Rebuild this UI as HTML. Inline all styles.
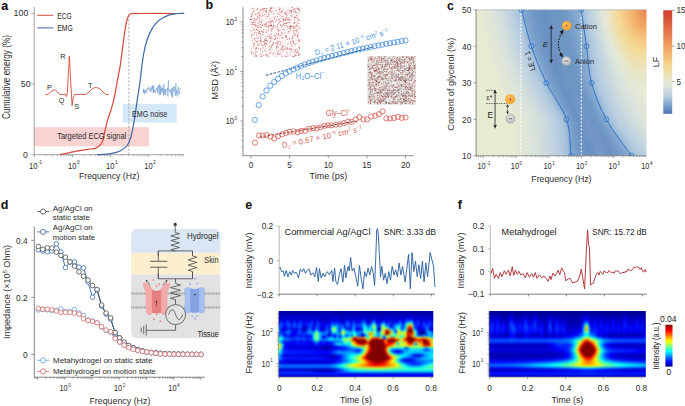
<!DOCTYPE html><html><head><meta charset="utf-8"><style>html,body{margin:0;padding:0;background:#fff;overflow:hidden}svg{display:block}text{font-family:"Liberation Sans", sans-serif}</style></head><body><svg width="685" height="406" viewBox="0 0 685 406">
<defs><clipPath id="clipc"><rect x="476.1" y="9.8" width="170.40" height="146.00"/></clipPath><filter id="blurc" x="-5%" y="-5%" width="110%" height="110%" color-interpolation-filters="sRGB"><feGaussianBlur stdDeviation="1.6"/></filter><linearGradient id="cbc" x1="0" y1="0" x2="0" y2="1"><stop offset="0.000" stop-color="#cf3b2c"/><stop offset="0.180" stop-color="#e3704a"/><stop offset="0.380" stop-color="#f2a964"/><stop offset="0.550" stop-color="#f4da96"/><stop offset="0.690" stop-color="#e6e9d4"/><stop offset="0.750" stop-color="#d9e2dd"/><stop offset="0.830" stop-color="#b6cde0"/><stop offset="0.920" stop-color="#7aa0cb"/><stop offset="1.000" stop-color="#4a72b0"/></linearGradient><radialGradient id="gor" cx="0.45" cy="0.4" r="0.6"><stop offset="0" stop-color="#ffd27a"/><stop offset="1" stop-color="#f39a1c"/></radialGradient><radialGradient id="ggr" cx="0.45" cy="0.4" r="0.6"><stop offset="0" stop-color="#ececec"/><stop offset="1" stop-color="#b4b4b4"/></radialGradient><clipPath id="insclip"><rect x="131.1" y="228.7" width="89.4" height="109.80000000000001" rx="6" ry="6"/></clipPath><clipPath id="clipwe"><rect x="278.6" y="311" width="154.70" height="66.10"/></clipPath><filter id="blurwe" x="-5%" y="-5%" width="110%" height="110%" color-interpolation-filters="sRGB"><feGaussianBlur stdDeviation="0.9"/></filter><clipPath id="clipwf"><rect x="489" y="311" width="156.80" height="66.10"/></clipPath><filter id="blurwf" x="-5%" y="-5%" width="110%" height="110%" color-interpolation-filters="sRGB"><feGaussianBlur stdDeviation="0.9"/></filter><linearGradient id="cbj" x1="0" y1="0" x2="0" y2="1"><stop offset="0.000" stop-color="#800000"/><stop offset="0.140" stop-color="#ff0000"/><stop offset="0.390" stop-color="#ffff00"/><stop offset="0.640" stop-color="#00ffff"/><stop offset="0.890" stop-color="#0000ff"/><stop offset="1.000" stop-color="#00008f"/></linearGradient></defs>
<rect width="685" height="406" fill="#fff"/>
<text x="1.20" y="10.00" font-size="12.5" text-anchor="start" fill="#000" font-weight="bold">a</text>
<rect x="34.20" y="127.20" width="114.80" height="19.10" fill="#f8d3d2"/>
<rect x="122.80" y="103.80" width="53.80" height="18.70" fill="#d5e8f7"/>
<line x1="128.90" y1="19.50" x2="128.90" y2="154.70" stroke="#a0a0a0" stroke-width="0.9" stroke-dasharray="2.2,1.6"/>
<line x1="34.20" y1="7.00" x2="34.20" y2="155.10" stroke="#8c8c8c" stroke-width="0.8"/>
<line x1="34.20" y1="154.70" x2="184.00" y2="154.70" stroke="#8c8c8c" stroke-width="0.8"/>
<line x1="31.20" y1="154.70" x2="34.20" y2="154.70" stroke="#8c8c8c" stroke-width="0.7"/>
<line x1="31.20" y1="84.15" x2="34.20" y2="84.15" stroke="#8c8c8c" stroke-width="0.7"/>
<line x1="31.20" y1="13.60" x2="34.20" y2="13.60" stroke="#8c8c8c" stroke-width="0.7"/>
<text x="28.30" y="16.37" font-size="8.8" text-anchor="end" fill="#2e2e2e">100</text>
<text x="30.60" y="87.17" font-size="8.8" text-anchor="end" fill="#2e2e2e">50</text>
<text x="28.00" y="158.07" font-size="8.8" text-anchor="end" fill="#2e2e2e">0</text>
<line x1="34.40" y1="154.70" x2="34.40" y2="157.20" stroke="#8c8c8c" stroke-width="0.7"/>
<line x1="45.87" y1="154.70" x2="45.87" y2="156.20" stroke="#8c8c8c" stroke-width="0.7"/>
<line x1="52.58" y1="154.70" x2="52.58" y2="156.20" stroke="#8c8c8c" stroke-width="0.7"/>
<line x1="57.34" y1="154.70" x2="57.34" y2="156.20" stroke="#8c8c8c" stroke-width="0.7"/>
<line x1="61.03" y1="154.70" x2="61.03" y2="156.20" stroke="#8c8c8c" stroke-width="0.7"/>
<line x1="64.05" y1="154.70" x2="64.05" y2="156.20" stroke="#8c8c8c" stroke-width="0.7"/>
<line x1="66.60" y1="154.70" x2="66.60" y2="156.20" stroke="#8c8c8c" stroke-width="0.7"/>
<line x1="68.81" y1="154.70" x2="68.81" y2="156.20" stroke="#8c8c8c" stroke-width="0.7"/>
<line x1="70.76" y1="154.70" x2="70.76" y2="156.20" stroke="#8c8c8c" stroke-width="0.7"/>
<line x1="72.50" y1="154.70" x2="72.50" y2="157.20" stroke="#8c8c8c" stroke-width="0.7"/>
<line x1="83.97" y1="154.70" x2="83.97" y2="156.20" stroke="#8c8c8c" stroke-width="0.7"/>
<line x1="90.68" y1="154.70" x2="90.68" y2="156.20" stroke="#8c8c8c" stroke-width="0.7"/>
<line x1="95.44" y1="154.70" x2="95.44" y2="156.20" stroke="#8c8c8c" stroke-width="0.7"/>
<line x1="99.13" y1="154.70" x2="99.13" y2="156.20" stroke="#8c8c8c" stroke-width="0.7"/>
<line x1="102.15" y1="154.70" x2="102.15" y2="156.20" stroke="#8c8c8c" stroke-width="0.7"/>
<line x1="104.70" y1="154.70" x2="104.70" y2="156.20" stroke="#8c8c8c" stroke-width="0.7"/>
<line x1="106.91" y1="154.70" x2="106.91" y2="156.20" stroke="#8c8c8c" stroke-width="0.7"/>
<line x1="108.86" y1="154.70" x2="108.86" y2="156.20" stroke="#8c8c8c" stroke-width="0.7"/>
<line x1="110.60" y1="154.70" x2="110.60" y2="157.20" stroke="#8c8c8c" stroke-width="0.7"/>
<line x1="122.07" y1="154.70" x2="122.07" y2="156.20" stroke="#8c8c8c" stroke-width="0.7"/>
<line x1="128.78" y1="154.70" x2="128.78" y2="156.20" stroke="#8c8c8c" stroke-width="0.7"/>
<line x1="133.54" y1="154.70" x2="133.54" y2="156.20" stroke="#8c8c8c" stroke-width="0.7"/>
<line x1="137.23" y1="154.70" x2="137.23" y2="156.20" stroke="#8c8c8c" stroke-width="0.7"/>
<line x1="140.25" y1="154.70" x2="140.25" y2="156.20" stroke="#8c8c8c" stroke-width="0.7"/>
<line x1="142.80" y1="154.70" x2="142.80" y2="156.20" stroke="#8c8c8c" stroke-width="0.7"/>
<line x1="145.01" y1="154.70" x2="145.01" y2="156.20" stroke="#8c8c8c" stroke-width="0.7"/>
<line x1="146.96" y1="154.70" x2="146.96" y2="156.20" stroke="#8c8c8c" stroke-width="0.7"/>
<line x1="148.70" y1="154.70" x2="148.70" y2="157.20" stroke="#8c8c8c" stroke-width="0.7"/>
<line x1="160.17" y1="154.70" x2="160.17" y2="156.20" stroke="#8c8c8c" stroke-width="0.7"/>
<line x1="166.88" y1="154.70" x2="166.88" y2="156.20" stroke="#8c8c8c" stroke-width="0.7"/>
<line x1="171.64" y1="154.70" x2="171.64" y2="156.20" stroke="#8c8c8c" stroke-width="0.7"/>
<line x1="175.33" y1="154.70" x2="175.33" y2="156.20" stroke="#8c8c8c" stroke-width="0.7"/>
<line x1="178.35" y1="154.70" x2="178.35" y2="156.20" stroke="#8c8c8c" stroke-width="0.7"/>
<line x1="180.90" y1="154.70" x2="180.90" y2="156.20" stroke="#8c8c8c" stroke-width="0.7"/>
<line x1="183.11" y1="154.70" x2="183.11" y2="156.20" stroke="#8c8c8c" stroke-width="0.7"/>
<text x="29.11" y="168.77" font-size="8.8" fill="#2e2e2e" textLength="8.42" lengthAdjust="spacingAndGlyphs">10</text>
<text x="38.02" y="164.37" font-size="5.46" fill="#2e2e2e" textLength="4.17" lengthAdjust="spacingAndGlyphs">-1</text>
<text x="67.99" y="168.77" font-size="8.8" fill="#2e2e2e" textLength="8.42" lengthAdjust="spacingAndGlyphs">10</text>
<text x="76.90" y="164.37" font-size="5.46" fill="#2e2e2e" textLength="2.61" lengthAdjust="spacingAndGlyphs">0</text>
<text x="106.09" y="168.77" font-size="8.8" fill="#2e2e2e" textLength="8.42" lengthAdjust="spacingAndGlyphs">10</text>
<text x="115.00" y="164.37" font-size="5.46" fill="#2e2e2e" textLength="2.61" lengthAdjust="spacingAndGlyphs">1</text>
<text x="144.19" y="168.77" font-size="8.8" fill="#2e2e2e" textLength="8.42" lengthAdjust="spacingAndGlyphs">10</text>
<text x="153.10" y="164.37" font-size="5.46" fill="#2e2e2e" textLength="2.61" lengthAdjust="spacingAndGlyphs">2</text>
<text x="109.20" y="179.21" font-size="9.2" text-anchor="middle" fill="#2e2e2e" textLength="60.50" lengthAdjust="spacingAndGlyphs">Frequency (Hz)</text>
<text x="5.90" y="80.50" font-size="10.0" text-anchor="middle" fill="#2e2e2e" textLength="84.00" lengthAdjust="spacingAndGlyphs" transform="rotate(-90 5.90 76.90)">Cumulative energy (%)</text>
<path d="M60.20,154.70 C61.83,154.35 66.77,153.28 70.00,152.60 C73.23,151.92 76.27,151.20 79.60,150.60 C82.93,150.00 87.43,149.38 90.00,149.00 C92.57,148.62 93.35,148.93 95.00,148.30 C96.65,147.67 98.58,146.50 99.90,145.20 C101.22,143.90 102.08,142.78 102.90,140.50 C103.72,138.22 103.98,135.02 104.80,131.50 C105.62,127.98 106.65,123.38 107.80,119.40 C108.95,115.42 110.55,111.55 111.70,107.60 C112.85,103.65 113.73,100.30 114.70,95.70 C115.67,91.10 116.62,84.80 117.50,80.00 C118.38,75.20 119.15,72.25 120.00,66.90 C120.85,61.55 121.73,54.22 122.60,47.90 C123.47,41.58 124.48,33.60 125.20,29.00 C125.92,24.40 126.23,22.67 126.90,20.30 C127.57,17.93 128.35,15.92 129.20,14.80 C130.05,13.68 130.20,13.82 132.00,13.60 C133.80,13.38 132.83,13.52 140.00,13.50 C147.17,13.48 169.17,13.50 175.00,13.50" fill="none" stroke="#d64b3c" stroke-width="1.25" stroke-linejoin="round" stroke-linecap="round"/>
<path d="M97.60,154.70 C99.78,154.52 106.87,154.27 110.70,153.60 C114.53,152.93 117.80,152.13 120.60,150.70 C123.40,149.27 125.70,147.60 127.50,145.00 C129.30,142.40 130.25,139.37 131.40,135.10 C132.55,130.83 133.42,125.30 134.40,119.40 C135.38,113.50 136.32,106.27 137.30,99.70 C138.28,93.13 139.62,84.95 140.30,80.00 C140.98,75.05 140.82,74.50 141.40,70.00 C141.98,65.50 142.87,57.97 143.80,53.00 C144.73,48.03 145.80,43.93 147.00,40.20 C148.20,36.47 149.40,33.53 151.00,30.60 C152.60,27.67 154.60,24.73 156.60,22.60 C158.60,20.47 160.73,19.13 163.00,17.80 C165.27,16.47 167.93,15.32 170.20,14.60 C172.47,13.88 174.33,13.72 176.60,13.50 C178.87,13.28 182.60,13.33 183.80,13.30" fill="none" stroke="#4468a6" stroke-width="1.25" stroke-linejoin="round" stroke-linecap="round"/>
<line x1="37.20" y1="15.30" x2="53.20" y2="15.30" stroke="#d64b3c" stroke-width="1.0"/>
<text x="57.20" y="18.60" font-size="8.6" text-anchor="start" fill="#2a2a2a" textLength="14.60" lengthAdjust="spacingAndGlyphs">ECG</text>
<line x1="37.20" y1="27.90" x2="53.20" y2="27.90" stroke="#4468a6" stroke-width="1.0"/>
<text x="57.20" y="31.20" font-size="8.6" text-anchor="start" fill="#2a2a2a" textLength="15.50" lengthAdjust="spacingAndGlyphs">EMG</text>
<polyline points="45.30,94.40 48.00,94.40 50.50,92.20 53.00,90.30 55.30,90.00 57.50,92.00 59.30,94.40 65.20,94.40 66.30,96.60 67.30,93.00 69.30,56.10 72.10,105.80 73.20,98.00 74.40,94.40 85.80,94.40 89.00,92.00 93.00,88.20 96.50,87.40 100.00,88.80 103.00,92.00 105.70,94.40 108.70,94.40" fill="none" stroke="#d64b3c" stroke-width="0.9" stroke-linejoin="round"/>
<text x="62.80" y="59.48" font-size="8" text-anchor="middle" fill="#2a2a2a" textLength="5.20" lengthAdjust="spacingAndGlyphs">R</text>
<text x="49.40" y="89.98" font-size="8" text-anchor="middle" fill="#2a2a2a" textLength="4.80" lengthAdjust="spacingAndGlyphs">P</text>
<text x="61.60" y="103.38" font-size="8" text-anchor="middle" fill="#2a2a2a" textLength="5.60" lengthAdjust="spacingAndGlyphs">Q</text>
<text x="76.70" y="108.88" font-size="8" text-anchor="middle" fill="#2a2a2a" textLength="4.80" lengthAdjust="spacingAndGlyphs">S</text>
<text x="90.10" y="87.88" font-size="8" text-anchor="middle" fill="#2a2a2a" textLength="4.40" lengthAdjust="spacingAndGlyphs">T</text>
<text x="57.20" y="139.47" font-size="8.8" text-anchor="start" fill="#2a2a2a" textLength="69.10" lengthAdjust="spacingAndGlyphs">Targeted ECG signal</text>
<text x="132.00" y="116.87" font-size="8.8" text-anchor="start" fill="#2a2a2a" textLength="35.30" lengthAdjust="spacingAndGlyphs">EMG noise</text>
<polyline points="143.00,90.68 143.31,92.92 143.62,88.69 143.93,92.44 144.24,89.99 144.55,89.98 144.87,94.29 145.18,90.82 145.49,90.41 145.80,91.98 146.11,92.80 146.42,90.44 146.73,91.71 147.04,88.48 147.35,89.74 147.66,89.58 147.97,87.69 148.28,87.30 148.59,87.03 148.91,89.99 149.22,90.13 149.53,89.81 149.84,90.65 150.15,87.58 150.46,90.33 150.77,91.03 151.08,92.17 151.39,88.61 151.70,89.60 152.01,85.95 152.33,89.36 152.64,85.49 152.95,87.25 153.26,93.04 153.57,85.40 153.88,92.36 154.19,91.27 154.50,89.77 154.81,91.58 155.12,91.75 155.43,92.99 155.74,89.95 156.06,89.07 156.37,89.04 156.68,88.10 156.99,90.39 157.30,88.57 157.61,93.13 157.92,85.87 158.23,87.78 158.54,88.12 158.85,85.25 159.16,95.30 159.47,84.40 159.78,89.78 160.10,89.16 160.41,94.75 160.72,85.38 161.03,93.28 161.34,88.60 161.65,90.09 161.96,88.74 162.27,92.19 162.58,87.49 162.89,90.29 163.20,91.44 163.52,95.43 163.83,84.02 164.14,94.62 164.45,93.07 164.76,89.18 165.07,91.34 165.38,89.22 165.69,95.05 166.00,91.08 166.31,89.90 166.62,89.86 166.93,89.94 167.25,90.00 167.56,88.01 167.87,96.35 168.18,85.05 168.49,80.17 168.80,90.15 169.11,90.08 169.42,91.58 169.73,89.90 170.04,90.07 170.35,91.47 170.66,93.35 170.98,89.18 171.29,89.39 171.60,96.28 171.91,92.09 172.22,87.54 172.53,97.50 172.84,92.85 173.15,88.71 173.46,86.92 173.77,91.41 174.08,87.94 174.39,87.24 174.71,86.49 175.02,87.99 175.33,95.98 175.64,88.35 175.95,83.33 176.26,93.81 176.57,90.83 176.88,94.68 177.19,96.45 177.50,89.66 177.81,90.04 178.12,90.35 178.44,86.83 178.75,92.67 179.06,94.97 179.37,91.07 179.68,89.72 179.99,89.65 180.30,87.92" fill="none" stroke="#6a9bd3" stroke-width="0.55" stroke-linejoin="round"/>
<text x="205.60" y="9.20" font-size="12.5" text-anchor="start" fill="#111" font-weight="bold">b</text>
<rect x="250.00" y="7.00" width="50.20" height="50.20" fill="#fdf8f8"/>
<path fill="#e4a09e" d="M277.6 52.6h0.9v0.9h-0.9zM275.0 36.0h0.9v0.9h-0.9zM254.6 22.0h0.9v0.9h-0.9zM280.3 14.8h0.9v0.9h-0.9zM271.7 48.5h0.9v0.9h-0.9zM281.6 31.6h0.9v0.9h-0.9zM272.5 20.7h0.9v0.9h-0.9zM265.5 18.3h0.9v0.9h-0.9zM291.7 26.1h0.9v0.9h-0.9zM288.4 20.3h0.9v0.9h-0.9zM255.8 19.1h0.9v0.9h-0.9zM255.7 27.7h0.9v0.9h-0.9zM265.0 50.6h0.9v0.9h-0.9zM254.9 55.8h0.9v0.9h-0.9zM268.3 29.3h0.9v0.9h-0.9zM270.8 12.1h0.9v0.9h-0.9zM262.7 47.6h0.9v0.9h-0.9zM264.5 15.6h0.9v0.9h-0.9zM253.4 18.3h0.9v0.9h-0.9zM292.0 37.3h0.9v0.9h-0.9zM256.5 24.9h0.9v0.9h-0.9zM278.8 13.9h0.9v0.9h-0.9zM297.5 8.0h0.9v0.9h-0.9zM273.8 43.0h0.9v0.9h-0.9zM286.3 51.4h0.9v0.9h-0.9zM284.7 46.1h0.9v0.9h-0.9zM292.6 35.2h0.9v0.9h-0.9zM268.8 35.7h0.9v0.9h-0.9zM254.0 38.5h0.9v0.9h-0.9zM286.2 35.6h0.9v0.9h-0.9zM291.3 11.1h0.9v0.9h-0.9zM251.5 36.6h0.9v0.9h-0.9zM261.3 41.4h0.9v0.9h-0.9zM280.3 52.4h0.9v0.9h-0.9zM260.0 15.4h0.9v0.9h-0.9zM265.6 13.7h0.9v0.9h-0.9zM291.3 48.8h0.9v0.9h-0.9zM296.8 20.6h0.9v0.9h-0.9zM265.5 48.4h0.9v0.9h-0.9zM278.1 22.2h0.9v0.9h-0.9zM250.9 13.7h0.9v0.9h-0.9zM251.2 47.9h0.9v0.9h-0.9zM272.0 38.1h0.9v0.9h-0.9zM289.8 54.3h0.9v0.9h-0.9zM259.8 30.4h0.9v0.9h-0.9zM258.8 20.4h0.9v0.9h-0.9zM287.3 26.4h0.9v0.9h-0.9zM294.7 11.3h0.9v0.9h-0.9zM280.8 51.9h0.9v0.9h-0.9zM296.6 29.9h0.9v0.9h-0.9zM260.1 42.6h0.9v0.9h-0.9zM281.6 42.4h0.9v0.9h-0.9zM287.9 31.0h0.9v0.9h-0.9zM258.5 23.5h0.9v0.9h-0.9zM256.9 14.3h0.9v0.9h-0.9zM285.7 48.4h0.9v0.9h-0.9zM296.6 31.3h0.9v0.9h-0.9zM264.3 42.9h0.9v0.9h-0.9zM275.8 48.6h0.9v0.9h-0.9zM265.4 25.8h0.9v0.9h-0.9zM294.4 17.3h0.9v0.9h-0.9zM297.7 32.8h0.9v0.9h-0.9zM259.9 33.4h0.9v0.9h-0.9zM279.8 8.4h0.9v0.9h-0.9zM277.7 31.2h0.9v0.9h-0.9zM253.2 33.6h0.9v0.9h-0.9zM297.2 52.5h0.9v0.9h-0.9zM290.2 51.4h0.9v0.9h-0.9zM265.6 16.4h0.9v0.9h-0.9zM295.6 13.4h0.9v0.9h-0.9zM251.1 16.6h0.9v0.9h-0.9zM256.1 32.2h0.9v0.9h-0.9zM268.5 27.4h0.9v0.9h-0.9zM257.9 17.1h0.9v0.9h-0.9zM281.5 33.1h0.9v0.9h-0.9zM280.2 49.2h0.9v0.9h-0.9zM262.8 11.8h0.9v0.9h-0.9zM270.8 45.9h0.9v0.9h-0.9zM287.4 31.8h0.9v0.9h-0.9zM259.3 10.5h0.9v0.9h-0.9zM278.0 14.2h0.9v0.9h-0.9zM266.1 30.0h0.9v0.9h-0.9zM271.2 36.6h0.9v0.9h-0.9zM259.6 15.1h0.9v0.9h-0.9zM250.8 51.0h0.9v0.9h-0.9zM284.7 49.4h0.9v0.9h-0.9zM269.9 36.6h0.9v0.9h-0.9zM298.4 46.7h0.9v0.9h-0.9zM290.2 27.0h0.9v0.9h-0.9zM287.7 27.0h0.9v0.9h-0.9zM253.5 23.8h0.9v0.9h-0.9zM250.5 24.5h0.9v0.9h-0.9zM280.8 18.4h0.9v0.9h-0.9zM278.1 33.3h0.9v0.9h-0.9zM299.3 38.7h0.9v0.9h-0.9zM287.6 55.3h0.9v0.9h-0.9zM297.7 35.0h0.9v0.9h-0.9zM258.3 31.4h0.9v0.9h-0.9zM252.9 53.6h0.9v0.9h-0.9zM276.0 36.5h0.9v0.9h-0.9zM264.0 42.3h0.9v0.9h-0.9zM294.2 43.9h0.9v0.9h-0.9zM298.0 19.0h0.9v0.9h-0.9zM296.2 42.6h0.9v0.9h-0.9zM298.3 47.3h0.9v0.9h-0.9zM255.7 37.8h0.9v0.9h-0.9zM260.0 9.6h0.9v0.9h-0.9zM256.1 28.8h0.9v0.9h-0.9zM272.5 19.9h0.9v0.9h-0.9zM270.7 45.4h0.9v0.9h-0.9zM299.2 54.0h0.9v0.9h-0.9zM261.8 12.6h0.9v0.9h-0.9zM279.2 38.2h0.9v0.9h-0.9zM259.4 19.3h0.9v0.9h-0.9zM280.7 12.1h0.9v0.9h-0.9zM253.6 11.3h0.9v0.9h-0.9zM277.1 38.1h0.9v0.9h-0.9zM287.9 17.5h0.9v0.9h-0.9zM262.7 46.9h0.9v0.9h-0.9zM264.7 45.2h0.9v0.9h-0.9zM263.9 14.0h0.9v0.9h-0.9zM289.6 22.0h0.9v0.9h-0.9zM259.6 34.8h0.9v0.9h-0.9zM276.6 48.2h0.9v0.9h-0.9zM258.7 44.4h0.9v0.9h-0.9zM276.8 35.0h0.9v0.9h-0.9zM287.7 26.4h0.9v0.9h-0.9zM276.5 42.5h0.9v0.9h-0.9zM295.1 27.2h0.9v0.9h-0.9zM282.9 49.1h0.9v0.9h-0.9zM291.1 50.8h0.9v0.9h-0.9zM289.6 27.8h0.9v0.9h-0.9zM257.2 43.5h0.9v0.9h-0.9zM294.8 8.8h0.9v0.9h-0.9zM290.3 30.6h0.9v0.9h-0.9zM260.9 9.5h0.9v0.9h-0.9zM275.4 20.5h0.9v0.9h-0.9zM285.2 36.9h0.9v0.9h-0.9zM299.0 20.1h0.9v0.9h-0.9zM257.4 45.0h0.9v0.9h-0.9zM254.1 20.3h0.9v0.9h-0.9zM254.8 30.7h0.9v0.9h-0.9zM297.1 35.9h0.9v0.9h-0.9zM265.0 45.9h0.9v0.9h-0.9zM295.2 11.5h0.9v0.9h-0.9zM260.3 33.8h0.9v0.9h-0.9zM257.8 48.0h0.9v0.9h-0.9zM272.8 54.7h0.9v0.9h-0.9zM282.2 7.6h0.9v0.9h-0.9zM272.6 7.5h0.9v0.9h-0.9zM264.3 25.5h0.9v0.9h-0.9zM264.7 23.6h0.9v0.9h-0.9zM282.9 19.6h0.9v0.9h-0.9zM258.9 26.8h0.9v0.9h-0.9zM279.2 11.4h0.9v0.9h-0.9zM253.6 52.4h0.9v0.9h-0.9zM275.2 38.9h0.9v0.9h-0.9zM290.5 26.0h0.9v0.9h-0.9zM284.5 55.4h0.9v0.9h-0.9zM282.5 37.0h0.9v0.9h-0.9zM255.2 25.6h0.9v0.9h-0.9zM288.9 47.7h0.9v0.9h-0.9zM257.8 44.8h0.9v0.9h-0.9zM257.0 42.2h0.9v0.9h-0.9zM259.7 53.6h0.9v0.9h-0.9zM259.8 11.1h0.9v0.9h-0.9zM256.1 55.0h0.9v0.9h-0.9zM277.6 20.0h0.9v0.9h-0.9zM256.0 47.7h0.9v0.9h-0.9zM291.0 16.1h0.9v0.9h-0.9zM253.8 8.6h0.9v0.9h-0.9zM265.2 40.1h0.9v0.9h-0.9zM268.8 36.2h0.9v0.9h-0.9zM250.8 16.8h0.9v0.9h-0.9zM257.0 26.0h0.9v0.9h-0.9zM258.6 32.6h0.9v0.9h-0.9zM251.9 40.1h0.9v0.9h-0.9zM270.3 37.8h0.9v0.9h-0.9zM287.4 44.1h0.9v0.9h-0.9zM299.0 48.3h0.9v0.9h-0.9zM270.2 28.4h0.9v0.9h-0.9zM294.6 32.9h0.9v0.9h-0.9zM271.3 51.6h0.9v0.9h-0.9zM265.0 36.3h0.9v0.9h-0.9zM269.6 9.6h0.9v0.9h-0.9zM275.9 18.8h0.9v0.9h-0.9zM292.7 27.8h0.9v0.9h-0.9zM260.9 43.8h0.9v0.9h-0.9zM294.5 11.9h0.9v0.9h-0.9zM256.1 33.5h0.9v0.9h-0.9zM296.0 55.2h0.9v0.9h-0.9zM260.2 21.6h0.9v0.9h-0.9zM267.5 30.3h0.9v0.9h-0.9zM265.4 51.4h0.9v0.9h-0.9zM296.2 28.9h0.9v0.9h-0.9zM259.7 15.9h0.9v0.9h-0.9zM261.3 21.8h0.9v0.9h-0.9zM254.4 55.5h0.9v0.9h-0.9zM276.0 33.2h0.9v0.9h-0.9zM287.0 26.0h0.9v0.9h-0.9zM281.8 24.7h0.9v0.9h-0.9zM288.6 32.5h0.9v0.9h-0.9zM291.7 40.7h0.9v0.9h-0.9zM296.9 15.6h0.9v0.9h-0.9zM258.1 37.0h0.9v0.9h-0.9zM289.0 18.6h0.9v0.9h-0.9zM260.9 35.6h0.9v0.9h-0.9zM251.7 36.4h0.9v0.9h-0.9zM278.2 50.0h0.9v0.9h-0.9zM271.4 28.8h0.9v0.9h-0.9zM261.7 14.2h0.9v0.9h-0.9zM275.9 20.1h0.9v0.9h-0.9zM254.4 47.5h0.9v0.9h-0.9zM291.0 45.8h0.9v0.9h-0.9zM287.5 55.6h0.9v0.9h-0.9zM253.8 8.7h0.9v0.9h-0.9zM252.0 26.9h0.9v0.9h-0.9zM252.9 23.9h0.9v0.9h-0.9zM292.6 36.1h0.9v0.9h-0.9zM268.8 45.5h0.9v0.9h-0.9zM258.1 17.0h0.9v0.9h-0.9zM299.0 40.5h0.9v0.9h-0.9zM260.1 25.9h0.9v0.9h-0.9zM263.2 24.8h0.9v0.9h-0.9zM285.7 51.7h0.9v0.9h-0.9zM275.6 9.7h0.9v0.9h-0.9zM261.7 9.0h0.9v0.9h-0.9zM282.8 14.3h0.9v0.9h-0.9zM269.1 49.7h0.9v0.9h-0.9zM277.9 46.9h0.9v0.9h-0.9zM297.1 49.8h0.9v0.9h-0.9zM269.3 10.0h0.9v0.9h-0.9zM258.2 39.8h0.9v0.9h-0.9zM257.4 35.7h0.9v0.9h-0.9zM277.3 41.5h0.9v0.9h-0.9zM278.9 30.1h0.9v0.9h-0.9zM280.3 54.1h0.9v0.9h-0.9zM280.9 37.6h0.9v0.9h-0.9zM270.5 20.6h0.9v0.9h-0.9zM293.4 25.8h0.9v0.9h-0.9zM265.2 24.8h0.9v0.9h-0.9zM280.8 34.6h0.9v0.9h-0.9zM297.8 23.4h0.9v0.9h-0.9zM284.3 40.8h0.9v0.9h-0.9zM274.2 34.8h0.9v0.9h-0.9zM261.7 19.3h0.9v0.9h-0.9zM288.1 30.7h0.9v0.9h-0.9zM269.3 42.3h0.9v0.9h-0.9zM278.0 27.7h0.9v0.9h-0.9zM280.7 48.0h0.9v0.9h-0.9zM256.2 25.6h0.9v0.9h-0.9zM261.4 16.1h0.9v0.9h-0.9zM281.1 26.6h0.9v0.9h-0.9zM255.8 9.1h0.9v0.9h-0.9zM273.8 25.4h0.9v0.9h-0.9zM298.4 26.2h0.9v0.9h-0.9zM276.9 46.4h0.9v0.9h-0.9zM257.1 37.8h0.9v0.9h-0.9zM270.4 46.8h0.9v0.9h-0.9zM252.8 34.1h0.9v0.9h-0.9zM280.7 20.7h0.9v0.9h-0.9zM291.1 42.7h0.9v0.9h-0.9zM265.3 32.4h0.9v0.9h-0.9zM286.3 26.7h0.9v0.9h-0.9zM290.8 44.8h0.9v0.9h-0.9zM284.8 19.3h0.9v0.9h-0.9zM290.0 25.0h0.9v0.9h-0.9zM267.5 20.8h0.9v0.9h-0.9zM276.9 40.5h0.9v0.9h-0.9zM269.9 22.8h0.9v0.9h-0.9zM296.9 17.1h0.9v0.9h-0.9zM258.8 20.5h0.9v0.9h-0.9zM296.7 22.9h0.9v0.9h-0.9zM260.5 37.4h0.9v0.9h-0.9zM278.0 12.6h0.9v0.9h-0.9zM284.0 29.3h0.9v0.9h-0.9zM270.7 26.0h0.9v0.9h-0.9zM251.6 37.9h0.9v0.9h-0.9zM279.3 36.3h0.9v0.9h-0.9zM298.8 26.8h0.9v0.9h-0.9zM261.5 48.4h0.9v0.9h-0.9zM296.2 47.9h0.9v0.9h-0.9zM275.2 56.0h0.9v0.9h-0.9zM292.7 16.7h0.9v0.9h-0.9zM288.8 31.2h0.9v0.9h-0.9zM277.1 51.7h0.9v0.9h-0.9zM257.5 25.0h0.9v0.9h-0.9zM291.1 12.8h0.9v0.9h-0.9zM294.5 10.5h0.9v0.9h-0.9zM271.2 7.8h0.9v0.9h-0.9zM256.4 12.7h0.9v0.9h-0.9zM267.8 22.3h0.9v0.9h-0.9zM257.2 38.1h0.9v0.9h-0.9zM290.4 27.2h0.9v0.9h-0.9zM275.0 53.4h0.9v0.9h-0.9zM264.0 50.0h0.9v0.9h-0.9zM296.0 26.1h0.9v0.9h-0.9zM279.6 29.1h0.9v0.9h-0.9zM297.1 21.4h0.9v0.9h-0.9zM283.1 19.1h0.9v0.9h-0.9zM256.5 51.1h0.9v0.9h-0.9zM291.9 36.1h0.9v0.9h-0.9zM254.9 51.2h0.9v0.9h-0.9zM283.0 24.0h0.9v0.9h-0.9zM273.1 24.8h0.9v0.9h-0.9zM265.6 40.1h0.9v0.9h-0.9zM297.8 55.1h0.9v0.9h-0.9zM284.6 56.2h0.9v0.9h-0.9zM260.8 55.8h0.9v0.9h-0.9zM286.6 11.1h0.9v0.9h-0.9zM262.5 47.0h0.9v0.9h-0.9zM288.3 12.9h0.9v0.9h-0.9zM250.8 49.4h0.9v0.9h-0.9zM256.1 35.0h0.9v0.9h-0.9zM252.7 17.7h0.9v0.9h-0.9zM277.5 29.6h0.9v0.9h-0.9zM255.1 48.9h0.9v0.9h-0.9zM280.2 49.6h0.9v0.9h-0.9zM257.7 33.2h0.9v0.9h-0.9zM294.6 26.4h0.9v0.9h-0.9zM277.0 26.7h0.9v0.9h-0.9zM274.0 7.4h0.9v0.9h-0.9zM297.6 7.3h0.9v0.9h-0.9zM297.4 25.0h0.9v0.9h-0.9zM268.2 21.8h0.9v0.9h-0.9zM279.1 22.5h0.9v0.9h-0.9zM275.4 44.2h0.9v0.9h-0.9zM269.8 21.1h0.9v0.9h-0.9zM254.2 55.5h0.9v0.9h-0.9zM266.2 22.6h0.9v0.9h-0.9zM288.9 38.7h0.9v0.9h-0.9zM277.2 52.7h0.9v0.9h-0.9zM251.1 53.1h0.9v0.9h-0.9zM278.6 7.3h0.9v0.9h-0.9zM270.6 40.5h0.9v0.9h-0.9zM271.7 44.1h0.9v0.9h-0.9zM277.0 12.6h0.9v0.9h-0.9zM295.5 17.4h0.9v0.9h-0.9zM276.4 48.4h0.9v0.9h-0.9zM295.8 31.3h0.9v0.9h-0.9zM269.1 45.4h0.9v0.9h-0.9zM260.0 24.1h0.9v0.9h-0.9zM269.2 35.3h0.9v0.9h-0.9zM267.7 35.8h0.9v0.9h-0.9zM298.3 23.2h0.9v0.9h-0.9zM261.5 19.9h0.9v0.9h-0.9zM278.3 19.7h0.9v0.9h-0.9zM271.3 37.4h0.9v0.9h-0.9zM298.1 51.8h0.9v0.9h-0.9zM274.0 18.4h0.9v0.9h-0.9z"/>
<path fill="#cc5e5c" d="M275.2 38.1h0.9v0.9h-0.9zM289.9 41.2h0.9v0.9h-0.9zM298.4 54.6h0.9v0.9h-0.9zM276.0 9.9h0.9v0.9h-0.9zM261.9 8.5h0.9v0.9h-0.9zM253.5 44.8h0.9v0.9h-0.9zM294.9 30.2h0.9v0.9h-0.9zM266.4 54.5h0.9v0.9h-0.9zM253.0 46.3h0.9v0.9h-0.9zM277.6 29.1h0.9v0.9h-0.9zM286.1 13.5h0.9v0.9h-0.9zM263.3 54.9h0.9v0.9h-0.9zM269.4 49.1h0.9v0.9h-0.9zM262.7 45.1h0.9v0.9h-0.9zM264.6 10.6h0.9v0.9h-0.9zM278.7 19.0h0.9v0.9h-0.9zM286.5 53.4h0.9v0.9h-0.9zM296.8 50.5h0.9v0.9h-0.9zM297.5 18.8h0.9v0.9h-0.9zM295.2 17.1h0.9v0.9h-0.9zM263.3 29.0h0.9v0.9h-0.9zM258.7 25.2h0.9v0.9h-0.9zM250.9 51.9h0.9v0.9h-0.9zM299.3 10.7h0.9v0.9h-0.9zM250.6 21.8h0.9v0.9h-0.9zM271.2 46.7h0.9v0.9h-0.9zM272.2 20.6h0.9v0.9h-0.9zM270.4 37.8h0.9v0.9h-0.9zM293.0 9.0h0.9v0.9h-0.9zM256.9 9.3h0.9v0.9h-0.9zM250.5 30.3h0.9v0.9h-0.9zM284.4 32.7h0.9v0.9h-0.9zM278.0 50.4h0.9v0.9h-0.9zM294.4 55.3h0.9v0.9h-0.9zM294.9 49.2h0.9v0.9h-0.9zM254.1 28.7h0.9v0.9h-0.9zM289.9 10.2h0.9v0.9h-0.9zM273.3 13.3h0.9v0.9h-0.9zM283.9 22.9h0.9v0.9h-0.9zM280.6 12.2h0.9v0.9h-0.9zM259.7 33.1h0.9v0.9h-0.9zM286.5 47.0h0.9v0.9h-0.9zM269.9 40.8h0.9v0.9h-0.9zM259.9 40.6h0.9v0.9h-0.9zM251.8 34.2h0.9v0.9h-0.9zM260.1 48.4h0.9v0.9h-0.9zM296.9 29.8h0.9v0.9h-0.9zM284.6 48.6h0.9v0.9h-0.9zM272.4 43.4h0.9v0.9h-0.9zM294.9 43.7h0.9v0.9h-0.9zM280.3 43.4h0.9v0.9h-0.9zM269.8 9.5h0.9v0.9h-0.9zM268.5 11.9h0.9v0.9h-0.9zM294.6 34.1h0.9v0.9h-0.9zM279.5 44.4h0.9v0.9h-0.9zM295.9 14.9h0.9v0.9h-0.9zM264.1 39.3h0.9v0.9h-0.9zM250.7 19.1h0.9v0.9h-0.9zM257.7 44.2h0.9v0.9h-0.9zM298.7 53.6h0.9v0.9h-0.9zM294.6 28.2h0.9v0.9h-0.9zM263.4 40.8h0.9v0.9h-0.9zM253.0 20.4h0.9v0.9h-0.9zM273.6 17.4h0.9v0.9h-0.9zM286.7 48.3h0.9v0.9h-0.9zM255.9 46.9h0.9v0.9h-0.9zM282.2 55.8h0.9v0.9h-0.9zM277.0 43.8h0.9v0.9h-0.9zM293.1 10.9h0.9v0.9h-0.9zM277.8 30.9h0.9v0.9h-0.9zM260.5 39.6h0.9v0.9h-0.9zM265.0 42.7h0.9v0.9h-0.9zM285.8 25.1h0.9v0.9h-0.9zM285.0 35.1h0.9v0.9h-0.9zM269.7 53.1h0.9v0.9h-0.9zM267.9 26.5h0.9v0.9h-0.9zM277.0 45.9h0.9v0.9h-0.9zM254.0 43.3h0.9v0.9h-0.9zM286.8 39.0h0.9v0.9h-0.9zM260.9 44.7h0.9v0.9h-0.9zM297.7 40.1h0.9v0.9h-0.9zM270.9 21.4h0.9v0.9h-0.9zM281.9 45.3h0.9v0.9h-0.9zM253.1 29.6h0.9v0.9h-0.9zM259.1 17.7h0.9v0.9h-0.9zM285.4 36.3h0.9v0.9h-0.9zM259.1 20.9h0.9v0.9h-0.9zM287.3 22.4h0.9v0.9h-0.9zM293.7 52.1h0.9v0.9h-0.9zM277.0 54.2h0.9v0.9h-0.9zM273.3 25.3h0.9v0.9h-0.9zM257.7 22.9h0.9v0.9h-0.9zM292.9 32.4h0.9v0.9h-0.9zM290.5 48.7h0.9v0.9h-0.9zM265.3 10.7h0.9v0.9h-0.9zM273.0 42.3h0.9v0.9h-0.9zM283.9 12.2h0.9v0.9h-0.9zM285.0 18.7h0.9v0.9h-0.9zM286.1 23.2h0.9v0.9h-0.9zM290.8 11.5h0.9v0.9h-0.9zM254.7 40.4h0.9v0.9h-0.9zM257.7 13.1h0.9v0.9h-0.9zM270.3 7.8h0.9v0.9h-0.9zM266.3 23.9h0.9v0.9h-0.9zM278.4 41.4h0.9v0.9h-0.9zM295.8 24.8h0.9v0.9h-0.9zM294.6 33.8h0.9v0.9h-0.9zM294.2 18.9h0.9v0.9h-0.9zM298.7 53.3h0.9v0.9h-0.9zM278.0 23.4h0.9v0.9h-0.9zM297.3 36.6h0.9v0.9h-0.9zM252.7 42.8h0.9v0.9h-0.9zM256.1 29.0h0.9v0.9h-0.9zM269.5 18.6h0.9v0.9h-0.9zM294.9 54.6h0.9v0.9h-0.9zM266.0 10.1h0.9v0.9h-0.9zM278.9 9.3h0.9v0.9h-0.9zM294.3 22.2h0.9v0.9h-0.9zM293.4 56.1h0.9v0.9h-0.9zM281.2 16.4h0.9v0.9h-0.9zM261.0 22.1h0.9v0.9h-0.9zM282.8 46.0h0.9v0.9h-0.9zM282.6 50.6h0.9v0.9h-0.9zM279.6 21.0h0.9v0.9h-0.9zM289.6 11.3h0.9v0.9h-0.9zM287.3 19.1h0.9v0.9h-0.9zM277.0 16.2h0.9v0.9h-0.9zM271.7 45.1h0.9v0.9h-0.9zM257.5 7.9h0.9v0.9h-0.9zM289.4 10.6h0.9v0.9h-0.9zM252.1 22.5h0.9v0.9h-0.9zM262.6 14.9h0.9v0.9h-0.9zM270.2 25.0h0.9v0.9h-0.9zM297.8 9.1h0.9v0.9h-0.9zM272.4 43.7h0.9v0.9h-0.9zM261.9 50.9h0.9v0.9h-0.9zM269.4 21.7h0.9v0.9h-0.9zM262.5 34.2h0.9v0.9h-0.9zM272.8 53.0h0.9v0.9h-0.9zM266.6 55.4h0.9v0.9h-0.9zM267.1 16.1h0.9v0.9h-0.9zM273.1 22.2h0.9v0.9h-0.9zM284.1 24.9h0.9v0.9h-0.9zM250.9 16.0h0.9v0.9h-0.9zM269.4 52.5h0.9v0.9h-0.9zM296.2 24.7h0.9v0.9h-0.9zM265.9 26.0h0.9v0.9h-0.9zM293.5 23.0h0.9v0.9h-0.9zM279.4 8.6h0.9v0.9h-0.9zM270.9 33.8h0.9v0.9h-0.9zM284.8 19.8h0.9v0.9h-0.9zM263.8 42.1h0.9v0.9h-0.9zM264.4 24.0h0.9v0.9h-0.9zM252.0 8.2h0.9v0.9h-0.9zM281.2 11.4h0.9v0.9h-0.9zM266.2 31.5h0.9v0.9h-0.9zM257.8 26.8h0.9v0.9h-0.9zM254.6 23.9h0.9v0.9h-0.9zM269.3 25.0h0.9v0.9h-0.9zM269.9 9.7h0.9v0.9h-0.9zM262.5 8.2h0.9v0.9h-0.9zM294.0 34.9h0.9v0.9h-0.9zM282.9 16.2h0.9v0.9h-0.9zM278.4 53.5h0.9v0.9h-0.9zM283.5 18.6h0.9v0.9h-0.9zM276.8 26.4h0.9v0.9h-0.9zM274.3 39.1h0.9v0.9h-0.9zM293.7 22.4h0.9v0.9h-0.9zM264.1 43.9h0.9v0.9h-0.9zM258.8 32.3h0.9v0.9h-0.9zM253.1 10.4h0.9v0.9h-0.9zM284.7 12.6h0.9v0.9h-0.9zM292.7 49.9h0.9v0.9h-0.9zM262.5 32.0h0.9v0.9h-0.9zM285.3 23.1h0.9v0.9h-0.9zM287.4 48.5h0.9v0.9h-0.9zM278.9 53.4h0.9v0.9h-0.9zM286.1 56.0h0.9v0.9h-0.9zM266.3 8.3h0.9v0.9h-0.9zM289.5 48.3h0.9v0.9h-0.9zM269.3 37.5h0.9v0.9h-0.9zM258.6 12.3h0.9v0.9h-0.9zM266.0 7.9h0.9v0.9h-0.9zM261.2 30.8h0.9v0.9h-0.9zM262.8 9.5h0.9v0.9h-0.9zM294.0 22.3h0.9v0.9h-0.9zM259.0 30.8h0.9v0.9h-0.9zM251.3 15.3h0.9v0.9h-0.9zM253.7 24.7h0.9v0.9h-0.9zM260.4 54.3h0.9v0.9h-0.9zM276.0 46.9h0.9v0.9h-0.9zM269.1 25.2h0.9v0.9h-0.9zM286.6 17.4h0.9v0.9h-0.9zM255.2 14.0h0.9v0.9h-0.9zM271.2 7.5h0.9v0.9h-0.9zM298.7 28.2h0.9v0.9h-0.9zM267.6 55.8h0.9v0.9h-0.9zM281.3 25.6h0.9v0.9h-0.9zM279.6 35.2h0.9v0.9h-0.9zM292.9 42.1h0.9v0.9h-0.9zM289.8 29.4h0.9v0.9h-0.9zM281.7 10.6h0.9v0.9h-0.9zM289.4 49.2h0.9v0.9h-0.9zM251.8 24.0h0.9v0.9h-0.9zM269.2 48.9h0.9v0.9h-0.9zM265.5 38.0h0.9v0.9h-0.9zM279.7 41.3h0.9v0.9h-0.9zM256.3 41.2h0.9v0.9h-0.9zM299.0 41.1h0.9v0.9h-0.9zM284.7 18.6h0.9v0.9h-0.9zM292.1 40.4h0.9v0.9h-0.9zM270.7 20.9h0.9v0.9h-0.9zM270.7 23.8h0.9v0.9h-0.9zM267.9 25.5h0.9v0.9h-0.9zM272.8 26.8h0.9v0.9h-0.9zM268.2 14.0h0.9v0.9h-0.9zM282.0 37.7h0.9v0.9h-0.9zM276.4 33.3h0.9v0.9h-0.9zM288.9 21.9h0.9v0.9h-0.9zM254.4 32.3h0.9v0.9h-0.9zM288.3 19.2h0.9v0.9h-0.9zM297.8 32.9h0.9v0.9h-0.9zM290.3 43.2h0.9v0.9h-0.9zM255.4 21.8h0.9v0.9h-0.9zM270.5 10.9h0.9v0.9h-0.9zM255.5 52.3h0.9v0.9h-0.9zM274.1 39.2h0.9v0.9h-0.9zM286.4 19.7h0.9v0.9h-0.9zM271.2 30.5h0.9v0.9h-0.9zM271.2 29.2h0.9v0.9h-0.9zM291.2 10.0h0.9v0.9h-0.9zM254.9 25.3h0.9v0.9h-0.9zM273.9 18.4h0.9v0.9h-0.9zM254.6 19.4h0.9v0.9h-0.9zM289.2 28.0h0.9v0.9h-0.9zM287.6 9.4h0.9v0.9h-0.9zM272.1 28.5h0.9v0.9h-0.9zM265.8 43.2h0.9v0.9h-0.9zM255.7 48.1h0.9v0.9h-0.9zM265.3 54.0h0.9v0.9h-0.9zM293.1 30.3h0.9v0.9h-0.9zM271.3 25.6h0.9v0.9h-0.9zM286.6 15.2h0.9v0.9h-0.9zM267.2 36.2h0.9v0.9h-0.9zM290.7 25.6h0.9v0.9h-0.9z"/>
<path fill="#80c080" d="M299.1 48.4h0.9v0.9h-0.9zM293.4 42.9h0.9v0.9h-0.9zM281.5 46.9h0.9v0.9h-0.9zM268.5 15.3h0.9v0.9h-0.9zM289.4 17.2h0.9v0.9h-0.9zM287.6 43.2h0.9v0.9h-0.9zM260.0 49.8h0.9v0.9h-0.9zM286.4 22.4h0.9v0.9h-0.9zM269.5 47.9h0.9v0.9h-0.9z"/>
<path fill="#b04846" d="M291.8 7.0h0.9v0.9h-0.9zM269.6 10.6h0.9v0.9h-0.9zM273.8 35.3h0.9v0.9h-0.9zM259.0 14.6h0.9v0.9h-0.9zM290.3 19.3h0.9v0.9h-0.9zM298.3 39.4h0.9v0.9h-0.9zM267.3 40.8h0.9v0.9h-0.9zM292.9 27.6h0.9v0.9h-0.9zM282.5 28.8h0.9v0.9h-0.9zM266.1 39.8h0.9v0.9h-0.9zM293.4 26.0h0.9v0.9h-0.9zM285.6 13.4h0.9v0.9h-0.9zM276.5 46.0h0.9v0.9h-0.9zM254.2 17.9h0.9v0.9h-0.9zM275.4 26.7h0.9v0.9h-0.9zM265.6 22.5h0.9v0.9h-0.9zM260.8 56.2h0.9v0.9h-0.9zM256.6 18.8h0.9v0.9h-0.9zM297.7 12.7h0.9v0.9h-0.9zM293.4 41.3h0.9v0.9h-0.9zM282.8 23.7h0.9v0.9h-0.9zM288.7 37.8h0.9v0.9h-0.9zM295.1 50.3h0.9v0.9h-0.9zM271.1 25.2h0.9v0.9h-0.9zM296.3 52.0h0.9v0.9h-0.9zM262.2 24.8h0.9v0.9h-0.9zM263.9 8.1h0.9v0.9h-0.9zM282.1 46.7h0.9v0.9h-0.9zM254.2 38.3h0.9v0.9h-0.9zM281.6 32.8h0.9v0.9h-0.9zM252.9 22.2h0.9v0.9h-0.9zM289.5 26.0h0.9v0.9h-0.9zM277.7 42.7h0.9v0.9h-0.9zM277.0 24.4h0.9v0.9h-0.9zM298.9 47.3h0.9v0.9h-0.9zM286.1 36.5h0.9v0.9h-0.9zM250.0 19.0h0.9v0.9h-0.9zM290.2 26.6h0.9v0.9h-0.9zM294.2 16.6h0.9v0.9h-0.9zM252.5 12.2h0.9v0.9h-0.9zM285.2 13.6h0.9v0.9h-0.9zM282.9 20.6h0.9v0.9h-0.9zM298.7 8.7h0.9v0.9h-0.9zM274.6 15.9h0.9v0.9h-0.9zM278.0 33.8h0.9v0.9h-0.9zM272.8 26.4h0.9v0.9h-0.9zM264.7 40.1h0.9v0.9h-0.9zM260.7 41.0h0.9v0.9h-0.9zM251.9 13.7h0.9v0.9h-0.9zM257.4 16.5h0.9v0.9h-0.9zM290.6 14.9h0.9v0.9h-0.9zM256.6 40.9h0.9v0.9h-0.9zM298.7 9.4h0.9v0.9h-0.9zM262.4 31.1h0.9v0.9h-0.9zM292.6 56.0h0.9v0.9h-0.9zM251.2 35.4h0.9v0.9h-0.9zM265.9 11.6h0.9v0.9h-0.9zM265.8 44.2h0.9v0.9h-0.9zM260.8 27.1h0.9v0.9h-0.9zM292.2 38.0h0.9v0.9h-0.9zM257.5 30.1h0.9v0.9h-0.9zM256.2 55.8h0.9v0.9h-0.9zM285.9 16.7h0.9v0.9h-0.9zM280.1 24.6h0.9v0.9h-0.9zM296.8 8.1h0.9v0.9h-0.9zM294.2 8.2h0.9v0.9h-0.9zM270.4 7.5h0.9v0.9h-0.9zM281.7 48.8h0.9v0.9h-0.9zM296.7 35.0h0.9v0.9h-0.9z"/>
<path fill="#6060c0" d="M272.3 10.7h0.9v0.9h-0.9zM295.7 11.7h0.9v0.9h-0.9zM282.4 18.7h0.9v0.9h-0.9zM275.4 42.3h0.9v0.9h-0.9zM255.0 53.9h0.9v0.9h-0.9zM260.2 38.0h0.9v0.9h-0.9zM295.2 10.7h0.9v0.9h-0.9z"/>
<rect x="367.50" y="56.10" width="48.40" height="48.40" fill="#e6dcdc"/>
<path fill="#9a9090" d="M398.7 87.7h1.0v1.0h-1.0zM405.9 88.8h1.0v1.0h-1.0zM407.4 57.0h1.0v1.0h-1.0zM397.0 63.9h1.0v1.0h-1.0zM400.2 88.0h1.0v1.0h-1.0zM405.9 79.8h1.0v1.0h-1.0zM378.0 76.4h1.0v1.0h-1.0zM404.1 61.0h1.0v1.0h-1.0zM379.0 56.5h1.0v1.0h-1.0zM404.8 95.5h1.0v1.0h-1.0zM397.2 68.6h1.0v1.0h-1.0zM408.9 69.3h1.0v1.0h-1.0zM399.9 89.0h1.0v1.0h-1.0zM388.1 102.5h1.0v1.0h-1.0zM382.3 100.4h1.0v1.0h-1.0zM379.1 75.4h1.0v1.0h-1.0zM400.0 62.8h1.0v1.0h-1.0zM368.9 79.2h1.0v1.0h-1.0zM376.0 87.7h1.0v1.0h-1.0zM378.8 71.6h1.0v1.0h-1.0zM377.0 76.6h1.0v1.0h-1.0zM408.0 95.5h1.0v1.0h-1.0zM393.0 92.2h1.0v1.0h-1.0zM399.4 87.5h1.0v1.0h-1.0zM402.2 71.4h1.0v1.0h-1.0zM384.6 70.7h1.0v1.0h-1.0zM369.7 94.2h1.0v1.0h-1.0zM411.9 84.5h1.0v1.0h-1.0zM408.9 98.6h1.0v1.0h-1.0zM373.5 86.5h1.0v1.0h-1.0zM396.8 68.6h1.0v1.0h-1.0zM385.5 74.3h1.0v1.0h-1.0zM405.8 64.1h1.0v1.0h-1.0zM370.0 95.7h1.0v1.0h-1.0zM387.2 80.6h1.0v1.0h-1.0zM408.1 88.8h1.0v1.0h-1.0zM396.3 91.8h1.0v1.0h-1.0zM377.3 92.0h1.0v1.0h-1.0zM393.2 71.1h1.0v1.0h-1.0zM371.6 84.9h1.0v1.0h-1.0zM385.6 97.0h1.0v1.0h-1.0zM385.8 85.1h1.0v1.0h-1.0zM414.8 71.8h1.0v1.0h-1.0zM389.3 64.3h1.0v1.0h-1.0zM377.2 71.4h1.0v1.0h-1.0zM384.1 100.6h1.0v1.0h-1.0zM383.3 87.3h1.0v1.0h-1.0zM391.9 86.8h1.0v1.0h-1.0zM405.9 103.0h1.0v1.0h-1.0zM407.4 67.2h1.0v1.0h-1.0zM411.9 74.7h1.0v1.0h-1.0zM384.5 90.0h1.0v1.0h-1.0zM368.7 98.3h1.0v1.0h-1.0zM382.4 68.4h1.0v1.0h-1.0zM370.0 58.5h1.0v1.0h-1.0zM396.0 100.3h1.0v1.0h-1.0zM376.4 99.3h1.0v1.0h-1.0zM392.8 99.1h1.0v1.0h-1.0zM368.5 79.5h1.0v1.0h-1.0zM386.5 59.8h1.0v1.0h-1.0zM381.1 60.0h1.0v1.0h-1.0zM394.5 89.3h1.0v1.0h-1.0zM403.3 76.7h1.0v1.0h-1.0zM372.0 79.3h1.0v1.0h-1.0zM382.9 82.9h1.0v1.0h-1.0zM411.9 58.8h1.0v1.0h-1.0zM411.7 87.5h1.0v1.0h-1.0zM406.3 88.3h1.0v1.0h-1.0zM377.2 66.5h1.0v1.0h-1.0zM388.7 63.4h1.0v1.0h-1.0zM377.0 101.7h1.0v1.0h-1.0zM395.3 64.2h1.0v1.0h-1.0zM402.1 79.1h1.0v1.0h-1.0zM410.6 63.0h1.0v1.0h-1.0zM393.5 67.8h1.0v1.0h-1.0zM377.3 76.9h1.0v1.0h-1.0zM413.0 63.3h1.0v1.0h-1.0zM401.7 61.7h1.0v1.0h-1.0zM400.5 98.1h1.0v1.0h-1.0zM403.9 78.7h1.0v1.0h-1.0zM411.7 88.3h1.0v1.0h-1.0zM400.1 91.4h1.0v1.0h-1.0zM386.1 70.9h1.0v1.0h-1.0zM382.2 72.4h1.0v1.0h-1.0zM376.3 63.2h1.0v1.0h-1.0zM372.9 59.0h1.0v1.0h-1.0zM369.9 90.9h1.0v1.0h-1.0zM407.9 83.5h1.0v1.0h-1.0zM401.6 67.2h1.0v1.0h-1.0zM392.4 90.6h1.0v1.0h-1.0zM398.7 89.0h1.0v1.0h-1.0zM397.0 57.5h1.0v1.0h-1.0zM405.3 74.3h1.0v1.0h-1.0zM393.9 88.6h1.0v1.0h-1.0zM373.3 74.3h1.0v1.0h-1.0zM373.1 100.9h1.0v1.0h-1.0zM367.5 67.5h1.0v1.0h-1.0zM396.7 94.7h1.0v1.0h-1.0zM398.2 70.6h1.0v1.0h-1.0zM400.1 60.8h1.0v1.0h-1.0zM401.5 102.9h1.0v1.0h-1.0zM390.3 88.1h1.0v1.0h-1.0zM402.8 84.5h1.0v1.0h-1.0zM389.4 70.7h1.0v1.0h-1.0zM389.5 64.4h1.0v1.0h-1.0zM373.7 86.8h1.0v1.0h-1.0zM371.6 66.7h1.0v1.0h-1.0zM396.5 66.5h1.0v1.0h-1.0zM393.2 98.1h1.0v1.0h-1.0zM394.0 70.3h1.0v1.0h-1.0zM406.6 83.3h1.0v1.0h-1.0zM369.0 98.6h1.0v1.0h-1.0zM399.9 99.0h1.0v1.0h-1.0zM394.5 80.3h1.0v1.0h-1.0zM391.6 71.1h1.0v1.0h-1.0zM411.5 80.9h1.0v1.0h-1.0zM405.9 85.8h1.0v1.0h-1.0zM383.6 98.4h1.0v1.0h-1.0zM391.1 95.9h1.0v1.0h-1.0zM371.7 95.7h1.0v1.0h-1.0zM383.9 68.2h1.0v1.0h-1.0zM407.9 78.7h1.0v1.0h-1.0zM405.0 68.5h1.0v1.0h-1.0zM386.7 96.4h1.0v1.0h-1.0zM399.3 88.7h1.0v1.0h-1.0zM379.5 71.5h1.0v1.0h-1.0zM404.6 68.2h1.0v1.0h-1.0zM413.8 68.7h1.0v1.0h-1.0zM383.7 56.3h1.0v1.0h-1.0zM374.1 78.9h1.0v1.0h-1.0zM406.6 90.9h1.0v1.0h-1.0zM406.1 72.7h1.0v1.0h-1.0zM381.7 96.4h1.0v1.0h-1.0zM398.2 92.1h1.0v1.0h-1.0zM380.4 59.6h1.0v1.0h-1.0zM391.8 77.3h1.0v1.0h-1.0zM384.7 98.5h1.0v1.0h-1.0zM403.6 94.0h1.0v1.0h-1.0zM376.3 89.9h1.0v1.0h-1.0zM368.6 59.4h1.0v1.0h-1.0zM379.7 63.7h1.0v1.0h-1.0zM372.8 69.9h1.0v1.0h-1.0zM402.5 78.0h1.0v1.0h-1.0zM369.1 96.0h1.0v1.0h-1.0zM409.7 68.6h1.0v1.0h-1.0zM379.7 93.2h1.0v1.0h-1.0zM372.9 69.7h1.0v1.0h-1.0zM374.9 58.6h1.0v1.0h-1.0zM408.7 72.7h1.0v1.0h-1.0zM407.0 62.9h1.0v1.0h-1.0zM411.9 76.3h1.0v1.0h-1.0zM388.2 72.3h1.0v1.0h-1.0zM393.8 65.7h1.0v1.0h-1.0zM387.5 82.8h1.0v1.0h-1.0zM393.7 76.3h1.0v1.0h-1.0zM383.4 88.0h1.0v1.0h-1.0zM384.6 88.2h1.0v1.0h-1.0zM409.6 57.3h1.0v1.0h-1.0zM376.9 77.3h1.0v1.0h-1.0zM412.9 57.6h1.0v1.0h-1.0zM370.8 95.1h1.0v1.0h-1.0zM385.0 92.1h1.0v1.0h-1.0zM406.9 75.2h1.0v1.0h-1.0zM408.8 88.2h1.0v1.0h-1.0zM406.1 67.8h1.0v1.0h-1.0zM368.5 101.4h1.0v1.0h-1.0zM383.6 97.9h1.0v1.0h-1.0zM372.1 99.3h1.0v1.0h-1.0zM401.1 94.5h1.0v1.0h-1.0zM399.7 84.5h1.0v1.0h-1.0zM388.8 82.0h1.0v1.0h-1.0zM409.7 86.5h1.0v1.0h-1.0zM414.1 61.0h1.0v1.0h-1.0zM375.7 87.6h1.0v1.0h-1.0zM408.6 101.9h1.0v1.0h-1.0zM386.0 67.0h1.0v1.0h-1.0zM385.5 69.3h1.0v1.0h-1.0zM405.8 70.0h1.0v1.0h-1.0zM372.5 93.8h1.0v1.0h-1.0zM390.0 92.1h1.0v1.0h-1.0zM370.6 84.1h1.0v1.0h-1.0zM377.4 91.3h1.0v1.0h-1.0zM383.3 93.0h1.0v1.0h-1.0zM391.4 97.3h1.0v1.0h-1.0zM408.9 72.1h1.0v1.0h-1.0zM399.7 103.4h1.0v1.0h-1.0zM368.7 93.9h1.0v1.0h-1.0zM401.0 90.7h1.0v1.0h-1.0zM375.9 60.3h1.0v1.0h-1.0zM385.2 98.8h1.0v1.0h-1.0zM381.6 61.5h1.0v1.0h-1.0zM401.2 59.1h1.0v1.0h-1.0zM374.9 80.2h1.0v1.0h-1.0zM399.9 88.9h1.0v1.0h-1.0zM381.2 60.0h1.0v1.0h-1.0zM372.7 75.7h1.0v1.0h-1.0zM376.6 92.6h1.0v1.0h-1.0zM374.4 75.1h1.0v1.0h-1.0zM402.3 73.9h1.0v1.0h-1.0zM377.5 66.2h1.0v1.0h-1.0zM385.7 70.9h1.0v1.0h-1.0zM408.0 63.4h1.0v1.0h-1.0zM409.4 83.3h1.0v1.0h-1.0zM396.1 76.7h1.0v1.0h-1.0zM396.5 67.2h1.0v1.0h-1.0zM407.8 89.7h1.0v1.0h-1.0zM371.1 72.1h1.0v1.0h-1.0zM397.7 92.6h1.0v1.0h-1.0zM383.4 98.2h1.0v1.0h-1.0zM386.4 83.4h1.0v1.0h-1.0zM399.2 72.8h1.0v1.0h-1.0zM406.8 83.4h1.0v1.0h-1.0zM408.9 67.4h1.0v1.0h-1.0zM411.7 72.7h1.0v1.0h-1.0zM383.0 99.4h1.0v1.0h-1.0zM405.7 67.7h1.0v1.0h-1.0zM398.1 74.0h1.0v1.0h-1.0zM386.9 94.8h1.0v1.0h-1.0zM400.4 96.7h1.0v1.0h-1.0zM380.4 58.9h1.0v1.0h-1.0zM377.2 72.0h1.0v1.0h-1.0zM386.7 66.3h1.0v1.0h-1.0zM409.0 77.8h1.0v1.0h-1.0zM392.6 93.9h1.0v1.0h-1.0zM372.2 90.3h1.0v1.0h-1.0zM398.7 60.3h1.0v1.0h-1.0zM414.2 96.5h1.0v1.0h-1.0zM414.0 89.4h1.0v1.0h-1.0zM412.5 87.6h1.0v1.0h-1.0zM375.4 79.2h1.0v1.0h-1.0zM383.3 74.2h1.0v1.0h-1.0zM402.7 56.2h1.0v1.0h-1.0zM382.0 66.0h1.0v1.0h-1.0zM412.3 68.0h1.0v1.0h-1.0zM386.6 64.0h1.0v1.0h-1.0zM392.0 66.1h1.0v1.0h-1.0zM402.4 94.9h1.0v1.0h-1.0zM395.7 102.5h1.0v1.0h-1.0zM368.1 59.4h1.0v1.0h-1.0zM412.1 93.8h1.0v1.0h-1.0zM397.0 67.9h1.0v1.0h-1.0zM414.1 86.2h1.0v1.0h-1.0zM370.7 58.8h1.0v1.0h-1.0zM404.7 74.9h1.0v1.0h-1.0zM414.4 57.9h1.0v1.0h-1.0zM382.1 64.2h1.0v1.0h-1.0zM398.3 76.8h1.0v1.0h-1.0zM400.2 101.7h1.0v1.0h-1.0zM414.2 57.2h1.0v1.0h-1.0zM370.8 94.3h1.0v1.0h-1.0zM381.3 66.3h1.0v1.0h-1.0zM369.4 56.7h1.0v1.0h-1.0zM402.1 88.0h1.0v1.0h-1.0zM370.1 92.9h1.0v1.0h-1.0zM414.3 95.8h1.0v1.0h-1.0zM386.1 92.4h1.0v1.0h-1.0zM409.2 95.6h1.0v1.0h-1.0zM401.7 66.6h1.0v1.0h-1.0zM375.0 90.2h1.0v1.0h-1.0zM393.3 73.2h1.0v1.0h-1.0zM403.8 102.4h1.0v1.0h-1.0zM376.5 101.8h1.0v1.0h-1.0zM405.8 88.0h1.0v1.0h-1.0zM385.1 87.2h1.0v1.0h-1.0zM385.5 101.0h1.0v1.0h-1.0zM397.4 68.9h1.0v1.0h-1.0zM384.8 76.8h1.0v1.0h-1.0zM400.4 87.9h1.0v1.0h-1.0zM406.4 56.1h1.0v1.0h-1.0zM370.1 91.9h1.0v1.0h-1.0zM414.0 81.9h1.0v1.0h-1.0zM400.9 71.7h1.0v1.0h-1.0zM396.3 75.5h1.0v1.0h-1.0zM394.6 64.6h1.0v1.0h-1.0zM401.1 94.4h1.0v1.0h-1.0zM411.7 72.6h1.0v1.0h-1.0zM402.7 92.0h1.0v1.0h-1.0zM387.7 78.2h1.0v1.0h-1.0zM393.3 102.7h1.0v1.0h-1.0zM380.7 101.9h1.0v1.0h-1.0zM368.3 88.6h1.0v1.0h-1.0zM380.5 77.0h1.0v1.0h-1.0zM369.0 96.8h1.0v1.0h-1.0zM398.0 90.2h1.0v1.0h-1.0zM398.2 69.9h1.0v1.0h-1.0zM404.5 102.2h1.0v1.0h-1.0zM411.4 71.9h1.0v1.0h-1.0zM378.4 81.6h1.0v1.0h-1.0zM383.3 93.9h1.0v1.0h-1.0zM374.6 101.3h1.0v1.0h-1.0zM371.4 82.1h1.0v1.0h-1.0zM376.4 92.1h1.0v1.0h-1.0zM385.8 77.8h1.0v1.0h-1.0zM397.3 68.0h1.0v1.0h-1.0zM385.0 87.5h1.0v1.0h-1.0zM367.5 64.6h1.0v1.0h-1.0zM404.1 98.9h1.0v1.0h-1.0zM411.9 72.5h1.0v1.0h-1.0zM408.4 67.2h1.0v1.0h-1.0zM400.3 63.0h1.0v1.0h-1.0zM390.7 61.5h1.0v1.0h-1.0zM377.7 98.5h1.0v1.0h-1.0zM386.6 86.2h1.0v1.0h-1.0zM413.2 75.6h1.0v1.0h-1.0zM379.7 89.5h1.0v1.0h-1.0zM412.0 56.8h1.0v1.0h-1.0zM369.5 69.1h1.0v1.0h-1.0zM394.1 89.7h1.0v1.0h-1.0zM410.2 80.6h1.0v1.0h-1.0zM391.0 93.4h1.0v1.0h-1.0zM407.4 87.8h1.0v1.0h-1.0zM402.8 94.3h1.0v1.0h-1.0zM412.0 96.0h1.0v1.0h-1.0zM408.5 80.2h1.0v1.0h-1.0zM385.0 74.5h1.0v1.0h-1.0zM412.2 103.0h1.0v1.0h-1.0zM394.5 102.5h1.0v1.0h-1.0zM401.5 76.8h1.0v1.0h-1.0zM390.6 79.9h1.0v1.0h-1.0zM368.6 82.5h1.0v1.0h-1.0zM376.4 62.9h1.0v1.0h-1.0zM382.1 57.4h1.0v1.0h-1.0zM382.2 77.9h1.0v1.0h-1.0zM369.7 71.1h1.0v1.0h-1.0zM391.1 81.4h1.0v1.0h-1.0zM375.9 70.3h1.0v1.0h-1.0zM370.4 89.6h1.0v1.0h-1.0zM408.3 60.7h1.0v1.0h-1.0zM371.7 65.2h1.0v1.0h-1.0zM388.3 57.9h1.0v1.0h-1.0zM409.5 92.8h1.0v1.0h-1.0zM409.5 80.3h1.0v1.0h-1.0zM383.9 58.2h1.0v1.0h-1.0zM404.8 102.6h1.0v1.0h-1.0zM382.0 89.8h1.0v1.0h-1.0zM370.9 76.1h1.0v1.0h-1.0zM373.2 85.1h1.0v1.0h-1.0zM388.7 72.8h1.0v1.0h-1.0zM388.1 58.3h1.0v1.0h-1.0zM378.8 69.3h1.0v1.0h-1.0zM371.8 72.2h1.0v1.0h-1.0zM367.5 84.2h1.0v1.0h-1.0zM388.8 85.7h1.0v1.0h-1.0zM369.7 87.7h1.0v1.0h-1.0zM379.8 80.6h1.0v1.0h-1.0zM390.0 62.0h1.0v1.0h-1.0zM390.4 59.7h1.0v1.0h-1.0zM394.4 77.4h1.0v1.0h-1.0zM368.0 102.1h1.0v1.0h-1.0zM397.4 81.0h1.0v1.0h-1.0zM390.4 90.6h1.0v1.0h-1.0zM376.4 79.9h1.0v1.0h-1.0zM376.4 61.4h1.0v1.0h-1.0zM410.7 58.4h1.0v1.0h-1.0zM379.0 64.9h1.0v1.0h-1.0zM368.7 68.8h1.0v1.0h-1.0zM396.0 59.9h1.0v1.0h-1.0zM395.3 76.8h1.0v1.0h-1.0zM408.7 70.1h1.0v1.0h-1.0zM390.3 78.6h1.0v1.0h-1.0zM399.3 78.6h1.0v1.0h-1.0zM385.2 64.2h1.0v1.0h-1.0zM385.3 101.4h1.0v1.0h-1.0zM413.1 71.4h1.0v1.0h-1.0zM377.6 89.6h1.0v1.0h-1.0zM411.5 77.8h1.0v1.0h-1.0zM410.9 68.7h1.0v1.0h-1.0zM404.5 67.5h1.0v1.0h-1.0zM410.5 62.3h1.0v1.0h-1.0zM375.3 58.7h1.0v1.0h-1.0zM393.7 65.5h1.0v1.0h-1.0zM384.3 103.3h1.0v1.0h-1.0zM409.4 82.0h1.0v1.0h-1.0zM382.6 77.4h1.0v1.0h-1.0zM389.0 101.7h1.0v1.0h-1.0zM397.7 65.9h1.0v1.0h-1.0zM398.5 59.0h1.0v1.0h-1.0zM372.6 94.7h1.0v1.0h-1.0zM376.7 65.4h1.0v1.0h-1.0zM376.0 86.0h1.0v1.0h-1.0zM386.8 69.2h1.0v1.0h-1.0zM383.8 92.1h1.0v1.0h-1.0zM413.9 56.7h1.0v1.0h-1.0zM410.1 72.0h1.0v1.0h-1.0zM392.2 101.7h1.0v1.0h-1.0zM374.2 57.2h1.0v1.0h-1.0zM398.7 99.1h1.0v1.0h-1.0zM406.8 74.9h1.0v1.0h-1.0zM403.7 67.6h1.0v1.0h-1.0zM377.3 78.2h1.0v1.0h-1.0zM408.5 74.3h1.0v1.0h-1.0zM387.0 73.4h1.0v1.0h-1.0zM381.3 99.7h1.0v1.0h-1.0zM382.8 72.7h1.0v1.0h-1.0zM396.9 89.6h1.0v1.0h-1.0zM412.1 91.4h1.0v1.0h-1.0zM384.6 82.0h1.0v1.0h-1.0zM405.8 97.8h1.0v1.0h-1.0zM397.3 90.7h1.0v1.0h-1.0zM381.2 72.7h1.0v1.0h-1.0zM389.6 61.4h1.0v1.0h-1.0zM377.3 91.2h1.0v1.0h-1.0zM411.9 78.6h1.0v1.0h-1.0zM404.2 60.6h1.0v1.0h-1.0zM413.6 81.3h1.0v1.0h-1.0zM404.1 81.4h1.0v1.0h-1.0zM404.1 76.7h1.0v1.0h-1.0zM381.3 57.8h1.0v1.0h-1.0zM374.1 101.3h1.0v1.0h-1.0zM383.0 89.3h1.0v1.0h-1.0zM383.6 71.1h1.0v1.0h-1.0zM381.3 67.7h1.0v1.0h-1.0zM393.2 89.3h1.0v1.0h-1.0zM412.4 87.6h1.0v1.0h-1.0zM391.3 59.1h1.0v1.0h-1.0zM398.1 90.2h1.0v1.0h-1.0zM404.6 92.7h1.0v1.0h-1.0zM376.8 88.1h1.0v1.0h-1.0zM385.2 77.7h1.0v1.0h-1.0zM406.0 97.5h1.0v1.0h-1.0zM385.8 93.0h1.0v1.0h-1.0zM384.3 60.6h1.0v1.0h-1.0zM396.9 82.9h1.0v1.0h-1.0zM389.5 80.6h1.0v1.0h-1.0zM372.4 81.9h1.0v1.0h-1.0zM409.1 83.3h1.0v1.0h-1.0zM400.2 77.8h1.0v1.0h-1.0zM381.9 78.4h1.0v1.0h-1.0zM390.7 59.0h1.0v1.0h-1.0zM386.1 74.7h1.0v1.0h-1.0zM369.4 67.4h1.0v1.0h-1.0zM403.4 100.7h1.0v1.0h-1.0zM388.5 87.3h1.0v1.0h-1.0zM407.9 95.2h1.0v1.0h-1.0zM391.7 71.4h1.0v1.0h-1.0zM411.5 88.1h1.0v1.0h-1.0zM393.0 85.1h1.0v1.0h-1.0zM411.0 56.5h1.0v1.0h-1.0zM377.6 57.1h1.0v1.0h-1.0zM394.4 92.0h1.0v1.0h-1.0zM401.3 63.4h1.0v1.0h-1.0zM381.5 56.1h1.0v1.0h-1.0zM391.6 73.0h1.0v1.0h-1.0zM394.3 61.6h1.0v1.0h-1.0zM380.6 88.8h1.0v1.0h-1.0zM402.3 74.4h1.0v1.0h-1.0zM402.8 102.8h1.0v1.0h-1.0zM392.5 91.0h1.0v1.0h-1.0zM411.9 89.5h1.0v1.0h-1.0zM396.6 80.3h1.0v1.0h-1.0zM396.5 96.0h1.0v1.0h-1.0zM383.3 58.6h1.0v1.0h-1.0zM374.2 87.8h1.0v1.0h-1.0zM390.9 73.9h1.0v1.0h-1.0zM381.0 68.0h1.0v1.0h-1.0zM409.7 88.6h1.0v1.0h-1.0zM384.9 81.4h1.0v1.0h-1.0zM379.0 95.6h1.0v1.0h-1.0zM404.1 61.5h1.0v1.0h-1.0zM384.8 73.0h1.0v1.0h-1.0zM400.6 93.9h1.0v1.0h-1.0zM372.9 82.5h1.0v1.0h-1.0zM371.6 83.7h1.0v1.0h-1.0zM409.2 59.4h1.0v1.0h-1.0zM402.3 59.4h1.0v1.0h-1.0zM404.3 88.6h1.0v1.0h-1.0zM398.1 66.0h1.0v1.0h-1.0zM395.1 74.1h1.0v1.0h-1.0zM388.8 103.2h1.0v1.0h-1.0zM413.2 91.3h1.0v1.0h-1.0zM377.5 72.8h1.0v1.0h-1.0zM382.1 83.9h1.0v1.0h-1.0zM406.7 59.2h1.0v1.0h-1.0zM395.2 56.8h1.0v1.0h-1.0zM410.0 100.4h1.0v1.0h-1.0zM394.0 58.3h1.0v1.0h-1.0zM393.2 90.5h1.0v1.0h-1.0zM411.6 92.6h1.0v1.0h-1.0zM399.1 92.8h1.0v1.0h-1.0zM398.3 101.2h1.0v1.0h-1.0zM399.5 70.1h1.0v1.0h-1.0zM406.7 84.1h1.0v1.0h-1.0zM381.1 95.2h1.0v1.0h-1.0zM367.6 79.6h1.0v1.0h-1.0zM397.7 66.2h1.0v1.0h-1.0zM369.8 72.6h1.0v1.0h-1.0zM405.1 103.2h1.0v1.0h-1.0zM406.4 79.2h1.0v1.0h-1.0zM407.4 100.7h1.0v1.0h-1.0zM404.5 87.2h1.0v1.0h-1.0zM368.6 96.2h1.0v1.0h-1.0zM412.3 74.5h1.0v1.0h-1.0zM378.6 91.9h1.0v1.0h-1.0zM380.3 87.0h1.0v1.0h-1.0zM392.5 66.3h1.0v1.0h-1.0zM370.9 78.0h1.0v1.0h-1.0zM412.8 67.2h1.0v1.0h-1.0zM397.4 82.4h1.0v1.0h-1.0zM404.0 99.0h1.0v1.0h-1.0zM400.6 84.8h1.0v1.0h-1.0zM398.1 71.1h1.0v1.0h-1.0zM395.9 93.6h1.0v1.0h-1.0zM399.7 58.9h1.0v1.0h-1.0zM374.4 70.9h1.0v1.0h-1.0zM391.4 90.0h1.0v1.0h-1.0zM386.7 85.1h1.0v1.0h-1.0zM381.2 77.6h1.0v1.0h-1.0zM389.9 57.8h1.0v1.0h-1.0z"/>
<path fill="#b05a58" d="M368.0 73.9h1.0v1.0h-1.0zM388.4 63.8h1.0v1.0h-1.0zM400.1 72.1h1.0v1.0h-1.0zM410.9 80.2h1.0v1.0h-1.0zM414.3 101.0h1.0v1.0h-1.0zM387.6 62.5h1.0v1.0h-1.0zM401.9 102.0h1.0v1.0h-1.0zM378.6 73.3h1.0v1.0h-1.0zM406.5 76.5h1.0v1.0h-1.0zM380.6 72.4h1.0v1.0h-1.0zM380.9 78.7h1.0v1.0h-1.0zM411.3 73.4h1.0v1.0h-1.0zM403.0 99.3h1.0v1.0h-1.0zM380.2 92.6h1.0v1.0h-1.0zM396.8 102.7h1.0v1.0h-1.0zM409.5 76.0h1.0v1.0h-1.0zM392.8 89.3h1.0v1.0h-1.0zM382.3 89.1h1.0v1.0h-1.0zM411.1 79.8h1.0v1.0h-1.0zM378.2 81.9h1.0v1.0h-1.0zM379.6 102.1h1.0v1.0h-1.0zM375.6 63.8h1.0v1.0h-1.0zM382.3 97.0h1.0v1.0h-1.0zM371.5 58.8h1.0v1.0h-1.0zM379.3 61.5h1.0v1.0h-1.0zM378.3 100.0h1.0v1.0h-1.0zM378.3 79.0h1.0v1.0h-1.0zM393.1 101.2h1.0v1.0h-1.0zM402.4 86.1h1.0v1.0h-1.0zM393.5 84.3h1.0v1.0h-1.0zM399.3 60.9h1.0v1.0h-1.0zM397.7 86.3h1.0v1.0h-1.0zM382.1 63.6h1.0v1.0h-1.0zM406.9 74.1h1.0v1.0h-1.0zM378.3 96.9h1.0v1.0h-1.0zM396.8 64.9h1.0v1.0h-1.0zM386.8 94.0h1.0v1.0h-1.0zM369.5 102.3h1.0v1.0h-1.0zM396.1 62.5h1.0v1.0h-1.0zM386.6 87.4h1.0v1.0h-1.0zM368.5 85.6h1.0v1.0h-1.0zM372.0 78.8h1.0v1.0h-1.0zM387.0 64.4h1.0v1.0h-1.0zM393.2 64.0h1.0v1.0h-1.0zM380.4 101.0h1.0v1.0h-1.0zM406.9 62.1h1.0v1.0h-1.0zM388.1 97.0h1.0v1.0h-1.0zM370.5 99.1h1.0v1.0h-1.0zM402.3 62.8h1.0v1.0h-1.0zM375.8 70.1h1.0v1.0h-1.0zM380.1 98.2h1.0v1.0h-1.0zM371.5 56.4h1.0v1.0h-1.0zM409.6 63.5h1.0v1.0h-1.0zM373.7 85.6h1.0v1.0h-1.0zM387.6 68.7h1.0v1.0h-1.0zM373.9 100.1h1.0v1.0h-1.0zM405.0 81.5h1.0v1.0h-1.0zM377.5 102.0h1.0v1.0h-1.0zM375.9 79.7h1.0v1.0h-1.0zM387.5 75.8h1.0v1.0h-1.0zM408.3 58.0h1.0v1.0h-1.0zM409.9 101.8h1.0v1.0h-1.0zM374.4 64.8h1.0v1.0h-1.0zM399.9 72.5h1.0v1.0h-1.0zM397.8 89.5h1.0v1.0h-1.0zM376.8 98.5h1.0v1.0h-1.0zM410.2 62.0h1.0v1.0h-1.0zM370.3 101.0h1.0v1.0h-1.0zM399.2 86.3h1.0v1.0h-1.0zM379.1 99.9h1.0v1.0h-1.0zM390.7 77.7h1.0v1.0h-1.0zM378.0 68.7h1.0v1.0h-1.0zM413.5 96.7h1.0v1.0h-1.0zM368.0 101.7h1.0v1.0h-1.0zM406.1 73.8h1.0v1.0h-1.0zM389.1 71.0h1.0v1.0h-1.0zM407.0 74.8h1.0v1.0h-1.0zM400.3 66.9h1.0v1.0h-1.0zM395.0 101.6h1.0v1.0h-1.0zM409.3 95.1h1.0v1.0h-1.0zM402.7 65.5h1.0v1.0h-1.0zM389.2 93.2h1.0v1.0h-1.0zM394.7 66.5h1.0v1.0h-1.0zM395.8 87.3h1.0v1.0h-1.0zM391.0 76.2h1.0v1.0h-1.0zM367.9 60.3h1.0v1.0h-1.0zM414.4 56.3h1.0v1.0h-1.0zM394.0 58.9h1.0v1.0h-1.0zM383.0 92.6h1.0v1.0h-1.0zM387.1 89.9h1.0v1.0h-1.0zM391.6 68.0h1.0v1.0h-1.0zM383.8 95.7h1.0v1.0h-1.0zM375.6 84.8h1.0v1.0h-1.0zM371.0 74.2h1.0v1.0h-1.0zM382.1 86.0h1.0v1.0h-1.0zM406.0 60.6h1.0v1.0h-1.0zM376.7 99.2h1.0v1.0h-1.0zM379.0 58.6h1.0v1.0h-1.0zM411.7 100.0h1.0v1.0h-1.0zM392.6 97.5h1.0v1.0h-1.0zM396.3 79.6h1.0v1.0h-1.0zM391.7 101.4h1.0v1.0h-1.0zM385.9 74.8h1.0v1.0h-1.0zM374.3 71.0h1.0v1.0h-1.0zM404.8 95.3h1.0v1.0h-1.0zM372.1 67.3h1.0v1.0h-1.0zM405.7 67.6h1.0v1.0h-1.0zM369.8 78.0h1.0v1.0h-1.0zM411.5 103.4h1.0v1.0h-1.0zM388.5 91.9h1.0v1.0h-1.0zM380.5 95.5h1.0v1.0h-1.0zM381.9 100.2h1.0v1.0h-1.0zM406.4 93.1h1.0v1.0h-1.0zM399.7 63.4h1.0v1.0h-1.0zM394.5 96.6h1.0v1.0h-1.0zM376.8 81.2h1.0v1.0h-1.0zM405.3 92.5h1.0v1.0h-1.0zM398.2 71.2h1.0v1.0h-1.0zM378.9 76.1h1.0v1.0h-1.0zM412.4 57.4h1.0v1.0h-1.0zM377.3 95.1h1.0v1.0h-1.0zM370.5 59.3h1.0v1.0h-1.0zM408.4 67.0h1.0v1.0h-1.0zM385.1 82.7h1.0v1.0h-1.0zM384.6 65.3h1.0v1.0h-1.0zM384.8 96.1h1.0v1.0h-1.0zM392.6 92.0h1.0v1.0h-1.0zM405.4 96.5h1.0v1.0h-1.0zM406.3 60.6h1.0v1.0h-1.0zM394.2 67.4h1.0v1.0h-1.0zM391.4 67.4h1.0v1.0h-1.0zM391.2 63.8h1.0v1.0h-1.0zM377.8 68.0h1.0v1.0h-1.0zM378.6 71.9h1.0v1.0h-1.0zM405.4 79.9h1.0v1.0h-1.0zM403.1 80.0h1.0v1.0h-1.0zM407.8 97.9h1.0v1.0h-1.0zM382.9 93.2h1.0v1.0h-1.0zM410.9 90.1h1.0v1.0h-1.0zM372.5 84.6h1.0v1.0h-1.0zM390.6 68.3h1.0v1.0h-1.0zM408.1 81.9h1.0v1.0h-1.0zM393.6 89.9h1.0v1.0h-1.0zM400.1 65.5h1.0v1.0h-1.0zM374.9 89.0h1.0v1.0h-1.0zM408.4 100.2h1.0v1.0h-1.0zM369.9 103.1h1.0v1.0h-1.0zM378.8 87.2h1.0v1.0h-1.0zM414.9 79.9h1.0v1.0h-1.0zM375.9 68.7h1.0v1.0h-1.0zM411.1 58.3h1.0v1.0h-1.0zM402.0 76.1h1.0v1.0h-1.0zM385.3 69.0h1.0v1.0h-1.0zM385.3 64.4h1.0v1.0h-1.0zM407.2 69.9h1.0v1.0h-1.0zM384.4 66.2h1.0v1.0h-1.0zM371.9 74.8h1.0v1.0h-1.0zM384.4 96.2h1.0v1.0h-1.0zM398.7 78.6h1.0v1.0h-1.0zM399.0 77.3h1.0v1.0h-1.0zM414.2 92.6h1.0v1.0h-1.0zM383.8 69.1h1.0v1.0h-1.0zM409.1 65.8h1.0v1.0h-1.0zM376.8 96.7h1.0v1.0h-1.0zM381.3 101.1h1.0v1.0h-1.0zM372.8 68.1h1.0v1.0h-1.0zM404.4 80.6h1.0v1.0h-1.0zM377.5 60.3h1.0v1.0h-1.0zM414.8 91.2h1.0v1.0h-1.0zM401.1 61.2h1.0v1.0h-1.0zM397.4 63.1h1.0v1.0h-1.0zM411.9 65.5h1.0v1.0h-1.0zM412.9 60.5h1.0v1.0h-1.0zM369.1 96.7h1.0v1.0h-1.0zM405.6 92.3h1.0v1.0h-1.0zM368.7 71.4h1.0v1.0h-1.0zM376.8 89.2h1.0v1.0h-1.0zM393.4 61.4h1.0v1.0h-1.0zM398.2 65.7h1.0v1.0h-1.0zM374.5 87.7h1.0v1.0h-1.0zM392.2 74.5h1.0v1.0h-1.0zM382.0 65.1h1.0v1.0h-1.0zM377.8 61.0h1.0v1.0h-1.0zM403.2 62.5h1.0v1.0h-1.0zM393.2 74.4h1.0v1.0h-1.0zM402.4 77.6h1.0v1.0h-1.0zM395.2 103.0h1.0v1.0h-1.0zM379.4 91.1h1.0v1.0h-1.0zM396.7 70.2h1.0v1.0h-1.0zM386.9 61.2h1.0v1.0h-1.0zM405.8 85.9h1.0v1.0h-1.0zM380.4 79.3h1.0v1.0h-1.0zM413.6 100.0h1.0v1.0h-1.0zM408.6 84.3h1.0v1.0h-1.0zM399.7 98.4h1.0v1.0h-1.0zM382.2 86.4h1.0v1.0h-1.0zM411.6 85.4h1.0v1.0h-1.0zM414.8 96.1h1.0v1.0h-1.0zM412.1 102.5h1.0v1.0h-1.0zM393.0 80.1h1.0v1.0h-1.0zM410.7 76.1h1.0v1.0h-1.0zM388.3 95.7h1.0v1.0h-1.0zM404.5 85.7h1.0v1.0h-1.0zM371.5 89.3h1.0v1.0h-1.0zM385.1 73.9h1.0v1.0h-1.0zM388.1 71.8h1.0v1.0h-1.0zM380.0 103.2h1.0v1.0h-1.0zM370.2 85.9h1.0v1.0h-1.0zM407.6 94.0h1.0v1.0h-1.0zM408.5 87.1h1.0v1.0h-1.0zM379.9 78.5h1.0v1.0h-1.0zM381.4 58.5h1.0v1.0h-1.0zM374.7 80.5h1.0v1.0h-1.0zM413.3 75.0h1.0v1.0h-1.0zM388.4 89.4h1.0v1.0h-1.0zM408.3 70.2h1.0v1.0h-1.0zM370.1 101.1h1.0v1.0h-1.0zM393.6 59.0h1.0v1.0h-1.0zM369.7 83.8h1.0v1.0h-1.0zM380.9 99.0h1.0v1.0h-1.0zM411.4 86.2h1.0v1.0h-1.0zM375.5 69.8h1.0v1.0h-1.0zM406.1 57.0h1.0v1.0h-1.0zM408.7 64.7h1.0v1.0h-1.0zM411.8 95.1h1.0v1.0h-1.0zM384.6 60.3h1.0v1.0h-1.0zM397.1 57.0h1.0v1.0h-1.0zM397.5 87.8h1.0v1.0h-1.0zM373.8 65.0h1.0v1.0h-1.0zM380.5 59.7h1.0v1.0h-1.0zM375.2 70.2h1.0v1.0h-1.0zM395.8 94.4h1.0v1.0h-1.0zM405.3 81.9h1.0v1.0h-1.0zM407.9 56.8h1.0v1.0h-1.0zM402.5 56.6h1.0v1.0h-1.0zM397.7 85.5h1.0v1.0h-1.0zM370.6 73.5h1.0v1.0h-1.0zM380.3 91.0h1.0v1.0h-1.0zM407.5 92.0h1.0v1.0h-1.0zM381.2 83.0h1.0v1.0h-1.0zM409.2 57.9h1.0v1.0h-1.0zM385.5 63.7h1.0v1.0h-1.0zM391.5 59.8h1.0v1.0h-1.0zM379.3 60.2h1.0v1.0h-1.0zM380.5 57.2h1.0v1.0h-1.0zM387.4 60.1h1.0v1.0h-1.0zM393.6 88.8h1.0v1.0h-1.0zM384.4 76.3h1.0v1.0h-1.0zM373.6 78.8h1.0v1.0h-1.0zM385.6 87.3h1.0v1.0h-1.0zM373.5 85.6h1.0v1.0h-1.0zM401.3 66.3h1.0v1.0h-1.0zM386.7 74.5h1.0v1.0h-1.0zM410.9 80.5h1.0v1.0h-1.0zM390.7 57.4h1.0v1.0h-1.0zM395.6 78.4h1.0v1.0h-1.0zM387.1 101.3h1.0v1.0h-1.0zM398.1 60.0h1.0v1.0h-1.0zM392.1 68.4h1.0v1.0h-1.0zM407.3 73.7h1.0v1.0h-1.0zM384.3 56.2h1.0v1.0h-1.0zM408.4 102.9h1.0v1.0h-1.0zM375.7 70.7h1.0v1.0h-1.0zM413.9 93.8h1.0v1.0h-1.0zM399.7 95.3h1.0v1.0h-1.0zM404.9 86.9h1.0v1.0h-1.0zM402.3 96.3h1.0v1.0h-1.0zM369.8 88.7h1.0v1.0h-1.0zM388.1 80.4h1.0v1.0h-1.0zM408.3 69.9h1.0v1.0h-1.0zM386.3 78.2h1.0v1.0h-1.0zM385.9 103.1h1.0v1.0h-1.0zM368.3 72.0h1.0v1.0h-1.0zM386.6 78.0h1.0v1.0h-1.0zM409.5 98.6h1.0v1.0h-1.0zM401.2 65.0h1.0v1.0h-1.0zM394.6 97.1h1.0v1.0h-1.0zM410.9 99.8h1.0v1.0h-1.0zM409.7 89.1h1.0v1.0h-1.0zM374.1 60.0h1.0v1.0h-1.0zM398.5 95.3h1.0v1.0h-1.0zM391.2 92.3h1.0v1.0h-1.0zM404.6 84.2h1.0v1.0h-1.0zM388.0 83.2h1.0v1.0h-1.0zM382.5 99.8h1.0v1.0h-1.0zM370.2 57.5h1.0v1.0h-1.0zM383.5 66.4h1.0v1.0h-1.0zM403.3 101.1h1.0v1.0h-1.0zM414.3 64.8h1.0v1.0h-1.0zM401.7 56.5h1.0v1.0h-1.0zM368.2 66.1h1.0v1.0h-1.0zM387.2 73.5h1.0v1.0h-1.0zM382.5 96.8h1.0v1.0h-1.0zM413.5 71.0h1.0v1.0h-1.0zM373.9 93.1h1.0v1.0h-1.0zM403.0 98.5h1.0v1.0h-1.0zM394.7 92.7h1.0v1.0h-1.0zM395.5 61.3h1.0v1.0h-1.0zM377.0 57.6h1.0v1.0h-1.0zM380.1 76.4h1.0v1.0h-1.0zM403.5 61.6h1.0v1.0h-1.0zM376.8 78.1h1.0v1.0h-1.0zM412.6 76.5h1.0v1.0h-1.0zM380.4 70.9h1.0v1.0h-1.0zM393.7 67.3h1.0v1.0h-1.0zM408.6 84.1h1.0v1.0h-1.0zM372.3 65.4h1.0v1.0h-1.0zM372.8 81.9h1.0v1.0h-1.0zM414.3 66.9h1.0v1.0h-1.0zM383.6 90.1h1.0v1.0h-1.0zM400.5 103.3h1.0v1.0h-1.0zM388.4 102.7h1.0v1.0h-1.0zM410.2 64.7h1.0v1.0h-1.0zM395.9 74.6h1.0v1.0h-1.0zM414.1 68.0h1.0v1.0h-1.0zM404.9 97.4h1.0v1.0h-1.0zM377.9 97.0h1.0v1.0h-1.0zM395.0 96.3h1.0v1.0h-1.0zM404.0 69.6h1.0v1.0h-1.0zM397.2 59.2h1.0v1.0h-1.0zM378.1 63.7h1.0v1.0h-1.0zM413.7 65.6h1.0v1.0h-1.0zM388.5 93.9h1.0v1.0h-1.0zM410.1 95.9h1.0v1.0h-1.0zM410.2 59.6h1.0v1.0h-1.0zM370.5 58.4h1.0v1.0h-1.0zM382.8 72.5h1.0v1.0h-1.0zM379.6 64.2h1.0v1.0h-1.0zM367.7 65.9h1.0v1.0h-1.0zM374.2 69.9h1.0v1.0h-1.0zM396.9 63.6h1.0v1.0h-1.0zM405.6 91.5h1.0v1.0h-1.0zM373.9 95.9h1.0v1.0h-1.0zM391.8 61.8h1.0v1.0h-1.0zM375.0 101.1h1.0v1.0h-1.0zM409.4 87.2h1.0v1.0h-1.0zM410.7 87.5h1.0v1.0h-1.0zM400.1 77.1h1.0v1.0h-1.0zM376.5 89.5h1.0v1.0h-1.0zM409.8 59.3h1.0v1.0h-1.0zM381.0 59.4h1.0v1.0h-1.0zM414.0 96.7h1.0v1.0h-1.0zM370.3 99.9h1.0v1.0h-1.0zM395.6 57.9h1.0v1.0h-1.0zM408.1 69.1h1.0v1.0h-1.0zM402.8 95.2h1.0v1.0h-1.0zM370.3 99.8h1.0v1.0h-1.0zM406.4 95.7h1.0v1.0h-1.0zM371.3 76.5h1.0v1.0h-1.0zM390.9 76.7h1.0v1.0h-1.0zM396.7 65.4h1.0v1.0h-1.0zM394.5 61.2h1.0v1.0h-1.0zM377.4 57.6h1.0v1.0h-1.0zM401.0 93.6h1.0v1.0h-1.0zM387.1 91.4h1.0v1.0h-1.0zM374.2 75.9h1.0v1.0h-1.0zM387.5 69.1h1.0v1.0h-1.0zM395.9 59.8h1.0v1.0h-1.0zM406.6 74.3h1.0v1.0h-1.0zM384.5 93.4h1.0v1.0h-1.0zM409.8 88.1h1.0v1.0h-1.0zM392.0 77.7h1.0v1.0h-1.0zM405.0 77.8h1.0v1.0h-1.0zM382.3 95.7h1.0v1.0h-1.0zM378.9 81.2h1.0v1.0h-1.0zM375.2 99.8h1.0v1.0h-1.0zM377.8 91.7h1.0v1.0h-1.0zM376.4 82.7h1.0v1.0h-1.0zM414.0 93.3h1.0v1.0h-1.0zM377.2 103.2h1.0v1.0h-1.0zM385.6 96.2h1.0v1.0h-1.0zM396.3 87.1h1.0v1.0h-1.0zM377.8 83.3h1.0v1.0h-1.0zM405.4 100.2h1.0v1.0h-1.0zM391.3 72.1h1.0v1.0h-1.0zM384.5 85.7h1.0v1.0h-1.0zM408.4 70.1h1.0v1.0h-1.0zM370.5 68.2h1.0v1.0h-1.0zM400.4 79.5h1.0v1.0h-1.0zM387.6 96.0h1.0v1.0h-1.0zM369.0 84.6h1.0v1.0h-1.0zM413.6 85.0h1.0v1.0h-1.0zM378.2 92.4h1.0v1.0h-1.0zM388.0 62.7h1.0v1.0h-1.0zM382.6 79.1h1.0v1.0h-1.0z"/>
<path fill="#c8a8a8" d="M394.0 87.4h1.0v1.0h-1.0zM369.9 64.2h1.0v1.0h-1.0zM390.1 74.3h1.0v1.0h-1.0zM375.9 89.1h1.0v1.0h-1.0zM370.0 77.9h1.0v1.0h-1.0zM378.4 81.1h1.0v1.0h-1.0zM377.6 69.6h1.0v1.0h-1.0zM397.1 99.7h1.0v1.0h-1.0zM410.2 93.5h1.0v1.0h-1.0zM384.0 73.6h1.0v1.0h-1.0zM394.2 56.9h1.0v1.0h-1.0zM410.3 93.9h1.0v1.0h-1.0zM393.2 85.6h1.0v1.0h-1.0zM375.2 78.1h1.0v1.0h-1.0zM407.5 67.9h1.0v1.0h-1.0zM382.0 62.6h1.0v1.0h-1.0zM381.6 65.1h1.0v1.0h-1.0zM372.4 88.6h1.0v1.0h-1.0zM388.8 81.1h1.0v1.0h-1.0zM405.5 80.1h1.0v1.0h-1.0zM389.6 86.2h1.0v1.0h-1.0zM380.7 99.9h1.0v1.0h-1.0zM396.7 101.9h1.0v1.0h-1.0zM406.6 92.0h1.0v1.0h-1.0zM392.9 73.2h1.0v1.0h-1.0zM379.5 75.9h1.0v1.0h-1.0zM385.4 70.8h1.0v1.0h-1.0zM375.6 76.9h1.0v1.0h-1.0zM390.2 101.6h1.0v1.0h-1.0zM378.8 81.0h1.0v1.0h-1.0zM391.3 87.5h1.0v1.0h-1.0zM401.4 72.9h1.0v1.0h-1.0zM407.7 73.8h1.0v1.0h-1.0zM397.0 103.0h1.0v1.0h-1.0zM392.3 92.9h1.0v1.0h-1.0zM408.7 86.9h1.0v1.0h-1.0zM406.6 91.7h1.0v1.0h-1.0zM392.6 102.9h1.0v1.0h-1.0zM377.2 61.9h1.0v1.0h-1.0zM389.7 92.9h1.0v1.0h-1.0zM414.2 96.2h1.0v1.0h-1.0zM395.5 64.1h1.0v1.0h-1.0zM383.0 102.9h1.0v1.0h-1.0zM392.0 76.7h1.0v1.0h-1.0zM374.5 102.4h1.0v1.0h-1.0zM375.5 84.3h1.0v1.0h-1.0zM409.1 76.8h1.0v1.0h-1.0zM398.5 88.9h1.0v1.0h-1.0zM369.7 97.5h1.0v1.0h-1.0zM375.7 62.5h1.0v1.0h-1.0zM414.1 94.7h1.0v1.0h-1.0zM378.2 61.3h1.0v1.0h-1.0zM371.8 59.9h1.0v1.0h-1.0zM384.2 78.8h1.0v1.0h-1.0zM386.7 85.9h1.0v1.0h-1.0zM412.1 92.7h1.0v1.0h-1.0zM375.6 82.6h1.0v1.0h-1.0zM387.0 76.8h1.0v1.0h-1.0zM388.9 85.8h1.0v1.0h-1.0zM393.1 60.4h1.0v1.0h-1.0zM388.0 91.9h1.0v1.0h-1.0zM407.7 85.2h1.0v1.0h-1.0zM405.4 102.4h1.0v1.0h-1.0zM373.1 70.2h1.0v1.0h-1.0zM373.3 96.5h1.0v1.0h-1.0zM382.8 75.8h1.0v1.0h-1.0zM407.9 84.6h1.0v1.0h-1.0zM368.0 83.4h1.0v1.0h-1.0zM391.4 85.9h1.0v1.0h-1.0zM387.1 83.4h1.0v1.0h-1.0zM388.6 72.4h1.0v1.0h-1.0zM409.3 76.3h1.0v1.0h-1.0zM375.1 96.9h1.0v1.0h-1.0zM378.2 67.5h1.0v1.0h-1.0zM372.3 100.2h1.0v1.0h-1.0zM368.9 72.4h1.0v1.0h-1.0zM389.2 57.0h1.0v1.0h-1.0zM385.6 102.6h1.0v1.0h-1.0zM378.1 84.9h1.0v1.0h-1.0zM373.8 102.8h1.0v1.0h-1.0zM398.4 98.9h1.0v1.0h-1.0zM389.5 85.9h1.0v1.0h-1.0zM375.5 99.4h1.0v1.0h-1.0zM387.9 93.0h1.0v1.0h-1.0zM368.0 82.8h1.0v1.0h-1.0zM384.5 95.4h1.0v1.0h-1.0zM409.5 69.9h1.0v1.0h-1.0zM394.1 72.3h1.0v1.0h-1.0zM390.9 97.2h1.0v1.0h-1.0zM383.2 59.2h1.0v1.0h-1.0zM404.8 57.9h1.0v1.0h-1.0zM376.2 83.8h1.0v1.0h-1.0zM372.7 61.3h1.0v1.0h-1.0zM384.1 95.8h1.0v1.0h-1.0zM407.4 101.3h1.0v1.0h-1.0zM377.0 63.7h1.0v1.0h-1.0zM387.3 91.2h1.0v1.0h-1.0zM374.0 86.2h1.0v1.0h-1.0zM388.6 68.4h1.0v1.0h-1.0zM367.6 63.6h1.0v1.0h-1.0zM411.6 66.8h1.0v1.0h-1.0zM384.3 93.0h1.0v1.0h-1.0zM380.7 72.7h1.0v1.0h-1.0zM392.0 82.3h1.0v1.0h-1.0zM402.5 59.3h1.0v1.0h-1.0zM385.3 62.2h1.0v1.0h-1.0zM397.8 91.5h1.0v1.0h-1.0zM399.7 69.5h1.0v1.0h-1.0zM369.7 57.2h1.0v1.0h-1.0zM390.4 63.1h1.0v1.0h-1.0zM373.6 59.3h1.0v1.0h-1.0zM397.9 69.3h1.0v1.0h-1.0zM410.7 94.6h1.0v1.0h-1.0zM401.8 62.7h1.0v1.0h-1.0zM367.9 57.6h1.0v1.0h-1.0zM367.8 75.7h1.0v1.0h-1.0zM376.1 65.6h1.0v1.0h-1.0zM388.3 89.5h1.0v1.0h-1.0zM369.5 67.7h1.0v1.0h-1.0zM401.7 69.0h1.0v1.0h-1.0zM408.6 87.4h1.0v1.0h-1.0zM370.7 98.2h1.0v1.0h-1.0zM410.4 73.4h1.0v1.0h-1.0zM400.1 68.2h1.0v1.0h-1.0zM392.4 58.3h1.0v1.0h-1.0zM388.4 86.9h1.0v1.0h-1.0zM390.4 68.9h1.0v1.0h-1.0zM405.7 60.7h1.0v1.0h-1.0zM387.4 63.8h1.0v1.0h-1.0zM388.1 97.2h1.0v1.0h-1.0zM378.5 84.8h1.0v1.0h-1.0zM386.7 63.8h1.0v1.0h-1.0zM409.7 63.3h1.0v1.0h-1.0zM409.2 74.9h1.0v1.0h-1.0zM412.9 79.5h1.0v1.0h-1.0zM392.7 93.2h1.0v1.0h-1.0zM375.2 93.1h1.0v1.0h-1.0zM373.7 57.9h1.0v1.0h-1.0zM413.5 78.7h1.0v1.0h-1.0zM390.5 62.8h1.0v1.0h-1.0zM397.5 69.1h1.0v1.0h-1.0zM398.2 64.0h1.0v1.0h-1.0zM370.9 65.6h1.0v1.0h-1.0zM379.8 59.5h1.0v1.0h-1.0zM388.6 67.4h1.0v1.0h-1.0zM379.7 67.7h1.0v1.0h-1.0zM391.8 67.1h1.0v1.0h-1.0zM373.7 68.3h1.0v1.0h-1.0zM392.2 65.4h1.0v1.0h-1.0zM383.5 68.7h1.0v1.0h-1.0zM410.0 65.4h1.0v1.0h-1.0zM382.7 84.7h1.0v1.0h-1.0zM401.4 83.9h1.0v1.0h-1.0zM393.8 99.6h1.0v1.0h-1.0zM382.4 101.1h1.0v1.0h-1.0zM408.2 84.7h1.0v1.0h-1.0zM379.4 80.7h1.0v1.0h-1.0zM397.2 81.1h1.0v1.0h-1.0zM375.0 58.1h1.0v1.0h-1.0zM378.3 56.8h1.0v1.0h-1.0zM404.7 95.1h1.0v1.0h-1.0zM370.1 78.4h1.0v1.0h-1.0zM380.3 62.7h1.0v1.0h-1.0zM411.9 85.2h1.0v1.0h-1.0zM388.7 65.8h1.0v1.0h-1.0zM372.8 74.7h1.0v1.0h-1.0zM382.7 57.2h1.0v1.0h-1.0zM394.3 93.6h1.0v1.0h-1.0zM411.5 78.5h1.0v1.0h-1.0zM406.7 67.2h1.0v1.0h-1.0zM381.8 59.4h1.0v1.0h-1.0zM377.3 77.4h1.0v1.0h-1.0zM390.7 63.6h1.0v1.0h-1.0zM412.8 85.0h1.0v1.0h-1.0zM414.2 68.9h1.0v1.0h-1.0zM394.3 102.3h1.0v1.0h-1.0zM413.6 89.2h1.0v1.0h-1.0zM406.1 101.1h1.0v1.0h-1.0zM390.9 77.1h1.0v1.0h-1.0zM388.8 76.8h1.0v1.0h-1.0zM402.5 70.0h1.0v1.0h-1.0zM407.5 94.0h1.0v1.0h-1.0zM375.8 71.0h1.0v1.0h-1.0zM378.4 89.3h1.0v1.0h-1.0zM383.7 94.6h1.0v1.0h-1.0zM400.7 83.9h1.0v1.0h-1.0zM410.9 75.9h1.0v1.0h-1.0zM399.8 61.1h1.0v1.0h-1.0zM397.1 100.3h1.0v1.0h-1.0zM398.9 82.7h1.0v1.0h-1.0zM381.2 75.2h1.0v1.0h-1.0zM403.4 58.2h1.0v1.0h-1.0zM385.4 64.7h1.0v1.0h-1.0zM386.5 85.8h1.0v1.0h-1.0zM390.1 86.0h1.0v1.0h-1.0zM412.2 83.0h1.0v1.0h-1.0zM379.6 75.8h1.0v1.0h-1.0zM368.7 75.7h1.0v1.0h-1.0zM367.9 89.3h1.0v1.0h-1.0zM379.8 92.2h1.0v1.0h-1.0zM404.6 97.2h1.0v1.0h-1.0zM371.3 88.6h1.0v1.0h-1.0zM408.7 56.7h1.0v1.0h-1.0zM375.8 90.0h1.0v1.0h-1.0zM392.6 58.1h1.0v1.0h-1.0zM384.7 70.6h1.0v1.0h-1.0zM380.4 100.7h1.0v1.0h-1.0zM407.1 77.7h1.0v1.0h-1.0zM371.5 61.2h1.0v1.0h-1.0zM370.5 95.7h1.0v1.0h-1.0zM377.2 63.4h1.0v1.0h-1.0zM377.0 72.1h1.0v1.0h-1.0zM405.8 99.2h1.0v1.0h-1.0zM376.9 65.8h1.0v1.0h-1.0zM400.6 102.1h1.0v1.0h-1.0zM378.9 91.4h1.0v1.0h-1.0zM391.8 76.9h1.0v1.0h-1.0zM406.2 94.0h1.0v1.0h-1.0zM405.3 83.4h1.0v1.0h-1.0zM390.0 85.4h1.0v1.0h-1.0zM387.0 85.9h1.0v1.0h-1.0zM399.0 85.1h1.0v1.0h-1.0zM403.6 71.4h1.0v1.0h-1.0zM408.2 79.6h1.0v1.0h-1.0zM405.6 93.8h1.0v1.0h-1.0zM376.4 88.0h1.0v1.0h-1.0zM402.0 74.6h1.0v1.0h-1.0zM406.5 73.1h1.0v1.0h-1.0zM387.4 58.5h1.0v1.0h-1.0zM389.5 95.3h1.0v1.0h-1.0zM410.8 68.0h1.0v1.0h-1.0zM402.8 57.3h1.0v1.0h-1.0zM411.0 79.1h1.0v1.0h-1.0zM372.2 61.7h1.0v1.0h-1.0zM387.7 91.7h1.0v1.0h-1.0zM385.9 57.8h1.0v1.0h-1.0zM405.2 89.4h1.0v1.0h-1.0zM378.0 79.3h1.0v1.0h-1.0zM394.1 87.0h1.0v1.0h-1.0zM391.5 56.4h1.0v1.0h-1.0zM385.9 88.8h1.0v1.0h-1.0zM402.1 84.1h1.0v1.0h-1.0zM398.1 76.0h1.0v1.0h-1.0zM394.8 81.3h1.0v1.0h-1.0zM383.7 74.7h1.0v1.0h-1.0zM409.6 101.0h1.0v1.0h-1.0zM379.6 81.1h1.0v1.0h-1.0zM410.5 87.0h1.0v1.0h-1.0zM371.0 91.2h1.0v1.0h-1.0zM404.5 95.8h1.0v1.0h-1.0zM403.3 67.7h1.0v1.0h-1.0zM392.4 86.0h1.0v1.0h-1.0zM369.1 75.7h1.0v1.0h-1.0zM370.1 81.4h1.0v1.0h-1.0zM412.0 90.7h1.0v1.0h-1.0zM385.1 69.2h1.0v1.0h-1.0zM396.0 78.9h1.0v1.0h-1.0zM386.6 103.2h1.0v1.0h-1.0zM384.1 86.4h1.0v1.0h-1.0zM413.8 95.8h1.0v1.0h-1.0zM406.0 75.3h1.0v1.0h-1.0zM396.0 79.3h1.0v1.0h-1.0zM413.3 58.4h1.0v1.0h-1.0zM381.3 66.3h1.0v1.0h-1.0zM386.4 86.9h1.0v1.0h-1.0zM371.4 65.3h1.0v1.0h-1.0zM411.0 85.9h1.0v1.0h-1.0zM394.6 79.1h1.0v1.0h-1.0zM392.1 59.8h1.0v1.0h-1.0zM373.3 77.5h1.0v1.0h-1.0zM375.0 67.0h1.0v1.0h-1.0zM411.8 84.0h1.0v1.0h-1.0zM381.1 67.7h1.0v1.0h-1.0zM377.9 82.5h1.0v1.0h-1.0zM411.7 96.0h1.0v1.0h-1.0zM403.4 94.3h1.0v1.0h-1.0zM369.6 101.7h1.0v1.0h-1.0zM411.9 91.6h1.0v1.0h-1.0zM402.9 85.0h1.0v1.0h-1.0zM411.2 94.7h1.0v1.0h-1.0zM367.7 74.0h1.0v1.0h-1.0zM396.7 63.2h1.0v1.0h-1.0zM407.4 81.6h1.0v1.0h-1.0zM405.7 89.3h1.0v1.0h-1.0zM375.9 67.3h1.0v1.0h-1.0zM400.1 94.5h1.0v1.0h-1.0zM398.0 80.9h1.0v1.0h-1.0zM401.5 77.3h1.0v1.0h-1.0zM406.9 78.3h1.0v1.0h-1.0zM405.1 100.4h1.0v1.0h-1.0zM389.0 82.1h1.0v1.0h-1.0zM373.8 89.3h1.0v1.0h-1.0zM414.6 80.4h1.0v1.0h-1.0zM407.8 89.4h1.0v1.0h-1.0zM369.9 77.5h1.0v1.0h-1.0zM368.1 76.2h1.0v1.0h-1.0zM387.8 66.6h1.0v1.0h-1.0zM371.3 59.9h1.0v1.0h-1.0zM378.1 60.0h1.0v1.0h-1.0zM384.5 93.6h1.0v1.0h-1.0zM386.7 61.3h1.0v1.0h-1.0zM386.0 62.1h1.0v1.0h-1.0zM375.3 81.8h1.0v1.0h-1.0zM369.5 93.5h1.0v1.0h-1.0zM371.9 95.2h1.0v1.0h-1.0zM367.7 80.6h1.0v1.0h-1.0zM377.4 91.0h1.0v1.0h-1.0zM383.4 62.0h1.0v1.0h-1.0zM398.8 79.9h1.0v1.0h-1.0zM382.7 81.2h1.0v1.0h-1.0zM392.6 92.1h1.0v1.0h-1.0zM373.0 81.9h1.0v1.0h-1.0zM388.3 94.6h1.0v1.0h-1.0zM378.5 95.9h1.0v1.0h-1.0zM383.7 91.8h1.0v1.0h-1.0zM385.5 99.1h1.0v1.0h-1.0zM373.6 97.2h1.0v1.0h-1.0zM393.9 90.3h1.0v1.0h-1.0zM371.7 57.7h1.0v1.0h-1.0zM372.9 88.2h1.0v1.0h-1.0zM413.6 101.3h1.0v1.0h-1.0zM404.5 61.4h1.0v1.0h-1.0zM403.1 93.4h1.0v1.0h-1.0zM390.2 102.2h1.0v1.0h-1.0zM383.6 90.0h1.0v1.0h-1.0zM401.1 97.6h1.0v1.0h-1.0zM389.1 94.2h1.0v1.0h-1.0zM410.8 103.0h1.0v1.0h-1.0zM410.1 66.8h1.0v1.0h-1.0zM376.1 73.1h1.0v1.0h-1.0zM400.8 84.7h1.0v1.0h-1.0zM371.3 77.3h1.0v1.0h-1.0zM413.2 83.2h1.0v1.0h-1.0zM398.7 80.2h1.0v1.0h-1.0zM376.0 60.4h1.0v1.0h-1.0zM392.1 70.2h1.0v1.0h-1.0zM395.9 74.1h1.0v1.0h-1.0zM389.8 84.0h1.0v1.0h-1.0zM370.1 98.9h1.0v1.0h-1.0zM379.3 99.3h1.0v1.0h-1.0zM394.8 78.3h1.0v1.0h-1.0zM392.0 71.6h1.0v1.0h-1.0zM401.4 97.7h1.0v1.0h-1.0zM382.6 87.6h1.0v1.0h-1.0zM414.2 81.4h1.0v1.0h-1.0zM370.5 84.0h1.0v1.0h-1.0zM382.6 83.4h1.0v1.0h-1.0zM400.1 101.3h1.0v1.0h-1.0zM372.3 96.6h1.0v1.0h-1.0zM378.6 71.3h1.0v1.0h-1.0zM399.2 99.1h1.0v1.0h-1.0zM399.2 101.0h1.0v1.0h-1.0zM405.6 94.6h1.0v1.0h-1.0zM404.7 79.4h1.0v1.0h-1.0zM373.6 82.6h1.0v1.0h-1.0zM410.3 71.8h1.0v1.0h-1.0zM391.6 95.0h1.0v1.0h-1.0zM385.3 81.8h1.0v1.0h-1.0zM385.2 90.0h1.0v1.0h-1.0zM411.2 93.1h1.0v1.0h-1.0zM382.1 92.1h1.0v1.0h-1.0zM396.8 84.5h1.0v1.0h-1.0zM386.4 83.4h1.0v1.0h-1.0zM377.2 56.7h1.0v1.0h-1.0zM390.9 59.9h1.0v1.0h-1.0zM393.0 72.9h1.0v1.0h-1.0zM373.0 85.2h1.0v1.0h-1.0zM368.0 88.3h1.0v1.0h-1.0zM377.6 65.9h1.0v1.0h-1.0zM412.4 82.2h1.0v1.0h-1.0zM402.2 92.7h1.0v1.0h-1.0zM403.4 60.1h1.0v1.0h-1.0zM379.9 73.6h1.0v1.0h-1.0zM413.6 65.6h1.0v1.0h-1.0zM371.8 69.0h1.0v1.0h-1.0zM397.1 68.1h1.0v1.0h-1.0zM394.7 64.3h1.0v1.0h-1.0zM403.5 65.5h1.0v1.0h-1.0zM378.1 60.3h1.0v1.0h-1.0zM410.8 57.1h1.0v1.0h-1.0zM391.0 86.2h1.0v1.0h-1.0zM396.7 77.1h1.0v1.0h-1.0zM368.6 101.5h1.0v1.0h-1.0zM387.2 82.7h1.0v1.0h-1.0zM370.6 75.9h1.0v1.0h-1.0zM371.5 94.7h1.0v1.0h-1.0zM400.2 61.7h1.0v1.0h-1.0z"/>
<path fill="#ffffff" d="M370.3 94.9h1.0v1.0h-1.0zM386.5 76.0h1.0v1.0h-1.0zM399.0 73.0h1.0v1.0h-1.0zM390.3 101.4h1.0v1.0h-1.0zM391.4 57.2h1.0v1.0h-1.0zM409.9 63.8h1.0v1.0h-1.0zM391.9 89.1h1.0v1.0h-1.0zM403.5 75.9h1.0v1.0h-1.0zM410.7 81.5h1.0v1.0h-1.0zM367.9 73.2h1.0v1.0h-1.0zM393.8 88.4h1.0v1.0h-1.0zM396.3 93.3h1.0v1.0h-1.0zM406.4 73.1h1.0v1.0h-1.0zM407.0 66.1h1.0v1.0h-1.0zM368.7 70.7h1.0v1.0h-1.0zM399.8 76.3h1.0v1.0h-1.0zM373.6 59.1h1.0v1.0h-1.0zM402.9 101.1h1.0v1.0h-1.0zM414.3 92.4h1.0v1.0h-1.0zM384.7 70.2h1.0v1.0h-1.0zM395.9 87.8h1.0v1.0h-1.0zM390.5 65.3h1.0v1.0h-1.0zM374.7 95.8h1.0v1.0h-1.0zM411.7 81.1h1.0v1.0h-1.0zM407.3 86.6h1.0v1.0h-1.0zM392.2 82.7h1.0v1.0h-1.0zM410.0 82.2h1.0v1.0h-1.0zM368.7 93.8h1.0v1.0h-1.0zM392.8 64.5h1.0v1.0h-1.0zM408.3 102.5h1.0v1.0h-1.0zM381.7 97.4h1.0v1.0h-1.0zM370.6 64.4h1.0v1.0h-1.0zM404.4 76.8h1.0v1.0h-1.0zM382.5 58.5h1.0v1.0h-1.0zM409.3 87.4h1.0v1.0h-1.0zM411.7 80.5h1.0v1.0h-1.0zM398.3 86.9h1.0v1.0h-1.0zM375.0 60.3h1.0v1.0h-1.0zM396.4 89.0h1.0v1.0h-1.0zM379.9 59.8h1.0v1.0h-1.0zM399.2 76.3h1.0v1.0h-1.0zM407.3 81.5h1.0v1.0h-1.0zM386.8 101.1h1.0v1.0h-1.0zM414.8 61.1h1.0v1.0h-1.0zM410.9 74.7h1.0v1.0h-1.0zM382.3 70.2h1.0v1.0h-1.0zM367.8 78.0h1.0v1.0h-1.0zM399.9 90.4h1.0v1.0h-1.0zM399.5 102.8h1.0v1.0h-1.0zM387.8 66.7h1.0v1.0h-1.0zM391.0 88.4h1.0v1.0h-1.0zM414.1 57.1h1.0v1.0h-1.0zM372.4 101.1h1.0v1.0h-1.0zM392.9 81.8h1.0v1.0h-1.0zM391.0 87.8h1.0v1.0h-1.0zM388.7 84.6h1.0v1.0h-1.0zM386.4 99.3h1.0v1.0h-1.0zM401.4 64.3h1.0v1.0h-1.0zM380.1 69.8h1.0v1.0h-1.0zM379.7 62.1h1.0v1.0h-1.0zM406.2 76.3h1.0v1.0h-1.0zM396.6 85.2h1.0v1.0h-1.0zM396.9 71.2h1.0v1.0h-1.0zM401.5 69.2h1.0v1.0h-1.0zM379.6 61.0h1.0v1.0h-1.0zM385.4 69.4h1.0v1.0h-1.0zM408.8 90.6h1.0v1.0h-1.0zM405.8 98.8h1.0v1.0h-1.0zM399.9 92.5h1.0v1.0h-1.0zM386.1 100.1h1.0v1.0h-1.0zM410.1 99.1h1.0v1.0h-1.0zM395.5 82.6h1.0v1.0h-1.0zM414.8 89.7h1.0v1.0h-1.0zM413.9 71.2h1.0v1.0h-1.0zM373.4 103.1h1.0v1.0h-1.0zM402.9 64.3h1.0v1.0h-1.0zM393.8 91.7h1.0v1.0h-1.0zM372.9 79.6h1.0v1.0h-1.0zM388.6 69.0h1.0v1.0h-1.0zM400.5 71.2h1.0v1.0h-1.0zM382.1 63.0h1.0v1.0h-1.0zM393.4 80.4h1.0v1.0h-1.0zM413.2 97.0h1.0v1.0h-1.0zM392.4 68.2h1.0v1.0h-1.0zM403.7 88.4h1.0v1.0h-1.0zM382.9 91.7h1.0v1.0h-1.0zM380.1 78.2h1.0v1.0h-1.0zM401.4 66.3h1.0v1.0h-1.0zM399.2 72.1h1.0v1.0h-1.0zM411.2 103.1h1.0v1.0h-1.0zM376.4 100.3h1.0v1.0h-1.0zM370.2 60.8h1.0v1.0h-1.0zM397.6 71.8h1.0v1.0h-1.0zM408.5 73.6h1.0v1.0h-1.0zM412.9 91.8h1.0v1.0h-1.0zM385.4 91.1h1.0v1.0h-1.0zM376.5 83.8h1.0v1.0h-1.0zM402.8 92.0h1.0v1.0h-1.0zM410.9 65.3h1.0v1.0h-1.0zM386.3 57.7h1.0v1.0h-1.0zM388.2 59.6h1.0v1.0h-1.0zM379.5 59.6h1.0v1.0h-1.0zM383.3 62.9h1.0v1.0h-1.0zM412.5 79.2h1.0v1.0h-1.0zM388.3 91.3h1.0v1.0h-1.0zM392.0 80.1h1.0v1.0h-1.0zM373.8 89.4h1.0v1.0h-1.0zM407.6 84.3h1.0v1.0h-1.0zM383.1 64.2h1.0v1.0h-1.0zM400.2 96.6h1.0v1.0h-1.0zM399.2 99.9h1.0v1.0h-1.0zM407.2 63.1h1.0v1.0h-1.0zM414.4 58.1h1.0v1.0h-1.0zM382.2 86.4h1.0v1.0h-1.0zM387.5 76.8h1.0v1.0h-1.0zM394.6 56.6h1.0v1.0h-1.0zM403.3 75.2h1.0v1.0h-1.0zM377.9 58.4h1.0v1.0h-1.0zM372.9 90.3h1.0v1.0h-1.0zM371.7 70.6h1.0v1.0h-1.0zM404.0 66.5h1.0v1.0h-1.0zM384.9 65.8h1.0v1.0h-1.0zM388.9 73.8h1.0v1.0h-1.0zM393.6 74.5h1.0v1.0h-1.0zM370.6 83.5h1.0v1.0h-1.0zM405.4 92.6h1.0v1.0h-1.0zM411.3 98.2h1.0v1.0h-1.0zM409.4 96.4h1.0v1.0h-1.0zM396.4 95.7h1.0v1.0h-1.0zM394.5 69.6h1.0v1.0h-1.0zM376.8 90.7h1.0v1.0h-1.0zM378.8 63.1h1.0v1.0h-1.0zM395.8 90.6h1.0v1.0h-1.0zM396.6 92.0h1.0v1.0h-1.0zM410.0 61.3h1.0v1.0h-1.0zM388.7 68.5h1.0v1.0h-1.0zM382.7 66.2h1.0v1.0h-1.0zM398.1 88.0h1.0v1.0h-1.0zM409.6 71.3h1.0v1.0h-1.0zM394.5 85.3h1.0v1.0h-1.0zM411.8 81.5h1.0v1.0h-1.0zM402.2 69.5h1.0v1.0h-1.0zM409.1 97.2h1.0v1.0h-1.0zM369.8 85.1h1.0v1.0h-1.0zM403.0 102.6h1.0v1.0h-1.0zM388.8 62.2h1.0v1.0h-1.0zM409.9 57.4h1.0v1.0h-1.0zM409.8 81.6h1.0v1.0h-1.0zM386.5 87.2h1.0v1.0h-1.0zM375.3 77.5h1.0v1.0h-1.0zM401.6 96.4h1.0v1.0h-1.0zM379.9 78.3h1.0v1.0h-1.0zM405.8 63.7h1.0v1.0h-1.0zM413.2 99.0h1.0v1.0h-1.0zM399.7 88.4h1.0v1.0h-1.0zM388.6 92.7h1.0v1.0h-1.0zM377.8 80.7h1.0v1.0h-1.0zM375.7 97.2h1.0v1.0h-1.0zM372.6 86.6h1.0v1.0h-1.0zM393.7 56.2h1.0v1.0h-1.0zM389.1 61.7h1.0v1.0h-1.0zM413.1 77.7h1.0v1.0h-1.0zM382.7 73.0h1.0v1.0h-1.0zM385.2 61.3h1.0v1.0h-1.0zM376.4 88.8h1.0v1.0h-1.0zM387.5 95.1h1.0v1.0h-1.0zM387.6 86.9h1.0v1.0h-1.0zM398.8 103.2h1.0v1.0h-1.0zM412.4 85.5h1.0v1.0h-1.0zM407.7 57.6h1.0v1.0h-1.0zM377.0 96.1h1.0v1.0h-1.0zM402.0 89.6h1.0v1.0h-1.0zM385.2 66.5h1.0v1.0h-1.0zM369.7 60.8h1.0v1.0h-1.0zM405.3 67.3h1.0v1.0h-1.0zM393.9 58.8h1.0v1.0h-1.0zM381.9 68.6h1.0v1.0h-1.0zM386.7 77.5h1.0v1.0h-1.0zM388.2 74.7h1.0v1.0h-1.0zM371.8 69.8h1.0v1.0h-1.0zM388.4 64.7h1.0v1.0h-1.0zM378.1 65.6h1.0v1.0h-1.0zM411.2 72.3h1.0v1.0h-1.0zM401.9 91.7h1.0v1.0h-1.0zM380.4 82.3h1.0v1.0h-1.0zM386.3 61.1h1.0v1.0h-1.0zM380.3 79.5h1.0v1.0h-1.0zM404.5 66.6h1.0v1.0h-1.0zM378.9 64.9h1.0v1.0h-1.0zM403.0 58.3h1.0v1.0h-1.0zM391.9 65.0h1.0v1.0h-1.0zM414.2 88.2h1.0v1.0h-1.0zM384.5 71.9h1.0v1.0h-1.0zM373.2 84.1h1.0v1.0h-1.0zM382.2 83.4h1.0v1.0h-1.0zM414.2 57.6h1.0v1.0h-1.0zM390.2 57.7h1.0v1.0h-1.0zM410.7 93.5h1.0v1.0h-1.0zM383.4 102.7h1.0v1.0h-1.0zM399.6 95.1h1.0v1.0h-1.0zM388.2 65.6h1.0v1.0h-1.0zM407.1 94.2h1.0v1.0h-1.0zM378.5 91.1h1.0v1.0h-1.0zM391.0 79.0h1.0v1.0h-1.0zM402.3 68.7h1.0v1.0h-1.0zM387.5 70.1h1.0v1.0h-1.0zM399.2 100.9h1.0v1.0h-1.0zM373.4 92.0h1.0v1.0h-1.0zM391.1 99.3h1.0v1.0h-1.0zM378.6 85.8h1.0v1.0h-1.0zM383.8 91.9h1.0v1.0h-1.0zM376.5 57.1h1.0v1.0h-1.0zM376.8 89.9h1.0v1.0h-1.0zM390.0 86.5h1.0v1.0h-1.0zM394.8 82.9h1.0v1.0h-1.0zM406.6 58.9h1.0v1.0h-1.0zM372.2 93.8h1.0v1.0h-1.0zM388.3 98.4h1.0v1.0h-1.0zM413.2 84.3h1.0v1.0h-1.0zM404.6 76.0h1.0v1.0h-1.0zM412.3 66.2h1.0v1.0h-1.0zM368.6 75.3h1.0v1.0h-1.0zM376.4 99.5h1.0v1.0h-1.0zM403.4 58.4h1.0v1.0h-1.0zM403.7 101.7h1.0v1.0h-1.0zM390.9 56.7h1.0v1.0h-1.0zM370.5 87.3h1.0v1.0h-1.0zM374.4 100.0h1.0v1.0h-1.0zM413.1 86.8h1.0v1.0h-1.0zM406.4 59.8h1.0v1.0h-1.0zM390.1 86.9h1.0v1.0h-1.0zM392.0 81.9h1.0v1.0h-1.0zM394.9 93.5h1.0v1.0h-1.0zM374.7 101.2h1.0v1.0h-1.0zM374.7 59.4h1.0v1.0h-1.0zM396.8 81.5h1.0v1.0h-1.0zM411.1 64.9h1.0v1.0h-1.0zM391.9 64.9h1.0v1.0h-1.0zM393.3 78.1h1.0v1.0h-1.0zM404.8 75.3h1.0v1.0h-1.0zM383.2 93.6h1.0v1.0h-1.0zM386.2 98.0h1.0v1.0h-1.0zM393.0 71.3h1.0v1.0h-1.0zM376.2 86.6h1.0v1.0h-1.0zM375.2 81.2h1.0v1.0h-1.0zM406.5 66.2h1.0v1.0h-1.0zM371.7 69.1h1.0v1.0h-1.0zM385.7 94.3h1.0v1.0h-1.0zM402.9 63.5h1.0v1.0h-1.0zM378.5 79.4h1.0v1.0h-1.0zM377.4 74.3h1.0v1.0h-1.0zM394.9 84.0h1.0v1.0h-1.0zM395.0 94.6h1.0v1.0h-1.0zM396.2 56.6h1.0v1.0h-1.0zM406.6 87.4h1.0v1.0h-1.0zM389.1 69.3h1.0v1.0h-1.0zM396.7 77.7h1.0v1.0h-1.0zM382.4 57.1h1.0v1.0h-1.0zM407.8 82.1h1.0v1.0h-1.0zM396.2 100.0h1.0v1.0h-1.0zM388.0 75.3h1.0v1.0h-1.0zM388.8 81.3h1.0v1.0h-1.0zM388.7 71.6h1.0v1.0h-1.0zM371.6 71.4h1.0v1.0h-1.0zM368.8 101.8h1.0v1.0h-1.0zM384.4 73.0h1.0v1.0h-1.0zM399.2 85.5h1.0v1.0h-1.0zM367.7 56.5h1.0v1.0h-1.0zM380.9 80.8h1.0v1.0h-1.0zM407.4 75.6h1.0v1.0h-1.0zM390.6 65.1h1.0v1.0h-1.0zM391.6 97.7h1.0v1.0h-1.0zM372.9 56.8h1.0v1.0h-1.0zM381.8 56.3h1.0v1.0h-1.0zM412.1 64.0h1.0v1.0h-1.0zM407.6 80.8h1.0v1.0h-1.0zM402.4 65.6h1.0v1.0h-1.0zM388.9 70.3h1.0v1.0h-1.0zM382.3 77.8h1.0v1.0h-1.0zM403.3 87.5h1.0v1.0h-1.0zM398.3 62.3h1.0v1.0h-1.0zM387.5 81.0h1.0v1.0h-1.0zM388.7 84.2h1.0v1.0h-1.0zM397.8 82.6h1.0v1.0h-1.0zM402.7 94.3h1.0v1.0h-1.0zM411.7 88.6h1.0v1.0h-1.0zM378.2 96.7h1.0v1.0h-1.0zM375.0 94.1h1.0v1.0h-1.0zM391.3 62.7h1.0v1.0h-1.0zM397.0 79.4h1.0v1.0h-1.0zM397.6 59.5h1.0v1.0h-1.0zM381.8 102.0h1.0v1.0h-1.0zM383.9 101.7h1.0v1.0h-1.0zM413.6 102.7h1.0v1.0h-1.0zM406.8 64.2h1.0v1.0h-1.0zM389.5 95.6h1.0v1.0h-1.0zM413.2 75.4h1.0v1.0h-1.0zM389.1 97.0h1.0v1.0h-1.0zM402.5 70.6h1.0v1.0h-1.0zM382.5 84.3h1.0v1.0h-1.0zM380.4 63.0h1.0v1.0h-1.0zM410.0 91.8h1.0v1.0h-1.0zM376.9 87.6h1.0v1.0h-1.0zM413.0 69.3h1.0v1.0h-1.0zM394.9 58.3h1.0v1.0h-1.0zM391.5 98.6h1.0v1.0h-1.0zM387.0 103.4h1.0v1.0h-1.0zM386.4 67.1h1.0v1.0h-1.0zM389.5 83.7h1.0v1.0h-1.0zM395.8 98.9h1.0v1.0h-1.0zM378.1 96.1h1.0v1.0h-1.0zM384.9 72.8h1.0v1.0h-1.0zM373.2 73.9h1.0v1.0h-1.0zM401.6 87.5h1.0v1.0h-1.0zM394.9 88.1h1.0v1.0h-1.0zM382.0 75.6h1.0v1.0h-1.0zM387.2 72.7h1.0v1.0h-1.0zM403.6 84.9h1.0v1.0h-1.0zM401.8 88.8h1.0v1.0h-1.0zM406.3 84.2h1.0v1.0h-1.0zM384.3 82.2h1.0v1.0h-1.0zM375.5 86.8h1.0v1.0h-1.0zM401.9 75.3h1.0v1.0h-1.0zM380.2 69.3h1.0v1.0h-1.0zM392.6 67.4h1.0v1.0h-1.0zM390.8 76.7h1.0v1.0h-1.0zM399.7 81.2h1.0v1.0h-1.0zM411.0 61.3h1.0v1.0h-1.0z"/>
<path fill="#706464" d="M385.5 60.8h1.0v1.0h-1.0zM398.8 100.4h1.0v1.0h-1.0zM386.0 101.9h1.0v1.0h-1.0zM393.6 93.6h1.0v1.0h-1.0zM410.9 57.3h1.0v1.0h-1.0zM400.9 101.2h1.0v1.0h-1.0zM395.0 86.8h1.0v1.0h-1.0zM379.7 90.0h1.0v1.0h-1.0zM408.1 92.3h1.0v1.0h-1.0zM375.8 84.1h1.0v1.0h-1.0zM387.4 92.3h1.0v1.0h-1.0zM402.9 92.5h1.0v1.0h-1.0zM402.5 70.6h1.0v1.0h-1.0zM384.9 63.8h1.0v1.0h-1.0zM412.8 61.8h1.0v1.0h-1.0zM410.3 75.3h1.0v1.0h-1.0zM391.3 76.2h1.0v1.0h-1.0zM370.5 77.3h1.0v1.0h-1.0zM401.0 85.7h1.0v1.0h-1.0zM398.1 89.3h1.0v1.0h-1.0zM370.1 86.8h1.0v1.0h-1.0zM406.1 99.4h1.0v1.0h-1.0zM378.8 81.7h1.0v1.0h-1.0zM409.4 67.4h1.0v1.0h-1.0zM382.7 69.8h1.0v1.0h-1.0zM378.3 76.2h1.0v1.0h-1.0zM395.8 90.0h1.0v1.0h-1.0zM399.2 57.5h1.0v1.0h-1.0zM386.3 92.7h1.0v1.0h-1.0zM394.5 92.1h1.0v1.0h-1.0zM403.1 101.1h1.0v1.0h-1.0zM377.2 92.6h1.0v1.0h-1.0zM379.2 101.1h1.0v1.0h-1.0zM374.5 100.4h1.0v1.0h-1.0zM402.1 69.9h1.0v1.0h-1.0zM396.3 95.8h1.0v1.0h-1.0zM402.7 88.9h1.0v1.0h-1.0zM397.9 78.7h1.0v1.0h-1.0zM408.7 72.7h1.0v1.0h-1.0zM404.0 99.3h1.0v1.0h-1.0zM396.9 61.7h1.0v1.0h-1.0zM387.5 94.7h1.0v1.0h-1.0zM375.9 80.9h1.0v1.0h-1.0zM368.8 95.8h1.0v1.0h-1.0zM404.7 100.7h1.0v1.0h-1.0zM374.0 102.0h1.0v1.0h-1.0zM405.2 99.7h1.0v1.0h-1.0zM400.5 78.5h1.0v1.0h-1.0zM414.3 65.3h1.0v1.0h-1.0zM391.0 59.8h1.0v1.0h-1.0zM402.3 95.6h1.0v1.0h-1.0zM407.0 86.9h1.0v1.0h-1.0zM404.6 95.3h1.0v1.0h-1.0zM407.5 70.0h1.0v1.0h-1.0zM401.1 84.3h1.0v1.0h-1.0zM389.1 89.9h1.0v1.0h-1.0zM405.5 79.8h1.0v1.0h-1.0zM393.6 99.1h1.0v1.0h-1.0zM382.3 77.9h1.0v1.0h-1.0zM404.8 81.1h1.0v1.0h-1.0zM390.2 103.2h1.0v1.0h-1.0zM404.1 59.0h1.0v1.0h-1.0zM408.8 68.1h1.0v1.0h-1.0zM384.6 65.9h1.0v1.0h-1.0zM397.8 74.6h1.0v1.0h-1.0zM393.4 56.3h1.0v1.0h-1.0zM400.8 75.9h1.0v1.0h-1.0zM378.4 68.9h1.0v1.0h-1.0zM402.5 94.7h1.0v1.0h-1.0zM390.8 95.7h1.0v1.0h-1.0zM396.8 76.4h1.0v1.0h-1.0zM389.0 66.7h1.0v1.0h-1.0zM380.3 61.9h1.0v1.0h-1.0zM394.8 80.0h1.0v1.0h-1.0zM404.8 79.7h1.0v1.0h-1.0zM374.5 90.1h1.0v1.0h-1.0zM400.5 80.1h1.0v1.0h-1.0zM382.1 66.2h1.0v1.0h-1.0zM385.2 101.5h1.0v1.0h-1.0zM385.5 94.4h1.0v1.0h-1.0zM403.9 80.7h1.0v1.0h-1.0zM369.9 72.4h1.0v1.0h-1.0zM380.6 91.6h1.0v1.0h-1.0zM411.4 73.7h1.0v1.0h-1.0zM383.1 58.2h1.0v1.0h-1.0zM404.4 75.8h1.0v1.0h-1.0zM368.9 82.2h1.0v1.0h-1.0zM397.7 62.5h1.0v1.0h-1.0zM412.2 69.9h1.0v1.0h-1.0zM409.5 86.7h1.0v1.0h-1.0zM403.9 65.8h1.0v1.0h-1.0zM391.6 84.8h1.0v1.0h-1.0z"/>
<line x1="243.00" y1="7.30" x2="243.00" y2="156.10" stroke="#707070" stroke-width="0.8"/>
<line x1="243.00" y1="155.70" x2="413.60" y2="155.70" stroke="#707070" stroke-width="0.8"/>
<line x1="241.50" y1="146.88" x2="243.00" y2="146.88" stroke="#707070" stroke-width="0.7"/>
<line x1="241.50" y1="140.70" x2="243.00" y2="140.70" stroke="#707070" stroke-width="0.7"/>
<line x1="241.50" y1="135.90" x2="243.00" y2="135.90" stroke="#707070" stroke-width="0.7"/>
<line x1="241.50" y1="131.98" x2="243.00" y2="131.98" stroke="#707070" stroke-width="0.7"/>
<line x1="241.50" y1="128.67" x2="243.00" y2="128.67" stroke="#707070" stroke-width="0.7"/>
<line x1="241.50" y1="125.80" x2="243.00" y2="125.80" stroke="#707070" stroke-width="0.7"/>
<line x1="241.50" y1="123.26" x2="243.00" y2="123.26" stroke="#707070" stroke-width="0.7"/>
<line x1="240.50" y1="121.00" x2="243.00" y2="121.00" stroke="#707070" stroke-width="0.7"/>
<line x1="241.50" y1="106.10" x2="243.00" y2="106.10" stroke="#707070" stroke-width="0.7"/>
<line x1="241.50" y1="97.38" x2="243.00" y2="97.38" stroke="#707070" stroke-width="0.7"/>
<line x1="241.50" y1="91.20" x2="243.00" y2="91.20" stroke="#707070" stroke-width="0.7"/>
<line x1="241.50" y1="86.40" x2="243.00" y2="86.40" stroke="#707070" stroke-width="0.7"/>
<line x1="241.50" y1="82.48" x2="243.00" y2="82.48" stroke="#707070" stroke-width="0.7"/>
<line x1="241.50" y1="79.17" x2="243.00" y2="79.17" stroke="#707070" stroke-width="0.7"/>
<line x1="241.50" y1="76.30" x2="243.00" y2="76.30" stroke="#707070" stroke-width="0.7"/>
<line x1="241.50" y1="73.76" x2="243.00" y2="73.76" stroke="#707070" stroke-width="0.7"/>
<line x1="240.50" y1="71.50" x2="243.00" y2="71.50" stroke="#707070" stroke-width="0.7"/>
<line x1="241.50" y1="56.60" x2="243.00" y2="56.60" stroke="#707070" stroke-width="0.7"/>
<line x1="241.50" y1="47.88" x2="243.00" y2="47.88" stroke="#707070" stroke-width="0.7"/>
<line x1="241.50" y1="41.70" x2="243.00" y2="41.70" stroke="#707070" stroke-width="0.7"/>
<line x1="241.50" y1="36.90" x2="243.00" y2="36.90" stroke="#707070" stroke-width="0.7"/>
<line x1="241.50" y1="32.98" x2="243.00" y2="32.98" stroke="#707070" stroke-width="0.7"/>
<line x1="241.50" y1="29.67" x2="243.00" y2="29.67" stroke="#707070" stroke-width="0.7"/>
<line x1="241.50" y1="26.80" x2="243.00" y2="26.80" stroke="#707070" stroke-width="0.7"/>
<line x1="241.50" y1="24.26" x2="243.00" y2="24.26" stroke="#707070" stroke-width="0.7"/>
<line x1="240.50" y1="22.00" x2="243.00" y2="22.00" stroke="#707070" stroke-width="0.7"/>
<text x="225.72" y="25.10" font-size="8.6" fill="#2e2e2e" textLength="8.23" lengthAdjust="spacingAndGlyphs">10</text>
<text x="234.45" y="20.80" font-size="5.33" fill="#2e2e2e" textLength="2.55" lengthAdjust="spacingAndGlyphs">2</text>
<text x="225.72" y="74.60" font-size="8.6" fill="#2e2e2e" textLength="8.23" lengthAdjust="spacingAndGlyphs">10</text>
<text x="234.45" y="70.30" font-size="5.33" fill="#2e2e2e" textLength="2.55" lengthAdjust="spacingAndGlyphs">1</text>
<text x="225.72" y="124.10" font-size="8.6" fill="#2e2e2e" textLength="8.23" lengthAdjust="spacingAndGlyphs">10</text>
<text x="234.45" y="119.80" font-size="5.33" fill="#2e2e2e" textLength="2.55" lengthAdjust="spacingAndGlyphs">0</text>
<line x1="251.00" y1="155.70" x2="251.00" y2="158.20" stroke="#707070" stroke-width="0.7"/>
<text x="251.00" y="168.24" font-size="9" text-anchor="middle" fill="#2e2e2e" textLength="4.60" lengthAdjust="spacingAndGlyphs">0</text>
<line x1="289.62" y1="155.70" x2="289.62" y2="158.20" stroke="#707070" stroke-width="0.7"/>
<text x="289.62" y="168.24" font-size="9" text-anchor="middle" fill="#2e2e2e" textLength="4.60" lengthAdjust="spacingAndGlyphs">5</text>
<line x1="328.25" y1="155.70" x2="328.25" y2="158.20" stroke="#707070" stroke-width="0.7"/>
<text x="328.25" y="168.24" font-size="9" text-anchor="middle" fill="#2e2e2e" textLength="9.21" lengthAdjust="spacingAndGlyphs">10</text>
<line x1="366.88" y1="155.70" x2="366.88" y2="158.20" stroke="#707070" stroke-width="0.7"/>
<text x="366.88" y="168.24" font-size="9" text-anchor="middle" fill="#2e2e2e" textLength="9.21" lengthAdjust="spacingAndGlyphs">15</text>
<line x1="405.50" y1="155.70" x2="405.50" y2="158.20" stroke="#707070" stroke-width="0.7"/>
<text x="405.50" y="168.24" font-size="9" text-anchor="middle" fill="#2e2e2e" textLength="9.21" lengthAdjust="spacingAndGlyphs">20</text>
<text x="328.40" y="178.81" font-size="9.2" text-anchor="middle" fill="#2e2e2e" textLength="37.60" lengthAdjust="spacingAndGlyphs">Time (ps)</text>
<text x="214.60" y="83.71" font-size="9.2" text-anchor="middle" fill="#2e2e2e" textLength="38.80" lengthAdjust="spacingAndGlyphs" transform="rotate(-90 214.60 80.40)">MSD (Å²)</text>
<line x1="265.90" y1="75.30" x2="374.30" y2="46.60" stroke="#1f4f8a" stroke-width="1.0" stroke-dasharray="2.4,1.6"/>
<line x1="259.80" y1="137.00" x2="358.20" y2="120.90" stroke="#6b2a28" stroke-width="1.0" stroke-dasharray="2.4,1.6"/>
<circle cx="254.86" cy="119.87" r="2.60" fill="none" stroke="#4b93de" stroke-width="0.85"/>
<circle cx="258.73" cy="105.10" r="2.60" fill="none" stroke="#4b93de" stroke-width="0.85"/>
<circle cx="262.59" cy="96.50" r="2.60" fill="none" stroke="#4b93de" stroke-width="0.85"/>
<circle cx="266.45" cy="90.44" r="2.60" fill="none" stroke="#4b93de" stroke-width="0.85"/>
<circle cx="270.31" cy="85.76" r="2.60" fill="none" stroke="#4b93de" stroke-width="0.85"/>
<circle cx="274.18" cy="81.96" r="2.60" fill="none" stroke="#4b93de" stroke-width="0.85"/>
<circle cx="278.04" cy="78.75" r="2.60" fill="none" stroke="#4b93de" stroke-width="0.85"/>
<circle cx="281.90" cy="75.98" r="2.60" fill="none" stroke="#4b93de" stroke-width="0.85"/>
<circle cx="285.76" cy="73.55" r="2.60" fill="none" stroke="#4b93de" stroke-width="0.85"/>
<circle cx="289.62" cy="71.38" r="2.60" fill="none" stroke="#4b93de" stroke-width="0.85"/>
<circle cx="293.49" cy="69.42" r="2.60" fill="none" stroke="#4b93de" stroke-width="0.85"/>
<circle cx="297.35" cy="67.62" r="2.60" fill="none" stroke="#4b93de" stroke-width="0.85"/>
<circle cx="301.21" cy="65.97" r="2.60" fill="none" stroke="#4b93de" stroke-width="0.85"/>
<circle cx="305.07" cy="64.44" r="2.60" fill="none" stroke="#4b93de" stroke-width="0.85"/>
<circle cx="308.94" cy="63.01" r="2.60" fill="none" stroke="#4b93de" stroke-width="0.85"/>
<circle cx="312.80" cy="61.67" r="2.60" fill="none" stroke="#4b93de" stroke-width="0.85"/>
<circle cx="316.66" cy="60.40" r="2.60" fill="none" stroke="#4b93de" stroke-width="0.85"/>
<circle cx="320.52" cy="59.19" r="2.60" fill="none" stroke="#4b93de" stroke-width="0.85"/>
<circle cx="324.39" cy="58.04" r="2.60" fill="none" stroke="#4b93de" stroke-width="0.85"/>
<circle cx="328.25" cy="56.95" r="2.60" fill="none" stroke="#4b93de" stroke-width="0.85"/>
<circle cx="332.11" cy="55.89" r="2.60" fill="none" stroke="#4b93de" stroke-width="0.85"/>
<circle cx="335.98" cy="54.88" r="2.60" fill="none" stroke="#4b93de" stroke-width="0.85"/>
<circle cx="339.84" cy="53.90" r="2.60" fill="none" stroke="#4b93de" stroke-width="0.85"/>
<circle cx="343.70" cy="52.95" r="2.60" fill="none" stroke="#4b93de" stroke-width="0.85"/>
<circle cx="347.56" cy="52.03" r="2.60" fill="none" stroke="#4b93de" stroke-width="0.85"/>
<circle cx="351.43" cy="51.13" r="2.60" fill="none" stroke="#4b93de" stroke-width="0.85"/>
<circle cx="355.29" cy="50.26" r="2.60" fill="none" stroke="#4b93de" stroke-width="0.85"/>
<circle cx="359.15" cy="49.41" r="2.60" fill="none" stroke="#4b93de" stroke-width="0.85"/>
<circle cx="363.01" cy="48.58" r="2.60" fill="none" stroke="#4b93de" stroke-width="0.85"/>
<circle cx="366.88" cy="47.76" r="2.60" fill="none" stroke="#4b93de" stroke-width="0.85"/>
<circle cx="370.74" cy="46.96" r="2.60" fill="none" stroke="#4b93de" stroke-width="0.85"/>
<circle cx="374.60" cy="46.18" r="2.60" fill="none" stroke="#4b93de" stroke-width="0.85"/>
<circle cx="378.46" cy="45.42" r="2.60" fill="none" stroke="#4b93de" stroke-width="0.85"/>
<circle cx="382.32" cy="44.67" r="2.60" fill="none" stroke="#4b93de" stroke-width="0.85"/>
<circle cx="386.19" cy="43.93" r="2.60" fill="none" stroke="#4b93de" stroke-width="0.85"/>
<circle cx="390.05" cy="43.20" r="2.60" fill="none" stroke="#4b93de" stroke-width="0.85"/>
<circle cx="393.91" cy="42.49" r="2.60" fill="none" stroke="#4b93de" stroke-width="0.85"/>
<circle cx="397.77" cy="41.80" r="2.60" fill="none" stroke="#4b93de" stroke-width="0.85"/>
<circle cx="401.64" cy="41.12" r="2.60" fill="none" stroke="#4b93de" stroke-width="0.85"/>
<circle cx="405.50" cy="40.45" r="2.60" fill="none" stroke="#4b93de" stroke-width="0.85"/>
<circle cx="255.00" cy="142.60" r="2.60" fill="none" stroke="#d9635a" stroke-width="0.85"/>
<circle cx="259.00" cy="135.50" r="2.60" fill="none" stroke="#d9635a" stroke-width="0.85"/>
<circle cx="262.70" cy="135.50" r="2.60" fill="none" stroke="#d9635a" stroke-width="0.85"/>
<circle cx="266.40" cy="135.20" r="2.60" fill="none" stroke="#d9635a" stroke-width="0.85"/>
<circle cx="270.40" cy="136.60" r="2.60" fill="none" stroke="#d9635a" stroke-width="0.85"/>
<circle cx="274.30" cy="138.40" r="2.60" fill="none" stroke="#d9635a" stroke-width="0.85"/>
<circle cx="278.00" cy="136.20" r="2.60" fill="none" stroke="#d9635a" stroke-width="0.85"/>
<circle cx="282.00" cy="134.30" r="2.60" fill="none" stroke="#d9635a" stroke-width="0.85"/>
<circle cx="286.00" cy="132.80" r="2.60" fill="none" stroke="#d9635a" stroke-width="0.85"/>
<circle cx="289.50" cy="131.80" r="2.60" fill="none" stroke="#d9635a" stroke-width="0.85"/>
<circle cx="293.60" cy="131.50" r="2.60" fill="none" stroke="#d9635a" stroke-width="0.85"/>
<circle cx="297.50" cy="132.20" r="2.60" fill="none" stroke="#d9635a" stroke-width="0.85"/>
<circle cx="301.00" cy="131.00" r="2.60" fill="none" stroke="#d9635a" stroke-width="0.85"/>
<circle cx="305.00" cy="130.70" r="2.60" fill="none" stroke="#d9635a" stroke-width="0.85"/>
<circle cx="309.00" cy="128.80" r="2.60" fill="none" stroke="#d9635a" stroke-width="0.85"/>
<circle cx="313.00" cy="128.10" r="2.60" fill="none" stroke="#d9635a" stroke-width="0.85"/>
<circle cx="316.70" cy="128.40" r="2.60" fill="none" stroke="#d9635a" stroke-width="0.85"/>
<circle cx="320.50" cy="127.30" r="2.60" fill="none" stroke="#d9635a" stroke-width="0.85"/>
<circle cx="324.50" cy="125.90" r="2.60" fill="none" stroke="#d9635a" stroke-width="0.85"/>
<circle cx="328.00" cy="125.30" r="2.60" fill="none" stroke="#d9635a" stroke-width="0.85"/>
<circle cx="331.60" cy="125.30" r="2.60" fill="none" stroke="#d9635a" stroke-width="0.85"/>
<circle cx="336.10" cy="124.60" r="2.60" fill="none" stroke="#d9635a" stroke-width="0.85"/>
<circle cx="339.80" cy="124.30" r="2.60" fill="none" stroke="#d9635a" stroke-width="0.85"/>
<circle cx="343.90" cy="123.10" r="2.60" fill="none" stroke="#d9635a" stroke-width="0.85"/>
<circle cx="347.90" cy="121.60" r="2.60" fill="none" stroke="#d9635a" stroke-width="0.85"/>
<circle cx="351.60" cy="121.90" r="2.60" fill="none" stroke="#d9635a" stroke-width="0.85"/>
<circle cx="355.70" cy="119.40" r="2.60" fill="none" stroke="#d9635a" stroke-width="0.85"/>
<circle cx="359.40" cy="117.20" r="2.60" fill="none" stroke="#d9635a" stroke-width="0.85"/>
<circle cx="363.40" cy="119.40" r="2.60" fill="none" stroke="#d9635a" stroke-width="0.85"/>
<circle cx="367.10" cy="119.40" r="2.60" fill="none" stroke="#d9635a" stroke-width="0.85"/>
<circle cx="371.10" cy="116.40" r="2.60" fill="none" stroke="#d9635a" stroke-width="0.85"/>
<circle cx="375.20" cy="115.70" r="2.60" fill="none" stroke="#d9635a" stroke-width="0.85"/>
<circle cx="378.90" cy="114.20" r="2.60" fill="none" stroke="#d9635a" stroke-width="0.85"/>
<circle cx="382.60" cy="111.30" r="2.60" fill="none" stroke="#d9635a" stroke-width="0.85"/>
<circle cx="386.30" cy="118.30" r="2.60" fill="none" stroke="#d9635a" stroke-width="0.85"/>
<circle cx="390.00" cy="118.60" r="2.60" fill="none" stroke="#d9635a" stroke-width="0.85"/>
<circle cx="394.00" cy="117.90" r="2.60" fill="none" stroke="#d9635a" stroke-width="0.85"/>
<circle cx="397.90" cy="116.90" r="2.60" fill="none" stroke="#d9635a" stroke-width="0.85"/>
<circle cx="401.80" cy="117.90" r="2.60" fill="none" stroke="#d9635a" stroke-width="0.85"/>
<circle cx="405.50" cy="117.50" r="2.60" fill="none" stroke="#d9635a" stroke-width="0.85"/>
<text x="295.70" y="78.85" font-size="8.2" text-anchor="start" fill="#4b93de" textLength="5.33" lengthAdjust="spacingAndGlyphs">H</text>
<text x="301.50" y="80.07" font-size="5.2" text-anchor="start" fill="#4b93de">2</text>
<text x="304.50" y="78.85" font-size="8.2" text-anchor="start" fill="#4b93de" textLength="16.81" lengthAdjust="spacingAndGlyphs">O–Cl</text>
<text x="321.50" y="74.47" font-size="5.2" text-anchor="start" fill="#4b93de">−</text>
<text x="325.70" y="116.45" font-size="8.2" text-anchor="start" fill="#d9635a" textLength="22.14" lengthAdjust="spacingAndGlyphs">Gly–Cl</text>
<text x="347.50" y="112.27" font-size="5.2" text-anchor="start" fill="#d9635a">−</text>
<g transform="translate(315.8,55.5) rotate(-16.5)"><text x="0" y="0" font-size="8.0" fill="#4b93de" textLength="76" lengthAdjust="spacingAndGlyphs">D<tspan font-size="4.8" dy="1.8">1</tspan><tspan dy="-1.8"> = 2.11 × 10</tspan><tspan font-size="4.8" dy="-3.3">−5</tspan><tspan dy="3.3"> cm</tspan><tspan font-size="4.8" dy="-3.3">2</tspan><tspan dy="3.3"> s</tspan><tspan font-size="4.8" dy="-3.3">−1</tspan></text></g>
<g transform="translate(282.5,148.2) rotate(-12.0)"><text x="0" y="0" font-size="8.0" fill="#d9635a" textLength="82" lengthAdjust="spacingAndGlyphs">D<tspan font-size="4.8" dy="1.8">2</tspan><tspan dy="-1.8"> = 0.67 × 10</tspan><tspan font-size="4.8" dy="-3.3">−6</tspan><tspan dy="3.3"> cm</tspan><tspan font-size="4.8" dy="-3.3">2</tspan><tspan dy="3.3"> s</tspan><tspan font-size="4.8" dy="-3.3">−1</tspan></text></g>
<text x="447.00" y="10.30" font-size="12.5" text-anchor="start" fill="#111" font-weight="bold">c</text>
<g clip-path="url(#clipc)"><g filter="url(#blurc)" shape-rendering="crispEdges"><path fill="#e6ebd2" d="M467.1 0.8h15v3h-15zM467.1 3.8h15v3h-15zM467.1 6.8h15v3h-15zM467.1 9.8h15v3h-15zM467.1 12.8h15v3h-15zM467.1 15.8h18v3h-18zM467.1 18.8h18v3h-18zM605.1 18.8h3v3h-3zM467.1 21.8h18v3h-18zM467.1 24.8h18v3h-18zM467.1 27.8h18v3h-18zM467.1 30.8h18v3h-18zM467.1 33.8h21v3h-21zM608.1 33.8h3v3h-3zM467.1 36.8h21v3h-21zM467.1 39.8h21v3h-21zM467.1 42.8h21v3h-21zM611.1 42.8h3v3h-3zM467.1 45.8h21v3h-21zM467.1 48.8h24v3h-24zM614.1 48.8h3v3h-3zM467.1 51.8h24v3h-24zM467.1 54.8h24v3h-24zM617.1 54.8h3v3h-3zM467.1 57.8h27v3h-27zM467.1 60.8h27v3h-27zM620.1 60.8h3v3h-3zM467.1 63.8h27v3h-27zM467.1 66.8h30v3h-30zM623.1 66.8h3v3h-3zM467.1 69.8h30v3h-30zM467.1 72.8h30v3h-30zM467.1 75.8h30v3h-30zM629.1 75.8h3v3h-3zM467.1 78.8h33v3h-33zM467.1 81.8h33v3h-33zM467.1 84.8h36v3h-36zM635.1 84.8h21v3h-21zM467.1 87.8h36v3h-36zM638.1 87.8h18v3h-18zM467.1 90.8h39v3h-39zM641.1 90.8h15v3h-15zM467.1 93.8h39v3h-39zM641.1 93.8h15v3h-15zM467.1 96.8h39v3h-39zM644.1 96.8h12v3h-12zM467.1 99.8h42v3h-42zM644.1 99.8h12v3h-12zM467.1 102.8h42v3h-42zM647.1 102.8h9v3h-9zM467.1 105.8h45v3h-45zM467.1 108.8h45v3h-45zM467.1 111.8h48v3h-48zM467.1 114.8h48v3h-48zM467.1 117.8h51v3h-51zM467.1 120.8h51v3h-51zM467.1 123.8h51v3h-51zM467.1 126.8h51v3h-51zM467.1 129.8h51v3h-51zM467.1 132.8h51v3h-51zM467.1 135.8h51v3h-51zM467.1 138.8h51v3h-51zM467.1 141.8h51v3h-51zM467.1 144.8h51v3h-51zM467.1 147.8h51v3h-51zM467.1 150.8h51v3h-51zM467.1 153.8h51v3h-51zM467.1 156.8h51v3h-51zM467.1 159.8h51v3h-51zM467.1 162.8h51v3h-51z"/>
<path fill="#e6e6d7" d="M482.1 0.8h3v3h-3zM482.1 3.8h3v3h-3zM482.1 6.8h3v3h-3zM482.1 9.8h3v3h-3zM482.1 12.8h3v3h-3zM485.1 21.8h3v3h-3zM485.1 24.8h3v3h-3zM605.1 24.8h3v3h-3zM485.1 27.8h3v3h-3zM485.1 30.8h3v3h-3zM488.1 39.8h3v3h-3zM488.1 42.8h3v3h-3zM488.1 45.8h3v3h-3zM491.1 51.8h3v3h-3zM614.1 51.8h3v3h-3zM491.1 54.8h3v3h-3zM617.1 57.8h3v3h-3zM494.1 60.8h3v3h-3zM494.1 63.8h3v3h-3zM620.1 63.8h3v3h-3zM497.1 69.8h3v3h-3zM623.1 69.8h3v3h-3zM497.1 72.8h3v3h-3zM626.1 72.8h3v3h-3zM500.1 78.8h3v3h-3zM629.1 78.8h3v3h-3zM500.1 81.8h3v3h-3zM503.1 87.8h3v3h-3zM635.1 87.8h3v3h-3zM506.1 93.8h3v3h-3zM638.1 93.8h3v3h-3zM641.1 96.8h3v3h-3zM509.1 99.8h3v3h-3zM641.1 99.8h3v3h-3zM509.1 102.8h3v3h-3zM644.1 102.8h3v3h-3zM512.1 105.8h3v3h-3zM647.1 105.8h9v3h-9zM512.1 108.8h3v3h-3zM515.1 111.8h3v3h-3zM515.1 114.8h3v3h-3zM518.1 120.8h3v3h-3zM518.1 123.8h3v3h-3zM518.1 126.8h3v3h-3zM518.1 129.8h3v3h-3zM518.1 132.8h3v3h-3zM518.1 135.8h3v3h-3zM518.1 138.8h3v3h-3zM518.1 141.8h3v3h-3zM518.1 144.8h3v3h-3zM518.1 147.8h3v3h-3zM518.1 150.8h3v3h-3zM518.1 153.8h3v3h-3zM518.1 156.8h3v3h-3zM518.1 159.8h3v3h-3zM518.1 162.8h3v3h-3z"/>
<path fill="#e1e6d7" d="M485.1 0.8h6v3h-6zM602.1 0.8h3v3h-3zM485.1 3.8h6v3h-6zM602.1 3.8h3v3h-3zM485.1 6.8h6v3h-6zM602.1 6.8h3v3h-3zM485.1 9.8h6v3h-6zM602.1 9.8h3v3h-3zM485.1 12.8h6v3h-6zM602.1 12.8h3v3h-3zM485.1 15.8h6v3h-6zM602.1 15.8h3v3h-3zM485.1 18.8h6v3h-6zM602.1 18.8h3v3h-3zM488.1 21.8h6v3h-6zM602.1 21.8h3v3h-3zM488.1 24.8h6v3h-6zM488.1 27.8h6v3h-6zM605.1 27.8h3v3h-3zM488.1 30.8h6v3h-6zM605.1 30.8h3v3h-3zM488.1 33.8h6v3h-6zM605.1 33.8h3v3h-3zM488.1 36.8h6v3h-6zM608.1 36.8h3v3h-3zM491.1 39.8h6v3h-6zM608.1 39.8h3v3h-3zM491.1 42.8h6v3h-6zM608.1 42.8h3v3h-3zM491.1 45.8h6v3h-6zM611.1 45.8h3v3h-3zM491.1 48.8h6v3h-6zM611.1 48.8h3v3h-3zM494.1 51.8h6v3h-6zM611.1 51.8h3v3h-3zM494.1 54.8h6v3h-6zM614.1 54.8h3v3h-3zM494.1 57.8h6v3h-6zM614.1 57.8h3v3h-3zM497.1 60.8h6v3h-6zM617.1 60.8h3v3h-3zM497.1 63.8h6v3h-6zM617.1 63.8h3v3h-3zM497.1 66.8h6v3h-6zM620.1 66.8h3v3h-3zM500.1 69.8h6v3h-6zM620.1 69.8h3v3h-3zM500.1 72.8h6v3h-6zM623.1 72.8h3v3h-3zM500.1 75.8h6v3h-6zM623.1 75.8h6v3h-6zM503.1 78.8h6v3h-6zM626.1 78.8h3v3h-3zM503.1 81.8h6v3h-6zM626.1 81.8h6v3h-6zM503.1 84.8h9v3h-9zM629.1 84.8h6v3h-6zM506.1 87.8h6v3h-6zM629.1 87.8h6v3h-6zM506.1 90.8h9v3h-9zM632.1 90.8h6v3h-6zM509.1 93.8h6v3h-6zM632.1 93.8h6v3h-6zM509.1 96.8h9v3h-9zM635.1 96.8h6v3h-6zM512.1 99.8h6v3h-6zM635.1 99.8h6v3h-6zM512.1 102.8h6v3h-6zM638.1 102.8h6v3h-6zM515.1 105.8h6v3h-6zM638.1 105.8h9v3h-9zM515.1 108.8h6v3h-6zM641.1 108.8h15v3h-15zM518.1 111.8h6v3h-6zM641.1 111.8h15v3h-15zM518.1 114.8h6v3h-6zM644.1 114.8h12v3h-12zM518.1 117.8h9v3h-9zM644.1 117.8h12v3h-12zM521.1 120.8h6v3h-6zM521.1 123.8h6v3h-6zM521.1 126.8h6v3h-6zM521.1 129.8h6v3h-6zM521.1 132.8h6v3h-6zM521.1 135.8h6v3h-6zM521.1 138.8h6v3h-6zM521.1 141.8h6v3h-6zM521.1 144.8h6v3h-6zM521.1 147.8h6v3h-6zM521.1 150.8h6v3h-6zM521.1 153.8h6v3h-6zM521.1 156.8h6v3h-6zM521.1 159.8h6v3h-6zM521.1 162.8h6v3h-6z"/>
<path fill="#dce6dc" d="M491.1 0.8h3v3h-3zM599.1 0.8h3v3h-3zM491.1 3.8h3v3h-3zM599.1 3.8h3v3h-3zM491.1 6.8h3v3h-3zM599.1 6.8h3v3h-3zM491.1 9.8h3v3h-3zM599.1 9.8h3v3h-3zM491.1 12.8h3v3h-3zM491.1 15.8h3v3h-3zM494.1 21.8h3v3h-3zM494.1 24.8h3v3h-3zM602.1 24.8h3v3h-3zM494.1 27.8h3v3h-3zM602.1 27.8h3v3h-3zM494.1 30.8h3v3h-3zM494.1 33.8h3v3h-3zM497.1 36.8h3v3h-3zM605.1 36.8h3v3h-3zM497.1 39.8h3v3h-3zM605.1 39.8h3v3h-3zM497.1 42.8h3v3h-3zM497.1 45.8h3v3h-3zM608.1 45.8h3v3h-3zM500.1 48.8h3v3h-3zM608.1 48.8h3v3h-3zM500.1 51.8h3v3h-3zM500.1 54.8h3v3h-3zM611.1 54.8h3v3h-3zM503.1 57.8h3v3h-3zM503.1 60.8h3v3h-3zM614.1 60.8h3v3h-3zM503.1 63.8h3v3h-3zM614.1 63.8h3v3h-3zM506.1 66.8h3v3h-3zM617.1 66.8h3v3h-3zM506.1 69.8h3v3h-3zM617.1 69.8h3v3h-3zM506.1 72.8h3v3h-3zM620.1 72.8h3v3h-3zM509.1 75.8h3v3h-3zM620.1 75.8h3v3h-3zM509.1 78.8h3v3h-3zM509.1 81.8h3v3h-3zM623.1 81.8h3v3h-3zM512.1 84.8h3v3h-3zM512.1 87.8h3v3h-3zM626.1 87.8h3v3h-3zM515.1 90.8h3v3h-3zM515.1 93.8h3v3h-3zM629.1 93.8h3v3h-3zM518.1 96.8h3v3h-3zM632.1 96.8h3v3h-3zM518.1 99.8h3v3h-3zM632.1 99.8h3v3h-3zM521.1 102.8h3v3h-3zM635.1 102.8h3v3h-3zM521.1 105.8h3v3h-3zM635.1 105.8h3v3h-3zM524.1 108.8h3v3h-3zM638.1 108.8h3v3h-3zM524.1 111.8h3v3h-3zM638.1 111.8h3v3h-3zM527.1 114.8h3v3h-3zM641.1 114.8h3v3h-3zM527.1 117.8h3v3h-3zM641.1 117.8h3v3h-3zM527.1 120.8h3v3h-3zM644.1 120.8h12v3h-12zM527.1 123.8h3v3h-3zM647.1 123.8h9v3h-9zM527.1 126.8h3v3h-3zM527.1 129.8h3v3h-3zM527.1 132.8h3v3h-3zM527.1 135.8h3v3h-3zM527.1 138.8h6v3h-6zM527.1 141.8h6v3h-6zM530.1 144.8h3v3h-3zM530.1 147.8h3v3h-3zM530.1 150.8h3v3h-3zM530.1 153.8h3v3h-3zM530.1 156.8h3v3h-3zM530.1 159.8h3v3h-3zM530.1 162.8h3v3h-3z"/>
<path fill="#dce1dc" d="M494.1 0.8h3v3h-3zM494.1 3.8h3v3h-3zM494.1 6.8h3v3h-3zM494.1 9.8h3v3h-3zM494.1 12.8h3v3h-3zM599.1 12.8h3v3h-3zM494.1 15.8h3v3h-3zM599.1 15.8h3v3h-3zM494.1 18.8h3v3h-3zM497.1 24.8h3v3h-3zM497.1 27.8h3v3h-3zM497.1 30.8h3v3h-3zM602.1 30.8h3v3h-3zM497.1 33.8h3v3h-3zM500.1 39.8h3v3h-3zM500.1 42.8h3v3h-3zM605.1 42.8h3v3h-3zM500.1 45.8h3v3h-3zM503.1 51.8h3v3h-3zM608.1 51.8h3v3h-3zM503.1 54.8h3v3h-3zM611.1 57.8h3v3h-3zM506.1 60.8h3v3h-3zM506.1 63.8h3v3h-3zM509.1 66.8h3v3h-3zM614.1 66.8h3v3h-3zM509.1 69.8h3v3h-3zM509.1 72.8h3v3h-3zM617.1 72.8h3v3h-3zM512.1 75.8h3v3h-3zM512.1 78.8h3v3h-3zM620.1 78.8h3v3h-3zM512.1 81.8h3v3h-3zM620.1 81.8h3v3h-3zM515.1 84.8h3v3h-3zM623.1 84.8h3v3h-3zM515.1 87.8h3v3h-3zM623.1 87.8h3v3h-3zM518.1 90.8h3v3h-3zM626.1 90.8h3v3h-3zM518.1 93.8h3v3h-3zM626.1 93.8h3v3h-3zM521.1 96.8h3v3h-3zM629.1 96.8h3v3h-3zM521.1 99.8h3v3h-3zM629.1 99.8h3v3h-3zM524.1 102.8h3v3h-3zM632.1 102.8h3v3h-3zM524.1 105.8h3v3h-3zM632.1 105.8h3v3h-3zM527.1 108.8h3v3h-3zM635.1 108.8h3v3h-3zM527.1 111.8h3v3h-3zM635.1 111.8h3v3h-3zM530.1 114.8h3v3h-3zM638.1 114.8h3v3h-3zM530.1 117.8h3v3h-3zM638.1 117.8h3v3h-3zM530.1 120.8h3v3h-3zM641.1 120.8h3v3h-3zM530.1 123.8h3v3h-3zM644.1 123.8h3v3h-3zM530.1 126.8h3v3h-3zM644.1 126.8h12v3h-12zM530.1 129.8h3v3h-3zM530.1 132.8h3v3h-3zM530.1 135.8h6v3h-6zM533.1 138.8h3v3h-3zM533.1 141.8h3v3h-3zM533.1 144.8h3v3h-3zM533.1 147.8h3v3h-3zM533.1 150.8h3v3h-3zM533.1 153.8h3v3h-3zM533.1 156.8h3v3h-3zM533.1 159.8h3v3h-3zM533.1 162.8h3v3h-3z"/>
<path fill="#d7e1dc" d="M497.1 0.8h3v3h-3zM497.1 3.8h3v3h-3zM497.1 6.8h3v3h-3zM497.1 9.8h3v3h-3zM497.1 12.8h3v3h-3zM497.1 15.8h3v3h-3zM497.1 18.8h3v3h-3zM599.1 18.8h3v3h-3zM497.1 21.8h3v3h-3zM599.1 21.8h3v3h-3zM500.1 24.8h3v3h-3zM599.1 24.8h3v3h-3zM500.1 27.8h3v3h-3zM500.1 30.8h3v3h-3zM500.1 33.8h3v3h-3zM602.1 33.8h3v3h-3zM500.1 36.8h3v3h-3zM602.1 36.8h3v3h-3zM503.1 39.8h3v3h-3zM503.1 42.8h3v3h-3zM503.1 45.8h3v3h-3zM605.1 45.8h3v3h-3zM503.1 48.8h6v3h-6zM605.1 48.8h3v3h-3zM506.1 51.8h3v3h-3zM506.1 54.8h3v3h-3zM608.1 54.8h3v3h-3zM506.1 57.8h6v3h-6zM608.1 57.8h3v3h-3zM509.1 60.8h3v3h-3zM611.1 60.8h3v3h-3zM509.1 63.8h3v3h-3zM611.1 63.8h3v3h-3zM512.1 66.8h3v3h-3zM512.1 69.8h3v3h-3zM614.1 69.8h3v3h-3zM512.1 72.8h3v3h-3zM614.1 72.8h3v3h-3zM515.1 75.8h3v3h-3zM617.1 75.8h3v3h-3zM515.1 78.8h3v3h-3zM617.1 78.8h3v3h-3zM515.1 81.8h3v3h-3zM617.1 81.8h3v3h-3zM518.1 84.8h3v3h-3zM617.1 84.8h6v3h-6zM518.1 87.8h3v3h-3zM620.1 87.8h3v3h-3zM521.1 90.8h3v3h-3zM620.1 90.8h6v3h-6zM521.1 93.8h3v3h-3zM623.1 93.8h3v3h-3zM524.1 96.8h3v3h-3zM623.1 96.8h6v3h-6zM524.1 99.8h3v3h-3zM626.1 99.8h3v3h-3zM527.1 102.8h3v3h-3zM626.1 102.8h6v3h-6zM527.1 105.8h3v3h-3zM629.1 105.8h3v3h-3zM530.1 108.8h3v3h-3zM629.1 108.8h6v3h-6zM530.1 111.8h3v3h-3zM632.1 111.8h3v3h-3zM533.1 114.8h3v3h-3zM632.1 114.8h6v3h-6zM533.1 117.8h3v3h-3zM635.1 117.8h3v3h-3zM533.1 120.8h3v3h-3zM638.1 120.8h3v3h-3zM533.1 123.8h6v3h-6zM638.1 123.8h6v3h-6zM533.1 126.8h6v3h-6zM641.1 126.8h3v3h-3zM533.1 129.8h6v3h-6zM644.1 129.8h12v3h-12zM533.1 132.8h6v3h-6zM647.1 132.8h9v3h-9zM536.1 135.8h3v3h-3zM536.1 138.8h3v3h-3zM536.1 141.8h3v3h-3zM536.1 144.8h3v3h-3zM536.1 147.8h3v3h-3zM536.1 150.8h3v3h-3zM536.1 153.8h3v3h-3zM536.1 156.8h3v3h-3zM536.1 159.8h3v3h-3zM536.1 162.8h3v3h-3z"/>
<path fill="#cddcdc" d="M500.1 0.8h3v3h-3zM500.1 3.8h3v3h-3zM500.1 6.8h3v3h-3zM503.1 12.8h3v3h-3zM503.1 15.8h3v3h-3zM503.1 18.8h3v3h-3zM596.1 18.8h3v3h-3zM503.1 21.8h3v3h-3zM596.1 21.8h3v3h-3zM506.1 27.8h3v3h-3zM506.1 30.8h3v3h-3zM506.1 33.8h3v3h-3zM599.1 33.8h3v3h-3zM506.1 36.8h3v3h-3zM599.1 36.8h3v3h-3zM509.1 39.8h3v3h-3zM509.1 42.8h3v3h-3zM509.1 45.8h3v3h-3zM602.1 45.8h3v3h-3zM509.1 48.8h3v3h-3zM602.1 48.8h3v3h-3zM512.1 51.8h3v3h-3zM512.1 54.8h3v3h-3zM605.1 54.8h3v3h-3zM605.1 57.8h3v3h-3zM515.1 60.8h3v3h-3zM515.1 63.8h3v3h-3zM608.1 63.8h3v3h-3zM518.1 66.8h3v3h-3zM608.1 66.8h3v3h-3zM518.1 69.8h3v3h-3zM608.1 69.8h3v3h-3zM518.1 72.8h3v3h-3zM608.1 72.8h3v3h-3zM521.1 75.8h3v3h-3zM611.1 75.8h3v3h-3zM521.1 78.8h3v3h-3zM611.1 78.8h3v3h-3zM611.1 81.8h3v3h-3zM524.1 84.8h3v3h-3zM614.1 84.8h3v3h-3zM614.1 87.8h3v3h-3zM527.1 90.8h3v3h-3zM617.1 93.8h3v3h-3zM530.1 96.8h3v3h-3zM617.1 96.8h3v3h-3zM533.1 99.8h3v3h-3zM620.1 99.8h3v3h-3zM533.1 102.8h3v3h-3zM620.1 102.8h3v3h-3zM536.1 105.8h3v3h-3zM623.1 105.8h3v3h-3zM536.1 108.8h3v3h-3zM623.1 108.8h3v3h-3zM539.1 111.8h3v3h-3zM626.1 111.8h3v3h-3zM539.1 114.8h3v3h-3zM626.1 114.8h3v3h-3zM542.1 117.8h3v3h-3zM629.1 117.8h3v3h-3zM542.1 120.8h3v3h-3zM632.1 120.8h3v3h-3zM542.1 123.8h3v3h-3zM632.1 123.8h3v3h-3zM542.1 126.8h3v3h-3zM635.1 126.8h3v3h-3zM542.1 129.8h3v3h-3zM638.1 129.8h3v3h-3zM542.1 132.8h3v3h-3zM641.1 132.8h3v3h-3zM542.1 135.8h3v3h-3zM641.1 135.8h3v3h-3zM542.1 138.8h3v3h-3zM644.1 138.8h12v3h-12zM542.1 141.8h3v3h-3zM542.1 144.8h3v3h-3zM542.1 147.8h3v3h-3zM542.1 150.8h3v3h-3zM542.1 153.8h6v3h-6zM542.1 156.8h6v3h-6zM542.1 159.8h6v3h-6zM542.1 162.8h6v3h-6z"/>
<path fill="#c8d7dc" d="M503.1 0.8h3v3h-3zM593.1 0.8h3v3h-3zM503.1 3.8h3v3h-3zM593.1 3.8h3v3h-3zM503.1 6.8h3v3h-3zM593.1 6.8h3v3h-3zM503.1 9.8h3v3h-3zM593.1 9.8h3v3h-3zM506.1 18.8h3v3h-3zM506.1 21.8h3v3h-3zM506.1 24.8h3v3h-3zM596.1 27.8h3v3h-3zM509.1 33.8h3v3h-3zM509.1 36.8h3v3h-3zM599.1 39.8h3v3h-3zM512.1 45.8h3v3h-3zM512.1 48.8h3v3h-3zM602.1 51.8h3v3h-3zM515.1 54.8h3v3h-3zM518.1 60.8h3v3h-3zM605.1 60.8h3v3h-3zM518.1 63.8h3v3h-3zM605.1 63.8h3v3h-3zM605.1 66.8h3v3h-3zM521.1 69.8h3v3h-3zM521.1 72.8h3v3h-3zM608.1 75.8h3v3h-3zM524.1 78.8h3v3h-3zM608.1 78.8h3v3h-3zM608.1 81.8h3v3h-3zM527.1 84.8h3v3h-3zM611.1 84.8h3v3h-3zM611.1 87.8h3v3h-3zM530.1 90.8h3v3h-3zM614.1 93.8h3v3h-3zM533.1 96.8h3v3h-3zM617.1 99.8h3v3h-3zM536.1 102.8h3v3h-3zM620.1 105.8h3v3h-3zM539.1 108.8h3v3h-3zM623.1 111.8h3v3h-3zM542.1 114.8h3v3h-3zM626.1 117.8h3v3h-3zM545.1 126.8h3v3h-3zM632.1 126.8h3v3h-3zM545.1 129.8h3v3h-3zM635.1 129.8h3v3h-3zM545.1 132.8h3v3h-3zM638.1 132.8h3v3h-3zM545.1 135.8h3v3h-3zM545.1 138.8h3v3h-3zM641.1 138.8h3v3h-3zM545.1 141.8h3v3h-3zM644.1 141.8h3v3h-3zM545.1 144.8h3v3h-3zM545.1 147.8h3v3h-3z"/>
<path fill="#c3d7e1" d="M506.1 0.8h3v3h-3zM506.1 3.8h3v3h-3zM506.1 6.8h3v3h-3zM506.1 9.8h3v3h-3zM506.1 12.8h3v3h-3zM593.1 18.8h3v3h-3zM509.1 21.8h3v3h-3zM509.1 24.8h3v3h-3zM512.1 33.8h3v3h-3zM596.1 33.8h3v3h-3zM512.1 36.8h3v3h-3zM596.1 36.8h3v3h-3zM515.1 45.8h3v3h-3zM599.1 45.8h3v3h-3zM515.1 48.8h3v3h-3zM599.1 48.8h3v3h-3zM518.1 54.8h3v3h-3zM602.1 57.8h3v3h-3zM602.1 60.8h3v3h-3zM521.1 63.8h3v3h-3zM602.1 63.8h3v3h-3zM524.1 69.8h3v3h-3zM524.1 72.8h3v3h-3zM605.1 75.8h3v3h-3zM527.1 78.8h3v3h-3zM605.1 78.8h3v3h-3zM530.1 84.8h3v3h-3zM608.1 84.8h3v3h-3zM608.1 87.8h3v3h-3zM533.1 90.8h3v3h-3zM611.1 90.8h3v3h-3zM611.1 93.8h3v3h-3zM536.1 96.8h3v3h-3zM614.1 99.8h3v3h-3zM539.1 102.8h3v3h-3zM617.1 105.8h3v3h-3zM542.1 108.8h3v3h-3zM620.1 111.8h3v3h-3zM545.1 114.8h3v3h-3zM623.1 117.8h3v3h-3zM548.1 123.8h3v3h-3zM548.1 126.8h3v3h-3zM629.1 126.8h3v3h-3zM548.1 129.8h3v3h-3zM632.1 129.8h3v3h-3zM548.1 132.8h3v3h-3zM548.1 135.8h3v3h-3zM635.1 135.8h3v3h-3zM548.1 138.8h3v3h-3zM638.1 138.8h3v3h-3zM548.1 141.8h3v3h-3zM641.1 141.8h3v3h-3zM644.1 147.8h12v3h-12z"/>
<path fill="#bed2e1" d="M509.1 0.8h3v3h-3zM590.1 0.8h3v3h-3zM509.1 3.8h3v3h-3zM590.1 3.8h3v3h-3zM509.1 6.8h3v3h-3zM590.1 6.8h3v3h-3zM509.1 9.8h3v3h-3zM590.1 9.8h3v3h-3zM509.1 12.8h3v3h-3zM590.1 12.8h3v3h-3zM590.1 15.8h3v3h-3zM512.1 18.8h3v3h-3zM590.1 18.8h3v3h-3zM512.1 21.8h3v3h-3zM512.1 24.8h3v3h-3zM512.1 27.8h3v3h-3zM593.1 27.8h3v3h-3zM515.1 30.8h3v3h-3zM593.1 30.8h3v3h-3zM515.1 33.8h3v3h-3zM593.1 33.8h3v3h-3zM515.1 36.8h3v3h-3zM515.1 39.8h3v3h-3zM518.1 42.8h3v3h-3zM596.1 42.8h3v3h-3zM518.1 45.8h3v3h-3zM596.1 45.8h3v3h-3zM518.1 48.8h3v3h-3zM596.1 48.8h3v3h-3zM521.1 51.8h3v3h-3zM596.1 51.8h3v3h-3zM521.1 54.8h3v3h-3zM521.1 57.8h3v3h-3zM599.1 57.8h3v3h-3zM524.1 60.8h3v3h-3zM599.1 60.8h3v3h-3zM524.1 63.8h3v3h-3zM599.1 63.8h3v3h-3zM527.1 66.8h3v3h-3zM599.1 66.8h3v3h-3zM527.1 69.8h3v3h-3zM527.1 72.8h3v3h-3zM602.1 72.8h3v3h-3zM530.1 75.8h3v3h-3zM602.1 75.8h3v3h-3zM530.1 78.8h3v3h-3zM602.1 78.8h3v3h-3zM533.1 81.8h3v3h-3zM602.1 81.8h3v3h-3zM533.1 84.8h3v3h-3zM605.1 84.8h3v3h-3zM536.1 87.8h3v3h-3zM605.1 87.8h3v3h-3zM536.1 90.8h3v3h-3zM608.1 90.8h3v3h-3zM539.1 93.8h3v3h-3zM608.1 93.8h3v3h-3zM539.1 96.8h3v3h-3zM608.1 96.8h3v3h-3zM542.1 99.8h3v3h-3zM611.1 99.8h3v3h-3zM542.1 102.8h3v3h-3zM611.1 102.8h3v3h-3zM545.1 105.8h3v3h-3zM614.1 105.8h3v3h-3zM545.1 108.8h3v3h-3zM614.1 108.8h3v3h-3zM548.1 111.8h3v3h-3zM617.1 111.8h3v3h-3zM548.1 114.8h3v3h-3zM617.1 114.8h3v3h-3zM551.1 117.8h3v3h-3zM620.1 117.8h3v3h-3zM551.1 120.8h3v3h-3zM620.1 120.8h3v3h-3zM551.1 123.8h3v3h-3zM623.1 123.8h3v3h-3zM551.1 126.8h3v3h-3zM626.1 126.8h3v3h-3zM551.1 129.8h3v3h-3zM629.1 129.8h3v3h-3zM551.1 132.8h3v3h-3zM629.1 132.8h3v3h-3zM551.1 135.8h3v3h-3zM632.1 135.8h3v3h-3zM551.1 138.8h6v3h-6zM635.1 138.8h3v3h-3zM554.1 141.8h3v3h-3zM635.1 141.8h6v3h-6zM554.1 144.8h3v3h-3zM638.1 144.8h3v3h-3zM554.1 147.8h3v3h-3zM641.1 147.8h3v3h-3zM554.1 150.8h3v3h-3zM644.1 150.8h3v3h-3zM554.1 153.8h3v3h-3zM644.1 153.8h12v3h-12zM554.1 156.8h3v3h-3zM644.1 156.8h12v3h-12zM554.1 159.8h3v3h-3zM644.1 159.8h12v3h-12zM554.1 162.8h3v3h-3zM644.1 162.8h12v3h-12z"/>
<path fill="#b9cde1" d="M512.1 0.8h3v3h-3zM587.1 0.8h3v3h-3zM512.1 3.8h3v3h-3zM587.1 3.8h3v3h-3zM512.1 6.8h3v3h-3zM587.1 6.8h3v3h-3zM512.1 9.8h3v3h-3zM587.1 9.8h3v3h-3zM512.1 12.8h3v3h-3zM587.1 12.8h3v3h-3zM515.1 21.8h3v3h-3zM515.1 24.8h3v3h-3zM590.1 24.8h3v3h-3zM590.1 27.8h3v3h-3zM590.1 30.8h3v3h-3zM518.1 33.8h3v3h-3zM518.1 36.8h3v3h-3zM593.1 39.8h3v3h-3zM593.1 42.8h3v3h-3zM521.1 45.8h3v3h-3zM593.1 45.8h3v3h-3zM521.1 48.8h3v3h-3zM524.1 51.8h3v3h-3zM524.1 54.8h3v3h-3zM596.1 57.8h3v3h-3zM527.1 60.8h3v3h-3zM596.1 60.8h3v3h-3zM527.1 63.8h3v3h-3zM596.1 63.8h3v3h-3zM530.1 69.8h3v3h-3zM533.1 75.8h3v3h-3zM599.1 75.8h3v3h-3zM533.1 78.8h3v3h-3zM599.1 78.8h3v3h-3zM599.1 81.8h3v3h-3zM536.1 84.8h3v3h-3zM539.1 87.8h3v3h-3zM602.1 87.8h3v3h-3zM539.1 90.8h3v3h-3zM542.1 93.8h3v3h-3zM605.1 93.8h3v3h-3zM542.1 96.8h3v3h-3zM545.1 99.8h3v3h-3zM608.1 99.8h3v3h-3zM545.1 102.8h3v3h-3zM608.1 102.8h3v3h-3zM548.1 105.8h3v3h-3zM611.1 105.8h3v3h-3zM611.1 108.8h3v3h-3zM551.1 111.8h3v3h-3zM614.1 114.8h3v3h-3zM554.1 117.8h3v3h-3zM554.1 120.8h3v3h-3zM617.1 120.8h3v3h-3zM554.1 123.8h3v3h-3zM620.1 123.8h3v3h-3zM554.1 126.8h3v3h-3zM623.1 126.8h3v3h-3zM623.1 129.8h3v3h-3zM626.1 132.8h3v3h-3zM629.1 135.8h3v3h-3zM557.1 138.8h3v3h-3zM557.1 141.8h3v3h-3zM632.1 141.8h3v3h-3zM557.1 144.8h3v3h-3zM635.1 144.8h3v3h-3zM557.1 147.8h3v3h-3zM638.1 147.8h3v3h-3zM557.1 150.8h3v3h-3zM638.1 150.8h3v3h-3zM557.1 153.8h3v3h-3zM641.1 153.8h3v3h-3zM557.1 156.8h3v3h-3zM641.1 156.8h3v3h-3zM557.1 159.8h3v3h-3zM641.1 159.8h3v3h-3zM557.1 162.8h3v3h-3zM641.1 162.8h3v3h-3z"/>
<path fill="#afc8dc" d="M515.1 0.8h3v3h-3zM584.1 0.8h3v3h-3zM515.1 3.8h3v3h-3zM584.1 3.8h3v3h-3zM515.1 6.8h3v3h-3zM584.1 6.8h3v3h-3zM515.1 9.8h3v3h-3zM584.1 9.8h3v3h-3zM518.1 18.8h3v3h-3zM518.1 21.8h3v3h-3zM587.1 24.8h3v3h-3zM587.1 27.8h3v3h-3zM521.1 30.8h3v3h-3zM521.1 33.8h3v3h-3zM524.1 42.8h3v3h-3zM590.1 42.8h3v3h-3zM524.1 45.8h3v3h-3zM590.1 45.8h3v3h-3zM590.1 48.8h3v3h-3zM527.1 51.8h3v3h-3zM530.1 60.8h3v3h-3zM593.1 60.8h3v3h-3zM593.1 63.8h3v3h-3zM533.1 66.8h3v3h-3zM593.1 66.8h3v3h-3zM533.1 69.8h3v3h-3zM536.1 75.8h3v3h-3zM596.1 78.8h3v3h-3zM539.1 81.8h3v3h-3zM596.1 81.8h3v3h-3zM542.1 87.8h3v3h-3zM599.1 87.8h3v3h-3zM599.1 90.8h3v3h-3zM545.1 93.8h3v3h-3zM602.1 96.8h3v3h-3zM548.1 99.8h3v3h-3zM605.1 102.8h3v3h-3zM551.1 105.8h3v3h-3zM554.1 108.8h3v3h-3zM608.1 108.8h3v3h-3zM554.1 111.8h3v3h-3zM608.1 111.8h3v3h-3zM557.1 114.8h3v3h-3zM611.1 117.8h3v3h-3zM614.1 120.8h3v3h-3zM560.1 126.8h3v3h-3zM617.1 126.8h3v3h-3zM560.1 129.8h3v3h-3zM620.1 129.8h3v3h-3zM560.1 132.8h3v3h-3zM560.1 135.8h3v3h-3zM560.1 138.8h3v3h-3zM626.1 138.8h3v3h-3zM560.1 141.8h3v3h-3zM629.1 141.8h3v3h-3zM632.1 147.8h3v3h-3zM635.1 150.8h3v3h-3zM563.1 153.8h3v3h-3zM563.1 156.8h3v3h-3zM638.1 156.8h3v3h-3zM563.1 159.8h3v3h-3zM638.1 159.8h3v3h-3zM563.1 162.8h3v3h-3zM638.1 162.8h3v3h-3z"/>
<path fill="#a5bedc" d="M518.1 0.8h3v3h-3zM518.1 3.8h3v3h-3zM518.1 6.8h3v3h-3zM518.1 9.8h3v3h-3zM584.1 24.8h3v3h-3zM527.1 42.8h3v3h-3zM587.1 42.8h3v3h-3zM587.1 45.8h3v3h-3zM530.1 51.8h3v3h-3zM590.1 63.8h3v3h-3zM536.1 66.8h3v3h-3zM596.1 90.8h3v3h-3zM599.1 96.8h3v3h-3zM554.1 102.8h3v3h-3zM557.1 108.8h3v3h-3zM605.1 111.8h3v3h-3zM563.1 123.8h3v3h-3zM563.1 126.8h3v3h-3zM614.1 126.8h3v3h-3zM620.1 135.8h3v3h-3zM626.1 144.8h3v3h-3zM566.1 150.8h3v3h-3zM566.1 153.8h3v3h-3zM566.1 156.8h3v3h-3zM566.1 159.8h3v3h-3zM566.1 162.8h3v3h-3z"/>
<path fill="#82a5cd" d="M521.1 0.8h3v3h-3zM572.1 0.8h3v3h-3zM521.1 3.8h3v3h-3zM572.1 3.8h3v3h-3zM521.1 6.8h3v3h-3zM572.1 6.8h3v3h-3zM572.1 9.8h3v3h-3zM572.1 12.8h3v3h-3zM524.1 15.8h3v3h-3zM524.1 18.8h3v3h-3zM575.1 18.8h3v3h-3zM575.1 21.8h3v3h-3zM575.1 24.8h3v3h-3zM527.1 27.8h3v3h-3zM575.1 27.8h3v3h-3zM527.1 30.8h3v3h-3zM530.1 36.8h3v3h-3zM578.1 36.8h3v3h-3zM530.1 39.8h3v3h-3zM578.1 39.8h3v3h-3zM530.1 42.8h3v3h-3zM578.1 42.8h3v3h-3zM533.1 48.8h3v3h-3zM581.1 51.8h3v3h-3zM536.1 54.8h3v3h-3zM581.1 54.8h3v3h-3zM536.1 57.8h3v3h-3zM581.1 57.8h3v3h-3zM539.1 63.8h3v3h-3zM542.1 69.8h3v3h-3zM584.1 69.8h3v3h-3zM542.1 72.8h3v3h-3zM584.1 72.8h3v3h-3zM584.1 75.8h3v3h-3zM545.1 78.8h3v3h-3zM548.1 84.8h3v3h-3zM587.1 84.8h3v3h-3zM551.1 90.8h3v3h-3zM590.1 90.8h3v3h-3zM554.1 96.8h3v3h-3zM593.1 96.8h3v3h-3zM557.1 102.8h3v3h-3zM596.1 105.8h3v3h-3zM563.1 111.8h3v3h-3zM599.1 111.8h3v3h-3zM566.1 117.8h3v3h-3zM602.1 117.8h3v3h-3zM566.1 120.8h3v3h-3zM605.1 123.8h3v3h-3zM608.1 126.8h3v3h-3zM611.1 132.8h3v3h-3zM569.1 135.8h3v3h-3zM614.1 135.8h3v3h-3zM569.1 138.8h3v3h-3zM569.1 141.8h3v3h-3zM617.1 141.8h3v3h-3zM569.1 144.8h3v3h-3zM620.1 144.8h3v3h-3zM623.1 150.8h3v3h-3zM626.1 153.8h3v3h-3zM626.1 156.8h3v3h-3zM626.1 159.8h3v3h-3zM626.1 162.8h3v3h-3z"/>
<path fill="#7da0cd" d="M524.1 0.8h3v3h-3zM569.1 0.8h3v3h-3zM524.1 3.8h3v3h-3zM569.1 3.8h3v3h-3zM524.1 6.8h3v3h-3zM569.1 6.8h3v3h-3zM569.1 9.8h3v3h-3zM527.1 15.8h3v3h-3zM527.1 18.8h3v3h-3zM572.1 18.8h3v3h-3zM572.1 21.8h3v3h-3zM572.1 24.8h3v3h-3zM530.1 27.8h3v3h-3zM530.1 30.8h3v3h-3zM575.1 36.8h3v3h-3zM533.1 39.8h3v3h-3zM575.1 39.8h3v3h-3zM533.1 42.8h3v3h-3zM536.1 51.8h3v3h-3zM578.1 51.8h3v3h-3zM578.1 54.8h3v3h-3zM539.1 57.8h3v3h-3zM542.1 66.8h3v3h-3zM581.1 66.8h3v3h-3zM581.1 69.8h3v3h-3zM545.1 72.8h3v3h-3zM548.1 81.8h3v3h-3zM584.1 81.8h3v3h-3zM551.1 87.8h3v3h-3zM587.1 87.8h3v3h-3zM560.1 102.8h3v3h-3zM593.1 102.8h3v3h-3zM563.1 108.8h3v3h-3zM596.1 108.8h3v3h-3zM566.1 114.8h3v3h-3zM599.1 114.8h3v3h-3zM602.1 120.8h3v3h-3zM569.1 123.8h3v3h-3zM569.1 126.8h3v3h-3zM608.1 129.8h3v3h-3zM611.1 135.8h3v3h-3zM614.1 138.8h3v3h-3zM572.1 141.8h3v3h-3zM572.1 144.8h3v3h-3zM617.1 144.8h3v3h-3zM572.1 147.8h3v3h-3zM623.1 153.8h3v3h-3zM623.1 156.8h3v3h-3zM623.1 159.8h3v3h-3zM623.1 162.8h3v3h-3z"/>
<path fill="#78a0c8" d="M527.1 0.8h3v3h-3zM527.1 3.8h3v3h-3zM527.1 6.8h3v3h-3zM527.1 9.8h3v3h-3zM569.1 15.8h3v3h-3zM569.1 18.8h3v3h-3zM530.1 21.8h3v3h-3zM572.1 30.8h3v3h-3zM533.1 33.8h3v3h-3zM572.1 33.8h3v3h-3zM536.1 45.8h3v3h-3zM575.1 45.8h3v3h-3zM575.1 48.8h3v3h-3zM539.1 54.8h3v3h-3zM542.1 60.8h3v3h-3zM578.1 60.8h3v3h-3zM545.1 69.8h3v3h-3zM581.1 75.8h3v3h-3zM551.1 84.8h3v3h-3zM584.1 84.8h3v3h-3zM593.1 105.8h3v3h-3zM566.1 111.8h3v3h-3zM596.1 111.8h3v3h-3zM569.1 117.8h3v3h-3zM608.1 132.8h3v3h-3zM572.1 135.8h3v3h-3zM614.1 141.8h3v3h-3zM575.1 150.8h3v3h-3zM575.1 153.8h3v3h-3zM575.1 156.8h3v3h-3zM575.1 159.8h3v3h-3zM575.1 162.8h3v3h-3z"/>
<path fill="#739bc8" d="M530.1 0.8h3v3h-3zM563.1 0.8h3v3h-3zM530.1 3.8h3v3h-3zM563.1 3.8h3v3h-3zM530.1 6.8h3v3h-3zM563.1 6.8h3v3h-3zM530.1 9.8h3v3h-3zM563.1 9.8h3v3h-3zM530.1 12.8h3v3h-3zM566.1 12.8h3v3h-3zM566.1 15.8h3v3h-3zM533.1 18.8h3v3h-3zM566.1 18.8h3v3h-3zM533.1 21.8h3v3h-3zM566.1 21.8h3v3h-3zM533.1 24.8h3v3h-3zM569.1 27.8h3v3h-3zM536.1 30.8h3v3h-3zM569.1 30.8h3v3h-3zM536.1 33.8h3v3h-3zM569.1 33.8h3v3h-3zM536.1 36.8h3v3h-3zM569.1 36.8h3v3h-3zM536.1 39.8h3v3h-3zM572.1 42.8h3v3h-3zM539.1 45.8h3v3h-3zM572.1 45.8h3v3h-3zM539.1 48.8h3v3h-3zM572.1 48.8h3v3h-3zM542.1 54.8h3v3h-3zM575.1 54.8h3v3h-3zM542.1 57.8h3v3h-3zM575.1 57.8h3v3h-3zM545.1 60.8h3v3h-3zM575.1 60.8h3v3h-3zM545.1 63.8h3v3h-3zM575.1 63.8h3v3h-3zM548.1 69.8h3v3h-3zM578.1 69.8h3v3h-3zM548.1 72.8h3v3h-3zM578.1 72.8h3v3h-3zM578.1 75.8h3v3h-3zM551.1 78.8h3v3h-3zM551.1 81.8h3v3h-3zM581.1 81.8h3v3h-3zM554.1 84.8h3v3h-3zM581.1 84.8h3v3h-3zM557.1 90.8h3v3h-3zM584.1 90.8h3v3h-3zM560.1 96.8h3v3h-3zM587.1 96.8h3v3h-3zM563.1 102.8h3v3h-3zM590.1 102.8h3v3h-3zM566.1 108.8h3v3h-3zM593.1 108.8h3v3h-3zM569.1 114.8h3v3h-3zM596.1 114.8h3v3h-3zM596.1 117.8h3v3h-3zM572.1 120.8h3v3h-3zM599.1 120.8h3v3h-3zM572.1 123.8h3v3h-3zM572.1 126.8h3v3h-3zM602.1 126.8h3v3h-3zM605.1 132.8h3v3h-3zM575.1 135.8h3v3h-3zM608.1 135.8h3v3h-3zM575.1 138.8h3v3h-3zM575.1 141.8h3v3h-3zM611.1 141.8h3v3h-3zM596.1 144.8h3v3h-3zM614.1 144.8h3v3h-3zM596.1 147.8h3v3h-3zM614.1 147.8h3v3h-3zM578.1 150.8h3v3h-3zM599.1 150.8h3v3h-3zM617.1 150.8h3v3h-3zM578.1 153.8h3v3h-3zM599.1 153.8h3v3h-3zM578.1 156.8h3v3h-3zM599.1 156.8h3v3h-3zM620.1 156.8h3v3h-3zM578.1 159.8h3v3h-3zM599.1 159.8h3v3h-3zM620.1 159.8h3v3h-3zM578.1 162.8h3v3h-3zM599.1 162.8h3v3h-3zM620.1 162.8h3v3h-3z"/>
<path fill="#6e96c3" d="M533.1 0.8h3v3h-3zM551.1 0.8h12v3h-12zM533.1 3.8h3v3h-3zM551.1 3.8h12v3h-12zM533.1 6.8h3v3h-3zM551.1 6.8h12v3h-12zM533.1 9.8h6v3h-6zM551.1 9.8h12v3h-12zM536.1 12.8h3v3h-3zM551.1 12.8h12v3h-12zM536.1 15.8h3v3h-3zM551.1 15.8h12v3h-12zM536.1 18.8h3v3h-3zM551.1 18.8h12v3h-12zM536.1 21.8h3v3h-3zM554.1 21.8h12v3h-12zM539.1 24.8h3v3h-3zM554.1 24.8h12v3h-12zM539.1 27.8h3v3h-3zM554.1 27.8h12v3h-12zM539.1 30.8h3v3h-3zM554.1 30.8h12v3h-12zM539.1 33.8h3v3h-3zM554.1 33.8h15v3h-15zM539.1 36.8h6v3h-6zM554.1 36.8h15v3h-15zM542.1 39.8h3v3h-3zM554.1 39.8h15v3h-15zM542.1 42.8h3v3h-3zM554.1 42.8h15v3h-15zM542.1 45.8h3v3h-3zM557.1 45.8h12v3h-12zM545.1 48.8h3v3h-3zM557.1 48.8h15v3h-15zM545.1 51.8h3v3h-3zM557.1 51.8h15v3h-15zM545.1 54.8h3v3h-3zM557.1 54.8h15v3h-15zM548.1 57.8h3v3h-3zM560.1 57.8h12v3h-12zM548.1 60.8h3v3h-3zM560.1 60.8h15v3h-15zM548.1 63.8h3v3h-3zM560.1 63.8h15v3h-15zM551.1 66.8h3v3h-3zM560.1 66.8h15v3h-15zM551.1 69.8h3v3h-3zM563.1 69.8h12v3h-12zM551.1 72.8h3v3h-3zM563.1 72.8h15v3h-15zM554.1 75.8h3v3h-3zM563.1 75.8h15v3h-15zM554.1 78.8h3v3h-3zM563.1 78.8h15v3h-15zM554.1 81.8h3v3h-3zM566.1 81.8h12v3h-12zM557.1 84.8h3v3h-3zM566.1 84.8h15v3h-15zM557.1 87.8h3v3h-3zM569.1 87.8h12v3h-12zM560.1 90.8h3v3h-3zM569.1 90.8h3v3h-3zM575.1 90.8h9v3h-9zM572.1 93.8h12v3h-12zM563.1 96.8h3v3h-3zM572.1 96.8h3v3h-3zM578.1 96.8h9v3h-9zM575.1 99.8h12v3h-12zM566.1 102.8h3v3h-3zM575.1 102.8h3v3h-3zM581.1 102.8h9v3h-9zM575.1 105.8h3v3h-3zM584.1 105.8h6v3h-6zM569.1 108.8h3v3h-3zM578.1 108.8h3v3h-3zM584.1 108.8h9v3h-9zM578.1 111.8h3v3h-3zM587.1 111.8h6v3h-6zM572.1 114.8h3v3h-3zM581.1 114.8h3v3h-3zM587.1 114.8h9v3h-9zM581.1 117.8h3v3h-3zM590.1 117.8h6v3h-6zM575.1 120.8h3v3h-3zM584.1 120.8h3v3h-3zM590.1 120.8h3v3h-3zM596.1 120.8h3v3h-3zM575.1 123.8h3v3h-3zM584.1 123.8h3v3h-3zM590.1 123.8h9v3h-9zM575.1 126.8h3v3h-3zM584.1 126.8h3v3h-3zM593.1 126.8h3v3h-3zM599.1 126.8h3v3h-3zM587.1 129.8h3v3h-3zM593.1 129.8h9v3h-9zM578.1 132.8h3v3h-3zM587.1 132.8h3v3h-3zM596.1 132.8h3v3h-3zM602.1 132.8h3v3h-3zM578.1 135.8h3v3h-3zM587.1 135.8h3v3h-3zM596.1 135.8h6v3h-6zM605.1 135.8h3v3h-3zM578.1 138.8h3v3h-3zM590.1 138.8h3v3h-3zM599.1 138.8h3v3h-3zM605.1 138.8h3v3h-3zM578.1 141.8h3v3h-3zM590.1 141.8h3v3h-3zM599.1 141.8h3v3h-3zM608.1 141.8h3v3h-3zM581.1 144.8h3v3h-3zM590.1 144.8h3v3h-3zM602.1 144.8h3v3h-3zM608.1 144.8h3v3h-3zM581.1 147.8h3v3h-3zM593.1 147.8h3v3h-3zM602.1 147.8h3v3h-3zM611.1 147.8h3v3h-3zM581.1 150.8h3v3h-3zM593.1 150.8h3v3h-3zM605.1 150.8h3v3h-3zM611.1 150.8h6v3h-6zM581.1 153.8h3v3h-3zM593.1 153.8h3v3h-3zM605.1 153.8h3v3h-3zM614.1 153.8h3v3h-3zM581.1 156.8h3v3h-3zM593.1 156.8h3v3h-3zM605.1 156.8h3v3h-3zM614.1 156.8h3v3h-3zM581.1 159.8h3v3h-3zM593.1 159.8h3v3h-3zM605.1 159.8h3v3h-3zM614.1 159.8h3v3h-3zM581.1 162.8h3v3h-3zM593.1 162.8h3v3h-3zM605.1 162.8h3v3h-3zM614.1 162.8h3v3h-3z"/>
<path fill="#6e91c3" d="M536.1 0.8h3v3h-3zM548.1 0.8h3v3h-3zM536.1 3.8h3v3h-3zM548.1 3.8h3v3h-3zM536.1 6.8h3v3h-3zM548.1 6.8h3v3h-3zM548.1 9.8h3v3h-3zM539.1 12.8h3v3h-3zM548.1 12.8h3v3h-3zM539.1 15.8h3v3h-3zM548.1 15.8h3v3h-3zM539.1 18.8h3v3h-3zM548.1 18.8h3v3h-3zM539.1 21.8h3v3h-3zM548.1 21.8h6v3h-6zM548.1 24.8h6v3h-6zM542.1 27.8h3v3h-3zM551.1 27.8h3v3h-3zM542.1 30.8h3v3h-3zM551.1 30.8h3v3h-3zM542.1 33.8h3v3h-3zM551.1 33.8h3v3h-3zM551.1 36.8h3v3h-3zM551.1 39.8h3v3h-3zM545.1 42.8h3v3h-3zM551.1 42.8h3v3h-3zM545.1 45.8h3v3h-3zM554.1 45.8h3v3h-3zM554.1 48.8h3v3h-3zM548.1 51.8h3v3h-3zM554.1 51.8h3v3h-3zM548.1 54.8h3v3h-3zM557.1 57.8h3v3h-3zM551.1 60.8h3v3h-3zM557.1 60.8h3v3h-3zM551.1 63.8h3v3h-3zM557.1 63.8h3v3h-3zM560.1 69.8h3v3h-3zM554.1 72.8h3v3h-3zM560.1 72.8h3v3h-3zM557.1 81.8h3v3h-3zM563.1 81.8h3v3h-3zM560.1 87.8h3v3h-3zM566.1 87.8h3v3h-3zM563.1 93.8h3v3h-3zM569.1 93.8h3v3h-3zM566.1 99.8h3v3h-3zM572.1 99.8h3v3h-3zM569.1 105.8h3v3h-3zM572.1 111.8h3v3h-3zM575.1 117.8h3v3h-3zM581.1 120.8h3v3h-3zM593.1 120.8h3v3h-3zM578.1 126.8h3v3h-3zM596.1 126.8h3v3h-3zM578.1 129.8h3v3h-3zM584.1 129.8h3v3h-3zM599.1 132.8h3v3h-3zM602.1 135.8h3v3h-3zM581.1 138.8h3v3h-3zM587.1 138.8h3v3h-3zM602.1 138.8h3v3h-3zM581.1 141.8h3v3h-3zM602.1 141.8h6v3h-6zM605.1 144.8h3v3h-3zM590.1 147.8h3v3h-3zM605.1 147.8h6v3h-6zM584.1 150.8h3v3h-3zM608.1 150.8h3v3h-3zM584.1 153.8h3v3h-3zM608.1 153.8h6v3h-6zM584.1 156.8h3v3h-3zM608.1 156.8h6v3h-6zM584.1 159.8h3v3h-3zM608.1 159.8h6v3h-6zM584.1 162.8h3v3h-3zM608.1 162.8h6v3h-6z"/>
<path fill="#6991c3" d="M539.1 0.8h9v3h-9zM539.1 3.8h9v3h-9zM539.1 6.8h9v3h-9zM539.1 9.8h9v3h-9zM542.1 12.8h6v3h-6zM542.1 15.8h6v3h-6zM542.1 18.8h6v3h-6zM542.1 21.8h6v3h-6zM542.1 24.8h6v3h-6zM545.1 27.8h6v3h-6zM545.1 30.8h6v3h-6zM545.1 33.8h6v3h-6zM545.1 36.8h6v3h-6zM545.1 39.8h6v3h-6zM548.1 42.8h3v3h-3zM548.1 45.8h6v3h-6zM548.1 48.8h6v3h-6zM551.1 51.8h3v3h-3zM551.1 54.8h6v3h-6zM551.1 57.8h6v3h-6zM554.1 60.8h3v3h-3zM554.1 63.8h3v3h-3zM554.1 66.8h6v3h-6zM554.1 69.8h6v3h-6zM557.1 72.8h3v3h-3zM557.1 75.8h6v3h-6zM557.1 78.8h6v3h-6zM560.1 81.8h3v3h-3zM560.1 84.8h6v3h-6zM563.1 87.8h3v3h-3zM563.1 90.8h6v3h-6zM566.1 93.8h3v3h-3zM566.1 96.8h6v3h-6zM569.1 99.8h3v3h-3zM569.1 102.8h6v3h-6zM572.1 105.8h3v3h-3zM572.1 108.8h6v3h-6zM575.1 111.8h3v3h-3zM575.1 114.8h6v3h-6zM578.1 117.8h3v3h-3zM578.1 120.8h3v3h-3zM578.1 123.8h6v3h-6zM581.1 126.8h3v3h-3zM581.1 129.8h3v3h-3zM581.1 132.8h6v3h-6zM581.1 135.8h6v3h-6zM584.1 138.8h3v3h-3zM584.1 141.8h6v3h-6zM584.1 144.8h6v3h-6zM584.1 147.8h6v3h-6zM587.1 150.8h6v3h-6zM587.1 153.8h6v3h-6zM587.1 156.8h6v3h-6zM587.1 159.8h6v3h-6zM587.1 162.8h6v3h-6z"/>
<path fill="#789bc8" d="M566.1 0.8h3v3h-3zM566.1 3.8h3v3h-3zM566.1 6.8h3v3h-3zM566.1 9.8h3v3h-3zM530.1 15.8h3v3h-3zM530.1 18.8h3v3h-3zM569.1 21.8h3v3h-3zM569.1 24.8h3v3h-3zM533.1 27.8h3v3h-3zM533.1 30.8h3v3h-3zM572.1 36.8h3v3h-3zM572.1 39.8h3v3h-3zM536.1 42.8h3v3h-3zM539.1 51.8h3v3h-3zM575.1 51.8h3v3h-3zM578.1 63.8h3v3h-3zM545.1 66.8h3v3h-3zM578.1 66.8h3v3h-3zM548.1 75.8h3v3h-3zM581.1 78.8h3v3h-3zM554.1 87.8h3v3h-3zM584.1 87.8h3v3h-3zM557.1 93.8h3v3h-3zM587.1 93.8h3v3h-3zM560.1 99.8h3v3h-3zM590.1 99.8h3v3h-3zM563.1 105.8h3v3h-3zM602.1 123.8h3v3h-3zM572.1 129.8h3v3h-3zM605.1 129.8h3v3h-3zM572.1 132.8h3v3h-3zM611.1 138.8h3v3h-3zM575.1 144.8h3v3h-3zM575.1 147.8h3v3h-3zM617.1 147.8h3v3h-3zM620.1 153.8h3v3h-3z"/>
<path fill="#87aad2" d="M575.1 0.8h3v3h-3zM575.1 3.8h3v3h-3zM575.1 6.8h3v3h-3zM575.1 9.8h3v3h-3zM578.1 24.8h3v3h-3zM578.1 27.8h3v3h-3zM581.1 39.8h3v3h-3zM581.1 42.8h3v3h-3zM584.1 57.8h3v3h-3zM584.1 60.8h3v3h-3zM587.1 75.8h3v3h-3zM587.1 78.8h3v3h-3zM593.1 93.8h3v3h-3zM596.1 99.8h3v3h-3zM602.1 114.8h3v3h-3zM614.1 132.8h3v3h-3zM620.1 141.8h3v3h-3zM626.1 150.8h3v3h-3zM629.1 153.8h3v3h-3zM629.1 156.8h3v3h-3zM629.1 159.8h3v3h-3zM629.1 162.8h3v3h-3z"/>
<path fill="#91afd2" d="M578.1 0.8h3v3h-3zM578.1 3.8h3v3h-3zM578.1 6.8h3v3h-3zM578.1 9.8h3v3h-3zM581.1 24.8h3v3h-3zM581.1 27.8h3v3h-3zM584.1 42.8h3v3h-3zM584.1 45.8h3v3h-3zM587.1 60.8h3v3h-3zM587.1 63.8h3v3h-3zM590.1 81.8h3v3h-3z"/>
<path fill="#a0bed7" d="M581.1 0.8h3v3h-3zM581.1 3.8h3v3h-3zM581.1 6.8h3v3h-3zM581.1 9.8h3v3h-3zM581.1 12.8h3v3h-3zM521.1 15.8h3v3h-3zM524.1 27.8h3v3h-3zM584.1 27.8h3v3h-3zM584.1 30.8h3v3h-3zM527.1 39.8h3v3h-3zM530.1 48.8h3v3h-3zM587.1 48.8h3v3h-3zM587.1 51.8h3v3h-3zM533.1 54.8h3v3h-3zM536.1 63.8h3v3h-3zM539.1 69.8h3v3h-3zM590.1 69.8h3v3h-3zM590.1 72.8h3v3h-3zM590.1 75.8h3v3h-3zM542.1 78.8h3v3h-3zM545.1 84.8h3v3h-3zM593.1 84.8h3v3h-3zM548.1 90.8h3v3h-3zM596.1 93.8h3v3h-3zM554.1 99.8h3v3h-3zM599.1 99.8h3v3h-3zM557.1 105.8h3v3h-3zM602.1 108.8h3v3h-3zM560.1 111.8h3v3h-3zM605.1 114.8h3v3h-3zM563.1 117.8h3v3h-3zM608.1 120.8h3v3h-3zM611.1 123.8h3v3h-3zM614.1 129.8h3v3h-3zM617.1 132.8h3v3h-3zM566.1 135.8h3v3h-3zM566.1 138.8h3v3h-3zM566.1 141.8h3v3h-3zM623.1 141.8h3v3h-3zM566.1 144.8h3v3h-3zM629.1 150.8h3v3h-3zM632.1 156.8h3v3h-3zM632.1 159.8h3v3h-3zM632.1 162.8h3v3h-3z"/>
<path fill="#d2e1dc" d="M596.1 0.8h3v3h-3zM596.1 3.8h3v3h-3zM596.1 6.8h3v3h-3zM596.1 9.8h3v3h-3zM500.1 21.8h3v3h-3zM599.1 27.8h3v3h-3zM503.1 33.8h3v3h-3zM503.1 36.8h3v3h-3zM602.1 39.8h3v3h-3zM512.1 63.8h3v3h-3zM611.1 66.8h3v3h-3zM515.1 72.8h3v3h-3zM614.1 75.8h3v3h-3zM614.1 78.8h3v3h-3zM518.1 81.8h3v3h-3zM521.1 87.8h3v3h-3zM524.1 93.8h3v3h-3zM527.1 99.8h3v3h-3zM530.1 105.8h3v3h-3zM533.1 111.8h3v3h-3zM536.1 117.8h3v3h-3zM536.1 120.8h3v3h-3zM635.1 120.8h3v3h-3zM644.1 132.8h3v3h-3zM539.1 153.8h3v3h-3zM539.1 156.8h3v3h-3zM539.1 159.8h3v3h-3zM539.1 162.8h3v3h-3z"/>
<path fill="#e6e6cd" d="M605.1 0.8h3v3h-3zM605.1 3.8h3v3h-3zM605.1 6.8h3v3h-3zM605.1 9.8h3v3h-3zM605.1 12.8h3v3h-3zM608.1 24.8h3v3h-3zM608.1 27.8h3v3h-3zM611.1 36.8h3v3h-3zM614.1 45.8h3v3h-3zM617.1 51.8h3v3h-3zM620.1 57.8h3v3h-3zM623.1 63.8h3v3h-3zM626.1 66.8h3v3h-3zM629.1 72.8h3v3h-3zM632.1 75.8h9v3h-9zM635.1 78.8h21v3h-21z"/>
<path fill="#ebe1be" d="M608.1 0.8h3v3h-3zM608.1 3.8h3v3h-3zM608.1 6.8h3v3h-3zM611.1 24.8h3v3h-3zM617.1 42.8h3v3h-3zM620.1 48.8h3v3h-3zM632.1 63.8h3v3h-3zM638.1 66.8h18v3h-18z"/>
<path fill="#f0e1aa" d="M611.1 0.8h3v3h-3zM611.1 3.8h3v3h-3zM611.1 6.8h3v3h-3zM614.1 21.8h3v3h-3zM617.1 33.8h3v3h-3zM620.1 39.8h3v3h-3zM623.1 45.8h3v3h-3zM629.1 51.8h3v3h-3zM632.1 54.8h3v3h-3zM638.1 57.8h18v3h-18z"/>
<path fill="#f0dca0" d="M614.1 0.8h3v3h-3zM614.1 3.8h3v3h-3zM614.1 6.8h3v3h-3zM614.1 9.8h3v3h-3zM614.1 12.8h3v3h-3zM614.1 15.8h3v3h-3zM617.1 27.8h3v3h-3zM623.1 39.8h3v3h-3zM626.1 45.8h3v3h-3zM632.1 48.8h3v3h-3zM635.1 51.8h6v3h-6z"/>
<path fill="#f5d796" d="M617.1 0.8h3v3h-3zM617.1 3.8h3v3h-3zM617.1 6.8h3v3h-3zM617.1 9.8h3v3h-3zM617.1 12.8h3v3h-3zM620.1 27.8h3v3h-3zM623.1 33.8h3v3h-3zM635.1 45.8h3v3h-3zM641.1 48.8h15v3h-15z"/>
<path fill="#f5d28c" d="M620.1 0.8h3v3h-3zM620.1 3.8h3v3h-3zM620.1 6.8h3v3h-3zM620.1 9.8h3v3h-3zM620.1 12.8h3v3h-3zM620.1 15.8h3v3h-3zM623.1 24.8h3v3h-3zM626.1 30.8h3v3h-3zM629.1 36.8h3v3h-3zM632.1 39.8h3v3h-3zM638.1 42.8h3v3h-3z"/>
<path fill="#f5c882" d="M623.1 0.8h3v3h-3zM623.1 3.8h3v3h-3zM623.1 6.8h3v3h-3zM626.1 21.8h3v3h-3zM629.1 27.8h3v3h-3zM632.1 33.8h3v3h-3zM638.1 36.8h3v3h-3zM644.1 39.8h12v3h-12z"/>
<path fill="#f5be7d" d="M626.1 0.8h3v3h-3zM626.1 3.8h3v3h-3zM626.1 6.8h3v3h-3zM626.1 9.8h3v3h-3zM632.1 27.8h3v3h-3zM638.1 33.8h3v3h-3z"/>
<path fill="#f5b973" d="M629.1 0.8h3v3h-3zM629.1 3.8h3v3h-3zM629.1 6.8h3v3h-3zM629.1 9.8h3v3h-3zM629.1 12.8h3v3h-3zM629.1 15.8h3v3h-3zM632.1 21.8h3v3h-3zM635.1 27.8h3v3h-3zM641.1 30.8h3v3h-3z"/>
<path fill="#f0af69" d="M632.1 0.8h3v3h-3zM632.1 3.8h3v3h-3zM632.1 6.8h3v3h-3zM632.1 9.8h3v3h-3zM632.1 12.8h3v3h-3zM635.1 21.8h3v3h-3zM638.1 24.8h3v3h-3zM644.1 27.8h12v3h-12z"/>
<path fill="#f0a564" d="M635.1 0.8h3v3h-3zM635.1 3.8h3v3h-3zM635.1 6.8h3v3h-3zM635.1 9.8h3v3h-3zM635.1 12.8h3v3h-3zM638.1 18.8h3v3h-3zM641.1 21.8h3v3h-3z"/>
<path fill="#f09b5f" d="M638.1 0.8h3v3h-3zM638.1 3.8h3v3h-3zM638.1 6.8h3v3h-3zM638.1 9.8h3v3h-3zM638.1 12.8h3v3h-3zM644.1 18.8h12v3h-12z"/>
<path fill="#eb915a" d="M641.1 0.8h3v3h-3zM641.1 3.8h3v3h-3zM641.1 6.8h3v3h-3zM641.1 9.8h3v3h-3zM641.1 12.8h3v3h-3z"/>
<path fill="#e68255" d="M644.1 0.8h3v3h-3zM644.1 3.8h3v3h-3zM644.1 6.8h3v3h-3z"/>
<path fill="#e68250" d="M647.1 0.8h9v3h-9zM647.1 3.8h9v3h-9zM647.1 6.8h9v3h-9z"/>
<path fill="#d2dcdc" d="M500.1 9.8h3v3h-3zM500.1 12.8h3v3h-3zM596.1 12.8h3v3h-3zM500.1 15.8h3v3h-3zM596.1 15.8h3v3h-3zM500.1 18.8h3v3h-3zM503.1 24.8h3v3h-3zM503.1 27.8h3v3h-3zM503.1 30.8h3v3h-3zM599.1 30.8h3v3h-3zM506.1 39.8h3v3h-3zM506.1 42.8h3v3h-3zM602.1 42.8h3v3h-3zM506.1 45.8h3v3h-3zM509.1 51.8h3v3h-3zM605.1 51.8h3v3h-3zM509.1 54.8h3v3h-3zM512.1 57.8h3v3h-3zM512.1 60.8h3v3h-3zM608.1 60.8h3v3h-3zM515.1 66.8h3v3h-3zM515.1 69.8h3v3h-3zM611.1 69.8h3v3h-3zM611.1 72.8h3v3h-3zM518.1 75.8h3v3h-3zM518.1 78.8h3v3h-3zM521.1 81.8h3v3h-3zM614.1 81.8h3v3h-3zM521.1 84.8h3v3h-3zM524.1 87.8h3v3h-3zM617.1 87.8h3v3h-3zM524.1 90.8h3v3h-3zM617.1 90.8h3v3h-3zM527.1 93.8h3v3h-3zM620.1 93.8h3v3h-3zM527.1 96.8h3v3h-3zM620.1 96.8h3v3h-3zM530.1 99.8h3v3h-3zM623.1 99.8h3v3h-3zM530.1 102.8h3v3h-3zM623.1 102.8h3v3h-3zM533.1 105.8h3v3h-3zM626.1 105.8h3v3h-3zM533.1 108.8h3v3h-3zM626.1 108.8h3v3h-3zM536.1 111.8h3v3h-3zM629.1 111.8h3v3h-3zM536.1 114.8h3v3h-3zM629.1 114.8h3v3h-3zM539.1 117.8h3v3h-3zM632.1 117.8h3v3h-3zM539.1 120.8h3v3h-3zM539.1 123.8h3v3h-3zM635.1 123.8h3v3h-3zM539.1 126.8h3v3h-3zM638.1 126.8h3v3h-3zM539.1 129.8h3v3h-3zM641.1 129.8h3v3h-3zM539.1 132.8h3v3h-3zM539.1 135.8h3v3h-3zM644.1 135.8h12v3h-12zM539.1 138.8h3v3h-3zM539.1 141.8h3v3h-3zM539.1 144.8h3v3h-3zM539.1 147.8h3v3h-3zM539.1 150.8h3v3h-3z"/>
<path fill="#82aacd" d="M521.1 9.8h3v3h-3zM524.1 21.8h3v3h-3zM578.1 33.8h3v3h-3zM533.1 51.8h3v3h-3zM584.1 66.8h3v3h-3zM566.1 123.8h3v3h-3zM569.1 147.8h3v3h-3z"/>
<path fill="#7da5cd" d="M524.1 9.8h3v3h-3zM524.1 12.8h3v3h-3zM572.1 15.8h3v3h-3zM527.1 21.8h3v3h-3zM527.1 24.8h3v3h-3zM575.1 30.8h3v3h-3zM530.1 33.8h3v3h-3zM575.1 33.8h3v3h-3zM533.1 45.8h3v3h-3zM578.1 45.8h3v3h-3zM578.1 48.8h3v3h-3zM539.1 60.8h3v3h-3zM581.1 60.8h3v3h-3zM581.1 63.8h3v3h-3zM545.1 75.8h3v3h-3zM584.1 78.8h3v3h-3zM554.1 93.8h3v3h-3zM590.1 93.8h3v3h-3zM557.1 99.8h3v3h-3zM593.1 99.8h3v3h-3zM560.1 105.8h3v3h-3zM569.1 129.8h3v3h-3zM569.1 132.8h3v3h-3zM620.1 147.8h3v3h-3zM572.1 150.8h3v3h-3zM572.1 153.8h3v3h-3zM572.1 156.8h3v3h-3zM572.1 159.8h3v3h-3zM572.1 162.8h3v3h-3z"/>
<path fill="#ebe6be" d="M608.1 9.8h3v3h-3zM608.1 12.8h3v3h-3zM611.1 27.8h3v3h-3zM614.1 36.8h3v3h-3zM623.1 54.8h3v3h-3zM629.1 63.8h3v3h-3zM635.1 66.8h3v3h-3z"/>
<path fill="#f0e1af" d="M611.1 9.8h3v3h-3zM611.1 12.8h3v3h-3zM614.1 24.8h3v3h-3zM614.1 27.8h3v3h-3zM617.1 36.8h3v3h-3zM620.1 42.8h3v3h-3zM623.1 48.8h3v3h-3zM626.1 51.8h3v3h-3zM629.1 54.8h3v3h-3zM632.1 57.8h6v3h-6zM641.1 60.8h15v3h-15z"/>
<path fill="#f5c887" d="M623.1 9.8h3v3h-3zM623.1 12.8h3v3h-3zM623.1 15.8h3v3h-3zM626.1 24.8h3v3h-3zM629.1 30.8h3v3h-3zM635.1 36.8h3v3h-3zM641.1 39.8h3v3h-3z"/>
<path fill="#eb8755" d="M644.1 9.8h12v3h-12z"/>
<path fill="#b4c8e1" d="M515.1 12.8h3v3h-3zM587.1 21.8h3v3h-3zM518.1 24.8h3v3h-3zM521.1 36.8h3v3h-3zM593.1 57.8h3v3h-3zM596.1 75.8h3v3h-3zM557.1 117.8h3v3h-3zM560.1 144.8h3v3h-3zM560.1 147.8h3v3h-3zM638.1 153.8h3v3h-3z"/>
<path fill="#aac3dc" d="M518.1 12.8h3v3h-3zM584.1 12.8h3v3h-3zM518.1 15.8h3v3h-3zM584.1 15.8h3v3h-3zM584.1 18.8h3v3h-3zM521.1 24.8h3v3h-3zM521.1 27.8h3v3h-3zM587.1 33.8h3v3h-3zM524.1 36.8h3v3h-3zM587.1 36.8h3v3h-3zM524.1 39.8h3v3h-3zM527.1 48.8h3v3h-3zM590.1 51.8h3v3h-3zM530.1 54.8h3v3h-3zM590.1 54.8h3v3h-3zM590.1 57.8h3v3h-3zM533.1 63.8h3v3h-3zM536.1 69.8h3v3h-3zM593.1 69.8h3v3h-3zM593.1 72.8h3v3h-3zM593.1 75.8h3v3h-3zM539.1 78.8h3v3h-3zM593.1 78.8h3v3h-3zM542.1 84.8h3v3h-3zM596.1 84.8h3v3h-3zM545.1 90.8h3v3h-3zM599.1 93.8h3v3h-3zM548.1 96.8h3v3h-3zM551.1 99.8h3v3h-3zM602.1 99.8h3v3h-3zM554.1 105.8h3v3h-3zM605.1 105.8h3v3h-3zM605.1 108.8h3v3h-3zM557.1 111.8h3v3h-3zM608.1 114.8h3v3h-3zM560.1 117.8h3v3h-3zM560.1 120.8h3v3h-3zM611.1 120.8h3v3h-3zM560.1 123.8h3v3h-3zM614.1 123.8h3v3h-3zM617.1 129.8h3v3h-3zM620.1 132.8h3v3h-3zM563.1 135.8h3v3h-3zM563.1 138.8h3v3h-3zM563.1 141.8h3v3h-3zM626.1 141.8h3v3h-3zM563.1 144.8h3v3h-3zM629.1 144.8h3v3h-3zM563.1 147.8h3v3h-3zM563.1 150.8h3v3h-3zM632.1 150.8h3v3h-3zM635.1 153.8h3v3h-3zM635.1 156.8h3v3h-3zM635.1 159.8h3v3h-3zM635.1 162.8h3v3h-3z"/>
<path fill="#9bb9d7" d="M521.1 12.8h3v3h-3zM581.1 15.8h3v3h-3zM524.1 24.8h3v3h-3zM584.1 36.8h3v3h-3zM530.1 45.8h3v3h-3zM587.1 57.8h3v3h-3zM536.1 60.8h3v3h-3zM542.1 75.8h3v3h-3zM590.1 78.8h3v3h-3zM545.1 81.8h3v3h-3zM548.1 87.8h3v3h-3zM593.1 87.8h3v3h-3zM599.1 102.8h3v3h-3zM563.1 114.8h3v3h-3zM605.1 117.8h3v3h-3zM566.1 126.8h3v3h-3zM611.1 126.8h3v3h-3zM566.1 129.8h3v3h-3zM569.1 153.8h3v3h-3zM569.1 156.8h3v3h-3zM569.1 159.8h3v3h-3zM569.1 162.8h3v3h-3z"/>
<path fill="#78a0cd" d="M527.1 12.8h3v3h-3zM569.1 12.8h3v3h-3zM530.1 24.8h3v3h-3zM572.1 27.8h3v3h-3zM533.1 36.8h3v3h-3zM575.1 42.8h3v3h-3zM536.1 48.8h3v3h-3zM578.1 57.8h3v3h-3zM542.1 63.8h3v3h-3zM581.1 72.8h3v3h-3zM548.1 78.8h3v3h-3zM554.1 90.8h3v3h-3zM587.1 90.8h3v3h-3zM557.1 96.8h3v3h-3zM590.1 96.8h3v3h-3zM599.1 117.8h3v3h-3zM569.1 120.8h3v3h-3zM605.1 126.8h3v3h-3zM572.1 138.8h3v3h-3zM620.1 150.8h3v3h-3z"/>
<path fill="#7396c8" d="M533.1 12.8h3v3h-3zM563.1 12.8h3v3h-3zM533.1 15.8h3v3h-3zM563.1 15.8h3v3h-3zM566.1 24.8h3v3h-3zM536.1 27.8h3v3h-3zM566.1 27.8h3v3h-3zM566.1 30.8h3v3h-3zM539.1 39.8h3v3h-3zM569.1 39.8h3v3h-3zM539.1 42.8h3v3h-3zM569.1 42.8h3v3h-3zM542.1 48.8h3v3h-3zM542.1 51.8h3v3h-3zM572.1 51.8h3v3h-3zM572.1 54.8h3v3h-3zM545.1 57.8h3v3h-3zM548.1 66.8h3v3h-3zM575.1 66.8h3v3h-3zM551.1 75.8h3v3h-3zM578.1 78.8h3v3h-3zM581.1 87.8h3v3h-3zM584.1 93.8h3v3h-3zM575.1 96.8h3v3h-3zM587.1 99.8h3v3h-3zM578.1 102.8h3v3h-3zM566.1 105.8h3v3h-3zM590.1 105.8h3v3h-3zM581.1 108.8h3v3h-3zM569.1 111.8h3v3h-3zM581.1 111.8h3v3h-3zM593.1 111.8h3v3h-3zM584.1 114.8h3v3h-3zM572.1 117.8h3v3h-3zM584.1 117.8h3v3h-3zM587.1 120.8h3v3h-3zM587.1 123.8h3v3h-3zM599.1 123.8h3v3h-3zM587.1 126.8h6v3h-6zM590.1 129.8h3v3h-3zM575.1 132.8h3v3h-3zM590.1 132.8h6v3h-6zM590.1 135.8h6v3h-6zM593.1 138.8h6v3h-6zM608.1 138.8h3v3h-3zM593.1 141.8h6v3h-6zM578.1 144.8h3v3h-3zM593.1 144.8h3v3h-3zM599.1 144.8h3v3h-3zM611.1 144.8h3v3h-3zM578.1 147.8h3v3h-3zM599.1 147.8h3v3h-3zM596.1 150.8h3v3h-3zM602.1 150.8h3v3h-3zM596.1 153.8h3v3h-3zM602.1 153.8h3v3h-3zM617.1 153.8h3v3h-3zM596.1 156.8h3v3h-3zM602.1 156.8h3v3h-3zM617.1 156.8h3v3h-3zM596.1 159.8h3v3h-3zM602.1 159.8h3v3h-3zM617.1 159.8h3v3h-3zM596.1 162.8h3v3h-3zM602.1 162.8h3v3h-3zM617.1 162.8h3v3h-3z"/>
<path fill="#87aacd" d="M575.1 12.8h3v3h-3zM575.1 15.8h3v3h-3zM578.1 30.8h3v3h-3zM527.1 33.8h3v3h-3zM581.1 45.8h3v3h-3zM581.1 48.8h3v3h-3zM584.1 63.8h3v3h-3zM539.1 66.8h3v3h-3zM587.1 81.8h3v3h-3zM590.1 87.8h3v3h-3zM596.1 102.8h3v3h-3zM560.1 108.8h3v3h-3zM599.1 108.8h3v3h-3zM605.1 120.8h3v3h-3zM611.1 129.8h3v3h-3zM617.1 138.8h3v3h-3zM623.1 147.8h3v3h-3zM569.1 150.8h3v3h-3z"/>
<path fill="#8cafd2" d="M578.1 12.8h3v3h-3zM578.1 15.8h3v3h-3zM578.1 18.8h3v3h-3zM581.1 30.8h3v3h-3zM581.1 33.8h3v3h-3zM581.1 36.8h3v3h-3zM584.1 48.8h3v3h-3zM584.1 51.8h3v3h-3zM587.1 66.8h3v3h-3zM587.1 69.8h3v3h-3zM590.1 84.8h3v3h-3zM593.1 90.8h3v3h-3zM596.1 96.8h3v3h-3zM599.1 105.8h3v3h-3zM602.1 111.8h3v3h-3zM617.1 135.8h3v3h-3z"/>
<path fill="#c8d7e1" d="M593.1 12.8h3v3h-3zM506.1 15.8h3v3h-3zM593.1 15.8h3v3h-3zM509.1 27.8h3v3h-3zM509.1 30.8h3v3h-3zM596.1 30.8h3v3h-3zM512.1 39.8h3v3h-3zM512.1 42.8h3v3h-3zM599.1 42.8h3v3h-3zM515.1 51.8h3v3h-3zM602.1 54.8h3v3h-3zM518.1 57.8h3v3h-3zM521.1 66.8h3v3h-3zM605.1 69.8h3v3h-3zM605.1 72.8h3v3h-3zM524.1 75.8h3v3h-3zM527.1 81.8h3v3h-3zM530.1 87.8h3v3h-3zM533.1 93.8h3v3h-3zM614.1 96.8h3v3h-3zM536.1 99.8h3v3h-3zM617.1 102.8h3v3h-3zM539.1 105.8h3v3h-3zM620.1 108.8h3v3h-3zM542.1 111.8h3v3h-3zM623.1 114.8h3v3h-3zM545.1 117.8h3v3h-3zM545.1 120.8h3v3h-3zM626.1 120.8h3v3h-3zM545.1 123.8h3v3h-3zM629.1 123.8h3v3h-3zM635.1 132.8h3v3h-3zM638.1 135.8h3v3h-3zM548.1 144.8h3v3h-3zM644.1 144.8h12v3h-12zM548.1 147.8h3v3h-3zM548.1 150.8h3v3h-3zM548.1 153.8h3v3h-3zM548.1 156.8h3v3h-3zM548.1 159.8h3v3h-3zM548.1 162.8h3v3h-3z"/>
<path fill="#f5c37d" d="M626.1 12.8h3v3h-3zM626.1 15.8h3v3h-3zM629.1 24.8h3v3h-3zM632.1 30.8h3v3h-3zM635.1 33.8h3v3h-3zM641.1 36.8h15v3h-15z"/>
<path fill="#eb8c55" d="M644.1 12.8h12v3h-12z"/>
<path fill="#c3d2e1" d="M509.1 15.8h3v3h-3zM509.1 18.8h3v3h-3zM593.1 21.8h3v3h-3zM593.1 24.8h3v3h-3zM512.1 30.8h3v3h-3zM596.1 39.8h3v3h-3zM515.1 42.8h3v3h-3zM518.1 51.8h3v3h-3zM599.1 51.8h3v3h-3zM599.1 54.8h3v3h-3zM521.1 60.8h3v3h-3zM524.1 66.8h3v3h-3zM602.1 66.8h3v3h-3zM602.1 69.8h3v3h-3zM527.1 75.8h3v3h-3zM530.1 81.8h3v3h-3zM605.1 81.8h3v3h-3zM533.1 87.8h3v3h-3zM536.1 93.8h3v3h-3zM611.1 96.8h3v3h-3zM539.1 99.8h3v3h-3zM614.1 102.8h3v3h-3zM542.1 105.8h3v3h-3zM617.1 108.8h3v3h-3zM545.1 111.8h3v3h-3zM620.1 114.8h3v3h-3zM548.1 117.8h3v3h-3zM548.1 120.8h3v3h-3zM623.1 120.8h3v3h-3zM626.1 123.8h3v3h-3zM632.1 132.8h3v3h-3zM551.1 141.8h3v3h-3zM551.1 144.8h3v3h-3zM641.1 144.8h3v3h-3zM551.1 147.8h3v3h-3zM551.1 150.8h3v3h-3zM647.1 150.8h9v3h-9zM551.1 153.8h3v3h-3zM551.1 156.8h3v3h-3zM551.1 159.8h3v3h-3zM551.1 162.8h3v3h-3z"/>
<path fill="#b9d2e1" d="M512.1 15.8h3v3h-3zM590.1 21.8h3v3h-3zM515.1 27.8h3v3h-3zM593.1 36.8h3v3h-3zM518.1 39.8h3v3h-3zM596.1 54.8h3v3h-3zM524.1 57.8h3v3h-3zM599.1 69.8h3v3h-3zM530.1 72.8h3v3h-3zM599.1 72.8h3v3h-3zM602.1 84.8h3v3h-3zM605.1 90.8h3v3h-3zM548.1 108.8h3v3h-3zM614.1 111.8h3v3h-3zM551.1 114.8h3v3h-3zM617.1 117.8h3v3h-3zM554.1 129.8h3v3h-3zM626.1 129.8h3v3h-3zM554.1 132.8h3v3h-3zM554.1 135.8h3v3h-3zM632.1 138.8h3v3h-3zM641.1 150.8h3v3h-3z"/>
<path fill="#b4cde1" d="M515.1 15.8h3v3h-3zM587.1 15.8h3v3h-3zM515.1 18.8h3v3h-3zM587.1 18.8h3v3h-3zM518.1 27.8h3v3h-3zM518.1 30.8h3v3h-3zM590.1 33.8h3v3h-3zM590.1 36.8h3v3h-3zM521.1 39.8h3v3h-3zM521.1 42.8h3v3h-3zM524.1 48.8h3v3h-3zM593.1 48.8h3v3h-3zM593.1 51.8h3v3h-3zM593.1 54.8h3v3h-3zM527.1 57.8h3v3h-3zM530.1 63.8h3v3h-3zM530.1 66.8h3v3h-3zM596.1 66.8h3v3h-3zM596.1 69.8h3v3h-3zM533.1 72.8h3v3h-3zM596.1 72.8h3v3h-3zM536.1 78.8h3v3h-3zM536.1 81.8h3v3h-3zM539.1 84.8h3v3h-3zM599.1 84.8h3v3h-3zM542.1 90.8h3v3h-3zM602.1 90.8h3v3h-3zM545.1 96.8h3v3h-3zM605.1 96.8h3v3h-3zM605.1 99.8h3v3h-3zM548.1 102.8h3v3h-3zM608.1 105.8h3v3h-3zM551.1 108.8h3v3h-3zM611.1 111.8h3v3h-3zM554.1 114.8h3v3h-3zM614.1 117.8h3v3h-3zM557.1 120.8h3v3h-3zM557.1 123.8h3v3h-3zM617.1 123.8h3v3h-3zM557.1 126.8h3v3h-3zM620.1 126.8h3v3h-3zM557.1 129.8h3v3h-3zM557.1 132.8h3v3h-3zM557.1 135.8h3v3h-3zM626.1 135.8h3v3h-3zM629.1 138.8h3v3h-3zM632.1 144.8h3v3h-3zM635.1 147.8h3v3h-3zM560.1 150.8h3v3h-3zM560.1 153.8h3v3h-3zM560.1 156.8h3v3h-3zM560.1 159.8h3v3h-3zM560.1 162.8h3v3h-3z"/>
<path fill="#e6e6d2" d="M605.1 15.8h3v3h-3zM608.1 30.8h3v3h-3zM611.1 39.8h3v3h-3zM626.1 69.8h3v3h-3zM632.1 78.8h3v3h-3zM635.1 81.8h21v3h-21z"/>
<path fill="#ebe6c3" d="M608.1 15.8h3v3h-3zM608.1 18.8h3v3h-3zM611.1 30.8h3v3h-3zM614.1 39.8h3v3h-3zM617.1 45.8h3v3h-3zM620.1 51.8h3v3h-3zM623.1 57.8h3v3h-3zM626.1 60.8h3v3h-3zM629.1 66.8h6v3h-6zM632.1 69.8h24v3h-24z"/>
<path fill="#f0e1b4" d="M611.1 15.8h3v3h-3zM638.1 60.8h3v3h-3z"/>
<path fill="#f5dc96" d="M617.1 15.8h3v3h-3zM617.1 18.8h3v3h-3zM626.1 39.8h3v3h-3zM629.1 42.8h3v3h-3zM632.1 45.8h3v3h-3zM638.1 48.8h3v3h-3z"/>
<path fill="#f0af6e" d="M632.1 15.8h3v3h-3zM641.1 27.8h3v3h-3z"/>
<path fill="#f0aa64" d="M635.1 15.8h3v3h-3zM638.1 21.8h3v3h-3zM641.1 24.8h15v3h-15z"/>
<path fill="#f0a05f" d="M638.1 15.8h3v3h-3zM641.1 18.8h3v3h-3zM644.1 21.8h12v3h-12z"/>
<path fill="#f0965a" d="M641.1 15.8h3v3h-3z"/>
<path fill="#eb965a" d="M644.1 15.8h12v3h-12z"/>
<path fill="#dce6d7" d="M491.1 18.8h3v3h-3zM494.1 36.8h3v3h-3zM497.1 48.8h3v3h-3zM500.1 57.8h3v3h-3zM503.1 66.8h3v3h-3zM506.1 75.8h3v3h-3zM623.1 78.8h3v3h-3zM626.1 84.8h3v3h-3zM629.1 90.8h3v3h-3zM518.1 102.8h3v3h-3zM521.1 108.8h3v3h-3zM524.1 114.8h3v3h-3zM527.1 144.8h3v3h-3zM527.1 147.8h3v3h-3zM527.1 150.8h3v3h-3zM527.1 153.8h3v3h-3zM527.1 156.8h3v3h-3zM527.1 159.8h3v3h-3zM527.1 162.8h3v3h-3z"/>
<path fill="#a5bed7" d="M521.1 18.8h3v3h-3zM524.1 30.8h3v3h-3zM533.1 57.8h3v3h-3zM590.1 66.8h3v3h-3zM539.1 72.8h3v3h-3zM551.1 96.8h3v3h-3zM602.1 105.8h3v3h-3zM563.1 120.8h3v3h-3zM566.1 147.8h3v3h-3zM632.1 153.8h3v3h-3z"/>
<path fill="#6e96c8" d="M563.1 18.8h3v3h-3zM536.1 24.8h3v3h-3zM569.1 45.8h3v3h-3zM572.1 57.8h3v3h-3zM575.1 69.8h3v3h-3zM578.1 81.8h3v3h-3zM572.1 90.8h3v3h-3zM560.1 93.8h3v3h-3zM563.1 99.8h3v3h-3zM578.1 105.8h6v3h-6zM584.1 111.8h3v3h-3zM587.1 117.8h3v3h-3zM575.1 129.8h3v3h-3zM602.1 129.8h3v3h-3z"/>
<path fill="#96b4d2" d="M581.1 18.8h3v3h-3z"/>
<path fill="#ebe1b4" d="M611.1 18.8h3v3h-3zM614.1 30.8h3v3h-3zM620.1 45.8h3v3h-3zM626.1 54.8h3v3h-3zM629.1 57.8h3v3h-3zM632.1 60.8h6v3h-6zM644.1 63.8h12v3h-12z"/>
<path fill="#f0dca5" d="M614.1 18.8h3v3h-3zM617.1 30.8h3v3h-3zM620.1 36.8h3v3h-3zM623.1 42.8h3v3h-3zM629.1 48.8h3v3h-3zM632.1 51.8h3v3h-3zM638.1 54.8h18v3h-18z"/>
<path fill="#f5d291" d="M620.1 18.8h3v3h-3zM623.1 27.8h3v3h-3zM626.1 33.8h3v3h-3zM635.1 42.8h3v3h-3zM641.1 45.8h15v3h-15z"/>
<path fill="#f5cd87" d="M623.1 18.8h3v3h-3zM626.1 27.8h3v3h-3zM629.1 33.8h3v3h-3zM632.1 36.8h3v3h-3zM638.1 39.8h3v3h-3z"/>
<path fill="#f5c382" d="M626.1 18.8h3v3h-3z"/>
<path fill="#f5be78" d="M629.1 18.8h3v3h-3zM629.1 21.8h3v3h-3zM635.1 30.8h3v3h-3zM641.1 33.8h15v3h-15z"/>
<path fill="#f0b46e" d="M632.1 18.8h3v3h-3zM635.1 24.8h3v3h-3zM638.1 27.8h3v3h-3z"/>
<path fill="#f0aa69" d="M635.1 18.8h3v3h-3z"/>
<path fill="#a5c3dc" d="M521.1 21.8h3v3h-3zM584.1 21.8h3v3h-3zM524.1 33.8h3v3h-3zM587.1 39.8h3v3h-3zM527.1 45.8h3v3h-3zM533.1 60.8h3v3h-3zM590.1 60.8h3v3h-3zM539.1 75.8h3v3h-3zM542.1 81.8h3v3h-3zM593.1 81.8h3v3h-3zM545.1 87.8h3v3h-3zM596.1 87.8h3v3h-3zM548.1 93.8h3v3h-3zM602.1 102.8h3v3h-3zM560.1 114.8h3v3h-3zM608.1 117.8h3v3h-3zM563.1 129.8h3v3h-3zM563.1 132.8h3v3h-3zM623.1 138.8h3v3h-3zM629.1 147.8h3v3h-3z"/>
<path fill="#8caad2" d="M578.1 21.8h3v3h-3zM584.1 54.8h3v3h-3zM587.1 72.8h3v3h-3zM608.1 123.8h3v3h-3zM623.1 144.8h3v3h-3z"/>
<path fill="#91b4d2" d="M581.1 21.8h3v3h-3zM584.1 39.8h3v3h-3z"/>
<path fill="#e6ebd7" d="M605.1 21.8h3v3h-3zM497.1 75.8h3v3h-3zM632.1 81.8h3v3h-3zM638.1 90.8h3v3h-3zM506.1 96.8h3v3h-3z"/>
<path fill="#ebe6c8" d="M608.1 21.8h3v3h-3zM611.1 33.8h3v3h-3zM617.1 48.8h3v3h-3zM620.1 54.8h3v3h-3zM626.1 63.8h3v3h-3zM635.1 72.8h21v3h-21z"/>
<path fill="#ebe1b9" d="M611.1 21.8h3v3h-3zM614.1 33.8h3v3h-3zM617.1 39.8h3v3h-3zM623.1 51.8h3v3h-3zM626.1 57.8h3v3h-3zM629.1 60.8h3v3h-3zM635.1 63.8h9v3h-9z"/>
<path fill="#f5dc9b" d="M617.1 21.8h3v3h-3zM620.1 30.8h3v3h-3zM623.1 36.8h3v3h-3zM629.1 45.8h3v3h-3zM635.1 48.8h3v3h-3zM641.1 51.8h15v3h-15z"/>
<path fill="#f5d791" d="M620.1 21.8h3v3h-3zM620.1 24.8h3v3h-3zM623.1 30.8h3v3h-3zM626.1 36.8h3v3h-3zM629.1 39.8h3v3h-3zM632.1 42.8h3v3h-3zM638.1 45.8h3v3h-3z"/>
<path fill="#f5cd8c" d="M623.1 21.8h3v3h-3zM635.1 39.8h3v3h-3zM641.1 42.8h15v3h-15z"/>
<path fill="#cdd7dc" d="M596.1 24.8h3v3h-3zM515.1 57.8h3v3h-3zM524.1 81.8h3v3h-3zM527.1 87.8h3v3h-3zM614.1 90.8h3v3h-3zM530.1 93.8h3v3h-3zM629.1 120.8h3v3h-3zM647.1 141.8h9v3h-9zM545.1 150.8h3v3h-3z"/>
<path fill="#f0dc9b" d="M617.1 24.8h3v3h-3zM620.1 33.8h3v3h-3zM626.1 42.8h3v3h-3z"/>
<path fill="#f5b978" d="M632.1 24.8h3v3h-3zM638.1 30.8h3v3h-3z"/>
<path fill="#aac8dc" d="M587.1 30.8h3v3h-3zM530.1 57.8h3v3h-3zM536.1 72.8h3v3h-3zM551.1 102.8h3v3h-3zM623.1 135.8h3v3h-3z"/>
<path fill="#f5b473" d="M644.1 30.8h12v3h-12z"/>
<path fill="#a0b9d7" d="M584.1 33.8h3v3h-3zM527.1 36.8h3v3h-3zM587.1 54.8h3v3h-3zM551.1 93.8h3v3h-3zM566.1 132.8h3v3h-3zM620.1 138.8h3v3h-3zM626.1 147.8h3v3h-3z"/>
<path fill="#b4c8dc" d="M590.1 39.8h3v3h-3zM527.1 54.8h3v3h-3zM602.1 93.8h3v3h-3zM611.1 114.8h3v3h-3zM623.1 132.8h3v3h-3z"/>
<path fill="#e6e6c8" d="M614.1 42.8h3v3h-3zM623.1 60.8h3v3h-3zM629.1 69.8h3v3h-3zM632.1 72.8h3v3h-3zM641.1 75.8h15v3h-15z"/>
<path fill="#f0dcaa" d="M626.1 48.8h3v3h-3zM635.1 54.8h3v3h-3z"/></g></g>
<line x1="520.80" y1="9.80" x2="520.80" y2="155.80" stroke="#ffffff" stroke-width="1.0" stroke-dasharray="2,1.6"/>
<line x1="581.30" y1="9.80" x2="581.30" y2="155.80" stroke="#ffffff" stroke-width="1.0" stroke-dasharray="2,1.6"/>
<path d="M521.70,9.80 C523.30,15.87 527.18,34.02 531.30,46.20 C535.42,58.38 540.53,70.72 546.40,82.90 C552.27,95.08 562.40,107.15 566.50,119.30 C570.60,131.45 570.25,149.72 571.00,155.80" fill="none" stroke="#2f72c8" stroke-width="1.0" stroke-linejoin="round" stroke-linecap="round"/>
<path d="M581.20,9.80 C582.08,15.87 584.78,34.02 586.50,46.20 C588.22,58.38 588.20,70.72 591.50,82.90 C594.80,95.08 599.65,107.15 606.30,119.30 C612.95,131.45 627.22,149.72 631.40,155.80" fill="none" stroke="#2f72c8" stroke-width="1.0" stroke-linejoin="round" stroke-linecap="round"/>
<circle cx="531.30" cy="46.20" r="2.50" fill="none" stroke="#2f72c8" stroke-width="0.8"/>
<circle cx="546.40" cy="82.90" r="2.50" fill="none" stroke="#2f72c8" stroke-width="0.8"/>
<circle cx="566.50" cy="119.30" r="2.50" fill="none" stroke="#2f72c8" stroke-width="0.8"/>
<circle cx="586.50" cy="46.20" r="2.50" fill="none" stroke="#2f72c8" stroke-width="0.8"/>
<circle cx="591.50" cy="82.90" r="2.50" fill="none" stroke="#2f72c8" stroke-width="0.8"/>
<circle cx="606.30" cy="119.30" r="2.50" fill="none" stroke="#2f72c8" stroke-width="0.8"/>
<g clip-path="url(#clipc)">
<circle cx="521.70" cy="9.80" r="2.50" fill="none" stroke="#2f72c8" stroke-width="0.8"/>
<circle cx="571.00" cy="155.80" r="2.50" fill="none" stroke="#2f72c8" stroke-width="0.8"/>
<circle cx="581.20" cy="9.80" r="2.50" fill="none" stroke="#2f72c8" stroke-width="0.8"/>
<circle cx="631.40" cy="155.80" r="2.50" fill="none" stroke="#2f72c8" stroke-width="0.8"/>
</g>
<line x1="476.10" y1="9.80" x2="646.50" y2="9.80" stroke="#9aa7b5" stroke-width="0.6"/>
<line x1="476.10" y1="9.80" x2="476.10" y2="156.20" stroke="#707070" stroke-width="0.8"/>
<line x1="476.10" y1="155.80" x2="646.50" y2="155.80" stroke="#707070" stroke-width="0.8"/>
<line x1="473.60" y1="155.80" x2="476.10" y2="155.80" stroke="#707070" stroke-width="0.7"/>
<text x="471.30" y="159.04" font-size="9" text-anchor="end" fill="#2e2e2e" textLength="9.21" lengthAdjust="spacingAndGlyphs">10</text>
<line x1="473.60" y1="119.30" x2="476.10" y2="119.30" stroke="#707070" stroke-width="0.7"/>
<text x="471.30" y="122.54" font-size="9" text-anchor="end" fill="#2e2e2e" textLength="9.21" lengthAdjust="spacingAndGlyphs">20</text>
<line x1="473.60" y1="82.80" x2="476.10" y2="82.80" stroke="#707070" stroke-width="0.7"/>
<text x="471.30" y="86.04" font-size="9" text-anchor="end" fill="#2e2e2e" textLength="9.21" lengthAdjust="spacingAndGlyphs">30</text>
<line x1="473.60" y1="46.30" x2="476.10" y2="46.30" stroke="#707070" stroke-width="0.7"/>
<text x="471.30" y="49.54" font-size="9" text-anchor="end" fill="#2e2e2e" textLength="9.21" lengthAdjust="spacingAndGlyphs">40</text>
<line x1="473.60" y1="9.80" x2="476.10" y2="9.80" stroke="#707070" stroke-width="0.7"/>
<text x="471.30" y="13.04" font-size="9" text-anchor="end" fill="#2e2e2e" textLength="9.21" lengthAdjust="spacingAndGlyphs">50</text>
<line x1="476.37" y1="155.80" x2="476.37" y2="157.30" stroke="#8c8c8c" stroke-width="0.7"/>
<line x1="478.55" y1="155.80" x2="478.55" y2="157.30" stroke="#8c8c8c" stroke-width="0.7"/>
<line x1="480.44" y1="155.80" x2="480.44" y2="157.30" stroke="#8c8c8c" stroke-width="0.7"/>
<line x1="482.11" y1="155.80" x2="482.11" y2="157.30" stroke="#8c8c8c" stroke-width="0.7"/>
<line x1="483.60" y1="155.80" x2="483.60" y2="158.30" stroke="#8c8c8c" stroke-width="0.7"/>
<line x1="493.41" y1="155.80" x2="493.41" y2="157.30" stroke="#8c8c8c" stroke-width="0.7"/>
<line x1="499.15" y1="155.80" x2="499.15" y2="157.30" stroke="#8c8c8c" stroke-width="0.7"/>
<line x1="503.23" y1="155.80" x2="503.23" y2="157.30" stroke="#8c8c8c" stroke-width="0.7"/>
<line x1="506.39" y1="155.80" x2="506.39" y2="157.30" stroke="#8c8c8c" stroke-width="0.7"/>
<line x1="508.97" y1="155.80" x2="508.97" y2="157.30" stroke="#8c8c8c" stroke-width="0.7"/>
<line x1="511.15" y1="155.80" x2="511.15" y2="157.30" stroke="#8c8c8c" stroke-width="0.7"/>
<line x1="513.04" y1="155.80" x2="513.04" y2="157.30" stroke="#8c8c8c" stroke-width="0.7"/>
<line x1="514.71" y1="155.80" x2="514.71" y2="157.30" stroke="#8c8c8c" stroke-width="0.7"/>
<line x1="516.20" y1="155.80" x2="516.20" y2="158.30" stroke="#8c8c8c" stroke-width="0.7"/>
<line x1="526.01" y1="155.80" x2="526.01" y2="157.30" stroke="#8c8c8c" stroke-width="0.7"/>
<line x1="531.75" y1="155.80" x2="531.75" y2="157.30" stroke="#8c8c8c" stroke-width="0.7"/>
<line x1="535.83" y1="155.80" x2="535.83" y2="157.30" stroke="#8c8c8c" stroke-width="0.7"/>
<line x1="538.99" y1="155.80" x2="538.99" y2="157.30" stroke="#8c8c8c" stroke-width="0.7"/>
<line x1="541.57" y1="155.80" x2="541.57" y2="157.30" stroke="#8c8c8c" stroke-width="0.7"/>
<line x1="543.75" y1="155.80" x2="543.75" y2="157.30" stroke="#8c8c8c" stroke-width="0.7"/>
<line x1="545.64" y1="155.80" x2="545.64" y2="157.30" stroke="#8c8c8c" stroke-width="0.7"/>
<line x1="547.31" y1="155.80" x2="547.31" y2="157.30" stroke="#8c8c8c" stroke-width="0.7"/>
<line x1="548.80" y1="155.80" x2="548.80" y2="158.30" stroke="#8c8c8c" stroke-width="0.7"/>
<line x1="558.61" y1="155.80" x2="558.61" y2="157.30" stroke="#8c8c8c" stroke-width="0.7"/>
<line x1="564.35" y1="155.80" x2="564.35" y2="157.30" stroke="#8c8c8c" stroke-width="0.7"/>
<line x1="568.43" y1="155.80" x2="568.43" y2="157.30" stroke="#8c8c8c" stroke-width="0.7"/>
<line x1="571.59" y1="155.80" x2="571.59" y2="157.30" stroke="#8c8c8c" stroke-width="0.7"/>
<line x1="574.17" y1="155.80" x2="574.17" y2="157.30" stroke="#8c8c8c" stroke-width="0.7"/>
<line x1="576.35" y1="155.80" x2="576.35" y2="157.30" stroke="#8c8c8c" stroke-width="0.7"/>
<line x1="578.24" y1="155.80" x2="578.24" y2="157.30" stroke="#8c8c8c" stroke-width="0.7"/>
<line x1="579.91" y1="155.80" x2="579.91" y2="157.30" stroke="#8c8c8c" stroke-width="0.7"/>
<line x1="581.40" y1="155.80" x2="581.40" y2="158.30" stroke="#8c8c8c" stroke-width="0.7"/>
<line x1="591.21" y1="155.80" x2="591.21" y2="157.30" stroke="#8c8c8c" stroke-width="0.7"/>
<line x1="596.95" y1="155.80" x2="596.95" y2="157.30" stroke="#8c8c8c" stroke-width="0.7"/>
<line x1="601.03" y1="155.80" x2="601.03" y2="157.30" stroke="#8c8c8c" stroke-width="0.7"/>
<line x1="604.19" y1="155.80" x2="604.19" y2="157.30" stroke="#8c8c8c" stroke-width="0.7"/>
<line x1="606.77" y1="155.80" x2="606.77" y2="157.30" stroke="#8c8c8c" stroke-width="0.7"/>
<line x1="608.95" y1="155.80" x2="608.95" y2="157.30" stroke="#8c8c8c" stroke-width="0.7"/>
<line x1="610.84" y1="155.80" x2="610.84" y2="157.30" stroke="#8c8c8c" stroke-width="0.7"/>
<line x1="612.51" y1="155.80" x2="612.51" y2="157.30" stroke="#8c8c8c" stroke-width="0.7"/>
<line x1="614.00" y1="155.80" x2="614.00" y2="158.30" stroke="#8c8c8c" stroke-width="0.7"/>
<line x1="623.81" y1="155.80" x2="623.81" y2="157.30" stroke="#8c8c8c" stroke-width="0.7"/>
<line x1="629.55" y1="155.80" x2="629.55" y2="157.30" stroke="#8c8c8c" stroke-width="0.7"/>
<line x1="633.63" y1="155.80" x2="633.63" y2="157.30" stroke="#8c8c8c" stroke-width="0.7"/>
<line x1="636.79" y1="155.80" x2="636.79" y2="157.30" stroke="#8c8c8c" stroke-width="0.7"/>
<line x1="639.37" y1="155.80" x2="639.37" y2="157.30" stroke="#8c8c8c" stroke-width="0.7"/>
<line x1="641.55" y1="155.80" x2="641.55" y2="157.30" stroke="#8c8c8c" stroke-width="0.7"/>
<line x1="643.44" y1="155.80" x2="643.44" y2="157.30" stroke="#8c8c8c" stroke-width="0.7"/>
<line x1="645.11" y1="155.80" x2="645.11" y2="157.30" stroke="#8c8c8c" stroke-width="0.7"/>
<text x="477.45" y="169.30" font-size="8.6" fill="#2e2e2e" textLength="8.23" lengthAdjust="spacingAndGlyphs">10</text>
<text x="486.17" y="165.00" font-size="5.33" fill="#2e2e2e" textLength="4.08" lengthAdjust="spacingAndGlyphs">-1</text>
<text x="510.81" y="169.30" font-size="8.6" fill="#2e2e2e" textLength="8.23" lengthAdjust="spacingAndGlyphs">10</text>
<text x="519.54" y="165.00" font-size="5.33" fill="#2e2e2e" textLength="2.55" lengthAdjust="spacingAndGlyphs">0</text>
<text x="543.41" y="169.30" font-size="8.6" fill="#2e2e2e" textLength="8.23" lengthAdjust="spacingAndGlyphs">10</text>
<text x="552.14" y="165.00" font-size="5.33" fill="#2e2e2e" textLength="2.55" lengthAdjust="spacingAndGlyphs">1</text>
<text x="576.01" y="169.30" font-size="8.6" fill="#2e2e2e" textLength="8.23" lengthAdjust="spacingAndGlyphs">10</text>
<text x="584.74" y="165.00" font-size="5.33" fill="#2e2e2e" textLength="2.55" lengthAdjust="spacingAndGlyphs">2</text>
<text x="608.61" y="169.30" font-size="8.6" fill="#2e2e2e" textLength="8.23" lengthAdjust="spacingAndGlyphs">10</text>
<text x="617.34" y="165.00" font-size="5.33" fill="#2e2e2e" textLength="2.55" lengthAdjust="spacingAndGlyphs">3</text>
<text x="641.21" y="169.30" font-size="8.6" fill="#2e2e2e" textLength="8.23" lengthAdjust="spacingAndGlyphs">10</text>
<text x="649.94" y="165.00" font-size="5.33" fill="#2e2e2e" textLength="2.55" lengthAdjust="spacingAndGlyphs">4</text>
<text x="561.40" y="181.81" font-size="9.2" text-anchor="middle" fill="#2e2e2e" textLength="60.10" lengthAdjust="spacingAndGlyphs">Frequency (Hz)</text>
<text x="450.80" y="87.51" font-size="9.2" text-anchor="middle" fill="#2e2e2e" textLength="93.00" lengthAdjust="spacingAndGlyphs" transform="rotate(-90 450.80 84.20)">Content of glycerol (%)</text>
<rect x="663.30" y="10.30" width="8.90" height="103.50" fill="url(#cbc)"/>
<line x1="672.20" y1="10.30" x2="674.50" y2="10.30" stroke="#707070" stroke-width="0.7"/>
<text x="676.40" y="13.47" font-size="8.8" text-anchor="start" fill="#2e2e2e" textLength="9.00" lengthAdjust="spacingAndGlyphs">15</text>
<line x1="672.20" y1="46.10" x2="674.50" y2="46.10" stroke="#707070" stroke-width="0.7"/>
<text x="676.40" y="49.27" font-size="8.8" text-anchor="start" fill="#2e2e2e" textLength="9.00" lengthAdjust="spacingAndGlyphs">10</text>
<line x1="672.20" y1="81.50" x2="674.50" y2="81.50" stroke="#707070" stroke-width="0.7"/>
<text x="676.40" y="84.67" font-size="8.8" text-anchor="start" fill="#2e2e2e" textLength="4.50" lengthAdjust="spacingAndGlyphs">5</text>
<text x="655.30" y="65.34" font-size="9" text-anchor="middle" fill="#2e2e2e" transform="rotate(-90 655.30 62.10)">LF</text>
<text x="529.90" y="63.74" font-size="7.6" text-anchor="middle" fill="#111" textLength="19.97" lengthAdjust="spacingAndGlyphs" transform="rotate(-108 529.90 61.00)">LE = 1</text>
<circle cx="566.70" cy="25.80" r="4.50" fill="url(#gor)" stroke="#f5a83a" stroke-width="0.5"/>
<line x1="565.10" y1="25.80" x2="568.30" y2="25.80" stroke="#d0302a" stroke-width="0.6"/>
<line x1="566.70" y1="24.00" x2="566.70" y2="27.60" stroke="#d0302a" stroke-width="0.6"/>
<circle cx="566.40" cy="61.00" r="4.50" fill="url(#ggr)" stroke="#aaaaaa" stroke-width="0.5"/>
<line x1="564.70" y1="61.00" x2="568.10" y2="61.00" stroke="#444" stroke-width="0.8"/>
<text x="574.90" y="28.68" font-size="8" text-anchor="start" fill="#2a2a2a" textLength="22.00" lengthAdjust="spacingAndGlyphs">Cation</text>
<text x="574.90" y="63.88" font-size="8" text-anchor="start" fill="#2a2a2a" textLength="19.30" lengthAdjust="spacingAndGlyphs">Anion</text>
<line x1="551.20" y1="27.60" x2="551.20" y2="61.10" stroke="#222" stroke-width="0.8"/>
<polygon points="551.20,25.10 549.30,29.20 551.20,28.40 553.10,29.20" fill="#222" stroke="none" stroke-width="0.8"/>
<polygon points="551.20,63.60 549.30,59.50 551.20,60.30 553.10,59.50" fill="#222" stroke="none" stroke-width="0.8"/>
<text x="545.40" y="46.98" font-size="8" text-anchor="middle" fill="#222" font-style="italic">E</text>
<path d="M561.8,33 Q555.5,43 561,54" fill="none" stroke="#1a1a1a" stroke-width="1.1" stroke-dasharray="1.6,1.3"/>
<polygon points="563.60,29.60 559.60,31.80 562.80,34.20" fill="#1a1a1a" stroke="none" stroke-width="0.8"/>
<polygon points="563.00,57.80 559.00,54.80 562.30,53.00" fill="#1a1a1a" stroke="none" stroke-width="0.8"/>
<line x1="495.10" y1="92.00" x2="495.10" y2="126.20" stroke="#222" stroke-width="0.8"/>
<polygon points="495.10,89.50 493.20,93.60 495.10,92.80 497.00,93.60" fill="#222" stroke="none" stroke-width="0.8"/>
<polygon points="495.10,128.70 493.20,124.60 495.10,125.40 497.00,124.60" fill="#222" stroke="none" stroke-width="0.8"/>
<line x1="486.20" y1="90.40" x2="495.00" y2="90.40" stroke="#333" stroke-width="0.7" stroke-dasharray="1.5,1"/>
<line x1="486.20" y1="103.50" x2="507.10" y2="103.50" stroke="#333" stroke-width="0.7" stroke-dasharray="1.5,1"/>
<text x="489.50" y="100.32" font-size="7" text-anchor="middle" fill="#2a2a2a">ε*</text>
<text x="490.30" y="118.22" font-size="8.4" text-anchor="middle" fill="#222">E</text>
<circle cx="510.20" cy="99.20" r="4.80" fill="url(#gor)" stroke="#f5a83a" stroke-width="0.5"/>
<line x1="508.60" y1="99.20" x2="511.80" y2="99.20" stroke="#d0302a" stroke-width="0.6"/>
<line x1="510.20" y1="97.40" x2="510.20" y2="101.00" stroke="#d0302a" stroke-width="0.6"/>
<circle cx="510.50" cy="118.70" r="4.70" fill="url(#ggr)" stroke="#aaaaaa" stroke-width="0.5"/>
<line x1="508.80" y1="118.70" x2="512.20" y2="118.70" stroke="#444" stroke-width="0.8"/>
<path d="M507.5,105 L507.5,112.5" fill="none" stroke="#222" stroke-width="0.9" stroke-dasharray="1.2,1.2"/>
<polygon points="507.50,114.20 506.10,111.60 508.90,111.60" fill="#222" stroke="none" stroke-width="0.8"/>
<polygon points="507.50,104.20 506.10,106.80 508.90,106.80" fill="#222" stroke="none" stroke-width="0.8"/>
<text x="0.80" y="209.00" font-size="12.5" text-anchor="start" fill="#111" font-weight="bold">d</text>
<g clip-path="url(#insclip)">
<rect x="131.10" y="228.70" width="89.40" height="24.20" fill="#dae6f3"/>
<rect x="131.10" y="252.90" width="89.40" height="21.70" fill="#fcefcf"/>
<rect x="131.10" y="274.60" width="89.40" height="63.90" fill="#e2e2e2"/>
<line x1="131.60" y1="295.00" x2="131.60" y2="306.20" stroke="#d2d2d2" stroke-width="0.45"/>
<line x1="133.10" y1="295.00" x2="133.10" y2="306.20" stroke="#d2d2d2" stroke-width="0.45"/>
<line x1="134.60" y1="295.00" x2="134.60" y2="306.20" stroke="#d2d2d2" stroke-width="0.45"/>
<line x1="136.10" y1="295.00" x2="136.10" y2="306.20" stroke="#d2d2d2" stroke-width="0.45"/>
<line x1="137.60" y1="295.00" x2="137.60" y2="306.20" stroke="#d2d2d2" stroke-width="0.45"/>
<line x1="139.10" y1="295.00" x2="139.10" y2="306.20" stroke="#d2d2d2" stroke-width="0.45"/>
<line x1="140.60" y1="295.00" x2="140.60" y2="306.20" stroke="#d2d2d2" stroke-width="0.45"/>
<line x1="142.10" y1="295.00" x2="142.10" y2="306.20" stroke="#d2d2d2" stroke-width="0.45"/>
<line x1="143.60" y1="295.00" x2="143.60" y2="306.20" stroke="#d2d2d2" stroke-width="0.45"/>
<line x1="145.10" y1="295.00" x2="145.10" y2="306.20" stroke="#d2d2d2" stroke-width="0.45"/>
<line x1="146.60" y1="295.00" x2="146.60" y2="306.20" stroke="#d2d2d2" stroke-width="0.45"/>
<line x1="148.10" y1="295.00" x2="148.10" y2="306.20" stroke="#d2d2d2" stroke-width="0.45"/>
<line x1="149.60" y1="295.00" x2="149.60" y2="306.20" stroke="#d2d2d2" stroke-width="0.45"/>
<line x1="151.10" y1="295.00" x2="151.10" y2="306.20" stroke="#d2d2d2" stroke-width="0.45"/>
<line x1="152.60" y1="295.00" x2="152.60" y2="306.20" stroke="#d2d2d2" stroke-width="0.45"/>
<line x1="154.10" y1="295.00" x2="154.10" y2="306.20" stroke="#d2d2d2" stroke-width="0.45"/>
<line x1="155.60" y1="295.00" x2="155.60" y2="306.20" stroke="#d2d2d2" stroke-width="0.45"/>
<line x1="157.10" y1="295.00" x2="157.10" y2="306.20" stroke="#d2d2d2" stroke-width="0.45"/>
<line x1="158.60" y1="295.00" x2="158.60" y2="306.20" stroke="#d2d2d2" stroke-width="0.45"/>
<line x1="160.10" y1="295.00" x2="160.10" y2="306.20" stroke="#d2d2d2" stroke-width="0.45"/>
<line x1="161.60" y1="295.00" x2="161.60" y2="306.20" stroke="#d2d2d2" stroke-width="0.45"/>
<line x1="163.10" y1="295.00" x2="163.10" y2="306.20" stroke="#d2d2d2" stroke-width="0.45"/>
<line x1="164.60" y1="295.00" x2="164.60" y2="306.20" stroke="#d2d2d2" stroke-width="0.45"/>
<line x1="166.10" y1="295.00" x2="166.10" y2="306.20" stroke="#d2d2d2" stroke-width="0.45"/>
<line x1="167.60" y1="295.00" x2="167.60" y2="306.20" stroke="#d2d2d2" stroke-width="0.45"/>
<line x1="169.10" y1="295.00" x2="169.10" y2="306.20" stroke="#d2d2d2" stroke-width="0.45"/>
<line x1="170.60" y1="295.00" x2="170.60" y2="306.20" stroke="#d2d2d2" stroke-width="0.45"/>
<line x1="172.10" y1="295.00" x2="172.10" y2="306.20" stroke="#d2d2d2" stroke-width="0.45"/>
<line x1="173.60" y1="295.00" x2="173.60" y2="306.20" stroke="#d2d2d2" stroke-width="0.45"/>
<line x1="175.10" y1="295.00" x2="175.10" y2="306.20" stroke="#d2d2d2" stroke-width="0.45"/>
<line x1="176.60" y1="295.00" x2="176.60" y2="306.20" stroke="#d2d2d2" stroke-width="0.45"/>
<line x1="178.10" y1="295.00" x2="178.10" y2="306.20" stroke="#d2d2d2" stroke-width="0.45"/>
<line x1="179.60" y1="295.00" x2="179.60" y2="306.20" stroke="#d2d2d2" stroke-width="0.45"/>
<line x1="181.10" y1="295.00" x2="181.10" y2="306.20" stroke="#d2d2d2" stroke-width="0.45"/>
<line x1="182.60" y1="295.00" x2="182.60" y2="306.20" stroke="#d2d2d2" stroke-width="0.45"/>
<line x1="184.10" y1="295.00" x2="184.10" y2="306.20" stroke="#d2d2d2" stroke-width="0.45"/>
<line x1="185.60" y1="295.00" x2="185.60" y2="306.20" stroke="#d2d2d2" stroke-width="0.45"/>
<line x1="187.10" y1="295.00" x2="187.10" y2="306.20" stroke="#d2d2d2" stroke-width="0.45"/>
<line x1="188.60" y1="295.00" x2="188.60" y2="306.20" stroke="#d2d2d2" stroke-width="0.45"/>
<line x1="190.10" y1="295.00" x2="190.10" y2="306.20" stroke="#d2d2d2" stroke-width="0.45"/>
<line x1="191.60" y1="295.00" x2="191.60" y2="306.20" stroke="#d2d2d2" stroke-width="0.45"/>
<line x1="193.10" y1="295.00" x2="193.10" y2="306.20" stroke="#d2d2d2" stroke-width="0.45"/>
<line x1="194.60" y1="295.00" x2="194.60" y2="306.20" stroke="#d2d2d2" stroke-width="0.45"/>
<line x1="196.10" y1="295.00" x2="196.10" y2="306.20" stroke="#d2d2d2" stroke-width="0.45"/>
<line x1="197.60" y1="295.00" x2="197.60" y2="306.20" stroke="#d2d2d2" stroke-width="0.45"/>
<line x1="199.10" y1="295.00" x2="199.10" y2="306.20" stroke="#d2d2d2" stroke-width="0.45"/>
<line x1="200.60" y1="295.00" x2="200.60" y2="306.20" stroke="#d2d2d2" stroke-width="0.45"/>
<line x1="202.10" y1="295.00" x2="202.10" y2="306.20" stroke="#d2d2d2" stroke-width="0.45"/>
<line x1="203.60" y1="295.00" x2="203.60" y2="306.20" stroke="#d2d2d2" stroke-width="0.45"/>
<line x1="205.10" y1="295.00" x2="205.10" y2="306.20" stroke="#d2d2d2" stroke-width="0.45"/>
<line x1="206.60" y1="295.00" x2="206.60" y2="306.20" stroke="#d2d2d2" stroke-width="0.45"/>
<line x1="208.10" y1="295.00" x2="208.10" y2="306.20" stroke="#d2d2d2" stroke-width="0.45"/>
<line x1="209.60" y1="295.00" x2="209.60" y2="306.20" stroke="#d2d2d2" stroke-width="0.45"/>
<line x1="211.10" y1="295.00" x2="211.10" y2="306.20" stroke="#d2d2d2" stroke-width="0.45"/>
<line x1="212.60" y1="295.00" x2="212.60" y2="306.20" stroke="#d2d2d2" stroke-width="0.45"/>
<line x1="214.10" y1="295.00" x2="214.10" y2="306.20" stroke="#d2d2d2" stroke-width="0.45"/>
<line x1="215.60" y1="295.00" x2="215.60" y2="306.20" stroke="#d2d2d2" stroke-width="0.45"/>
<line x1="217.10" y1="295.00" x2="217.10" y2="306.20" stroke="#d2d2d2" stroke-width="0.45"/>
<line x1="218.60" y1="295.00" x2="218.60" y2="306.20" stroke="#d2d2d2" stroke-width="0.45"/>
<line x1="220.10" y1="295.00" x2="220.10" y2="306.20" stroke="#d2d2d2" stroke-width="0.45"/>
<line x1="131.1" y1="293.6" x2="220.5" y2="293.6" stroke="#9f9f9f" stroke-width="2.0" stroke-dasharray="1.1,0.5"/>
<line x1="131.1" y1="307.6" x2="220.5" y2="307.6" stroke="#9f9f9f" stroke-width="2.0" stroke-dasharray="1.1,0.5"/>
</g>
<circle cx="175.20" cy="224.40" r="1.60" fill="#333" stroke="none" stroke-width="0.8"/>
<line x1="175.20" y1="224.40" x2="175.20" y2="232.50" stroke="#4a4a4a" stroke-width="0.8"/>
<polyline points="175.20,232.50 179.50,233.65 170.90,235.95 179.50,238.25 170.90,240.55 179.50,242.85 170.90,245.15 179.50,247.45 170.90,249.75 175.20,250.90" fill="none" stroke="#4a4a4a" stroke-width="0.8" stroke-linejoin="round"/>
<polyline points="158.30,278.80 158.30,250.90 192.50,250.90 192.50,278.80 158.30,278.80" fill="none" stroke="#4a4a4a" stroke-width="0.8" stroke-linejoin="round"/>
<rect x="150.00" y="256.00" width="17.60" height="17.00" fill="#fcefcf"/>
<line x1="158.30" y1="250.90" x2="158.30" y2="261.30" stroke="#4a4a4a" stroke-width="0.8"/>
<line x1="158.30" y1="267.20" x2="158.30" y2="278.80" stroke="#4a4a4a" stroke-width="0.8"/>
<line x1="150.20" y1="261.30" x2="167.40" y2="261.30" stroke="#4a4a4a" stroke-width="0.9"/>
<line x1="150.20" y1="267.20" x2="167.40" y2="267.20" stroke="#4a4a4a" stroke-width="0.9"/>
<rect x="187.00" y="255.00" width="11.00" height="17.00" fill="#fcefcf"/>
<line x1="192.50" y1="250.90" x2="192.50" y2="255.90" stroke="#4a4a4a" stroke-width="0.8"/>
<line x1="192.50" y1="271.50" x2="192.50" y2="278.80" stroke="#4a4a4a" stroke-width="0.8"/>
<polyline points="192.50,255.90 196.80,257.20 188.20,259.80 196.80,262.40 188.20,265.00 196.80,267.60 188.20,270.20 192.50,271.50" fill="none" stroke="#4a4a4a" stroke-width="0.8" stroke-linejoin="round"/>
<path d="M143.3,283.2 Q145.5,281.5 149,285 L152.5,289.5 L152.5,313 Q150.5,315.5 148,314.5 Q145.5,312 146,303 Q146.5,293 145,289.5 Q143,286 143.3,283.2 Z" fill="#f6a9a9" stroke="#e98d8d" stroke-width="0.4"/>
<path d="M169.7,283.2 Q167.5,281.5 164,285 L160.8,289.5 L160.8,313 Q162.8,315.5 165,314.5 Q167.5,312 167,303 Q166.5,293 168,289.5 Q170,286 169.7,283.2 Z" fill="#f6a9a9" stroke="#e98d8d" stroke-width="0.4"/>
<path d="M152.2,290 Q156.5,292 160.8,290 L160.8,312.5 Q156.5,314 152.2,312.5 Z" fill="#e5807f" stroke="#e07070" stroke-width="0.3"/>
<circle cx="153.40" cy="279.90" r="0.95" fill="#ef8585" stroke="none" stroke-width="0.8"/>
<circle cx="156.50" cy="286.30" r="0.95" fill="#ef8585" stroke="none" stroke-width="0.8"/>
<circle cx="159.20" cy="284.20" r="0.95" fill="#ef8585" stroke="none" stroke-width="0.8"/>
<circle cx="156.70" cy="314.40" r="0.95" fill="#ef8585" stroke="none" stroke-width="0.8"/>
<circle cx="153.80" cy="319.30" r="0.95" fill="#ef8585" stroke="none" stroke-width="0.8"/>
<circle cx="160.40" cy="321.20" r="0.95" fill="#ef8585" stroke="none" stroke-width="0.8"/>
<path d="M150,285.5 Q148.5,282 146.3,280.8" fill="none" stroke="#222" stroke-width="0.5"/>
<polygon points="145.60,280.20 147.60,280.60 146.60,282.20" fill="#222" stroke="none" stroke-width="0.8"/>
<path d="M162.8,285.5 Q164.5,282 166.9,280.8" fill="none" stroke="#222" stroke-width="0.5"/>
<polygon points="167.60,280.20 165.60,280.60 166.60,282.20" fill="#222" stroke="none" stroke-width="0.8"/>
<line x1="156.50" y1="306.00" x2="156.50" y2="301.50" stroke="#222" stroke-width="0.5"/>
<polygon points="156.50,300.50 155.60,302.30 157.40,302.30" fill="#222" stroke="none" stroke-width="0.8"/>
<line x1="175.50" y1="278.80" x2="175.50" y2="282.90" stroke="#4a4a4a" stroke-width="0.8"/>
<polyline points="175.50,283.60 180.50,284.93 170.50,287.60 180.50,290.27 170.50,292.93 180.50,295.60 170.50,298.27 175.50,299.60" fill="none" stroke="#4a4a4a" stroke-width="0.8" stroke-linejoin="round"/>
<line x1="175.50" y1="299.60" x2="175.50" y2="304.60" stroke="#4a4a4a" stroke-width="0.8"/>
<path d="M184.5,289.5 Q185,287.3 188.5,287.5 L191,288.5 L191,312 L188.5,313 Q185,313.5 184.5,311 Q186,300 184.5,289.5 Z" fill="#a7c0f0" stroke="#8eaae6" stroke-width="0.4"/>
<path d="M204.8,289.5 Q204.3,287.3 200.8,287.5 L198.5,288.5 L198.5,312 L200.8,313 Q204.3,313.5 204.8,311 Q203.3,300 204.8,289.5 Z" fill="#a7c0f0" stroke="#8eaae6" stroke-width="0.4"/>
<path d="M190.5,288.5 Q194.8,290 199,288.5 L199,312 Q194.8,313.5 190.5,312 Z" fill="#85a3e3" stroke="#7d9be0" stroke-width="0.3"/>
<circle cx="194.90" cy="278.70" r="0.95" fill="#8fabea" stroke="none" stroke-width="0.8"/>
<circle cx="190.30" cy="284.20" r="0.95" fill="#8fabea" stroke="none" stroke-width="0.8"/>
<circle cx="197.50" cy="283.40" r="0.95" fill="#8fabea" stroke="none" stroke-width="0.8"/>
<circle cx="192.20" cy="316.30" r="0.95" fill="#8fabea" stroke="none" stroke-width="0.8"/>
<circle cx="196.90" cy="315.90" r="0.95" fill="#8fabea" stroke="none" stroke-width="0.8"/>
<circle cx="194.90" cy="318.70" r="0.95" fill="#8fabea" stroke="none" stroke-width="0.8"/>
<circle cx="194.80" cy="294.50" r="0.75" fill="#222" stroke="none" stroke-width="0.8"/>
<circle cx="175.60" cy="314.60" r="10.00" fill="#e2e2e2" stroke="#4a4a4a" stroke-width="0.8"/>
<path d="M168.6,314.6 C171,308 173.3,308 175.6,314.6 C177.9,321.2 180.2,321.2 182.6,314.6" fill="none" stroke="#4a4a4a" stroke-width="0.8"/>
<polyline points="175.60,324.60 175.60,330.30 146.20,330.30" fill="none" stroke="#4a4a4a" stroke-width="0.8" stroke-linejoin="round"/>
<line x1="146.20" y1="324.50" x2="146.20" y2="335.50" stroke="#4a4a4a" stroke-width="0.8"/>
<line x1="143.70" y1="326.00" x2="143.70" y2="334.00" stroke="#4a4a4a" stroke-width="0.8"/>
<line x1="141.20" y1="327.50" x2="141.20" y2="332.50" stroke="#4a4a4a" stroke-width="0.8"/>
<text x="187.00" y="238.62" font-size="8.4" text-anchor="start" fill="#2a2a2a" textLength="31.50" lengthAdjust="spacingAndGlyphs">Hydrogel</text>
<text x="204.30" y="263.02" font-size="8.4" text-anchor="start" fill="#2a2a2a" textLength="14.20" lengthAdjust="spacingAndGlyphs">Skin</text>
<text x="197.40" y="336.62" font-size="8.4" text-anchor="start" fill="#2a2a2a" textLength="21.20" lengthAdjust="spacingAndGlyphs">Tissue</text>
<line x1="34.30" y1="226.40" x2="34.30" y2="377.60" stroke="#666" stroke-width="0.8"/>
<line x1="34.30" y1="377.20" x2="204.70" y2="377.20" stroke="#666" stroke-width="0.8"/>
<line x1="31.30" y1="240.40" x2="34.30" y2="240.40" stroke="#666" stroke-width="0.7"/>
<text x="27.60" y="243.64" font-size="9" text-anchor="end" fill="#2e2e2e" textLength="11.51" lengthAdjust="spacingAndGlyphs">0.4</text>
<line x1="31.30" y1="297.40" x2="34.30" y2="297.40" stroke="#666" stroke-width="0.7"/>
<text x="27.60" y="300.64" font-size="9" text-anchor="end" fill="#2e2e2e" textLength="11.51" lengthAdjust="spacingAndGlyphs">0.2</text>
<line x1="31.30" y1="354.40" x2="34.30" y2="354.40" stroke="#666" stroke-width="0.7"/>
<text x="27.60" y="357.64" font-size="9" text-anchor="end" fill="#2e2e2e" textLength="4.60" lengthAdjust="spacingAndGlyphs">0</text>
<line x1="35.06" y1="377.20" x2="35.06" y2="378.70" stroke="#666" stroke-width="0.7"/>
<line x1="36.46" y1="377.20" x2="36.46" y2="378.70" stroke="#666" stroke-width="0.7"/>
<line x1="37.70" y1="377.20" x2="37.70" y2="379.70" stroke="#666" stroke-width="0.7"/>
<line x1="45.89" y1="377.20" x2="45.89" y2="378.70" stroke="#666" stroke-width="0.7"/>
<line x1="50.68" y1="377.20" x2="50.68" y2="378.70" stroke="#666" stroke-width="0.7"/>
<line x1="54.08" y1="377.20" x2="54.08" y2="378.70" stroke="#666" stroke-width="0.7"/>
<line x1="56.71" y1="377.20" x2="56.71" y2="378.70" stroke="#666" stroke-width="0.7"/>
<line x1="58.87" y1="377.20" x2="58.87" y2="378.70" stroke="#666" stroke-width="0.7"/>
<line x1="60.69" y1="377.20" x2="60.69" y2="378.70" stroke="#666" stroke-width="0.7"/>
<line x1="62.26" y1="377.20" x2="62.26" y2="378.70" stroke="#666" stroke-width="0.7"/>
<line x1="63.66" y1="377.20" x2="63.66" y2="378.70" stroke="#666" stroke-width="0.7"/>
<line x1="64.90" y1="377.20" x2="64.90" y2="379.70" stroke="#666" stroke-width="0.7"/>
<line x1="73.09" y1="377.20" x2="73.09" y2="378.70" stroke="#666" stroke-width="0.7"/>
<line x1="77.88" y1="377.20" x2="77.88" y2="378.70" stroke="#666" stroke-width="0.7"/>
<line x1="81.28" y1="377.20" x2="81.28" y2="378.70" stroke="#666" stroke-width="0.7"/>
<line x1="83.91" y1="377.20" x2="83.91" y2="378.70" stroke="#666" stroke-width="0.7"/>
<line x1="86.07" y1="377.20" x2="86.07" y2="378.70" stroke="#666" stroke-width="0.7"/>
<line x1="87.89" y1="377.20" x2="87.89" y2="378.70" stroke="#666" stroke-width="0.7"/>
<line x1="89.46" y1="377.20" x2="89.46" y2="378.70" stroke="#666" stroke-width="0.7"/>
<line x1="90.86" y1="377.20" x2="90.86" y2="378.70" stroke="#666" stroke-width="0.7"/>
<line x1="92.10" y1="377.20" x2="92.10" y2="379.70" stroke="#666" stroke-width="0.7"/>
<line x1="100.29" y1="377.20" x2="100.29" y2="378.70" stroke="#666" stroke-width="0.7"/>
<line x1="105.08" y1="377.20" x2="105.08" y2="378.70" stroke="#666" stroke-width="0.7"/>
<line x1="108.48" y1="377.20" x2="108.48" y2="378.70" stroke="#666" stroke-width="0.7"/>
<line x1="111.11" y1="377.20" x2="111.11" y2="378.70" stroke="#666" stroke-width="0.7"/>
<line x1="113.27" y1="377.20" x2="113.27" y2="378.70" stroke="#666" stroke-width="0.7"/>
<line x1="115.09" y1="377.20" x2="115.09" y2="378.70" stroke="#666" stroke-width="0.7"/>
<line x1="116.66" y1="377.20" x2="116.66" y2="378.70" stroke="#666" stroke-width="0.7"/>
<line x1="118.06" y1="377.20" x2="118.06" y2="378.70" stroke="#666" stroke-width="0.7"/>
<line x1="119.30" y1="377.20" x2="119.30" y2="379.70" stroke="#666" stroke-width="0.7"/>
<line x1="127.49" y1="377.20" x2="127.49" y2="378.70" stroke="#666" stroke-width="0.7"/>
<line x1="132.28" y1="377.20" x2="132.28" y2="378.70" stroke="#666" stroke-width="0.7"/>
<line x1="135.68" y1="377.20" x2="135.68" y2="378.70" stroke="#666" stroke-width="0.7"/>
<line x1="138.31" y1="377.20" x2="138.31" y2="378.70" stroke="#666" stroke-width="0.7"/>
<line x1="140.47" y1="377.20" x2="140.47" y2="378.70" stroke="#666" stroke-width="0.7"/>
<line x1="142.29" y1="377.20" x2="142.29" y2="378.70" stroke="#666" stroke-width="0.7"/>
<line x1="143.86" y1="377.20" x2="143.86" y2="378.70" stroke="#666" stroke-width="0.7"/>
<line x1="145.26" y1="377.20" x2="145.26" y2="378.70" stroke="#666" stroke-width="0.7"/>
<line x1="146.50" y1="377.20" x2="146.50" y2="379.70" stroke="#666" stroke-width="0.7"/>
<line x1="154.69" y1="377.20" x2="154.69" y2="378.70" stroke="#666" stroke-width="0.7"/>
<line x1="159.48" y1="377.20" x2="159.48" y2="378.70" stroke="#666" stroke-width="0.7"/>
<line x1="162.88" y1="377.20" x2="162.88" y2="378.70" stroke="#666" stroke-width="0.7"/>
<line x1="165.51" y1="377.20" x2="165.51" y2="378.70" stroke="#666" stroke-width="0.7"/>
<line x1="167.67" y1="377.20" x2="167.67" y2="378.70" stroke="#666" stroke-width="0.7"/>
<line x1="169.49" y1="377.20" x2="169.49" y2="378.70" stroke="#666" stroke-width="0.7"/>
<line x1="171.06" y1="377.20" x2="171.06" y2="378.70" stroke="#666" stroke-width="0.7"/>
<line x1="172.46" y1="377.20" x2="172.46" y2="378.70" stroke="#666" stroke-width="0.7"/>
<line x1="173.70" y1="377.20" x2="173.70" y2="379.70" stroke="#666" stroke-width="0.7"/>
<line x1="181.89" y1="377.20" x2="181.89" y2="378.70" stroke="#666" stroke-width="0.7"/>
<line x1="186.68" y1="377.20" x2="186.68" y2="378.70" stroke="#666" stroke-width="0.7"/>
<line x1="190.08" y1="377.20" x2="190.08" y2="378.70" stroke="#666" stroke-width="0.7"/>
<line x1="192.71" y1="377.20" x2="192.71" y2="378.70" stroke="#666" stroke-width="0.7"/>
<line x1="194.87" y1="377.20" x2="194.87" y2="378.70" stroke="#666" stroke-width="0.7"/>
<line x1="196.69" y1="377.20" x2="196.69" y2="378.70" stroke="#666" stroke-width="0.7"/>
<line x1="198.26" y1="377.20" x2="198.26" y2="378.70" stroke="#666" stroke-width="0.7"/>
<line x1="199.66" y1="377.20" x2="199.66" y2="378.70" stroke="#666" stroke-width="0.7"/>
<line x1="200.90" y1="377.20" x2="200.90" y2="379.70" stroke="#666" stroke-width="0.7"/>
<text x="59.51" y="390.80" font-size="8.6" fill="#2e2e2e" textLength="8.23" lengthAdjust="spacingAndGlyphs">10</text>
<text x="68.24" y="386.50" font-size="5.33" fill="#2e2e2e" textLength="2.55" lengthAdjust="spacingAndGlyphs">0</text>
<text x="113.91" y="390.80" font-size="8.6" fill="#2e2e2e" textLength="8.23" lengthAdjust="spacingAndGlyphs">10</text>
<text x="122.64" y="386.50" font-size="5.33" fill="#2e2e2e" textLength="2.55" lengthAdjust="spacingAndGlyphs">2</text>
<text x="168.31" y="390.80" font-size="8.6" fill="#2e2e2e" textLength="8.23" lengthAdjust="spacingAndGlyphs">10</text>
<text x="177.04" y="386.50" font-size="5.33" fill="#2e2e2e" textLength="2.55" lengthAdjust="spacingAndGlyphs">4</text>
<text x="119.90" y="404.41" font-size="9.2" text-anchor="middle" fill="#2e2e2e" textLength="61.00" lengthAdjust="spacingAndGlyphs">Frequency (Hz)</text>
<text x="7.0" y="295.3" font-size="9.4" text-anchor="middle" fill="#2e2e2e" transform="rotate(-90 7.0 292)" textLength="94" lengthAdjust="spacingAndGlyphs">Impedance (×10<tspan font-size="6" dy="-3.5">5</tspan><tspan dy="3.5"> Ohm)</tspan></text>
<polyline points="38.30,249.80 42.82,251.00 47.34,251.70 51.86,251.00 56.38,243.80 60.90,252.00 65.42,267.60 69.94,262.00 74.46,261.90 78.98,267.00 83.50,268.00 88.02,282.00 92.54,297.20 97.06,290.00 101.58,306.00 106.10,314.00 110.62,319.00 115.14,333.00 119.66,338.00 124.18,343.00 128.70,346.00 133.22,348.00 137.74,349.80 142.26,351.00 146.78,352.00 151.30,352.60 155.82,353.10 160.34,353.40 164.86,353.70 169.38,353.90 173.90,354.00 178.42,354.10 182.94,354.20 187.46,354.30 191.98,354.30 196.50,354.40 201.02,354.40" fill="none" stroke="#2f64a8" stroke-width="0.9" stroke-linejoin="round"/>
<polyline points="38.30,246.40 42.82,249.30 47.34,247.80 51.86,248.10 56.38,252.10 60.90,255.50 65.42,257.20 69.94,261.90 74.46,266.20 78.98,271.90 83.50,276.20 88.02,280.00 92.54,285.50 97.06,289.50 101.58,305.00 106.10,313.10 110.62,317.90 115.14,332.60 119.66,337.80 124.18,342.10 128.70,345.50 133.22,347.60 137.74,349.50 142.26,350.80 146.78,351.80 151.30,352.40 155.82,353.00 160.34,353.30 164.86,353.60 169.38,353.80 173.90,354.00 178.42,354.10 182.94,354.20 187.46,354.30 191.98,354.30 196.50,354.40 201.02,354.40" fill="none" stroke="#333" stroke-width="0.7" stroke-linejoin="round"/>
<polyline points="38.30,310.00 42.82,309.50 47.34,309.80 51.86,310.50 56.38,310.50 60.90,309.00 65.42,311.50 69.94,311.80 74.46,309.50 78.98,313.00 83.50,315.50 88.02,320.00 92.54,321.00 97.06,322.50 101.58,327.00 106.10,330.50 110.62,332.00 115.14,338.00 119.66,342.00 124.18,345.00 128.70,347.50 133.22,349.00 137.74,350.50 142.26,351.40 146.78,351.90 151.30,352.70 155.82,353.20 160.34,353.80 164.86,354.00 169.38,354.10 173.90,354.20 178.42,354.30 182.94,354.30 187.46,354.40 191.98,354.40 196.50,354.40 201.02,354.40" fill="none" stroke="#5aa2e8" stroke-width="0.8" stroke-linejoin="round"/>
<polyline points="38.30,308.40 42.82,309.30 47.34,309.30 51.86,309.70 56.38,311.00 60.90,312.40 65.42,312.40 69.94,312.40 74.46,313.10 78.98,314.10 83.50,318.80 88.02,320.50 92.54,321.40 97.06,322.80 101.58,326.60 106.10,330.00 110.62,331.70 115.14,338.60 119.66,342.10 124.18,345.20 128.70,347.60 133.22,349.20 137.74,350.50 142.26,351.50 146.78,351.90 151.30,352.80 155.82,353.30 160.34,353.90 164.86,354.00 169.38,354.10 173.90,354.20 178.42,354.30 182.94,354.30 187.46,354.40 191.98,354.40 196.50,354.40 201.02,354.40" fill="none" stroke="#d9635a" stroke-width="0.8" stroke-linejoin="round"/>
<circle cx="38.30" cy="249.80" r="2.30" fill="#fff" stroke="#2f64a8" stroke-width="0.75"/>
<circle cx="42.82" cy="251.00" r="2.30" fill="#fff" stroke="#2f64a8" stroke-width="0.75"/>
<circle cx="47.34" cy="251.70" r="2.30" fill="#fff" stroke="#2f64a8" stroke-width="0.75"/>
<circle cx="51.86" cy="251.00" r="2.30" fill="#fff" stroke="#2f64a8" stroke-width="0.75"/>
<circle cx="56.38" cy="243.80" r="2.30" fill="#fff" stroke="#2f64a8" stroke-width="0.75"/>
<circle cx="60.90" cy="252.00" r="2.30" fill="#fff" stroke="#2f64a8" stroke-width="0.75"/>
<circle cx="65.42" cy="267.60" r="2.30" fill="#fff" stroke="#2f64a8" stroke-width="0.75"/>
<circle cx="69.94" cy="262.00" r="2.30" fill="#fff" stroke="#2f64a8" stroke-width="0.75"/>
<circle cx="74.46" cy="261.90" r="2.30" fill="#fff" stroke="#2f64a8" stroke-width="0.75"/>
<circle cx="78.98" cy="267.00" r="2.30" fill="#fff" stroke="#2f64a8" stroke-width="0.75"/>
<circle cx="83.50" cy="268.00" r="2.30" fill="#fff" stroke="#2f64a8" stroke-width="0.75"/>
<circle cx="88.02" cy="282.00" r="2.30" fill="#fff" stroke="#2f64a8" stroke-width="0.75"/>
<circle cx="92.54" cy="297.20" r="2.30" fill="#fff" stroke="#2f64a8" stroke-width="0.75"/>
<circle cx="97.06" cy="290.00" r="2.30" fill="#fff" stroke="#2f64a8" stroke-width="0.75"/>
<circle cx="101.58" cy="306.00" r="2.30" fill="#fff" stroke="#2f64a8" stroke-width="0.75"/>
<circle cx="106.10" cy="314.00" r="2.30" fill="#fff" stroke="#2f64a8" stroke-width="0.75"/>
<circle cx="110.62" cy="319.00" r="2.30" fill="#fff" stroke="#2f64a8" stroke-width="0.75"/>
<circle cx="115.14" cy="333.00" r="2.30" fill="#fff" stroke="#2f64a8" stroke-width="0.75"/>
<circle cx="119.66" cy="338.00" r="2.30" fill="#fff" stroke="#2f64a8" stroke-width="0.75"/>
<circle cx="124.18" cy="343.00" r="2.30" fill="#fff" stroke="#2f64a8" stroke-width="0.75"/>
<circle cx="128.70" cy="346.00" r="2.30" fill="#fff" stroke="#2f64a8" stroke-width="0.75"/>
<circle cx="133.22" cy="348.00" r="2.30" fill="#fff" stroke="#2f64a8" stroke-width="0.75"/>
<circle cx="137.74" cy="349.80" r="2.30" fill="#fff" stroke="#2f64a8" stroke-width="0.75"/>
<circle cx="142.26" cy="351.00" r="2.30" fill="#fff" stroke="#2f64a8" stroke-width="0.75"/>
<circle cx="146.78" cy="352.00" r="2.30" fill="#fff" stroke="#2f64a8" stroke-width="0.75"/>
<circle cx="151.30" cy="352.60" r="2.30" fill="#fff" stroke="#2f64a8" stroke-width="0.75"/>
<circle cx="155.82" cy="353.10" r="2.30" fill="#fff" stroke="#2f64a8" stroke-width="0.75"/>
<circle cx="160.34" cy="353.40" r="2.30" fill="#fff" stroke="#2f64a8" stroke-width="0.75"/>
<circle cx="164.86" cy="353.70" r="2.30" fill="#fff" stroke="#2f64a8" stroke-width="0.75"/>
<circle cx="169.38" cy="353.90" r="2.30" fill="#fff" stroke="#2f64a8" stroke-width="0.75"/>
<circle cx="173.90" cy="354.00" r="2.30" fill="#fff" stroke="#2f64a8" stroke-width="0.75"/>
<circle cx="178.42" cy="354.10" r="2.30" fill="#fff" stroke="#2f64a8" stroke-width="0.75"/>
<circle cx="182.94" cy="354.20" r="2.30" fill="#fff" stroke="#2f64a8" stroke-width="0.75"/>
<circle cx="187.46" cy="354.30" r="2.30" fill="#fff" stroke="#2f64a8" stroke-width="0.75"/>
<circle cx="191.98" cy="354.30" r="2.30" fill="#fff" stroke="#2f64a8" stroke-width="0.75"/>
<circle cx="196.50" cy="354.40" r="2.30" fill="#fff" stroke="#2f64a8" stroke-width="0.75"/>
<circle cx="201.02" cy="354.40" r="2.30" fill="#fff" stroke="#2f64a8" stroke-width="0.75"/>
<circle cx="38.30" cy="246.40" r="2.30" fill="#fff" stroke="#444" stroke-width="0.75"/>
<circle cx="42.82" cy="249.30" r="2.30" fill="#fff" stroke="#444" stroke-width="0.75"/>
<circle cx="47.34" cy="247.80" r="2.30" fill="#fff" stroke="#444" stroke-width="0.75"/>
<circle cx="51.86" cy="248.10" r="2.30" fill="#fff" stroke="#444" stroke-width="0.75"/>
<circle cx="56.38" cy="252.10" r="2.30" fill="#fff" stroke="#444" stroke-width="0.75"/>
<circle cx="60.90" cy="255.50" r="2.30" fill="#fff" stroke="#444" stroke-width="0.75"/>
<circle cx="65.42" cy="257.20" r="2.30" fill="#fff" stroke="#444" stroke-width="0.75"/>
<circle cx="69.94" cy="261.90" r="2.30" fill="#fff" stroke="#444" stroke-width="0.75"/>
<circle cx="74.46" cy="266.20" r="2.30" fill="#fff" stroke="#444" stroke-width="0.75"/>
<circle cx="78.98" cy="271.90" r="2.30" fill="#fff" stroke="#444" stroke-width="0.75"/>
<circle cx="83.50" cy="276.20" r="2.30" fill="#fff" stroke="#444" stroke-width="0.75"/>
<circle cx="88.02" cy="280.00" r="2.30" fill="#fff" stroke="#444" stroke-width="0.75"/>
<circle cx="92.54" cy="285.50" r="2.30" fill="#fff" stroke="#444" stroke-width="0.75"/>
<circle cx="97.06" cy="289.50" r="2.30" fill="#fff" stroke="#444" stroke-width="0.75"/>
<circle cx="101.58" cy="305.00" r="2.30" fill="#fff" stroke="#444" stroke-width="0.75"/>
<circle cx="106.10" cy="313.10" r="2.30" fill="#fff" stroke="#444" stroke-width="0.75"/>
<circle cx="110.62" cy="317.90" r="2.30" fill="#fff" stroke="#444" stroke-width="0.75"/>
<circle cx="115.14" cy="332.60" r="2.30" fill="#fff" stroke="#444" stroke-width="0.75"/>
<circle cx="119.66" cy="337.80" r="2.30" fill="#fff" stroke="#444" stroke-width="0.75"/>
<circle cx="124.18" cy="342.10" r="2.30" fill="#fff" stroke="#444" stroke-width="0.75"/>
<circle cx="128.70" cy="345.50" r="2.30" fill="#fff" stroke="#444" stroke-width="0.75"/>
<circle cx="133.22" cy="347.60" r="2.30" fill="#fff" stroke="#444" stroke-width="0.75"/>
<circle cx="137.74" cy="349.50" r="2.30" fill="#fff" stroke="#444" stroke-width="0.75"/>
<circle cx="142.26" cy="350.80" r="2.30" fill="#fff" stroke="#444" stroke-width="0.75"/>
<circle cx="146.78" cy="351.80" r="2.30" fill="#fff" stroke="#444" stroke-width="0.75"/>
<circle cx="151.30" cy="352.40" r="2.30" fill="#fff" stroke="#444" stroke-width="0.75"/>
<circle cx="155.82" cy="353.00" r="2.30" fill="#fff" stroke="#444" stroke-width="0.75"/>
<circle cx="160.34" cy="353.30" r="2.30" fill="#fff" stroke="#444" stroke-width="0.75"/>
<circle cx="164.86" cy="353.60" r="2.30" fill="#fff" stroke="#444" stroke-width="0.75"/>
<circle cx="169.38" cy="353.80" r="2.30" fill="#fff" stroke="#444" stroke-width="0.75"/>
<circle cx="173.90" cy="354.00" r="2.30" fill="#fff" stroke="#444" stroke-width="0.75"/>
<circle cx="178.42" cy="354.10" r="2.30" fill="#fff" stroke="#444" stroke-width="0.75"/>
<circle cx="182.94" cy="354.20" r="2.30" fill="#fff" stroke="#444" stroke-width="0.75"/>
<circle cx="187.46" cy="354.30" r="2.30" fill="#fff" stroke="#444" stroke-width="0.75"/>
<circle cx="191.98" cy="354.30" r="2.30" fill="#fff" stroke="#444" stroke-width="0.75"/>
<circle cx="196.50" cy="354.40" r="2.30" fill="#fff" stroke="#444" stroke-width="0.75"/>
<circle cx="201.02" cy="354.40" r="2.30" fill="#fff" stroke="#444" stroke-width="0.75"/>
<circle cx="38.30" cy="310.00" r="2.30" fill="#fff" stroke="#5aa2e8" stroke-width="0.75"/>
<circle cx="42.82" cy="309.50" r="2.30" fill="#fff" stroke="#5aa2e8" stroke-width="0.75"/>
<circle cx="47.34" cy="309.80" r="2.30" fill="#fff" stroke="#5aa2e8" stroke-width="0.75"/>
<circle cx="51.86" cy="310.50" r="2.30" fill="#fff" stroke="#5aa2e8" stroke-width="0.75"/>
<circle cx="56.38" cy="310.50" r="2.30" fill="#fff" stroke="#5aa2e8" stroke-width="0.75"/>
<circle cx="60.90" cy="309.00" r="2.30" fill="#fff" stroke="#5aa2e8" stroke-width="0.75"/>
<circle cx="65.42" cy="311.50" r="2.30" fill="#fff" stroke="#5aa2e8" stroke-width="0.75"/>
<circle cx="69.94" cy="311.80" r="2.30" fill="#fff" stroke="#5aa2e8" stroke-width="0.75"/>
<circle cx="74.46" cy="309.50" r="2.30" fill="#fff" stroke="#5aa2e8" stroke-width="0.75"/>
<circle cx="78.98" cy="313.00" r="2.30" fill="#fff" stroke="#5aa2e8" stroke-width="0.75"/>
<circle cx="83.50" cy="315.50" r="2.30" fill="#fff" stroke="#5aa2e8" stroke-width="0.75"/>
<circle cx="88.02" cy="320.00" r="2.30" fill="#fff" stroke="#5aa2e8" stroke-width="0.75"/>
<circle cx="92.54" cy="321.00" r="2.30" fill="#fff" stroke="#5aa2e8" stroke-width="0.75"/>
<circle cx="97.06" cy="322.50" r="2.30" fill="#fff" stroke="#5aa2e8" stroke-width="0.75"/>
<circle cx="101.58" cy="327.00" r="2.30" fill="#fff" stroke="#5aa2e8" stroke-width="0.75"/>
<circle cx="106.10" cy="330.50" r="2.30" fill="#fff" stroke="#5aa2e8" stroke-width="0.75"/>
<circle cx="110.62" cy="332.00" r="2.30" fill="#fff" stroke="#5aa2e8" stroke-width="0.75"/>
<circle cx="115.14" cy="338.00" r="2.30" fill="#fff" stroke="#5aa2e8" stroke-width="0.75"/>
<circle cx="119.66" cy="342.00" r="2.30" fill="#fff" stroke="#5aa2e8" stroke-width="0.75"/>
<circle cx="124.18" cy="345.00" r="2.30" fill="#fff" stroke="#5aa2e8" stroke-width="0.75"/>
<circle cx="128.70" cy="347.50" r="2.30" fill="#fff" stroke="#5aa2e8" stroke-width="0.75"/>
<circle cx="133.22" cy="349.00" r="2.30" fill="#fff" stroke="#5aa2e8" stroke-width="0.75"/>
<circle cx="137.74" cy="350.50" r="2.30" fill="#fff" stroke="#5aa2e8" stroke-width="0.75"/>
<circle cx="142.26" cy="351.40" r="2.30" fill="#fff" stroke="#5aa2e8" stroke-width="0.75"/>
<circle cx="146.78" cy="351.90" r="2.30" fill="#fff" stroke="#5aa2e8" stroke-width="0.75"/>
<circle cx="151.30" cy="352.70" r="2.30" fill="#fff" stroke="#5aa2e8" stroke-width="0.75"/>
<circle cx="155.82" cy="353.20" r="2.30" fill="#fff" stroke="#5aa2e8" stroke-width="0.75"/>
<circle cx="160.34" cy="353.80" r="2.30" fill="#fff" stroke="#5aa2e8" stroke-width="0.75"/>
<circle cx="164.86" cy="354.00" r="2.30" fill="#fff" stroke="#5aa2e8" stroke-width="0.75"/>
<circle cx="169.38" cy="354.10" r="2.30" fill="#fff" stroke="#5aa2e8" stroke-width="0.75"/>
<circle cx="173.90" cy="354.20" r="2.30" fill="#fff" stroke="#5aa2e8" stroke-width="0.75"/>
<circle cx="178.42" cy="354.30" r="2.30" fill="#fff" stroke="#5aa2e8" stroke-width="0.75"/>
<circle cx="182.94" cy="354.30" r="2.30" fill="#fff" stroke="#5aa2e8" stroke-width="0.75"/>
<circle cx="187.46" cy="354.40" r="2.30" fill="#fff" stroke="#5aa2e8" stroke-width="0.75"/>
<circle cx="191.98" cy="354.40" r="2.30" fill="#fff" stroke="#5aa2e8" stroke-width="0.75"/>
<circle cx="196.50" cy="354.40" r="2.30" fill="#fff" stroke="#5aa2e8" stroke-width="0.75"/>
<circle cx="201.02" cy="354.40" r="2.30" fill="#fff" stroke="#5aa2e8" stroke-width="0.75"/>
<circle cx="38.30" cy="308.40" r="2.30" fill="#fff" stroke="#d9635a" stroke-width="0.75"/>
<circle cx="42.82" cy="309.30" r="2.30" fill="#fff" stroke="#d9635a" stroke-width="0.75"/>
<circle cx="47.34" cy="309.30" r="2.30" fill="#fff" stroke="#d9635a" stroke-width="0.75"/>
<circle cx="51.86" cy="309.70" r="2.30" fill="#fff" stroke="#d9635a" stroke-width="0.75"/>
<circle cx="56.38" cy="311.00" r="2.30" fill="#fff" stroke="#d9635a" stroke-width="0.75"/>
<circle cx="60.90" cy="312.40" r="2.30" fill="#fff" stroke="#d9635a" stroke-width="0.75"/>
<circle cx="65.42" cy="312.40" r="2.30" fill="#fff" stroke="#d9635a" stroke-width="0.75"/>
<circle cx="69.94" cy="312.40" r="2.30" fill="#fff" stroke="#d9635a" stroke-width="0.75"/>
<circle cx="74.46" cy="313.10" r="2.30" fill="#fff" stroke="#d9635a" stroke-width="0.75"/>
<circle cx="78.98" cy="314.10" r="2.30" fill="#fff" stroke="#d9635a" stroke-width="0.75"/>
<circle cx="83.50" cy="318.80" r="2.30" fill="#fff" stroke="#d9635a" stroke-width="0.75"/>
<circle cx="88.02" cy="320.50" r="2.30" fill="#fff" stroke="#d9635a" stroke-width="0.75"/>
<circle cx="92.54" cy="321.40" r="2.30" fill="#fff" stroke="#d9635a" stroke-width="0.75"/>
<circle cx="97.06" cy="322.80" r="2.30" fill="#fff" stroke="#d9635a" stroke-width="0.75"/>
<circle cx="101.58" cy="326.60" r="2.30" fill="#fff" stroke="#d9635a" stroke-width="0.75"/>
<circle cx="106.10" cy="330.00" r="2.30" fill="#fff" stroke="#d9635a" stroke-width="0.75"/>
<circle cx="110.62" cy="331.70" r="2.30" fill="#fff" stroke="#d9635a" stroke-width="0.75"/>
<circle cx="115.14" cy="338.60" r="2.30" fill="#fff" stroke="#d9635a" stroke-width="0.75"/>
<circle cx="119.66" cy="342.10" r="2.30" fill="#fff" stroke="#d9635a" stroke-width="0.75"/>
<circle cx="124.18" cy="345.20" r="2.30" fill="#fff" stroke="#d9635a" stroke-width="0.75"/>
<circle cx="128.70" cy="347.60" r="2.30" fill="#fff" stroke="#d9635a" stroke-width="0.75"/>
<circle cx="133.22" cy="349.20" r="2.30" fill="#fff" stroke="#d9635a" stroke-width="0.75"/>
<circle cx="137.74" cy="350.50" r="2.30" fill="#fff" stroke="#d9635a" stroke-width="0.75"/>
<circle cx="142.26" cy="351.50" r="2.30" fill="#fff" stroke="#d9635a" stroke-width="0.75"/>
<circle cx="146.78" cy="351.90" r="2.30" fill="#fff" stroke="#d9635a" stroke-width="0.75"/>
<circle cx="151.30" cy="352.80" r="2.30" fill="#fff" stroke="#d9635a" stroke-width="0.75"/>
<circle cx="155.82" cy="353.30" r="2.30" fill="#fff" stroke="#d9635a" stroke-width="0.75"/>
<circle cx="160.34" cy="353.90" r="2.30" fill="#fff" stroke="#d9635a" stroke-width="0.75"/>
<circle cx="164.86" cy="354.00" r="2.30" fill="#fff" stroke="#d9635a" stroke-width="0.75"/>
<circle cx="169.38" cy="354.10" r="2.30" fill="#fff" stroke="#d9635a" stroke-width="0.75"/>
<circle cx="173.90" cy="354.20" r="2.30" fill="#fff" stroke="#d9635a" stroke-width="0.75"/>
<circle cx="178.42" cy="354.30" r="2.30" fill="#fff" stroke="#d9635a" stroke-width="0.75"/>
<circle cx="182.94" cy="354.30" r="2.30" fill="#fff" stroke="#d9635a" stroke-width="0.75"/>
<circle cx="187.46" cy="354.40" r="2.30" fill="#fff" stroke="#d9635a" stroke-width="0.75"/>
<circle cx="191.98" cy="354.40" r="2.30" fill="#fff" stroke="#d9635a" stroke-width="0.75"/>
<circle cx="196.50" cy="354.40" r="2.30" fill="#fff" stroke="#d9635a" stroke-width="0.75"/>
<circle cx="201.02" cy="354.40" r="2.30" fill="#fff" stroke="#d9635a" stroke-width="0.75"/>
<line x1="37.20" y1="211.50" x2="49.10" y2="211.50" stroke="#444" stroke-width="0.8"/>
<circle cx="43.10" cy="211.50" r="2.60" fill="#fff" stroke="#444" stroke-width="0.8"/>
<line x1="37.20" y1="231.90" x2="49.10" y2="231.90" stroke="#2f64a8" stroke-width="0.8"/>
<circle cx="43.10" cy="231.90" r="2.60" fill="#fff" stroke="#2f64a8" stroke-width="0.8"/>
<text x="52.80" y="210.72" font-size="8.1" text-anchor="start" fill="#2a2a2a" textLength="39.90" lengthAdjust="spacingAndGlyphs">Ag/AgCl on</text>
<text x="52.80" y="219.52" font-size="8.1" text-anchor="start" fill="#2a2a2a" textLength="37.00" lengthAdjust="spacingAndGlyphs">static state</text>
<text x="52.80" y="230.32" font-size="8.1" text-anchor="start" fill="#2a2a2a" textLength="39.90" lengthAdjust="spacingAndGlyphs">Ag/AgCl on</text>
<text x="52.80" y="239.52" font-size="8.1" text-anchor="start" fill="#2a2a2a" textLength="42.40" lengthAdjust="spacingAndGlyphs">motion state</text>
<line x1="37.20" y1="360.30" x2="49.10" y2="360.30" stroke="#5aa2e8" stroke-width="0.8"/>
<circle cx="43.10" cy="360.30" r="2.60" fill="#fff" stroke="#5aa2e8" stroke-width="0.8"/>
<line x1="37.20" y1="371.40" x2="49.10" y2="371.40" stroke="#d9635a" stroke-width="0.8"/>
<circle cx="43.10" cy="371.40" r="2.60" fill="#fff" stroke="#d9635a" stroke-width="0.8"/>
<text x="53.00" y="363.22" font-size="8.1" text-anchor="start" fill="#2a2a2a" textLength="99.50" lengthAdjust="spacingAndGlyphs">Metahydrogel on static state</text>
<text x="53.00" y="374.32" font-size="8.1" text-anchor="start" fill="#2a2a2a" textLength="102.70" lengthAdjust="spacingAndGlyphs">Metahydrogel on motion state</text>
<text x="245.30" y="209.40" font-size="12.5" text-anchor="start" fill="#111" font-weight="bold">e</text>
<line x1="279.20" y1="226.10" x2="279.20" y2="294.60" stroke="#a8a8a8" stroke-width="0.8"/>
<line x1="279.20" y1="294.20" x2="435.00" y2="294.20" stroke="#5e5e5e" stroke-width="0.8"/>
<line x1="276.70" y1="226.10" x2="279.20" y2="226.10" stroke="#a8a8a8" stroke-width="0.7"/>
<text x="273.20" y="229.34" font-size="9" text-anchor="end" fill="#2a2a2a" textLength="11.51" lengthAdjust="spacingAndGlyphs">0.2</text>
<line x1="276.70" y1="260.40" x2="279.20" y2="260.40" stroke="#a8a8a8" stroke-width="0.7"/>
<text x="273.20" y="263.64" font-size="9" text-anchor="end" fill="#2a2a2a" textLength="4.60" lengthAdjust="spacingAndGlyphs">0</text>
<line x1="276.70" y1="294.70" x2="279.20" y2="294.70" stroke="#a8a8a8" stroke-width="0.7"/>
<text x="273.20" y="297.94" font-size="9" text-anchor="end" fill="#2a2a2a" textLength="16.35" lengthAdjust="spacingAndGlyphs">−0.2</text>
<line x1="279.20" y1="294.20" x2="279.20" y2="296.40" stroke="#5e5e5e" stroke-width="0.7"/>
<line x1="317.25" y1="294.20" x2="317.25" y2="296.40" stroke="#5e5e5e" stroke-width="0.7"/>
<line x1="355.30" y1="294.20" x2="355.30" y2="296.40" stroke="#5e5e5e" stroke-width="0.7"/>
<line x1="393.35" y1="294.20" x2="393.35" y2="296.40" stroke="#5e5e5e" stroke-width="0.7"/>
<line x1="431.40" y1="294.20" x2="431.40" y2="296.40" stroke="#5e5e5e" stroke-width="0.7"/>
<text x="248.70" y="263.81" font-size="9.2" text-anchor="middle" fill="#2a2a2a" textLength="56.00" lengthAdjust="spacingAndGlyphs" transform="rotate(-90 248.70 260.50)">Intensity (mV)</text>
<polyline points="279.40,268.69 280.34,267.52 281.50,271.61 283.26,271.02 284.42,276.28 286.18,270.44 287.93,276.86 289.68,271.61 291.43,275.11 292.60,270.44 294.35,273.36 296.10,272.19 297.27,274.53 298.44,278.03 300.19,269.27 301.94,271.61 303.69,268.69 305.45,273.36 307.20,270.44 308.95,268.69 310.70,275.11 313.04,272.77 314.79,276.86 316.54,267.52 318.29,281.53 319.46,268.69 321.21,278.03 322.96,273.36 324.72,276.86 327.05,271.61 329.39,274.53 331.72,270.44 332.89,281.53 334.64,268.10 335.81,281.53 337.56,284.45 339.31,274.53 341.07,268.69 342.82,282.12 344.57,265.18 345.74,278.03 348.07,266.35 349.24,271.02 350.64,257.59 352.16,271.02 353.91,268.10 355.66,275.69 357.72,286.21 359.45,265.52 361.17,278.45 362.90,288.79 364.62,271.55 366.34,276.72 368.07,268.10 369.79,275.00 371.52,266.38 373.24,273.28 374.62,285.34 375.83,256.03 376.69,230.17 377.55,228.45 378.41,235.34 379.28,252.59 380.48,276.72 381.86,266.38 383.59,280.17 385.31,273.28 387.03,283.62 388.76,271.55 390.48,280.17 392.21,266.38 393.93,275.00 395.66,269.83 397.38,276.72 399.10,262.93 400.83,275.00 402.55,266.38 405.14,281.90 406.86,268.10 408.59,254.31 410.31,288.79 412.03,252.59 413.76,271.55 415.48,261.21 417.21,276.72 418.93,264.66 420.66,278.45 422.38,261.21 424.10,281.90 425.83,262.93 427.55,276.72 430.14,252.59 431.86,259.48 433.59,266.38 434.97,287.07" fill="none" stroke="#2b62a3" stroke-width="0.95" stroke-linejoin="round"/>
<text x="284.40" y="234.50" font-size="8.6" text-anchor="start" fill="#222" textLength="86.10" lengthAdjust="spacingAndGlyphs">Commercial Ag/AgCl</text>
<text x="383.70" y="234.50" font-size="8.6" text-anchor="start" fill="#222" textLength="52.30" lengthAdjust="spacingAndGlyphs">SNR: 3.33 dB</text>
<g clip-path="url(#clipwe)"><g filter="url(#blurwe)" shape-rendering="crispEdges"><path fill="#000090" d="M272.6 305h10v2h-10zM284.6 305h18v2h-18zM304.6 305h8v2h-8zM316.6 305h2v2h-2zM330.6 305h18v2h-18zM352.6 305h6v2h-6zM360.6 305h24v2h-24zM386.6 305h4v2h-4zM392.6 305h8v2h-8zM404.6 305h20v2h-20zM428.6 305h12v2h-12zM272.6 307h10v2h-10zM284.6 307h18v2h-18zM304.6 307h8v2h-8zM316.6 307h2v2h-2zM330.6 307h18v2h-18zM352.6 307h6v2h-6zM360.6 307h24v2h-24zM386.6 307h4v2h-4zM392.6 307h8v2h-8zM404.6 307h20v2h-20zM428.6 307h12v2h-12zM272.6 309h10v2h-10zM284.6 309h18v2h-18zM304.6 309h8v2h-8zM316.6 309h2v2h-2zM330.6 309h18v2h-18zM352.6 309h6v2h-6zM360.6 309h24v2h-24zM386.6 309h4v2h-4zM392.6 309h8v2h-8zM404.6 309h20v2h-20zM428.6 309h12v2h-12zM362.6 311h2v2h-2zM376.6 327h2v2h-2zM376.6 329h2v2h-2zM420.6 331h4v2h-4zM418.6 333h6v2h-6zM312.6 369h22v2h-22z"/>
<path fill="#000098" d="M282.6 305h2v2h-2zM302.6 305h2v2h-2zM312.6 305h4v2h-4zM318.6 305h12v2h-12zM348.6 305h4v2h-4zM358.6 305h2v2h-2zM384.6 305h2v2h-2zM390.6 305h2v2h-2zM400.6 305h4v2h-4zM424.6 305h4v2h-4zM282.6 307h2v2h-2zM302.6 307h2v2h-2zM312.6 307h4v2h-4zM318.6 307h12v2h-12zM348.6 307h4v2h-4zM358.6 307h2v2h-2zM384.6 307h2v2h-2zM390.6 307h2v2h-2zM400.6 307h4v2h-4zM424.6 307h4v2h-4zM282.6 309h2v2h-2zM302.6 309h2v2h-2zM312.6 309h4v2h-4zM318.6 309h12v2h-12zM348.6 309h4v2h-4zM358.6 309h2v2h-2zM384.6 309h2v2h-2zM390.6 309h2v2h-2zM400.6 309h4v2h-4zM424.6 309h4v2h-4zM272.6 311h46v2h-46zM330.6 311h28v2h-28zM360.6 311h2v2h-2zM364.6 311h38v2h-38zM404.6 311h36v2h-36zM310.6 369h2v2h-2z"/>
<path fill="#0000a0" d="M318.6 311h12v2h-12zM358.6 311h2v2h-2zM402.6 311h2v2h-2zM360.6 335h2v2h-2zM330.6 355h2v2h-2zM308.6 369h2v2h-2z"/>
<path fill="#0000b8" d="M272.6 313h6v2h-6zM282.6 313h4v2h-4zM302.6 313h2v2h-2zM312.6 313h4v2h-4zM318.6 313h12v2h-12zM272.6 317h6v2h-6zM302.6 317h2v2h-2zM318.6 317h2v2h-2zM328.6 317h2v2h-2zM338.6 317h2v2h-2zM342.6 317h2v2h-2zM358.6 317h2v2h-2zM366.6 317h2v2h-2zM272.6 319h6v2h-6zM302.6 319h2v2h-2zM318.6 319h2v2h-2zM338.6 319h2v2h-2zM342.6 319h2v2h-2zM354.6 319h2v2h-2zM358.6 319h2v2h-2zM366.6 319h4v2h-4zM390.6 319h2v2h-2zM430.6 319h2v2h-2zM390.6 321h2v2h-2zM430.6 321h2v2h-2zM284.6 327h2v2h-2zM302.6 327h4v2h-4zM322.6 327h2v2h-2zM348.6 327h2v2h-2zM428.6 327h2v2h-2zM280.6 329h2v2h-2zM290.6 329h2v2h-2zM302.6 329h2v2h-2zM322.6 329h2v2h-2zM418.6 331h2v2h-2zM324.6 345h4v2h-4zM318.6 347h4v2h-4zM324.6 355h2v2h-2zM334.6 355h2v2h-2zM404.6 359h4v2h-4zM280.6 369h24v2h-24zM334.6 369h2v2h-2z"/>
<path fill="#0000b0" d="M278.6 313h4v2h-4zM286.6 313h16v2h-16zM304.6 313h8v2h-8zM316.6 313h2v2h-2zM330.6 313h110v2h-110zM322.6 347h8v2h-8zM326.6 355h2v2h-2zM304.6 369h4v2h-4z"/>
<path fill="#0000c0" d="M272.6 315h6v2h-6zM282.6 315h2v2h-2zM302.6 315h2v2h-2zM312.6 315h2v2h-2zM318.6 315h12v2h-12zM332.6 315h14v2h-14zM348.6 315h14v2h-14zM364.6 315h8v2h-8zM374.6 315h14v2h-14zM390.6 315h8v2h-8zM400.6 315h4v2h-4zM412.6 315h4v2h-4zM418.6 315h22v2h-22zM282.6 317h2v2h-2zM290.6 317h2v2h-2zM296.6 317h2v2h-2zM308.6 317h2v2h-2zM312.6 317h2v2h-2zM320.6 317h8v2h-8zM332.6 317h2v2h-2zM340.6 317h2v2h-2zM348.6 317h4v2h-4zM354.6 317h2v2h-2zM368.6 317h2v2h-2zM378.6 317h4v2h-4zM384.6 317h4v2h-4zM390.6 317h2v2h-2zM394.6 317h4v2h-4zM402.6 317h2v2h-2zM424.6 317h4v2h-4zM430.6 317h2v2h-2zM282.6 319h2v2h-2zM290.6 319h2v2h-2zM296.6 319h2v2h-2zM322.6 319h4v2h-4zM328.6 319h2v2h-2zM332.6 319h2v2h-2zM384.6 319h2v2h-2zM424.6 319h2v2h-2zM342.6 321h2v2h-2zM366.6 321h2v2h-2zM344.6 327h2v2h-2zM294.6 329h2v2h-2zM304.6 329h2v2h-2zM428.6 329h2v2h-2zM328.6 333h2v2h-2zM320.6 345h4v2h-4zM328.6 345h2v2h-2zM330.6 347h2v2h-2zM322.6 355h2v2h-2zM414.6 355h4v2h-4zM284.6 361h44v2h-44zM272.6 369h8v2h-8zM272.6 375h58v2h-58z"/>
<path fill="#0000c8" d="M278.6 315h4v2h-4zM284.6 315h2v2h-2zM288.6 315h4v2h-4zM294.6 315h4v2h-4zM300.6 315h2v2h-2zM304.6 315h6v2h-6zM314.6 315h4v2h-4zM330.6 315h2v2h-2zM346.6 315h2v2h-2zM362.6 315h2v2h-2zM372.6 315h2v2h-2zM388.6 315h2v2h-2zM398.6 315h2v2h-2zM404.6 315h8v2h-8zM416.6 315h2v2h-2zM278.6 317h2v2h-2zM284.6 317h2v2h-2zM288.6 317h2v2h-2zM294.6 317h2v2h-2zM300.6 317h2v2h-2zM304.6 317h4v2h-4zM314.6 317h2v2h-2zM334.6 317h4v2h-4zM344.6 317h2v2h-2zM356.6 317h2v2h-2zM360.6 317h2v2h-2zM364.6 317h2v2h-2zM370.6 317h2v2h-2zM374.6 317h4v2h-4zM382.6 317h2v2h-2zM392.6 317h2v2h-2zM400.6 317h2v2h-2zM412.6 317h4v2h-4zM418.6 317h4v2h-4zM428.6 317h2v2h-2zM432.6 317h8v2h-8zM308.6 319h2v2h-2zM312.6 319h2v2h-2zM320.6 319h2v2h-2zM326.6 319h2v2h-2zM340.6 319h2v2h-2zM348.6 319h2v2h-2zM378.6 319h2v2h-2zM394.6 319h2v2h-2zM402.6 319h2v2h-2zM302.6 321h2v2h-2zM318.6 321h2v2h-2zM322.6 321h2v2h-2zM416.6 327h4v2h-4zM300.6 329h2v2h-2zM360.6 329h2v2h-2zM420.6 329h2v2h-2zM304.6 335h2v2h-2zM312.6 347h6v2h-6zM318.6 355h4v2h-4zM332.6 357h2v2h-2zM408.6 359h2v2h-2zM282.6 361h2v2h-2zM328.6 361h2v2h-2zM330.6 375h6v2h-6z"/>
<path fill="#0000d0" d="M286.6 315h2v2h-2zM292.6 315h2v2h-2zM298.6 315h2v2h-2zM310.6 315h2v2h-2zM280.6 317h2v2h-2zM292.6 317h2v2h-2zM298.6 317h2v2h-2zM330.6 317h2v2h-2zM346.6 317h2v2h-2zM352.6 317h2v2h-2zM388.6 317h2v2h-2zM398.6 317h2v2h-2zM416.6 317h2v2h-2zM422.6 317h2v2h-2zM306.6 319h2v2h-2zM314.6 319h2v2h-2zM350.6 319h2v2h-2zM396.6 319h2v2h-2zM414.6 319h2v2h-2zM420.6 319h2v2h-2zM272.6 321h6v2h-6zM282.6 321h2v2h-2zM324.6 321h2v2h-2zM338.6 321h2v2h-2zM354.6 321h2v2h-2zM358.6 321h2v2h-2zM378.6 321h2v2h-2zM420.6 321h2v2h-2zM390.6 323h2v2h-2zM312.6 325h2v2h-2zM348.6 329h2v2h-2zM288.6 335h2v2h-2zM298.6 335h2v2h-2zM310.6 345h2v2h-2zM318.6 345h2v2h-2zM330.6 345h2v2h-2zM308.6 347h4v2h-4zM332.6 347h2v2h-2zM284.6 355h34v2h-34zM330.6 357h2v2h-2zM334.6 357h2v2h-2zM330.6 361h2v2h-2zM336.6 375h2v2h-2z"/>
<path fill="#0000d8" d="M286.6 317h2v2h-2zM310.6 317h2v2h-2zM316.6 317h2v2h-2zM362.6 317h2v2h-2zM404.6 317h2v2h-2zM278.6 319h2v2h-2zM284.6 319h2v2h-2zM288.6 319h2v2h-2zM294.6 319h2v2h-2zM356.6 319h2v2h-2zM374.6 319h4v2h-4zM380.6 319h2v2h-2zM386.6 319h2v2h-2zM418.6 319h2v2h-2zM426.6 319h2v2h-2zM290.6 321h2v2h-2zM296.6 321h2v2h-2zM312.6 321h2v2h-2zM328.6 321h2v2h-2zM368.6 321h2v2h-2zM384.6 321h2v2h-2zM424.6 321h2v2h-2zM312.6 327h2v2h-2zM432.6 329h8v2h-8zM292.6 335h2v2h-2zM288.6 341h2v2h-2zM306.6 341h2v2h-2zM310.6 343h2v2h-2zM306.6 345h4v2h-4zM312.6 345h2v2h-2zM302.6 347h6v2h-6zM320.6 349h8v2h-8zM282.6 355h2v2h-2zM336.6 355h2v2h-2zM418.6 355h2v2h-2zM402.6 359h2v2h-2zM280.6 361h2v2h-2zM338.6 375h4v2h-4zM272.6 377h62v2h-62zM272.6 379h62v2h-62zM272.6 381h62v2h-62zM272.6 383h62v2h-62z"/>
<path fill="#0000e0" d="M372.6 317h2v2h-2zM406.6 317h6v2h-6zM300.6 319h2v2h-2zM334.6 319h4v2h-4zM370.6 319h2v2h-2zM392.6 319h2v2h-2zM400.6 319h2v2h-2zM412.6 319h2v2h-2zM308.6 321h2v2h-2zM320.6 321h2v2h-2zM326.6 321h2v2h-2zM402.6 321h2v2h-2zM418.6 321h2v2h-2zM312.6 323h2v2h-2zM430.6 323h2v2h-2zM302.6 325h2v2h-2zM418.6 325h2v2h-2zM290.6 327h2v2h-2zM300.6 327h2v2h-2zM328.6 327h2v2h-2zM356.6 329h2v2h-2zM378.6 329h2v2h-2zM416.6 329h2v2h-2zM280.6 331h2v2h-2zM290.6 331h2v2h-2zM290.6 335h2v2h-2zM294.6 335h2v2h-2zM300.6 341h2v2h-2zM310.6 341h2v2h-2zM286.6 345h20v2h-20zM316.6 345h2v2h-2zM286.6 347h16v2h-16zM334.6 347h2v2h-2zM318.6 349h2v2h-2zM328.6 349h2v2h-2zM396.6 351h2v2h-2zM328.6 357h2v2h-2zM332.6 361h2v2h-2zM322.6 371h4v2h-4zM354.6 373h86v2h-86zM342.6 375h2v2h-2zM334.6 377h4v2h-4zM334.6 379h4v2h-4zM334.6 381h4v2h-4zM334.6 383h4v2h-4z"/>
<path fill="#0000f8" d="M280.6 319h2v2h-2zM292.6 319h2v2h-2zM298.6 319h2v2h-2zM330.6 319h2v2h-2zM352.6 319h2v2h-2zM382.6 319h2v2h-2zM422.6 319h2v2h-2zM428.6 319h2v2h-2zM432.6 319h8v2h-8zM288.6 321h2v2h-2zM294.6 321h2v2h-2zM306.6 321h2v2h-2zM376.6 321h2v2h-2zM394.6 321h2v2h-2zM282.6 323h2v2h-2zM324.6 323h2v2h-2zM282.6 327h2v2h-2zM320.6 327h2v2h-2zM296.6 329h2v2h-2zM312.6 329h2v2h-2zM320.6 329h2v2h-2zM338.6 329h2v2h-2zM360.6 333h2v2h-2zM332.6 335h2v2h-2zM322.6 337h2v2h-2zM298.6 341h2v2h-2zM326.6 341h2v2h-2zM288.6 343h2v2h-2zM324.6 343h2v2h-2zM308.6 349h4v2h-4zM398.6 351h2v2h-2zM324.6 353h2v2h-2zM324.6 359h8v2h-8zM316.6 371h2v2h-2zM330.6 371h2v2h-2zM344.6 373h2v2h-2zM350.6 375h4v2h-4zM344.6 377h4v2h-4zM344.6 379h4v2h-4zM344.6 381h4v2h-4zM344.6 383h4v2h-4z"/>
<path fill="#0008ff" d="M286.6 319h2v2h-2zM346.6 319h2v2h-2zM416.6 319h2v2h-2zM356.6 321h2v2h-2zM386.6 321h2v2h-2zM290.6 323h2v2h-2zM326.6 323h2v2h-2zM378.6 323h2v2h-2zM424.6 323h2v2h-2zM284.6 325h2v2h-2zM328.6 325h2v2h-2zM286.6 327h2v2h-2zM294.6 327h2v2h-2zM422.6 327h2v2h-2zM354.6 329h2v2h-2zM394.6 331h2v2h-2zM282.6 333h2v2h-2zM416.6 333h2v2h-2zM306.6 335h2v2h-2zM362.6 335h2v2h-2zM282.6 341h4v2h-4zM302.6 341h2v2h-2zM320.6 341h2v2h-2zM324.6 341h2v2h-2zM290.6 343h2v2h-2zM300.6 343h2v2h-2zM304.6 343h2v2h-2zM318.6 343h4v2h-4zM414.6 343h2v2h-2zM340.6 347h2v2h-2zM284.6 349h18v2h-18zM332.6 349h2v2h-2zM318.6 351h4v2h-4zM326.6 351h2v2h-2zM306.6 353h10v2h-10zM282.6 359h2v2h-2zM334.6 359h2v2h-2zM336.6 361h2v2h-2zM314.6 371h2v2h-2zM340.6 373h2v2h-2zM350.6 377h90v2h-90zM350.6 379h90v2h-90zM350.6 381h90v2h-90zM350.6 383h90v2h-90z"/>
<path fill="#0000e8" d="M304.6 319h2v2h-2zM364.6 319h2v2h-2zM314.6 321h2v2h-2zM332.6 321h2v2h-2zM340.6 321h2v2h-2zM348.6 321h2v2h-2zM414.6 321h2v2h-2zM302.6 323h2v2h-2zM318.6 323h2v2h-2zM322.6 323h2v2h-2zM418.6 323h4v2h-4zM304.6 325h2v2h-2zM322.6 325h2v2h-2zM390.6 325h2v2h-2zM318.6 327h2v2h-2zM328.6 329h2v2h-2zM418.6 329h2v2h-2zM328.6 335h2v2h-2zM338.6 335h2v2h-2zM286.6 341h2v2h-2zM290.6 341h6v2h-6zM308.6 341h2v2h-2zM284.6 345h2v2h-2zM314.6 345h2v2h-2zM284.6 347h2v2h-2zM316.6 349h2v2h-2zM336.6 357h2v2h-2zM336.6 369h2v2h-2zM320.6 371h2v2h-2zM326.6 371h2v2h-2zM350.6 373h4v2h-4zM344.6 375h2v2h-2zM338.6 377h4v2h-4zM338.6 379h4v2h-4zM338.6 381h4v2h-4zM338.6 383h4v2h-4z"/>
<path fill="#0000ff" d="M310.6 319h2v2h-2zM316.6 319h2v2h-2zM388.6 319h2v2h-2zM278.6 321h2v2h-2zM284.6 321h2v2h-2zM374.6 321h2v2h-2zM396.6 321h2v2h-2zM426.6 321h2v2h-2zM320.6 323h2v2h-2zM328.6 323h2v2h-2zM342.6 323h2v2h-2zM318.6 325h2v2h-2zM420.6 325h2v2h-2zM430.6 325h2v2h-2zM280.6 327h2v2h-2zM356.6 327h2v2h-2zM282.6 329h2v2h-2zM292.6 329h2v2h-2zM430.6 329h2v2h-2zM290.6 333h2v2h-2zM308.6 335h2v2h-2zM322.6 335h2v2h-2zM308.6 337h2v2h-2zM318.6 341h2v2h-2zM286.6 343h2v2h-2zM306.6 343h2v2h-2zM312.6 343h2v2h-2zM338.6 347h2v2h-2zM302.6 349h6v2h-6zM322.6 351h4v2h-4zM316.6 353h8v2h-8zM326.6 353h4v2h-4zM338.6 355h2v2h-2zM324.6 357h2v2h-2zM284.6 359h40v2h-40zM332.6 359h2v2h-2zM272.6 361h8v2h-8zM342.6 373h2v2h-2zM354.6 375h86v2h-86zM348.6 377h2v2h-2zM348.6 379h2v2h-2zM348.6 381h2v2h-2zM348.6 383h2v2h-2z"/>
<path fill="#0000f0" d="M344.6 319h2v2h-2zM360.6 319h2v2h-2zM350.6 321h2v2h-2zM366.6 323h2v2h-2zM420.6 327h2v2h-2zM430.6 327h2v2h-2zM284.6 329h2v2h-2zM318.6 329h2v2h-2zM294.6 331h2v2h-2zM328.6 331h2v2h-2zM292.6 333h4v2h-4zM284.6 335h2v2h-2zM300.6 335h2v2h-2zM382.6 337h2v2h-2zM304.6 341h2v2h-2zM308.6 343h2v2h-2zM326.6 343h2v2h-2zM332.6 345h2v2h-2zM336.6 347h2v2h-2zM312.6 349h4v2h-4zM330.6 349h2v2h-2zM394.6 351h2v2h-2zM412.6 355h2v2h-2zM326.6 357h2v2h-2zM410.6 359h2v2h-2zM334.6 361h2v2h-2zM318.6 371h2v2h-2zM328.6 371h2v2h-2zM346.6 373h4v2h-4zM346.6 375h4v2h-4zM342.6 377h2v2h-2zM342.6 379h2v2h-2zM342.6 381h2v2h-2zM342.6 383h2v2h-2z"/>
<path fill="#0020ff" d="M362.6 319h2v2h-2zM406.6 319h4v2h-4zM370.6 321h2v2h-2zM284.6 323h2v2h-2zM304.6 323h6v2h-6zM338.6 323h2v2h-2zM348.6 323h2v2h-2zM402.6 323h2v2h-2zM300.6 325h2v2h-2zM306.6 325h2v2h-2zM388.6 325h2v2h-2zM414.6 325h2v2h-2zM296.6 327h2v2h-2zM324.6 327h2v2h-2zM360.6 327h2v2h-2zM310.6 329h2v2h-2zM284.6 333h2v2h-2zM326.6 333h2v2h-2zM302.6 335h2v2h-2zM344.6 335h2v2h-2zM300.6 339h2v2h-2zM306.6 339h2v2h-2zM330.6 343h2v2h-2zM282.6 347h2v2h-2zM344.6 347h2v2h-2zM282.6 349h2v2h-2zM334.6 349h2v2h-2zM296.6 351h12v2h-12zM284.6 357h36v2h-36zM412.6 359h2v2h-2zM338.6 361h2v2h-2zM406.6 361h4v2h-4zM324.6 363h6v2h-6zM412.6 363h4v2h-4zM304.6 371h6v2h-6zM334.6 371h2v2h-2zM328.6 373h6v2h-6z"/>
<path fill="#0028ff" d="M372.6 319h2v2h-2zM344.6 321h2v2h-2zM288.6 323h2v2h-2zM340.6 323h2v2h-2zM350.6 323h2v2h-2zM368.6 323h2v2h-2zM384.6 323h2v2h-2zM314.6 325h2v2h-2zM344.6 325h2v2h-2zM428.6 325h2v2h-2zM338.6 327h2v2h-2zM414.6 327h2v2h-2zM432.6 327h8v2h-8zM282.6 331h2v2h-2zM416.6 331h2v2h-2zM288.6 333h2v2h-2zM304.6 333h2v2h-2zM310.6 335h2v2h-2zM324.6 335h2v2h-2zM292.6 339h4v2h-4zM322.6 341h2v2h-2zM396.6 349h2v2h-2zM284.6 351h12v2h-12zM392.6 351h2v2h-2zM332.6 353h2v2h-2zM340.6 355h2v2h-2zM282.6 357h2v2h-2zM280.6 359h2v2h-2zM410.6 361h2v2h-2zM280.6 363h2v2h-2zM314.6 367h14v2h-14zM272.6 371h32v2h-32zM272.6 373h56v2h-56z"/>
<path fill="#0010ff" d="M398.6 319h2v2h-2zM300.6 321h2v2h-2zM304.6 321h2v2h-2zM380.6 321h2v2h-2zM392.6 321h2v2h-2zM412.6 321h2v2h-2zM296.6 323h2v2h-2zM314.6 323h2v2h-2zM354.6 323h2v2h-2zM414.6 323h2v2h-2zM282.6 325h2v2h-2zM320.6 325h2v2h-2zM306.6 327h2v2h-2zM354.6 327h2v2h-2zM378.6 327h2v2h-2zM400.6 327h2v2h-2zM300.6 331h4v2h-4zM424.6 333h2v2h-2zM282.6 335h2v2h-2zM296.6 341h2v2h-2zM284.6 343h2v2h-2zM292.6 343h4v2h-4zM298.6 343h2v2h-2zM302.6 343h2v2h-2zM322.6 343h2v2h-2zM328.6 343h2v2h-2zM342.6 347h2v2h-2zM424.6 349h2v2h-2zM314.6 351h4v2h-4zM328.6 351h2v2h-2zM284.6 353h22v2h-22zM330.6 353h2v2h-2zM280.6 355h2v2h-2zM322.6 357h2v2h-2zM338.6 357h2v2h-2zM400.6 359h2v2h-2zM312.6 371h2v2h-2zM332.6 371h2v2h-2zM338.6 373h2v2h-2z"/>
<path fill="#0018ff" d="M404.6 319h2v2h-2zM334.6 321h4v2h-4zM364.6 321h2v2h-2zM400.6 321h2v2h-2zM272.6 323h6v2h-6zM358.6 323h2v2h-2zM376.6 323h2v2h-2zM290.6 325h2v2h-2zM324.6 325h2v2h-2zM348.6 325h2v2h-2zM376.6 325h2v2h-2zM416.6 325h2v2h-2zM310.6 327h2v2h-2zM358.6 329h2v2h-2zM292.6 331h2v2h-2zM432.6 331h8v2h-8zM296.6 335h2v2h-2zM326.6 335h2v2h-2zM334.6 335h2v2h-2zM288.6 337h2v2h-2zM304.6 337h2v2h-2zM328.6 341h4v2h-4zM296.6 343h2v2h-2zM334.6 345h2v2h-2zM356.6 349h2v2h-2zM308.6 351h6v2h-6zM282.6 353h2v2h-2zM420.6 355h2v2h-2zM320.6 357h2v2h-2zM336.6 359h2v2h-2zM282.6 363h42v2h-42zM338.6 369h2v2h-2zM310.6 371h2v2h-2zM334.6 373h4v2h-4z"/>
<path fill="#0038ff" d="M410.6 319h2v2h-2zM280.6 321h2v2h-2zM292.6 321h2v2h-2zM298.6 321h2v2h-2zM310.6 321h2v2h-2zM360.6 321h2v2h-2zM278.6 323h2v2h-2zM332.6 323h2v2h-2zM386.6 323h2v2h-2zM296.6 325h2v2h-2zM310.6 325h2v2h-2zM354.6 325h2v2h-2zM424.6 325h2v2h-2zM306.6 329h2v2h-2zM304.6 331h2v2h-2zM424.6 331h2v2h-2zM298.6 337h2v2h-2zM298.6 339h2v2h-2zM308.6 339h2v2h-2zM332.6 341h2v2h-2zM336.6 345h2v2h-2zM338.6 349h6v2h-6zM358.6 349h2v2h-2zM398.6 349h2v2h-2zM278.6 363h2v2h-2zM272.6 367h10v2h-10zM330.6 367h2v2h-2zM336.6 371h2v2h-2z"/>
<path fill="#0050ff" d="M286.6 321h2v2h-2zM310.6 323h2v2h-2zM344.6 323h2v2h-2zM394.6 323h2v2h-2zM412.6 323h2v2h-2zM416.6 323h2v2h-2zM286.6 325h2v2h-2zM308.6 325h2v2h-2zM366.6 325h2v2h-2zM400.6 325h2v2h-2zM422.6 325h2v2h-2zM426.6 325h2v2h-2zM314.6 327h4v2h-4zM326.6 329h2v2h-2zM350.6 329h2v2h-2zM400.6 329h2v2h-2zM278.6 333h2v2h-2zM330.6 333h2v2h-2zM320.6 335h2v2h-2zM330.6 335h2v2h-2zM284.6 337h2v2h-2zM294.6 337h2v2h-2zM302.6 339h2v2h-2zM346.6 349h2v2h-2zM352.6 349h2v2h-2zM416.6 353h2v2h-2zM402.6 361h2v2h-2zM416.6 361h2v2h-2zM332.6 367h2v2h-2z"/>
<path fill="#0040ff" d="M316.6 321h2v2h-2zM352.6 321h2v2h-2zM388.6 321h2v2h-2zM356.6 323h2v2h-2zM392.6 323h2v2h-2zM288.6 325h2v2h-2zM294.6 325h2v2h-2zM350.6 325h2v2h-2zM288.6 327h2v2h-2zM326.6 327h2v2h-2zM346.6 327h2v2h-2zM288.6 329h2v2h-2zM324.6 329h2v2h-2zM322.6 331h2v2h-2zM280.6 333h2v2h-2zM296.6 333h4v2h-4zM302.6 333h2v2h-2zM272.6 335h6v2h-6zM356.6 335h2v2h-2zM282.6 343h2v2h-2zM314.6 343h2v2h-2zM346.6 347h2v2h-2zM344.6 349h2v2h-2zM392.6 349h2v2h-2zM356.6 351h2v2h-2zM400.6 351h2v2h-2zM340.6 357h2v2h-2zM340.6 361h2v2h-2zM414.6 361h2v2h-2zM272.6 363h6v2h-6zM408.6 363h2v2h-2zM418.6 363h2v2h-2z"/>
<path fill="#0030ff" d="M330.6 321h2v2h-2zM422.6 321h2v2h-2zM428.6 321h2v2h-2zM432.6 321h8v2h-8zM294.6 323h2v2h-2zM300.6 323h2v2h-2zM426.6 323h2v2h-2zM326.6 325h2v2h-2zM342.6 325h2v2h-2zM292.6 327h2v2h-2zM350.6 327h2v2h-2zM358.6 327h2v2h-2zM390.6 327h2v2h-2zM286.6 329h2v2h-2zM344.6 329h2v2h-2zM296.6 331h2v2h-2zM376.6 331h2v2h-2zM300.6 333h2v2h-2zM286.6 335h2v2h-2zM290.6 337h2v2h-2zM306.6 337h2v2h-2zM310.6 337h2v2h-2zM338.6 337h2v2h-2zM304.6 339h2v2h-2zM312.6 341h2v2h-2zM316.6 343h2v2h-2zM282.6 345h2v2h-2zM404.6 347h2v2h-2zM336.6 349h2v2h-2zM354.6 349h2v2h-2zM394.6 349h2v2h-2zM426.6 349h2v2h-2zM282.6 351h2v2h-2zM330.6 351h2v2h-2zM410.6 355h2v2h-2zM338.6 359h2v2h-2zM404.6 361h2v2h-2zM412.6 361h2v2h-2zM330.6 363h2v2h-2zM410.6 363h2v2h-2zM416.6 363h2v2h-2zM282.6 367h32v2h-32zM328.6 367h2v2h-2z"/>
<path fill="#0058ff" d="M346.6 321h2v2h-2zM382.6 321h2v2h-2zM280.6 323h2v2h-2zM334.6 323h4v2h-4zM422.6 323h2v2h-2zM432.6 323h8v2h-8zM272.6 325h8v2h-8zM402.6 325h2v2h-2zM298.6 327h2v2h-2zM342.6 327h2v2h-2zM278.6 329h2v2h-2zM320.6 331h2v2h-2zM358.6 335h2v2h-2zM302.6 337h2v2h-2zM288.6 339h2v2h-2zM296.6 339h2v2h-2zM334.6 341h4v2h-4zM338.6 345h2v2h-2zM422.6 349h2v2h-2zM332.6 351h2v2h-2zM354.6 351h2v2h-2zM280.6 353h2v2h-2zM414.6 353h2v2h-2zM342.6 355h2v2h-2zM422.6 355h2v2h-2zM280.6 357h2v2h-2zM406.6 357h6v2h-6zM340.6 371h2v2h-2z"/>
<path fill="#0088ff" d="M362.6 321h2v2h-2zM368.6 325h2v2h-2zM272.6 327h6v2h-6zM402.6 327h2v2h-2zM286.6 331h2v2h-2zM324.6 331h2v2h-2zM428.6 331h2v2h-2zM308.6 333h4v2h-4zM324.6 333h2v2h-2zM358.6 333h2v2h-2zM324.6 339h2v2h-2zM340.6 341h2v2h-2zM344.6 345h2v2h-2zM402.6 351h2v2h-2zM396.6 353h4v2h-4zM344.6 355h2v2h-2zM402.6 357h2v2h-2zM344.6 359h2v2h-2zM420.6 359h2v2h-2zM426.6 361h2v2h-2zM282.6 365h38v2h-38zM412.6 365h4v2h-4zM336.6 367h2v2h-2zM346.6 371h2v2h-2z"/>
<path fill="#00b0ff" d="M372.6 321h2v2h-2zM366.6 329h2v2h-2zM432.6 333h8v2h-8zM280.6 335h2v2h-2zM318.6 335h2v2h-2zM364.6 335h2v2h-2zM378.6 335h2v2h-2zM384.6 337h2v2h-2zM318.6 339h2v2h-2zM354.6 347h2v2h-2zM420.6 349h2v2h-2zM408.6 353h2v2h-2zM272.6 357h6v2h-6zM346.6 359h2v2h-2zM354.6 371h18v2h-18zM382.6 371h58v2h-58z"/>
<path fill="#0068ff" d="M398.6 321h2v2h-2zM360.6 323h2v2h-2zM374.6 323h2v2h-2zM298.6 325h2v2h-2zM316.6 325h2v2h-2zM346.6 329h2v2h-2zM278.6 331h2v2h-2zM310.6 331h2v2h-2zM326.6 331h2v2h-2zM286.6 333h2v2h-2zM338.6 333h2v2h-2zM332.6 337h2v2h-2zM316.6 341h2v2h-2zM332.6 343h2v2h-2zM348.6 347h2v2h-2zM406.6 347h2v2h-2zM400.6 349h2v2h-2zM358.6 351h2v2h-2zM404.6 357h2v2h-2zM414.6 357h2v2h-2zM272.6 359h6v2h-6zM342.6 359h2v2h-2zM398.6 359h2v2h-2zM416.6 359h2v2h-2zM420.6 361h2v2h-2zM406.6 363h2v2h-2zM334.6 367h2v2h-2zM342.6 371h2v2h-2z"/>
<path fill="#0080ff" d="M404.6 321h2v2h-2zM346.6 323h2v2h-2zM336.6 325h2v2h-2zM360.6 325h2v2h-2zM386.6 325h2v2h-2zM336.6 329h2v2h-2zM370.6 329h2v2h-2zM414.6 329h2v2h-2zM312.6 331h2v2h-2zM334.6 333h2v2h-2zM356.6 333h2v2h-2zM376.6 333h2v2h-2zM418.6 335h2v2h-2zM282.6 337h2v2h-2zM282.6 339h2v2h-2zM322.6 339h2v2h-2zM280.6 351h2v2h-2zM334.6 351h2v2h-2zM352.6 351h2v2h-2zM340.6 353h2v2h-2zM272.6 355h8v2h-8zM418.6 359h2v2h-2zM344.6 361h2v2h-2zM400.6 361h2v2h-2zM424.6 361h2v2h-2zM336.6 363h2v2h-2zM422.6 363h2v2h-2z"/>
<path fill="#0098ff" d="M406.6 321h2v2h-2zM334.6 325h2v2h-2zM352.6 325h2v2h-2zM384.6 325h2v2h-2zM412.6 327h2v2h-2zM272.6 329h6v2h-6zM272.6 331h6v2h-6zM336.6 331h2v2h-2zM348.6 331h2v2h-2zM320.6 333h2v2h-2zM346.6 333h2v2h-2zM430.6 333h2v2h-2zM336.6 335h2v2h-2zM314.6 341h2v2h-2zM280.6 349h2v2h-2zM340.6 351h2v2h-2zM346.6 351h2v2h-2zM422.6 353h2v2h-2zM422.6 359h6v2h-6zM430.6 361h2v2h-2zM272.6 365h8v2h-8zM328.6 365h2v2h-2zM348.6 371h2v2h-2z"/>
<path fill="#00a8ff" d="M408.6 321h2v2h-2zM380.6 323h2v2h-2zM398.6 323h2v2h-2zM394.6 325h2v2h-2zM314.6 329h2v2h-2zM308.6 331h2v2h-2zM358.6 331h2v2h-2zM350.6 333h2v2h-2zM426.6 335h2v2h-2zM396.6 343h2v2h-2zM346.6 345h2v2h-2zM352.6 347h2v2h-2zM406.6 349h2v2h-2zM394.6 353h2v2h-2zM406.6 355h2v2h-2zM278.6 357h2v2h-2zM420.6 357h2v2h-2zM346.6 361h2v2h-2zM424.6 363h2v2h-2zM408.6 365h2v2h-2zM418.6 365h2v2h-2zM338.6 367h2v2h-2zM352.6 371h2v2h-2z"/>
<path fill="#00c0ff" d="M410.6 321h2v2h-2zM362.6 323h2v2h-2zM332.6 325h2v2h-2zM330.6 331h2v2h-2zM392.6 331h2v2h-2zM328.6 337h2v2h-2zM340.6 337h2v2h-2zM356.6 347h2v2h-2zM430.6 349h2v2h-2zM400.6 357h2v2h-2zM422.6 357h2v2h-2zM420.6 365h2v2h-2zM346.6 369h2v2h-2z"/>
<path fill="#0048ff" d="M416.6 321h2v2h-2zM388.6 323h2v2h-2zM400.6 323h2v2h-2zM428.6 323h2v2h-2zM280.6 325h2v2h-2zM338.6 325h2v2h-2zM356.6 325h4v2h-4zM378.6 325h2v2h-2zM298.6 329h2v2h-2zM338.6 331h2v2h-2zM272.6 333h6v2h-6zM350.6 335h2v2h-2zM430.6 335h2v2h-2zM292.6 337h2v2h-2zM300.6 337h2v2h-2zM320.6 337h2v2h-2zM324.6 337h2v2h-2zM290.6 339h2v2h-2zM280.6 341h2v2h-2zM334.6 353h2v2h-2zM340.6 359h2v2h-2zM414.6 359h2v2h-2zM332.6 363h2v2h-2zM340.6 369h2v2h-2zM338.6 371h2v2h-2z"/>
<path fill="#0070ff" d="M286.6 323h2v2h-2zM392.6 325h2v2h-2zM392.6 327h2v2h-2zM316.6 329h2v2h-2zM392.6 329h2v2h-2zM356.6 331h2v2h-2zM430.6 331h2v2h-2zM332.6 333h2v2h-2zM278.6 335h2v2h-2zM416.6 335h2v2h-2zM286.6 339h2v2h-2zM342.6 345h2v2h-2zM390.6 349h2v2h-2zM390.6 351h2v2h-2zM338.6 353h2v2h-2zM412.6 353h2v2h-2zM408.6 355h2v2h-2zM342.6 357h2v2h-2zM342.6 369h2v2h-2z"/>
<path fill="#0060ff" d="M292.6 323h2v2h-2zM298.6 323h2v2h-2zM316.6 323h2v2h-2zM330.6 323h2v2h-2zM364.6 323h2v2h-2zM396.6 323h2v2h-2zM292.6 325h2v2h-2zM340.6 325h2v2h-2zM412.6 325h2v2h-2zM432.6 325h8v2h-8zM278.6 327h2v2h-2zM388.6 327h2v2h-2zM424.6 327h4v2h-4zM424.6 329h2v2h-2zM284.6 331h2v2h-2zM288.6 331h2v2h-2zM298.6 331h2v2h-2zM318.6 331h2v2h-2zM306.6 333h2v2h-2zM362.6 333h2v2h-2zM382.6 335h2v2h-2zM420.6 335h2v2h-2zM286.6 337h2v2h-2zM296.6 337h2v2h-2zM310.6 339h2v2h-2zM340.6 345h2v2h-2zM348.6 349h4v2h-4zM336.6 353h2v2h-2zM418.6 353h2v2h-2zM412.6 357h2v2h-2zM278.6 359h2v2h-2zM342.6 361h2v2h-2zM418.6 361h2v2h-2zM334.6 363h2v2h-2zM420.6 363h2v2h-2z"/>
<path fill="#0078ff" d="M352.6 323h2v2h-2zM346.6 325h2v2h-2zM308.6 327h2v2h-2zM306.6 331h2v2h-2zM360.6 331h2v2h-2zM346.6 335h2v2h-2zM424.6 335h2v2h-2zM334.6 337h2v2h-2zM284.6 339h2v2h-2zM320.6 339h2v2h-2zM338.6 341h2v2h-2zM420.6 353h2v2h-2zM416.6 357h2v2h-2zM422.6 361h2v2h-2zM344.6 371h2v2h-2z"/>
<path fill="#0090ff" d="M370.6 323h2v2h-2zM336.6 327h2v2h-2zM340.6 327h2v2h-2zM366.6 327h2v2h-2zM308.6 329h2v2h-2zM394.6 329h2v2h-2zM426.6 329h2v2h-2zM354.6 331h2v2h-2zM322.6 333h2v2h-2zM344.6 333h2v2h-2zM376.6 335h2v2h-2zM350.6 347h2v2h-2zM402.6 349h4v2h-4zM428.6 349h2v2h-2zM342.6 351h4v2h-4zM342.6 353h2v2h-2zM410.6 353h2v2h-2zM424.6 355h2v2h-2zM418.6 357h2v2h-2zM428.6 361h2v2h-2zM404.6 363h2v2h-2zM280.6 365h2v2h-2zM320.6 365h8v2h-8zM410.6 365h2v2h-2zM416.6 365h2v2h-2z"/>
<path fill="#50ffb0" d="M372.6 323h2v2h-2zM398.6 329h2v2h-2zM314.6 331h2v2h-2zM366.6 331h2v2h-2zM400.6 331h2v2h-2zM346.6 337h2v2h-2zM394.6 343h2v2h-2zM412.6 347h2v2h-2zM396.6 355h2v2h-2zM394.6 359h2v2h-2zM428.6 365h2v2h-2zM348.6 367h2v2h-2zM430.6 367h2v2h-2z"/>
<path fill="#00f0ff" d="M382.6 323h2v2h-2zM370.6 325h2v2h-2zM374.6 329h2v2h-2zM402.6 329h2v2h-2zM354.6 333h2v2h-2zM378.6 333h2v2h-2zM330.6 339h2v2h-2zM280.6 343h2v2h-2zM402.6 355h2v2h-2zM350.6 361h2v2h-2zM428.6 363h2v2h-2zM336.6 365h2v2h-2z"/>
<path fill="#00d0ff" d="M404.6 323h2v2h-2zM404.6 327h2v2h-2zM352.6 329h2v2h-2zM346.6 331h2v2h-2zM350.6 331h2v2h-2zM318.6 337h2v2h-2zM330.6 337h2v2h-2zM336.6 337h2v2h-2zM312.6 339h2v2h-2zM328.6 339h2v2h-2zM278.6 341h2v2h-2zM402.6 347h2v2h-2zM408.6 349h2v2h-2zM414.6 349h6v2h-6zM406.6 351h2v2h-2zM412.6 351h10v2h-10zM428.6 351h12v2h-12zM278.6 353h2v2h-2zM348.6 353h2v2h-2zM354.6 353h4v2h-4zM404.6 353h2v2h-2zM428.6 355h2v2h-2zM346.6 357h2v2h-2zM424.6 357h2v2h-2zM348.6 359h2v2h-2zM348.6 361h2v2h-2zM426.6 363h2v2h-2zM334.6 365h2v2h-2zM406.6 365h2v2h-2z"/>
<path fill="#58ffa8" d="M406.6 323h2v2h-2zM386.6 327h2v2h-2zM410.6 347h2v2h-2zM396.6 357h2v2h-2zM354.6 359h2v2h-2zM398.6 363h2v2h-2zM400.6 365h2v2h-2zM400.6 367h2v2h-2zM432.6 367h8v2h-8z"/>
<path fill="#a8ff58" d="M408.6 323h2v2h-2zM382.6 329h2v2h-2zM342.6 333h2v2h-2zM428.6 337h2v2h-2zM342.6 339h2v2h-2zM358.6 367h2v2h-2z"/>
<path fill="#68ff98" d="M410.6 323h2v2h-2zM396.6 327h2v2h-2zM402.6 335h2v2h-2zM400.6 341h2v2h-2zM350.6 367h2v2h-2zM398.6 367h2v2h-2z"/>
<path fill="#00a0ff" d="M330.6 325h2v2h-2zM426.6 333h2v2h-2zM340.6 335h2v2h-2zM326.6 337h2v2h-2zM326.6 339h2v2h-2zM360.6 349h2v2h-2zM336.6 351h4v2h-4zM348.6 351h4v2h-4zM344.6 353h2v2h-2zM400.6 353h2v2h-2zM344.6 357h2v2h-2zM428.6 359h12v2h-12zM432.6 361h8v2h-8zM338.6 363h2v2h-2zM330.6 365h2v2h-2zM344.6 369h2v2h-2zM350.6 371h2v2h-2z"/>
<path fill="#00e8ff" d="M362.6 325h2v2h-2zM404.6 325h2v2h-2zM334.6 331h2v2h-2zM394.6 335h2v2h-2zM422.6 335h2v2h-2zM342.6 341h2v2h-2zM334.6 343h2v2h-2zM280.6 347h2v2h-2zM358.6 347h2v2h-2zM432.6 357h8v2h-8zM422.6 365h2v2h-2zM342.6 367h2v2h-2z"/>
<path fill="#00c8ff" d="M364.6 325h2v2h-2zM394.6 327h2v2h-2zM426.6 331h2v2h-2zM318.6 333h2v2h-2zM348.6 335h2v2h-2zM366.6 335h2v2h-2zM280.6 339h2v2h-2zM336.6 339h4v2h-4zM340.6 343h2v2h-2zM432.6 349h8v2h-8zM422.6 351h6v2h-6zM402.6 353h2v2h-2zM406.6 353h2v2h-2zM426.6 353h2v2h-2zM398.6 361h2v2h-2zM340.6 363h2v2h-2zM402.6 363h2v2h-2zM340.6 367h2v2h-2z"/>
<path fill="#e0ff20" d="M372.6 325h2v2h-2zM412.6 331h2v2h-2zM348.6 339h2v2h-2zM394.6 345h2v2h-2zM432.6 345h8v2h-8zM364.6 349h2v2h-2zM374.6 367h6v2h-6z"/>
<path fill="#00d8ff" d="M374.6 325h2v2h-2zM398.6 325h2v2h-2zM368.6 327h2v2h-2zM428.6 333h2v2h-2zM332.6 339h2v2h-2zM342.6 343h2v2h-2zM348.6 345h2v2h-2zM426.6 347h2v2h-2zM410.6 349h4v2h-4zM360.6 351h2v2h-2zM408.6 351h4v2h-4zM272.6 353h6v2h-6zM350.6 353h4v2h-4zM392.6 353h2v2h-2zM428.6 353h2v2h-2zM404.6 355h2v2h-2zM426.6 357h2v2h-2zM396.6 359h2v2h-2z"/>
<path fill="#78ff88" d="M380.6 325h2v2h-2zM364.6 331h2v2h-2zM316.6 333h2v2h-2zM352.6 335h2v2h-2zM344.6 341h2v2h-2zM388.6 347h2v2h-2zM362.6 351h2v2h-2zM348.6 363h2v2h-2zM396.6 367h2v2h-2z"/>
<path fill="#90ff70" d="M382.6 325h2v2h-2zM314.6 335h2v2h-2zM416.6 343h2v2h-2zM364.6 345h2v2h-2z"/>
<path fill="#00e0ff" d="M396.6 325h2v2h-2zM370.6 327h2v2h-2zM378.6 331h2v2h-2zM348.6 333h2v2h-2zM272.6 341h6v2h-6zM388.6 349h2v2h-2zM430.6 353h10v2h-10zM348.6 355h2v2h-2zM430.6 355h10v2h-10zM428.6 357h4v2h-4zM348.6 369h2v2h-2z"/>
<path fill="#ffe800" d="M406.6 325h2v2h-2zM398.6 339h2v2h-2zM352.6 343h2v2h-2zM418.6 345h2v2h-2zM390.6 355h2v2h-2zM392.6 357h2v2h-2zM352.6 365h2v2h-2z"/>
<path fill="#ff2000" d="M408.6 325h2v2h-2zM404.6 337h2v2h-2zM354.6 341h2v2h-2zM368.6 363h2v2h-2zM374.6 365h4v2h-4z"/>
<path fill="#fff000" d="M410.6 325h2v2h-2zM404.6 331h2v2h-2zM426.6 337h2v2h-2zM402.6 343h2v2h-2zM356.6 345h2v2h-2zM366.6 345h2v2h-2zM386.6 347h2v2h-2zM360.6 355h2v2h-2zM358.6 357h2v2h-2zM360.6 359h2v2h-2zM394.6 363h2v2h-2zM394.6 365h2v2h-2z"/>
<path fill="#10fff0" d="M330.6 327h2v2h-2zM362.6 327h2v2h-2zM362.6 329h2v2h-2zM352.6 331h2v2h-2zM280.6 337h2v2h-2zM344.6 337h2v2h-2zM278.6 339h2v2h-2zM394.6 347h2v2h-2zM430.6 363h2v2h-2zM338.6 365h2v2h-2zM344.6 367h2v2h-2z"/>
<path fill="#a8ff50" d="M332.6 327h2v2h-2zM314.6 337h2v2h-2zM346.6 365h2v2h-2z"/>
<path fill="#00f8ff" d="M334.6 327h2v2h-2zM398.6 327h2v2h-2zM340.6 329h2v2h-2zM390.6 329h2v2h-2zM412.6 329h2v2h-2zM372.6 335h2v2h-2zM346.6 343h4v2h-4zM422.6 347h2v2h-2zM350.6 359h2v2h-2zM342.6 363h2v2h-2zM404.6 365h2v2h-2z"/>
<path fill="#00b8ff" d="M352.6 327h2v2h-2zM336.6 333h2v2h-2zM428.6 335h2v2h-2zM334.6 339h2v2h-2zM424.6 347h2v2h-2zM404.6 351h2v2h-2zM346.6 353h2v2h-2zM424.6 353h2v2h-2zM346.6 355h2v2h-2zM426.6 355h2v2h-2zM332.6 365h2v2h-2zM372.6 371h10v2h-10z"/>
<path fill="#20ffe0" d="M364.6 327h2v2h-2zM330.6 329h2v2h-2zM334.6 329h2v2h-2zM364.6 333h2v2h-2zM394.6 333h2v2h-2zM414.6 333h2v2h-2zM316.6 335h2v2h-2zM390.6 335h2v2h-2zM430.6 337h2v2h-2zM338.6 343h2v2h-2zM408.6 347h2v2h-2zM428.6 347h2v2h-2zM352.6 361h2v2h-2zM344.6 363h2v2h-2zM432.6 363h8v2h-8zM410.6 367h2v2h-2zM416.6 367h4v2h-4zM404.6 369h36v2h-36z"/>
<path fill="#e8ff18" d="M372.6 327h2v2h-2zM396.6 335h2v2h-2zM406.6 345h2v2h-2zM354.6 363h2v2h-2z"/>
<path fill="#00ffff" d="M374.6 327h2v2h-2zM368.6 329h2v2h-2zM414.6 331h2v2h-2zM312.6 333h2v2h-2zM342.6 335h2v2h-2zM278.6 351h2v2h-2zM398.6 357h2v2h-2zM350.6 369h2v2h-2z"/>
<path fill="#b8ff48" d="M380.6 327h2v2h-2zM346.6 339h2v2h-2zM272.6 343h6v2h-6zM386.6 349h2v2h-2zM396.6 363h2v2h-2zM362.6 367h2v2h-2zM386.6 367h2v2h-2z"/>
<path fill="#b0ff50" d="M382.6 327h2v2h-2zM396.6 329h2v2h-2zM400.6 337h2v2h-2zM432.6 337h8v2h-8zM430.6 341h2v2h-2zM358.6 355h2v2h-2zM360.6 367h2v2h-2zM388.6 367h2v2h-2z"/>
<path fill="#60ffa0" d="M384.6 327h2v2h-2zM372.6 329h2v2h-2zM392.6 333h2v2h-2zM392.6 335h2v2h-2zM412.6 335h2v2h-2zM352.6 357h2v2h-2zM342.6 365h2v2h-2z"/>
<path fill="#ff6800" d="M406.6 327h2v2h-2zM384.6 329h2v2h-2zM370.6 337h4v2h-4zM422.6 337h2v2h-2zM384.6 339h2v2h-2zM418.6 341h2v2h-2zM406.6 343h2v2h-2zM422.6 345h2v2h-2zM388.6 355h2v2h-2zM386.6 363h2v2h-2zM384.6 365h2v2h-2z"/>
<path fill="#800000" d="M408.6 327h2v2h-2zM408.6 329h2v2h-2zM384.6 331h4v2h-4zM408.6 331h2v2h-2zM406.6 337h4v2h-4zM352.6 339h12v2h-12zM370.6 339h12v2h-12zM388.6 339h8v2h-8zM406.6 339h8v2h-8zM422.6 339h2v2h-2zM356.6 341h2v2h-2zM360.6 341h4v2h-4zM370.6 341h12v2h-12zM408.6 341h4v2h-4zM424.6 341h2v2h-2zM368.6 343h14v2h-14zM424.6 343h4v2h-4zM370.6 345h14v2h-14zM370.6 347h12v2h-12zM370.6 349h14v2h-14zM370.6 351h14v2h-14zM368.6 353h18v2h-18zM366.6 355h20v2h-20zM366.6 357h22v2h-22zM368.6 359h18v2h-18z"/>
<path fill="#ff5800" d="M410.6 327h2v2h-2zM408.6 333h2v2h-2zM376.6 337h2v2h-2zM350.6 339h2v2h-2zM368.6 339h2v2h-2zM412.6 341h2v2h-2z"/>
<path fill="#f8ff08" d="M332.6 329h2v2h-2zM416.6 337h2v2h-2zM350.6 365h2v2h-2z"/>
<path fill="#18ffe8" d="M342.6 329h2v2h-2zM366.6 337h2v2h-2zM272.6 339h6v2h-6zM346.6 341h2v2h-2zM392.6 347h2v2h-2zM414.6 367h2v2h-2zM352.6 369h2v2h-2z"/>
<path fill="#28ffd8" d="M364.6 329h2v2h-2zM352.6 333h2v2h-2zM278.6 337h2v2h-2zM398.6 337h2v2h-2zM390.6 347h2v2h-2zM352.6 355h2v2h-2zM398.6 355h2v2h-2zM352.6 359h2v2h-2zM402.6 365h2v2h-2zM408.6 367h2v2h-2zM420.6 367h2v2h-2zM354.6 369h2v2h-2zM396.6 369h8v2h-8z"/>
<path fill="#90ff68" d="M380.6 329h2v2h-2zM372.6 331h2v2h-2zM402.6 331h2v2h-2zM380.6 337h2v2h-2zM354.6 357h2v2h-2zM398.6 365h2v2h-2zM354.6 367h2v2h-2z"/>
<path fill="#ff1800" d="M386.6 329h2v2h-2zM374.6 337h2v2h-2zM364.6 339h2v2h-2zM406.6 341h2v2h-2z"/>
<path fill="#88ff78" d="M388.6 329h2v2h-2zM372.6 333h2v2h-2zM414.6 345h2v2h-2zM356.6 359h2v2h-2zM394.6 361h2v2h-2zM344.6 365h2v2h-2z"/>
<path fill="#30ffd0" d="M404.6 329h2v2h-2zM344.6 343h2v2h-2zM412.6 343h2v2h-2zM280.6 345h2v2h-2zM390.6 353h2v2h-2zM426.6 365h2v2h-2zM346.6 367h2v2h-2zM406.6 367h2v2h-2zM422.6 367h2v2h-2zM356.6 369h6v2h-6zM390.6 369h6v2h-6z"/>
<path fill="#e80000" d="M406.6 329h2v2h-2zM418.6 339h2v2h-2zM356.6 343h2v2h-2zM368.6 349h2v2h-2zM384.6 351h2v2h-2zM364.6 355h2v2h-2zM386.6 359h2v2h-2zM370.6 361h2v2h-2zM380.6 363h2v2h-2z"/>
<path fill="#d80000" d="M410.6 329h2v2h-2zM354.6 337h2v2h-2zM382.6 341h2v2h-2zM390.6 341h2v2h-2zM426.6 341h2v2h-2zM378.6 363h2v2h-2z"/>
<path fill="#0000a8" d="M422.6 329h2v2h-2zM328.6 355h2v2h-2zM332.6 355h2v2h-2z"/>
<path fill="#08fff0" d="M316.6 331h2v2h-2zM400.6 347h2v2h-2z"/>
<path fill="#48ffb8" d="M332.6 331h2v2h-2zM370.6 331h2v2h-2zM374.6 331h2v2h-2zM384.6 335h2v2h-2zM418.6 347h2v2h-2zM354.6 355h2v2h-2zM354.6 361h2v2h-2zM402.6 367h2v2h-2zM428.6 367h2v2h-2z"/>
<path fill="#a0ff60" d="M340.6 331h2v2h-2zM402.6 341h2v2h-2zM398.6 343h2v2h-2zM350.6 363h2v2h-2zM356.6 367h2v2h-2z"/>
<path fill="#fff800" d="M342.6 331h2v2h-2zM368.6 335h2v2h-2zM368.6 337h2v2h-2zM362.6 361h2v2h-2zM356.6 363h2v2h-2z"/>
<path fill="#00fff8" d="M344.6 331h2v2h-2z"/>
<path fill="#38ffc8" d="M362.6 331h2v2h-2zM380.6 335h2v2h-2zM388.6 335h2v2h-2zM398.6 335h2v2h-2zM350.6 345h2v2h-2zM360.6 347h2v2h-2zM420.6 347h2v2h-2zM362.6 349h2v2h-2zM340.6 365h2v2h-2zM424.6 367h2v2h-2zM362.6 369h6v2h-6zM386.6 369h4v2h-4z"/>
<path fill="#c0ff40" d="M368.6 331h2v2h-2zM396.6 331h2v2h-2zM314.6 333h2v2h-2zM370.6 335h2v2h-2zM414.6 341h2v2h-2zM350.6 343h2v2h-2zM432.6 343h8v2h-8zM396.6 345h2v2h-2zM388.6 353h2v2h-2zM392.6 355h2v2h-2zM392.6 359h2v2h-2zM364.6 367h2v2h-2z"/>
<path fill="#d8ff28" d="M380.6 331h2v2h-2zM402.6 333h2v2h-2zM416.6 345h2v2h-2zM278.6 347h2v2h-2zM396.6 365h2v2h-2zM370.6 367h2v2h-2zM380.6 367h2v2h-2z"/>
<path fill="#ffe000" d="M382.6 331h2v2h-2zM386.6 335h2v2h-2zM396.6 337h2v2h-2zM418.6 337h2v2h-2zM350.6 341h2v2h-2zM430.6 343h2v2h-2zM392.6 345h2v2h-2zM430.6 345h2v2h-2z"/>
<path fill="#ff2800" d="M388.6 331h2v2h-2zM426.6 339h2v2h-2zM366.6 343h2v2h-2zM384.6 343h2v2h-2zM366.6 351h2v2h-2zM362.6 357h2v2h-2zM368.6 361h2v2h-2zM372.6 365h2v2h-2zM378.6 365h2v2h-2z"/>
<path fill="#d8ff20" d="M390.6 331h2v2h-2zM372.6 367h2v2h-2z"/>
<path fill="#e8ff10" d="M398.6 331h2v2h-2z"/>
<path fill="#880000" d="M406.6 331h2v2h-2zM424.6 339h2v2h-2zM422.6 341h2v2h-2zM382.6 347h2v2h-2z"/>
<path fill="#900000" d="M410.6 331h2v2h-2zM386.6 333h2v2h-2zM386.6 339h2v2h-2zM368.6 351h2v2h-2zM376.6 361h2v2h-2z"/>
<path fill="#70ff90" d="M340.6 333h2v2h-2zM396.6 341h2v2h-2zM360.6 353h2v2h-2zM356.6 355h2v2h-2zM356.6 361h2v2h-2zM430.6 365h2v2h-2z"/>
<path fill="#80ff80" d="M366.6 333h2v2h-2zM348.6 337h2v2h-2zM394.6 355h2v2h-2zM432.6 365h8v2h-8zM352.6 367h2v2h-2z"/>
<path fill="#ff4000" d="M368.6 333h2v2h-2zM386.6 345h2v2h-2z"/>
<path fill="#ffa800" d="M370.6 333h2v2h-2zM412.6 333h2v2h-2zM390.6 363h2v2h-2z"/>
<path fill="#40ffc0" d="M374.6 333h2v2h-2zM354.6 335h2v2h-2zM414.6 335h2v2h-2zM316.6 339h2v2h-2zM414.6 347h4v2h-4zM430.6 347h2v2h-2zM272.6 349h8v2h-8zM404.6 367h2v2h-2zM426.6 367h2v2h-2zM368.6 369h6v2h-6zM378.6 369h6v2h-6z"/>
<path fill="#e0ff18" d="M380.6 333h2v2h-2z"/>
<path fill="#ffd000" d="M382.6 333h2v2h-2zM386.6 337h2v2h-2zM430.6 339h2v2h-2zM404.6 341h2v2h-2zM272.6 345h6v2h-6zM354.6 365h2v2h-2z"/>
<path fill="#d00000" d="M384.6 333h2v2h-2zM410.6 333h2v2h-2zM358.6 343h2v2h-2zM384.6 345h2v2h-2zM366.6 359h2v2h-2zM374.6 363h4v2h-4z"/>
<path fill="#ffb800" d="M388.6 333h2v2h-2zM420.6 337h2v2h-2zM400.6 339h2v2h-2zM384.6 341h2v2h-2zM418.6 343h2v2h-2zM390.6 345h2v2h-2zM360.6 363h2v2h-2z"/>
<path fill="#98ff68" d="M390.6 333h2v2h-2zM350.6 337h2v2h-2zM366.6 339h2v2h-2zM362.6 347h2v2h-2zM358.6 361h2v2h-2zM392.6 367h2v2h-2z"/>
<path fill="#ffd800" d="M396.6 333h4v2h-4zM424.6 337h2v2h-2zM364.6 351h2v2h-2zM390.6 359h2v2h-2zM358.6 363h2v2h-2z"/>
<path fill="#d0ff30" d="M400.6 333h2v2h-2zM354.6 345h2v2h-2zM400.6 345h4v2h-4zM412.6 345h2v2h-2zM272.6 347h6v2h-6zM360.6 361h2v2h-2zM392.6 361h2v2h-2zM348.6 365h2v2h-2zM368.6 367h2v2h-2zM382.6 367h2v2h-2z"/>
<path fill="#ff9800" d="M404.6 333h2v2h-2zM360.6 345h2v2h-2zM360.6 357h2v2h-2zM362.6 359h2v2h-2zM362.6 363h2v2h-2zM360.6 365h2v2h-2z"/>
<path fill="#b80000" d="M406.6 333h2v2h-2zM364.6 357h2v2h-2zM372.6 361h2v2h-2z"/>
<path fill="#08fff8" d="M312.6 335h2v2h-2zM400.6 335h2v2h-2zM432.6 335h8v2h-8zM272.6 337h6v2h-6zM312.6 337h2v2h-2zM348.6 341h2v2h-2zM396.6 347h4v2h-4zM272.6 351h6v2h-6zM388.6 351h2v2h-2zM358.6 353h2v2h-2zM350.6 355h2v2h-2zM400.6 355h2v2h-2zM348.6 357h2v2h-2zM400.6 363h2v2h-2zM424.6 365h2v2h-2z"/>
<path fill="#28ffd0" d="M374.6 335h2v2h-2zM396.6 361h2v2h-2z"/>
<path fill="#ffff00" d="M404.6 335h2v2h-2zM364.6 337h2v2h-2zM394.6 337h2v2h-2zM386.6 351h2v2h-2zM362.6 353h2v2h-2zM390.6 361h2v2h-2z"/>
<path fill="#a80000" d="M406.6 335h2v2h-2zM414.6 339h2v2h-2z"/>
<path fill="#c80000" d="M408.6 335h2v2h-2zM404.6 339h2v2h-2zM420.6 339h2v2h-2zM422.6 343h2v2h-2z"/>
<path fill="#ff8800" d="M410.6 335h2v2h-2zM360.6 337h4v2h-4zM428.6 339h2v2h-2zM416.6 341h2v2h-2zM354.6 343h2v2h-2zM388.6 345h2v2h-2zM428.6 345h2v2h-2zM366.6 347h2v2h-2zM362.6 365h2v2h-2z"/>
<path fill="#70ff88" d="M316.6 337h2v2h-2z"/>
<path fill="#48ffb0" d="M342.6 337h2v2h-2zM346.6 363h2v2h-2z"/>
<path fill="#ff0000" d="M352.6 337h2v2h-2zM396.6 339h2v2h-2zM386.6 343h4v2h-4zM370.6 363h2v2h-2z"/>
<path fill="#ff9000" d="M356.6 337h2v2h-2zM428.6 341h2v2h-2zM420.6 343h2v2h-2zM388.6 363h2v2h-2z"/>
<path fill="#ff7000" d="M358.6 337h2v2h-2zM366.6 361h2v2h-2zM364.6 363h2v2h-2zM364.6 365h2v2h-2z"/>
<path fill="#ffb000" d="M378.6 337h2v2h-2zM394.6 341h2v2h-2zM420.6 345h2v2h-2zM364.6 361h2v2h-2zM358.6 365h2v2h-2zM390.6 365h2v2h-2z"/>
<path fill="#ff7800" d="M388.6 337h2v2h-2zM414.6 337h2v2h-2zM420.6 341h2v2h-2zM362.6 355h2v2h-2z"/>
<path fill="#ff3000" d="M390.6 337h2v2h-2zM412.6 337h2v2h-2zM364.6 343h2v2h-2zM410.6 343h2v2h-2zM384.6 347h2v2h-2zM384.6 361h2v2h-2z"/>
<path fill="#ff4800" d="M392.6 337h2v2h-2zM366.6 341h2v2h-2zM426.6 345h2v2h-2zM384.6 349h2v2h-2zM366.6 363h2v2h-2zM368.6 365h2v2h-2zM382.6 365h2v2h-2z"/>
<path fill="#ffc000" d="M402.6 337h2v2h-2zM404.6 343h2v2h-2zM278.6 345h2v2h-2zM392.6 363h2v2h-2zM356.6 365h2v2h-2z"/>
<path fill="#980000" d="M410.6 337h2v2h-2zM358.6 341h2v2h-2zM364.6 341h2v2h-2zM362.6 343h2v2h-2z"/>
<path fill="#60ff98" d="M314.6 339h2v2h-2z"/>
<path fill="#38ffc0" d="M340.6 339h2v2h-2zM384.6 369h2v2h-2z"/>
<path fill="#c8ff38" d="M344.6 339h2v2h-2zM398.6 341h2v2h-2zM398.6 345h2v2h-2zM356.6 357h2v2h-2zM358.6 359h2v2h-2zM352.6 363h2v2h-2zM366.6 367h2v2h-2zM384.6 367h2v2h-2z"/>
<path fill="#f80000" d="M382.6 339h2v2h-2zM408.6 343h2v2h-2zM388.6 357h2v2h-2z"/>
<path fill="#ff6000" d="M402.6 339h2v2h-2zM364.6 353h2v2h-2zM386.6 353h2v2h-2zM388.6 359h2v2h-2zM366.6 365h2v2h-2z"/>
<path fill="#f00000" d="M416.6 339h2v2h-2zM386.6 341h2v2h-2zM368.6 347h2v2h-2zM382.6 361h2v2h-2z"/>
<path fill="#ffc800" d="M432.6 339h8v2h-8zM358.6 345h2v2h-2zM408.6 345h4v2h-4zM388.6 361h2v2h-2zM392.6 365h2v2h-2z"/>
<path fill="#ffa000" d="M352.6 341h2v2h-2zM362.6 345h2v2h-2zM388.6 365h2v2h-2z"/>
<path fill="#b00000" d="M368.6 341h2v2h-2zM360.6 343h2v2h-2zM368.6 345h2v2h-2zM386.6 355h2v2h-2z"/>
<path fill="#a00000" d="M388.6 341h2v2h-2zM374.6 361h2v2h-2zM378.6 361h2v2h-2z"/>
<path fill="#c00000" d="M392.6 341h2v2h-2zM382.6 343h2v2h-2zM366.6 353h2v2h-2zM380.6 361h2v2h-2z"/>
<path fill="#80ff78" d="M432.6 341h8v2h-8z"/>
<path fill="#b8ff40" d="M278.6 343h2v2h-2z"/>
<path fill="#30ffc8" d="M336.6 343h2v2h-2zM432.6 347h8v2h-8zM350.6 357h2v2h-2z"/>
<path fill="#ff3800" d="M390.6 343h2v2h-2zM424.6 345h2v2h-2zM364.6 359h2v2h-2zM384.6 363h2v2h-2zM370.6 365h2v2h-2zM380.6 365h2v2h-2z"/>
<path fill="#ff8000" d="M392.6 343h2v2h-2zM366.6 349h2v2h-2zM390.6 357h2v2h-2zM386.6 361h2v2h-2zM386.6 365h2v2h-2z"/>
<path fill="#f0ff10" d="M400.6 343h2v2h-2zM364.6 347h2v2h-2z"/>
<path fill="#ff0800" d="M428.6 343h2v2h-2z"/>
<path fill="#88ff70" d="M352.6 345h2v2h-2zM394.6 367h2v2h-2z"/>
<path fill="#b0ff48" d="M404.6 345h2v2h-2zM394.6 357h2v2h-2z"/>
<path fill="#e00000" d="M372.6 363h2v2h-2z"/>
<path fill="#ff1000" d="M382.6 363h2v2h-2z"/>
<path fill="#a0ff58" d="M390.6 367h2v2h-2z"/>
<path fill="#18ffe0" d="M412.6 367h2v2h-2z"/>
<path fill="#40ffb8" d="M374.6 369h4v2h-4z"/></g></g>
<text x="249.00" y="346.01" font-size="9.2" text-anchor="middle" fill="#2e2e2e" textLength="61.50" lengthAdjust="spacingAndGlyphs" transform="rotate(-90 249.00 342.70)">Frequency (Hz)</text>
<line x1="278.60" y1="311.00" x2="278.60" y2="377.50" stroke="#8c8c8c" stroke-width="0.8"/>
<line x1="278.60" y1="377.10" x2="433.30" y2="377.10" stroke="#8c8c8c" stroke-width="0.8"/>
<line x1="277.10" y1="375.76" x2="278.60" y2="375.76" stroke="#8c8c8c" stroke-width="0.7"/>
<line x1="277.10" y1="372.77" x2="278.60" y2="372.77" stroke="#8c8c8c" stroke-width="0.7"/>
<line x1="277.10" y1="370.33" x2="278.60" y2="370.33" stroke="#8c8c8c" stroke-width="0.7"/>
<line x1="277.10" y1="368.27" x2="278.60" y2="368.27" stroke="#8c8c8c" stroke-width="0.7"/>
<line x1="277.10" y1="366.48" x2="278.60" y2="366.48" stroke="#8c8c8c" stroke-width="0.7"/>
<line x1="277.10" y1="364.91" x2="278.60" y2="364.91" stroke="#8c8c8c" stroke-width="0.7"/>
<line x1="276.10" y1="363.50" x2="278.60" y2="363.50" stroke="#8c8c8c" stroke-width="0.7"/>
<line x1="277.10" y1="354.23" x2="278.60" y2="354.23" stroke="#8c8c8c" stroke-width="0.7"/>
<line x1="277.10" y1="348.80" x2="278.60" y2="348.80" stroke="#8c8c8c" stroke-width="0.7"/>
<line x1="277.10" y1="344.96" x2="278.60" y2="344.96" stroke="#8c8c8c" stroke-width="0.7"/>
<line x1="277.10" y1="341.97" x2="278.60" y2="341.97" stroke="#8c8c8c" stroke-width="0.7"/>
<line x1="277.10" y1="339.53" x2="278.60" y2="339.53" stroke="#8c8c8c" stroke-width="0.7"/>
<line x1="277.10" y1="337.47" x2="278.60" y2="337.47" stroke="#8c8c8c" stroke-width="0.7"/>
<line x1="277.10" y1="335.68" x2="278.60" y2="335.68" stroke="#8c8c8c" stroke-width="0.7"/>
<line x1="277.10" y1="334.11" x2="278.60" y2="334.11" stroke="#8c8c8c" stroke-width="0.7"/>
<line x1="276.10" y1="332.70" x2="278.60" y2="332.70" stroke="#8c8c8c" stroke-width="0.7"/>
<line x1="277.10" y1="323.43" x2="278.60" y2="323.43" stroke="#8c8c8c" stroke-width="0.7"/>
<line x1="277.10" y1="318.00" x2="278.60" y2="318.00" stroke="#8c8c8c" stroke-width="0.7"/>
<line x1="277.10" y1="314.16" x2="278.60" y2="314.16" stroke="#8c8c8c" stroke-width="0.7"/>
<text x="261.52" y="335.80" font-size="8.6" fill="#2e2e2e" textLength="8.23" lengthAdjust="spacingAndGlyphs">10</text>
<text x="270.25" y="331.50" font-size="5.33" fill="#2e2e2e" textLength="2.55" lengthAdjust="spacingAndGlyphs">2</text>
<text x="261.52" y="366.60" font-size="8.6" fill="#2e2e2e" textLength="8.23" lengthAdjust="spacingAndGlyphs">10</text>
<text x="270.25" y="362.30" font-size="5.33" fill="#2e2e2e" textLength="2.55" lengthAdjust="spacingAndGlyphs">1</text>
<line x1="279.20" y1="377.10" x2="279.20" y2="379.30" stroke="#8c8c8c" stroke-width="0.7"/>
<text x="279.20" y="390.84" font-size="9" text-anchor="middle" fill="#2a2a2a" textLength="4.60" lengthAdjust="spacingAndGlyphs">0</text>
<line x1="317.15" y1="377.10" x2="317.15" y2="379.30" stroke="#8c8c8c" stroke-width="0.7"/>
<text x="317.15" y="390.84" font-size="9" text-anchor="middle" fill="#2a2a2a" textLength="11.51" lengthAdjust="spacingAndGlyphs">0.2</text>
<line x1="355.10" y1="377.10" x2="355.10" y2="379.30" stroke="#8c8c8c" stroke-width="0.7"/>
<text x="355.10" y="390.84" font-size="9" text-anchor="middle" fill="#2a2a2a" textLength="11.51" lengthAdjust="spacingAndGlyphs">0.4</text>
<line x1="393.05" y1="377.10" x2="393.05" y2="379.30" stroke="#8c8c8c" stroke-width="0.7"/>
<text x="393.05" y="390.84" font-size="9" text-anchor="middle" fill="#2a2a2a" textLength="11.51" lengthAdjust="spacingAndGlyphs">0.6</text>
<line x1="431.00" y1="377.10" x2="431.00" y2="379.30" stroke="#8c8c8c" stroke-width="0.7"/>
<text x="431.00" y="390.84" font-size="9" text-anchor="middle" fill="#2a2a2a" textLength="11.51" lengthAdjust="spacingAndGlyphs">0.8</text>
<text x="355.95" y="403.41" font-size="9.2" text-anchor="middle" fill="#2a2a2a" textLength="31.70" lengthAdjust="spacingAndGlyphs">Time (s)</text>
<text x="457.70" y="209.40" font-size="12.5" text-anchor="start" fill="#111" font-weight="bold">f</text>
<line x1="490.30" y1="226.10" x2="490.30" y2="294.60" stroke="#a8a8a8" stroke-width="0.8"/>
<line x1="490.30" y1="294.20" x2="646.80" y2="294.20" stroke="#5e5e5e" stroke-width="0.8"/>
<line x1="487.80" y1="226.10" x2="490.30" y2="226.10" stroke="#a8a8a8" stroke-width="0.7"/>
<text x="484.30" y="229.34" font-size="9" text-anchor="end" fill="#2a2a2a" textLength="11.51" lengthAdjust="spacingAndGlyphs">0.2</text>
<line x1="487.80" y1="248.75" x2="490.30" y2="248.75" stroke="#a8a8a8" stroke-width="0.7"/>
<text x="484.30" y="251.99" font-size="9" text-anchor="end" fill="#2a2a2a" textLength="11.51" lengthAdjust="spacingAndGlyphs">0.1</text>
<line x1="487.80" y1="271.40" x2="490.30" y2="271.40" stroke="#a8a8a8" stroke-width="0.7"/>
<text x="484.30" y="274.64" font-size="9" text-anchor="end" fill="#2a2a2a" textLength="4.60" lengthAdjust="spacingAndGlyphs">0</text>
<line x1="487.80" y1="294.05" x2="490.30" y2="294.05" stroke="#a8a8a8" stroke-width="0.7"/>
<text x="484.30" y="297.29" font-size="9" text-anchor="end" fill="#2a2a2a" textLength="16.35" lengthAdjust="spacingAndGlyphs">−0.1</text>
<line x1="490.30" y1="294.20" x2="490.30" y2="296.40" stroke="#5e5e5e" stroke-width="0.7"/>
<line x1="528.35" y1="294.20" x2="528.35" y2="296.40" stroke="#5e5e5e" stroke-width="0.7"/>
<line x1="566.40" y1="294.20" x2="566.40" y2="296.40" stroke="#5e5e5e" stroke-width="0.7"/>
<line x1="604.45" y1="294.20" x2="604.45" y2="296.40" stroke="#5e5e5e" stroke-width="0.7"/>
<line x1="642.50" y1="294.20" x2="642.50" y2="296.40" stroke="#5e5e5e" stroke-width="0.7"/>
<text x="461.00" y="263.81" font-size="9.2" text-anchor="middle" fill="#2a2a2a" textLength="56.00" lengthAdjust="spacingAndGlyphs" transform="rotate(-90 461.00 260.50)">Intensity (mV)</text>
<polyline points="490.92,273.69 492.67,268.43 494.42,278.36 496.18,274.27 498.51,278.36 500.26,272.52 502.01,276.61 504.35,270.77 506.10,274.27 508.44,270.18 510.19,276.02 512.29,266.68 513.69,275.44 515.45,270.18 517.20,274.27 518.95,271.35 520.70,274.85 523.04,273.69 525.37,277.77 527.12,272.52 529.46,277.19 531.80,273.69 533.55,277.19 535.30,272.52 537.05,278.36 539.39,274.85 541.72,277.77 544.06,276.02 546.39,278.94 548.15,281.28 549.90,276.02 551.07,279.53 552.82,273.10 555.15,276.02 556.61,273.35 558.07,270.18 559.82,274.85 561.58,267.85 563.04,270.67 564.50,272.52 565.66,280.69 569.80,278.10 572.80,283.00 577.70,281.00 580.00,275.00 581.30,269.20 582.60,277.10 584.60,288.90 586.20,253.50 587.60,229.80 588.60,244.60 589.50,247.60 590.50,285.00 592.00,283.85 593.50,283.00 594.95,278.09 596.40,274.20 597.67,272.47 598.94,275.09 600.21,271.37 601.49,273.07 602.76,274.36 604.03,270.81 605.30,272.20 606.56,272.42 607.83,272.67 609.09,270.36 610.36,271.72 611.62,273.01 612.89,272.01 614.15,273.10 615.41,270.83 616.68,271.15 617.94,270.64 619.21,272.23 620.47,273.90 621.74,272.56 623.00,272.20 624.22,272.92 625.43,270.98 626.65,272.05 627.86,269.10 629.08,269.48 630.29,270.64 631.51,270.46 632.72,268.87 633.94,267.16 635.15,267.50 636.37,266.89 637.58,266.80 638.80,267.30 640.05,269.35 641.30,267.73 642.55,271.30 643.80,272.08 645.05,269.60 646.30,272.20" fill="none" stroke="#b03035" stroke-width="0.95" stroke-linejoin="round"/>
<text x="501.60" y="234.50" font-size="8.6" text-anchor="start" fill="#222" textLength="55.00" lengthAdjust="spacingAndGlyphs">Metahydrogel</text>
<text x="592.20" y="234.50" font-size="8.6" text-anchor="start" fill="#222" textLength="54.60" lengthAdjust="spacingAndGlyphs">SNR: 15.72 dB</text>
<g clip-path="url(#clipwf)"><g filter="url(#blurwf)" shape-rendering="crispEdges"><path fill="#000090" d="M483 305h14v2h-14zM499 305h10v2h-10zM513 305h12v2h-12zM527 305h6v2h-6zM537 305h12v2h-12zM551 305h32v2h-32zM589 305h34v2h-34zM627 305h26v2h-26zM483 307h14v2h-14zM499 307h10v2h-10zM513 307h12v2h-12zM527 307h6v2h-6zM537 307h12v2h-12zM551 307h32v2h-32zM589 307h34v2h-34zM627 307h26v2h-26zM483 309h14v2h-14zM499 309h10v2h-10zM513 309h12v2h-12zM527 309h6v2h-6zM537 309h12v2h-12zM551 309h32v2h-32zM589 309h34v2h-34zM627 309h26v2h-26zM483 311h8v2h-8zM493 311h2v2h-2zM499 311h10v2h-10zM513 311h10v2h-10zM527 311h6v2h-6zM537 311h12v2h-12zM551 311h4v2h-4zM559 311h24v2h-24zM591 311h2v2h-2zM597 311h26v2h-26zM627 311h26v2h-26zM505 335h2v2h-2zM545 335h2v2h-2zM615 335h2v2h-2zM621 335h2v2h-2zM627 335h2v2h-2zM633 335h2v2h-2z"/>
<path fill="#000098" d="M497 305h2v2h-2zM509 305h4v2h-4zM525 305h2v2h-2zM533 305h4v2h-4zM549 305h2v2h-2zM583 305h6v2h-6zM623 305h4v2h-4zM497 307h2v2h-2zM509 307h4v2h-4zM525 307h2v2h-2zM533 307h4v2h-4zM549 307h2v2h-2zM583 307h6v2h-6zM623 307h4v2h-4zM497 309h2v2h-2zM509 309h4v2h-4zM525 309h2v2h-2zM533 309h4v2h-4zM549 309h2v2h-2zM583 309h6v2h-6zM623 309h4v2h-4zM491 311h2v2h-2zM495 311h4v2h-4zM509 311h4v2h-4zM523 311h4v2h-4zM533 311h4v2h-4zM549 311h2v2h-2zM555 311h4v2h-4zM583 311h2v2h-2zM589 311h2v2h-2zM593 311h4v2h-4zM483 313h6v2h-6zM499 313h10v2h-10zM515 313h8v2h-8zM529 313h2v2h-2zM537 313h10v2h-10zM553 313h2v2h-2zM559 313h22v2h-22zM597 313h2v2h-2zM603 313h8v2h-8zM615 313h8v2h-8zM627 313h8v2h-8zM639 313h2v2h-2zM643 313h10v2h-10zM499 335h2v2h-2zM531 335h2v2h-2zM537 335h2v2h-2zM559 335h2v2h-2zM609 335h2v2h-2zM639 335h2v2h-2z"/>
<path fill="#0000a0" d="M585 311h4v2h-4zM623 311h4v2h-4zM489 313h2v2h-2zM493 313h4v2h-4zM513 313h2v2h-2zM527 313h2v2h-2zM531 313h2v2h-2zM547 313h2v2h-2zM551 313h2v2h-2zM555 313h4v2h-4zM581 313h2v2h-2zM589 313h8v2h-8zM599 313h4v2h-4zM611 313h4v2h-4zM635 313h4v2h-4zM641 313h2v2h-2zM493 335h2v2h-2zM517 335h2v2h-2zM521 335h2v2h-2zM553 335h2v2h-2z"/>
<path fill="#0000a8" d="M491 313h2v2h-2zM497 313h2v2h-2zM523 313h2v2h-2zM583 313h2v2h-2zM483 315h6v2h-6zM499 315h10v2h-10zM515 315h4v2h-4zM521 315h2v2h-2zM529 315h4v2h-4zM537 315h10v2h-10zM553 315h2v2h-2zM559 315h22v2h-22zM591 315h2v2h-2zM597 315h2v2h-2zM603 315h8v2h-8zM615 315h8v2h-8zM627 315h8v2h-8zM639 315h2v2h-2zM643 315h10v2h-10zM551 335h2v2h-2z"/>
<path fill="#0000b0" d="M509 313h4v2h-4zM525 313h2v2h-2zM533 313h4v2h-4zM549 313h2v2h-2zM585 313h4v2h-4zM623 313h4v2h-4zM489 315h2v2h-2zM493 315h2v2h-2zM513 315h2v2h-2zM519 315h2v2h-2zM527 315h2v2h-2zM547 315h2v2h-2zM551 315h2v2h-2zM581 315h2v2h-2zM589 315h2v2h-2zM599 315h4v2h-4zM611 315h4v2h-4zM635 315h4v2h-4zM641 315h2v2h-2zM483 317h6v2h-6zM505 317h2v2h-2zM515 317h2v2h-2zM543 317h4v2h-4zM553 317h2v2h-2zM559 317h2v2h-2zM565 317h16v2h-16zM603 317h2v2h-2zM609 317h2v2h-2zM615 317h2v2h-2zM633 317h2v2h-2zM645 317h8v2h-8zM505 319h2v2h-2zM543 319h4v2h-4zM565 319h16v2h-16zM645 319h8v2h-8zM545 321h2v2h-2zM567 321h12v2h-12zM645 321h8v2h-8zM507 335h2v2h-2zM523 335h2v2h-2zM543 335h2v2h-2zM603 335h2v2h-2zM635 335h4v2h-4zM483 369h40v2h-40z"/>
<path fill="#0000b8" d="M491 315h2v2h-2zM495 315h2v2h-2zM523 315h2v2h-2zM555 315h4v2h-4zM593 315h4v2h-4zM489 317h2v2h-2zM499 317h6v2h-6zM507 317h2v2h-2zM517 317h2v2h-2zM521 317h2v2h-2zM529 317h4v2h-4zM537 317h6v2h-6zM561 317h4v2h-4zM581 317h2v2h-2zM591 317h2v2h-2zM597 317h2v2h-2zM605 317h4v2h-4zM617 317h6v2h-6zM627 317h6v2h-6zM639 317h2v2h-2zM643 317h2v2h-2zM483 319h6v2h-6zM507 319h2v2h-2zM537 319h2v2h-2zM553 319h2v2h-2zM559 319h2v2h-2zM597 319h2v2h-2zM603 319h2v2h-2zM609 319h2v2h-2zM615 319h2v2h-2zM621 319h2v2h-2zM627 319h2v2h-2zM633 319h2v2h-2zM483 321h6v2h-6zM505 321h2v2h-2zM543 321h2v2h-2zM565 321h2v2h-2zM579 321h2v2h-2zM545 323h2v2h-2zM567 323h12v2h-12zM645 323h8v2h-8zM505 333h2v2h-2zM545 333h2v2h-2zM615 333h2v2h-2zM621 333h2v2h-2zM627 333h2v2h-2zM633 333h2v2h-2zM495 335h2v2h-2zM515 335h2v2h-2zM611 335h4v2h-4zM617 335h4v2h-4zM623 335h4v2h-4zM629 335h4v2h-4zM483 345h62v2h-62zM621 345h32v2h-32zM483 353h72v2h-72zM483 355h62v2h-62zM635 355h18v2h-18zM483 357h48v2h-48zM645 357h8v2h-8zM523 369h12v2h-12zM641 369h12v2h-12z"/>
<path fill="#0000c0" d="M497 315h2v2h-2zM583 315h2v2h-2zM493 317h2v2h-2zM513 317h2v2h-2zM519 317h2v2h-2zM527 317h2v2h-2zM547 317h2v2h-2zM551 317h2v2h-2zM589 317h2v2h-2zM499 319h2v2h-2zM503 319h2v2h-2zM515 319h4v2h-4zM521 319h2v2h-2zM531 319h2v2h-2zM539 319h4v2h-4zM561 319h4v2h-4zM581 319h2v2h-2zM591 319h2v2h-2zM643 319h2v2h-2zM507 321h2v2h-2zM537 321h2v2h-2zM553 321h2v2h-2zM559 321h2v2h-2zM597 321h2v2h-2zM603 321h2v2h-2zM609 321h2v2h-2zM615 321h2v2h-2zM621 321h2v2h-2zM627 321h2v2h-2zM633 321h2v2h-2zM483 323h6v2h-6zM505 323h2v2h-2zM543 323h2v2h-2zM553 323h2v2h-2zM565 323h2v2h-2zM579 323h2v2h-2zM545 325h2v2h-2zM567 325h12v2h-12zM645 325h8v2h-8zM499 333h2v2h-2zM537 333h2v2h-2zM553 333h2v2h-2zM559 333h2v2h-2zM609 333h2v2h-2zM639 333h2v2h-2zM501 335h4v2h-4zM533 335h4v2h-4zM547 335h2v2h-2zM641 335h2v2h-2zM545 345h2v2h-2zM615 345h6v2h-6zM555 353h6v2h-6zM639 353h14v2h-14zM545 355h12v2h-12zM621 355h14v2h-14zM531 357h12v2h-12zM633 357h12v2h-12zM535 369h12v2h-12zM629 369h12v2h-12z"/>
<path fill="#0000c8" d="M509 315h4v2h-4zM525 315h2v2h-2zM533 315h4v2h-4zM549 315h2v2h-2zM587 315h2v2h-2zM623 315h4v2h-4zM495 317h2v2h-2zM599 317h4v2h-4zM611 317h4v2h-4zM635 317h4v2h-4zM641 317h2v2h-2zM489 319h2v2h-2zM493 319h2v2h-2zM501 319h2v2h-2zM529 319h2v2h-2zM605 319h4v2h-4zM617 319h4v2h-4zM629 319h4v2h-4zM639 319h2v2h-2zM499 321h2v2h-2zM517 321h2v2h-2zM591 321h2v2h-2zM643 321h2v2h-2zM507 323h2v2h-2zM559 323h2v2h-2zM597 323h2v2h-2zM603 323h2v2h-2zM609 323h2v2h-2zM615 323h2v2h-2zM621 323h2v2h-2zM627 323h2v2h-2zM633 323h2v2h-2zM483 325h6v2h-6zM505 325h4v2h-4zM543 325h2v2h-2zM565 325h2v2h-2zM579 325h2v2h-2zM545 327h2v2h-2zM567 327h10v2h-10zM645 327h8v2h-8zM507 333h2v2h-2zM517 333h2v2h-2zM521 333h2v2h-2zM531 333h2v2h-2zM543 333h2v2h-2zM497 335h2v2h-2zM519 335h2v2h-2zM539 335h2v2h-2zM561 335h2v2h-2zM607 335h2v2h-2zM547 345h2v2h-2zM613 345h2v2h-2zM561 353h2v2h-2zM627 353h12v2h-12zM557 355h4v2h-4zM617 355h4v2h-4zM543 357h8v2h-8zM625 357h8v2h-8zM547 369h8v2h-8zM621 369h8v2h-8zM483 375h92v2h-92zM601 375h52v2h-52zM483 377h84v2h-84zM609 377h44v2h-44zM483 379h84v2h-84zM609 379h44v2h-44zM483 381h84v2h-84zM609 381h44v2h-44zM483 383h84v2h-84zM609 383h44v2h-44z"/>
<path fill="#0000d0" d="M585 315h2v2h-2zM523 317h2v2h-2zM555 317h4v2h-4zM593 317h4v2h-4zM513 319h2v2h-2zM527 319h2v2h-2zM547 319h2v2h-2zM551 319h2v2h-2zM589 319h2v2h-2zM489 321h2v2h-2zM515 321h2v2h-2zM521 321h2v2h-2zM531 321h2v2h-2zM581 321h2v2h-2zM639 321h2v2h-2zM537 323h2v2h-2zM591 323h2v2h-2zM553 325h2v2h-2zM559 325h2v2h-2zM603 325h2v2h-2zM609 325h2v2h-2zM615 325h2v2h-2zM621 325h2v2h-2zM627 325h2v2h-2zM633 325h2v2h-2zM483 327h6v2h-6zM505 327h4v2h-4zM543 327h2v2h-2zM553 327h2v2h-2zM565 327h2v2h-2zM577 327h2v2h-2zM545 329h2v2h-2zM567 329h6v2h-6zM645 329h8v2h-8zM545 331h2v2h-2zM645 331h8v2h-8zM493 333h2v2h-2zM551 333h2v2h-2zM603 333h2v2h-2zM611 333h4v2h-4zM635 333h4v2h-4zM529 335h2v2h-2zM557 335h2v2h-2zM605 335h2v2h-2zM549 345h2v2h-2zM611 345h2v2h-2zM483 347h64v2h-64zM645 347h8v2h-8zM483 351h70v2h-70zM619 353h8v2h-8zM561 355h2v2h-2zM615 355h2v2h-2zM551 357h4v2h-4zM621 357h4v2h-4zM555 369h8v2h-8zM615 369h6v2h-6zM575 375h26v2h-26zM567 377h42v2h-42zM567 379h42v2h-42zM567 381h42v2h-42zM567 383h42v2h-42z"/>
<path fill="#0000d8" d="M491 317h2v2h-2zM497 317h2v2h-2zM583 317h2v2h-2zM495 319h2v2h-2zM519 319h2v2h-2zM641 319h2v2h-2zM493 321h2v2h-2zM501 321h4v2h-4zM539 321h4v2h-4zM561 321h4v2h-4zM607 321h2v2h-2zM617 321h4v2h-4zM629 321h4v2h-4zM499 323h2v2h-2zM517 323h2v2h-2zM521 323h2v2h-2zM581 323h2v2h-2zM643 323h2v2h-2zM537 325h2v2h-2zM591 325h2v2h-2zM597 325h2v2h-2zM537 327h2v2h-2zM559 327h2v2h-2zM579 327h2v2h-2zM603 327h2v2h-2zM609 327h2v2h-2zM615 327h2v2h-2zM621 327h2v2h-2zM627 327h2v2h-2zM633 327h2v2h-2zM483 329h6v2h-6zM505 329h4v2h-4zM543 329h2v2h-2zM553 329h2v2h-2zM565 329h2v2h-2zM573 329h4v2h-4zM609 329h2v2h-2zM615 329h2v2h-2zM621 329h2v2h-2zM627 329h2v2h-2zM633 329h2v2h-2zM483 331h6v2h-6zM505 331h4v2h-4zM543 331h2v2h-2zM553 331h2v2h-2zM567 331h4v2h-4zM609 331h2v2h-2zM615 331h2v2h-2zM621 331h2v2h-2zM627 331h2v2h-2zM633 331h2v2h-2zM483 333h6v2h-6zM547 333h2v2h-2zM619 333h2v2h-2zM623 333h4v2h-4zM629 333h4v2h-4zM643 333h10v2h-10zM483 335h6v2h-6zM491 335h2v2h-2zM643 335h10v2h-10zM483 343h62v2h-62zM619 343h34v2h-34zM547 347h4v2h-4zM633 347h12v2h-12zM553 351h6v2h-6zM563 353h2v2h-2zM615 353h4v2h-4zM613 355h2v2h-2zM555 357h4v2h-4zM617 357h4v2h-4zM563 369h4v2h-4zM609 369h6v2h-6z"/>
<path fill="#0000e8" d="M509 317h4v2h-4zM525 317h2v2h-2zM533 317h4v2h-4zM549 317h2v2h-2zM623 317h4v2h-4zM491 319h2v2h-2zM523 319h2v2h-2zM495 321h2v2h-2zM515 323h2v2h-2zM547 323h2v2h-2zM551 323h2v2h-2zM489 325h2v2h-2zM517 325h2v2h-2zM521 325h2v2h-2zM639 325h2v2h-2zM499 327h2v2h-2zM591 327h2v2h-2zM639 327h2v2h-2zM499 329h2v2h-2zM579 329h2v2h-2zM597 329h2v2h-2zM639 329h2v2h-2zM499 331h2v2h-2zM517 331h2v2h-2zM521 331h2v2h-2zM575 331h2v2h-2zM489 333h2v2h-2zM501 333h4v2h-4zM515 333h2v2h-2zM519 333h2v2h-2zM533 333h4v2h-4zM539 333h2v2h-2zM571 333h2v2h-2zM605 333h4v2h-4zM509 335h2v2h-2zM525 335h2v2h-2zM549 335h2v2h-2zM567 335h2v2h-2zM597 335h2v2h-2zM547 343h2v2h-2zM611 343h2v2h-2zM551 347h2v2h-2zM615 347h4v2h-4zM549 349h4v2h-4zM645 351h8v2h-8zM565 353h2v2h-2zM611 353h2v2h-2zM561 357h2v2h-2zM519 359h12v2h-12zM645 359h8v2h-8zM571 369h2v2h-2zM603 369h2v2h-2z"/>
<path fill="#0000f0" d="M585 317h2v2h-2zM497 319h2v2h-2zM583 319h2v2h-2zM513 321h2v2h-2zM519 321h2v2h-2zM593 321h4v2h-4zM599 321h4v2h-4zM611 321h4v2h-4zM635 321h4v2h-4zM641 321h2v2h-2zM501 323h4v2h-4zM527 323h2v2h-2zM539 323h4v2h-4zM561 323h4v2h-4zM605 323h4v2h-4zM617 323h4v2h-4zM629 323h4v2h-4zM493 325h2v2h-2zM531 325h2v2h-2zM547 325h2v2h-2zM551 325h2v2h-2zM581 325h2v2h-2zM489 327h2v2h-2zM517 327h2v2h-2zM521 327h2v2h-2zM489 329h2v2h-2zM517 329h2v2h-2zM521 329h2v2h-2zM489 331h2v2h-2zM493 331h2v2h-2zM531 331h2v2h-2zM547 331h2v2h-2zM551 331h2v2h-2zM577 331h2v2h-2zM611 331h4v2h-4zM635 331h4v2h-4zM497 333h2v2h-2zM527 333h2v2h-2zM561 333h2v2h-2zM573 333h2v2h-2zM597 333h2v2h-2zM601 333h2v2h-2zM563 335h2v2h-2zM569 335h2v2h-2zM599 335h2v2h-2zM499 337h2v2h-2zM505 337h2v2h-2zM531 337h2v2h-2zM537 337h2v2h-2zM545 337h2v2h-2zM615 337h2v2h-2zM621 337h2v2h-2zM627 337h2v2h-2zM633 337h2v2h-2zM639 337h2v2h-2zM549 343h2v2h-2zM607 345h2v2h-2zM553 347h2v2h-2zM613 347h2v2h-2zM553 349h4v2h-4zM563 351h2v2h-2zM641 351h4v2h-4zM565 355h2v2h-2zM613 357h2v2h-2zM531 359h8v2h-8zM637 359h8v2h-8zM573 369h4v2h-4zM599 369h4v2h-4z"/>
<path fill="#0000e0" d="M587 317h2v2h-2zM555 319h4v2h-4zM593 319h4v2h-4zM599 319h4v2h-4zM611 319h4v2h-4zM635 319h4v2h-4zM527 321h4v2h-4zM547 321h2v2h-2zM551 321h2v2h-2zM589 321h2v2h-2zM605 321h2v2h-2zM489 323h2v2h-2zM493 323h2v2h-2zM531 323h2v2h-2zM639 323h2v2h-2zM499 325h2v2h-2zM643 325h2v2h-2zM597 327h2v2h-2zM643 327h2v2h-2zM537 329h2v2h-2zM559 329h2v2h-2zM577 329h2v2h-2zM603 329h2v2h-2zM643 329h2v2h-2zM537 331h2v2h-2zM559 331h2v2h-2zM565 331h2v2h-2zM571 331h4v2h-4zM603 331h2v2h-2zM639 331h2v2h-2zM643 331h2v2h-2zM495 333h2v2h-2zM523 333h2v2h-2zM565 333h6v2h-6zM617 333h2v2h-2zM641 333h2v2h-2zM489 335h2v2h-2zM527 335h2v2h-2zM541 335h2v2h-2zM555 335h2v2h-2zM565 335h2v2h-2zM601 335h2v2h-2zM545 343h2v2h-2zM613 343h6v2h-6zM551 345h2v2h-2zM609 345h2v2h-2zM619 347h14v2h-14zM483 349h66v2h-66zM559 351h4v2h-4zM613 353h2v2h-2zM563 355h2v2h-2zM611 355h2v2h-2zM559 357h2v2h-2zM615 357h2v2h-2zM483 359h36v2h-36zM567 369h4v2h-4zM605 369h4v2h-4z"/>
<path fill="#0000ff" d="M509 319h2v2h-2zM533 319h4v2h-4zM587 319h2v2h-2zM529 323h2v2h-2zM595 323h2v2h-2zM635 323h2v2h-2zM515 325h2v2h-2zM527 325h2v2h-2zM607 325h2v2h-2zM617 325h4v2h-4zM629 325h4v2h-4zM581 327h2v2h-2zM591 329h2v2h-2zM611 329h2v2h-2zM527 331h2v2h-2zM579 331h2v2h-2zM601 331h2v2h-2zM605 331h4v2h-4zM491 333h2v2h-2zM555 333h2v2h-2zM563 333h2v2h-2zM575 333h2v2h-2zM495 337h2v2h-2zM507 337h2v2h-2zM515 337h2v2h-2zM523 337h2v2h-2zM543 337h2v2h-2zM547 337h2v2h-2zM613 337h2v2h-2zM617 337h4v2h-4zM623 337h4v2h-4zM629 337h4v2h-4zM641 337h2v2h-2zM551 343h2v2h-2zM555 347h2v2h-2zM559 349h4v2h-4zM641 349h4v2h-4zM565 351h2v2h-2zM635 351h2v2h-2zM567 353h2v2h-2zM543 359h4v2h-4zM629 359h4v2h-4zM511 367h6v2h-6zM579 369h2v2h-2zM595 369h2v2h-2zM483 371h74v2h-74zM619 371h34v2h-34z"/>
<path fill="#0008ff" d="M511 319h2v2h-2zM549 319h2v2h-2zM491 321h2v2h-2zM623 321h4v2h-4zM519 323h2v2h-2zM593 323h2v2h-2zM599 323h4v2h-4zM611 323h4v2h-4zM637 323h2v2h-2zM641 323h2v2h-2zM495 325h2v2h-2zM501 325h4v2h-4zM539 325h4v2h-4zM561 325h4v2h-4zM605 325h2v2h-2zM611 325h4v2h-4zM635 325h2v2h-2zM495 327h2v2h-2zM527 327h2v2h-2zM601 327h2v2h-2zM611 327h4v2h-4zM617 327h4v2h-4zM629 327h4v2h-4zM635 327h4v2h-4zM495 329h2v2h-2zM527 329h2v2h-2zM599 329h4v2h-4zM607 329h2v2h-2zM617 329h4v2h-4zM623 329h4v2h-4zM629 329h4v2h-4zM501 331h4v2h-4zM523 331h2v2h-2zM535 331h2v2h-2zM539 331h4v2h-4zM561 331h2v2h-2zM599 331h2v2h-2zM549 333h2v2h-2zM573 335h2v2h-2zM497 337h2v2h-2zM501 337h4v2h-4zM519 337h2v2h-2zM529 337h2v2h-2zM533 337h4v2h-4zM539 337h2v2h-2zM611 337h2v2h-2zM607 343h2v2h-2zM609 347h2v2h-2zM563 349h2v2h-2zM637 349h4v2h-4zM631 351h4v2h-4zM567 355h2v2h-2zM565 357h2v2h-2zM547 359h2v2h-2zM627 359h2v2h-2zM483 361h24v2h-24zM517 367h4v2h-4zM581 369h4v2h-4zM591 369h4v2h-4zM557 371h12v2h-12zM607 371h12v2h-12z"/>
<path fill="#0010ff" d="M525 319h2v2h-2zM497 321h2v2h-2zM583 321h2v2h-2zM523 323h2v2h-2zM555 323h4v2h-4zM593 325h4v2h-4zM599 325h4v2h-4zM637 325h2v2h-2zM503 327h2v2h-2zM539 327h4v2h-4zM599 327h2v2h-2zM605 327h4v2h-4zM623 327h4v2h-4zM605 329h2v2h-2zM641 329h2v2h-2zM509 331h2v2h-2zM515 331h2v2h-2zM519 331h2v2h-2zM533 331h2v2h-2zM563 331h2v2h-2zM511 333h2v2h-2zM525 333h2v2h-2zM577 333h2v2h-2zM483 337h10v2h-10zM527 337h2v2h-2zM541 337h2v2h-2zM557 337h2v2h-2zM561 337h2v2h-2zM643 337h10v2h-10zM553 343h2v2h-2zM555 345h2v2h-2zM605 345h2v2h-2zM557 347h4v2h-4zM635 349h2v2h-2zM625 351h6v2h-6zM609 357h2v2h-2zM549 359h4v2h-4zM623 359h4v2h-4zM507 361h10v2h-10zM521 367h4v2h-4zM585 369h6v2h-6zM569 371h8v2h-8zM599 371h8v2h-8z"/>
<path fill="#0018ff" d="M585 319h2v2h-2zM509 321h2v2h-2zM533 321h4v2h-4zM513 323h2v2h-2zM623 323h4v2h-4zM523 325h2v2h-2zM589 325h2v2h-2zM623 325h4v2h-4zM641 325h2v2h-2zM501 327h2v2h-2zM515 327h2v2h-2zM561 327h4v2h-4zM595 327h2v2h-2zM641 327h2v2h-2zM501 329h4v2h-4zM523 329h2v2h-2zM539 329h4v2h-4zM561 329h4v2h-4zM581 329h2v2h-2zM497 331h2v2h-2zM529 331h2v2h-2zM555 331h4v2h-4zM509 337h2v2h-2zM525 337h2v2h-2zM549 337h2v2h-2zM555 337h2v2h-2zM607 337h2v2h-2zM565 345h2v2h-2zM561 347h4v2h-4zM607 347h2v2h-2zM565 349h2v2h-2zM631 349h4v2h-4zM619 351h6v2h-6zM607 353h2v2h-2zM607 355h2v2h-2zM553 359h2v2h-2zM621 359h2v2h-2zM517 361h6v2h-6zM525 367h4v2h-4zM577 371h6v2h-6zM593 371h6v2h-6z"/>
<path fill="#0000f8" d="M623 319h4v2h-4zM523 321h2v2h-2zM555 321h4v2h-4zM495 323h2v2h-2zM589 323h2v2h-2zM493 327h2v2h-2zM531 327h2v2h-2zM547 327h2v2h-2zM551 327h2v2h-2zM493 329h2v2h-2zM531 329h2v2h-2zM547 329h2v2h-2zM551 329h2v2h-2zM613 329h2v2h-2zM635 329h4v2h-4zM495 331h2v2h-2zM597 331h2v2h-2zM617 331h4v2h-4zM623 331h4v2h-4zM629 331h4v2h-4zM641 331h2v2h-2zM509 333h2v2h-2zM529 333h2v2h-2zM541 333h2v2h-2zM557 333h2v2h-2zM599 333h2v2h-2zM511 335h4v2h-4zM571 335h2v2h-2zM493 337h2v2h-2zM517 337h2v2h-2zM521 337h2v2h-2zM551 337h4v2h-4zM559 337h2v2h-2zM609 337h2v2h-2zM635 337h4v2h-4zM609 343h2v2h-2zM553 345h2v2h-2zM611 347h2v2h-2zM557 349h2v2h-2zM645 349h8v2h-8zM637 351h4v2h-4zM609 353h2v2h-2zM609 355h2v2h-2zM563 357h2v2h-2zM611 357h2v2h-2zM539 359h4v2h-4zM633 359h4v2h-4zM483 367h28v2h-28zM577 369h2v2h-2zM597 369h2v2h-2z"/>
<path fill="#0028ff" d="M511 321h2v2h-2zM549 321h2v2h-2zM509 323h2v2h-2zM535 323h2v2h-2zM519 327h2v2h-2zM529 327h2v2h-2zM555 327h4v2h-4zM497 329h2v2h-2zM529 329h2v2h-2zM555 329h4v2h-4zM593 329h2v2h-2zM491 331h2v2h-2zM511 331h2v2h-2zM595 331h2v2h-2zM579 333h2v2h-2zM595 333h2v2h-2zM567 337h2v2h-2zM605 343h2v2h-2zM559 345h4v2h-4zM567 347h2v2h-2zM617 349h8v2h-8zM611 351h4v2h-4zM569 353h2v2h-2zM557 359h2v2h-2zM617 359h2v2h-2zM529 361h4v2h-4zM645 361h8v2h-8zM533 367h4v2h-4zM641 367h12v2h-12zM563 373h16v2h-16zM597 373h16v2h-16z"/>
<path fill="#0030ff" d="M525 321h2v2h-2zM587 321h2v2h-2zM533 323h2v2h-2zM497 325h2v2h-2zM509 325h2v2h-2zM533 325h4v2h-4zM497 327h2v2h-2zM509 327h2v2h-2zM533 327h4v2h-4zM525 331h2v2h-2zM549 331h2v2h-2zM581 331h2v2h-2zM593 331h2v2h-2zM569 337h2v2h-2zM557 343h2v2h-2zM563 343h6v2h-6zM567 349h2v2h-2zM613 349h4v2h-4zM569 355h2v2h-2zM607 357h2v2h-2zM559 359h2v2h-2zM615 359h2v2h-2zM533 361h2v2h-2zM641 361h4v2h-4zM537 367h4v2h-4zM635 367h6v2h-6zM579 373h18v2h-18z"/>
<path fill="#0060ff" d="M585 321h2v2h-2zM589 331h2v2h-2zM573 337h2v2h-2zM599 337h2v2h-2zM491 339h2v2h-2zM497 339h2v2h-2zM509 339h8v2h-8zM525 339h2v2h-2zM549 339h6v2h-6zM559 339h2v2h-2zM611 339h4v2h-4zM555 341h2v2h-2zM607 341h2v2h-2zM549 361h2v2h-2zM625 361h2v2h-2zM517 363h2v2h-2zM557 367h4v2h-4zM617 367h2v2h-2z"/>
<path fill="#0020ff" d="M491 323h2v2h-2zM497 323h2v2h-2zM519 325h2v2h-2zM529 325h2v2h-2zM555 325h4v2h-4zM523 327h2v2h-2zM593 327h2v2h-2zM509 329h2v2h-2zM515 329h2v2h-2zM519 329h2v2h-2zM533 329h4v2h-4zM595 329h2v2h-2zM591 331h2v2h-2zM513 333h2v2h-2zM575 335h2v2h-2zM511 337h4v2h-4zM563 337h4v2h-4zM603 337h4v2h-4zM555 343h2v2h-2zM557 345h2v2h-2zM563 345h2v2h-2zM567 345h2v2h-2zM565 347h2v2h-2zM625 349h6v2h-6zM567 351h2v2h-2zM615 351h4v2h-4zM567 357h2v2h-2zM555 359h2v2h-2zM619 359h2v2h-2zM523 361h6v2h-6zM529 367h4v2h-4zM583 371h10v2h-10zM483 373h80v2h-80zM613 373h40v2h-40z"/>
<path fill="#0040ff" d="M511 323h2v2h-2zM513 325h2v2h-2zM491 327h2v2h-2zM511 329h2v2h-2zM571 337h2v2h-2zM601 337h2v2h-2zM489 341h10v2h-10zM509 341h8v2h-8zM523 341h4v2h-4zM529 341h2v2h-2zM533 341h4v2h-4zM541 341h2v2h-2zM545 341h4v2h-4zM613 341h8v2h-8zM605 347h2v2h-2zM605 353h2v2h-2zM605 355h2v2h-2zM569 357h2v2h-2zM613 359h2v2h-2zM539 361h4v2h-4zM635 361h2v2h-2zM545 367h4v2h-4zM627 367h4v2h-4z"/>
<path fill="#0048ff" d="M525 323h2v2h-2zM549 323h2v2h-2zM583 323h2v2h-2zM511 325h2v2h-2zM511 327h2v2h-2zM525 329h2v2h-2zM549 329h2v2h-2zM589 329h2v2h-2zM513 331h2v2h-2zM591 333h4v2h-4zM549 341h4v2h-4zM611 341h2v2h-2zM569 343h2v2h-2zM603 345h2v2h-2zM609 349h2v2h-2zM569 351h2v2h-2zM563 359h2v2h-2zM543 361h2v2h-2zM631 361h4v2h-4zM483 363h24v2h-24zM549 367h4v2h-4zM625 367h2v2h-2z"/>
<path fill="#00f0ff" d="M585 323h2v2h-2zM599 339h2v2h-2zM573 351h2v2h-2zM573 359h2v2h-2zM621 363h2v2h-2zM547 365h2v2h-2zM629 365h2v2h-2z"/>
<path fill="#0098ff" d="M587 323h2v2h-2zM583 325h2v2h-2zM603 339h2v2h-2zM603 341h2v2h-2zM559 361h2v2h-2zM615 361h2v2h-2zM533 363h2v2h-2zM643 363h2v2h-2zM523 365h2v2h-2zM571 367h2v2h-2zM603 367h2v2h-2z"/>
<path fill="#0038ff" d="M491 325h2v2h-2zM589 327h2v2h-2zM491 329h2v2h-2zM577 335h2v2h-2zM595 335h2v2h-2zM483 341h6v2h-6zM499 341h10v2h-10zM517 341h6v2h-6zM527 341h2v2h-2zM531 341h2v2h-2zM537 341h4v2h-4zM543 341h2v2h-2zM621 341h32v2h-32zM559 343h4v2h-4zM569 345h2v2h-2zM611 349h2v2h-2zM609 351h2v2h-2zM561 359h2v2h-2zM535 361h4v2h-4zM637 361h4v2h-4zM541 367h4v2h-4zM631 367h4v2h-4z"/>
<path fill="#0058ff" d="M525 325h2v2h-2zM549 325h2v2h-2zM513 327h2v2h-2zM525 327h2v2h-2zM549 327h2v2h-2zM513 329h2v2h-2zM581 333h2v2h-2zM579 335h2v2h-2zM483 339h8v2h-8zM493 339h4v2h-4zM499 339h10v2h-10zM517 339h8v2h-8zM527 339h22v2h-22zM615 339h38v2h-38zM569 349h2v2h-2zM607 349h2v2h-2zM565 359h2v2h-2zM547 361h2v2h-2zM627 361h2v2h-2zM513 363h4v2h-4zM555 367h2v2h-2zM619 367h2v2h-2z"/>
<path fill="#d0ff30" d="M585 325h2v2h-2zM585 337h2v2h-2zM595 341h2v2h-2zM577 345h2v2h-2zM579 359h2v2h-2zM597 365h2v2h-2z"/>
<path fill="#20ffd8" d="M587 325h2v2h-2zM557 365h2v2h-2z"/>
<path fill="#00d8ff" d="M583 327h2v2h-2zM567 361h2v2h-2zM549 363h2v2h-2zM625 363h2v2h-2zM539 365h2v2h-2zM635 365h4v2h-4zM583 367h2v2h-2zM591 367h2v2h-2z"/>
<path fill="#ff8000" d="M585 327h2v2h-2zM593 343h2v2h-2zM579 353h2v2h-2zM591 359h2v2h-2zM587 361h2v2h-2z"/>
<path fill="#90ff68" d="M587 327h2v2h-2zM603 363h2v2h-2z"/>
<path fill="#00e8ff" d="M583 329h2v2h-2zM587 333h2v2h-2zM583 335h2v2h-2zM599 343h2v2h-2zM573 347h2v2h-2zM607 361h2v2h-2zM553 363h2v2h-2zM545 365h2v2h-2zM631 365h2v2h-2z"/>
<path fill="#ff9800" d="M585 329h2v2h-2zM595 353h2v2h-2zM585 363h2v2h-2z"/>
<path fill="#90ff70" d="M587 329h2v2h-2zM581 339h2v2h-2zM575 349h2v2h-2z"/>
<path fill="#00c8ff" d="M583 331h2v2h-2zM589 335h2v2h-2zM601 341h2v2h-2zM601 347h2v2h-2zM601 353h2v2h-2zM601 357h2v2h-2zM565 361h2v2h-2zM547 363h2v2h-2zM629 363h2v2h-2zM535 365h2v2h-2zM641 365h4v2h-4zM579 367h2v2h-2zM595 367h2v2h-2z"/>
<path fill="#c0ff40" d="M585 331h2v2h-2zM587 337h2v2h-2zM597 361h2v2h-2z"/>
<path fill="#40ffc0" d="M587 331h2v2h-2zM577 339h2v2h-2zM599 347h2v2h-2zM575 353h2v2h-2zM573 361h2v2h-2zM613 365h2v2h-2z"/>
<path fill="#00b8ff" d="M583 333h2v2h-2zM573 345h2v2h-2zM603 349h2v2h-2zM571 359h2v2h-2zM611 361h2v2h-2zM543 363h2v2h-2zM633 363h2v2h-2zM531 365h2v2h-2zM577 367h2v2h-2zM597 367h2v2h-2z"/>
<path fill="#00f8ff" d="M585 333h2v2h-2zM569 361h2v2h-2zM555 363h2v2h-2zM619 363h2v2h-2zM549 365h2v2h-2zM627 365h2v2h-2z"/>
<path fill="#0088ff" d="M589 333h2v2h-2zM569 339h2v2h-2zM605 339h2v2h-2zM569 341h2v2h-2zM571 347h2v2h-2zM571 351h2v2h-2zM603 357h2v2h-2zM557 361h2v2h-2zM617 361h2v2h-2zM529 363h2v2h-2zM517 365h4v2h-4zM569 367h2v2h-2z"/>
<path fill="#0090ff" d="M581 335h2v2h-2zM591 335h2v2h-2zM601 343h2v2h-2zM601 345h2v2h-2zM569 359h2v2h-2zM531 363h2v2h-2zM645 363h8v2h-8zM521 365h2v2h-2zM605 367h2v2h-2z"/>
<path fill="#18ffe0" d="M585 335h2v2h-2z"/>
<path fill="#18ffe8" d="M587 335h2v2h-2zM581 337h2v2h-2zM575 343h2v2h-2zM575 355h2v2h-2zM571 361h2v2h-2zM615 363h2v2h-2zM555 365h2v2h-2z"/>
<path fill="#0078ff" d="M593 335h2v2h-2zM597 337h2v2h-2zM567 339h2v2h-2zM607 339h2v2h-2zM605 341h2v2h-2zM603 347h2v2h-2zM605 351h2v2h-2zM603 353h2v2h-2zM603 355h2v2h-2zM525 363h2v2h-2zM511 365h4v2h-4zM565 367h2v2h-2zM609 367h2v2h-2z"/>
<path fill="#0080ff" d="M575 337h2v2h-2zM605 349h2v2h-2zM607 359h2v2h-2zM555 361h2v2h-2zM619 361h2v2h-2zM527 363h2v2h-2zM515 365h2v2h-2zM567 367h2v2h-2zM607 367h2v2h-2z"/>
<path fill="#00a8ff" d="M577 337h2v2h-2zM571 339h2v2h-2zM571 341h2v2h-2zM613 361h2v2h-2zM537 363h4v2h-4zM637 363h2v2h-2zM527 365h2v2h-2z"/>
<path fill="#00d0ff" d="M579 337h2v2h-2zM573 339h2v2h-2zM603 359h2v2h-2zM609 361h2v2h-2zM627 363h2v2h-2zM537 365h2v2h-2zM639 365h2v2h-2zM581 367h2v2h-2zM593 367h2v2h-2z"/>
<path fill="#80ff80" d="M583 337h2v2h-2zM599 349h2v2h-2zM577 359h2v2h-2z"/>
<path fill="#68ff98" d="M589 337h2v2h-2zM597 341h2v2h-2zM607 365h2v2h-2z"/>
<path fill="#20ffe0" d="M591 337h2v2h-2zM599 357h2v2h-2zM561 363h2v2h-2zM619 365h2v2h-2z"/>
<path fill="#00ffff" d="M593 337h2v2h-2zM599 345h2v2h-2zM601 351h2v2h-2zM625 365h2v2h-2z"/>
<path fill="#00c0ff" d="M595 337h2v2h-2zM601 339h2v2h-2zM573 353h2v2h-2zM601 355h2v2h-2zM545 363h2v2h-2zM631 363h2v2h-2zM533 365h2v2h-2zM645 365h8v2h-8z"/>
<path fill="#0068ff" d="M555 339h4v2h-4zM561 339h2v2h-2zM609 339h2v2h-2zM557 341h10v2h-10zM571 345h2v2h-2zM571 353h2v2h-2zM571 355h2v2h-2zM609 359h2v2h-2zM551 361h2v2h-2zM623 361h2v2h-2zM519 363h4v2h-4zM483 365h22v2h-22zM561 367h2v2h-2zM613 367h4v2h-4z"/>
<path fill="#0070ff" d="M563 339h4v2h-4zM567 341h2v2h-2zM571 343h2v2h-2zM571 357h2v2h-2zM567 359h2v2h-2zM553 361h2v2h-2zM621 361h2v2h-2zM523 363h2v2h-2zM505 365h6v2h-6zM563 367h2v2h-2zM611 367h2v2h-2z"/>
<path fill="#00fff8" d="M575 339h2v2h-2z"/>
<path fill="#48ffb8" d="M579 339h2v2h-2zM609 363h2v2h-2zM563 365h2v2h-2zM611 365h2v2h-2z"/>
<path fill="#ffb800" d="M583 339h2v2h-2zM581 341h2v2h-2zM577 349h2v2h-2z"/>
<path fill="#ff5800" d="M585 339h2v2h-2z"/>
<path fill="#ff6000" d="M587 339h2v2h-2zM585 359h2v2h-2z"/>
<path fill="#ffe000" d="M589 339h2v2h-2zM577 347h2v2h-2zM597 349h2v2h-2zM577 351h2v2h-2zM581 361h2v2h-2zM595 363h2v2h-2z"/>
<path fill="#a8ff58" d="M591 339h2v2h-2zM577 361h2v2h-2zM573 363h2v2h-2z"/>
<path fill="#a8ff50" d="M593 339h2v2h-2z"/>
<path fill="#78ff88" d="M595 339h2v2h-2zM575 351h2v2h-2zM599 351h2v2h-2zM605 363h2v2h-2zM605 365h2v2h-2z"/>
<path fill="#28ffd8" d="M597 339h2v2h-2zM599 355h2v2h-2zM603 361h2v2h-2zM613 363h2v2h-2zM617 365h2v2h-2z"/>
<path fill="#0050ff" d="M553 341h2v2h-2zM609 341h2v2h-2zM603 343h2v2h-2zM569 347h2v2h-2zM607 351h2v2h-2zM605 357h2v2h-2zM611 359h2v2h-2zM545 361h2v2h-2zM629 361h2v2h-2zM507 363h6v2h-6zM553 367h2v2h-2zM621 367h4v2h-4z"/>
<path fill="#00e0ff" d="M573 341h2v2h-2zM551 363h2v2h-2zM623 363h2v2h-2zM541 365h4v2h-4zM633 365h2v2h-2zM585 367h6v2h-6z"/>
<path fill="#28ffd0" d="M575 341h2v2h-2z"/>
<path fill="#88ff78" d="M577 341h2v2h-2zM597 357h2v2h-2zM599 361h2v2h-2zM571 363h2v2h-2zM571 365h2v2h-2z"/>
<path fill="#d8ff28" d="M579 341h2v2h-2zM599 363h2v2h-2z"/>
<path fill="#ff1000" d="M583 341h2v2h-2zM589 341h2v2h-2zM593 345h2v2h-2z"/>
<path fill="#b80000" d="M585 341h4v2h-4z"/>
<path fill="#ff8800" d="M591 341h2v2h-2zM589 361h2v2h-2z"/>
<path fill="#ffc800" d="M593 341h2v2h-2zM595 345h2v2h-2zM581 363h2v2h-2z"/>
<path fill="#08fff0" d="M599 341h2v2h-2z"/>
<path fill="#00b0ff" d="M573 343h2v2h-2zM603 351h2v2h-2zM573 355h2v2h-2zM573 357h2v2h-2zM563 361h2v2h-2zM541 363h2v2h-2zM635 363h2v2h-2zM529 365h2v2h-2zM575 367h2v2h-2zM599 367h2v2h-2z"/>
<path fill="#98ff68" d="M577 343h2v2h-2zM577 355h2v2h-2zM573 365h2v2h-2z"/>
<path fill="#ffd800" d="M579 343h2v2h-2zM581 359h2v2h-2z"/>
<path fill="#ff3800" d="M581 343h2v2h-2z"/>
<path fill="#b00000" d="M583 343h2v2h-2z"/>
<path fill="#800000" d="M585 343h4v2h-4zM583 345h10v2h-10zM581 347h12v2h-12zM581 349h14v2h-14zM581 351h12v2h-12zM583 353h10v2h-10zM585 355h6v2h-6z"/>
<path fill="#880000" d="M589 343h2v2h-2z"/>
<path fill="#f00000" d="M591 343h2v2h-2zM579 349h2v2h-2zM593 353h2v2h-2zM587 357h2v2h-2z"/>
<path fill="#e8ff18" d="M595 343h2v2h-2z"/>
<path fill="#60ffa0" d="M597 343h2v2h-2zM607 363h2v2h-2z"/>
<path fill="#30ffd0" d="M575 345h2v2h-2zM575 359h2v2h-2zM563 363h2v2h-2zM559 365h2v2h-2zM615 365h2v2h-2z"/>
<path fill="#ff7800" d="M579 345h2v2h-2z"/>
<path fill="#c80000" d="M581 345h2v2h-2zM583 355h2v2h-2z"/>
<path fill="#88ff70" d="M597 345h2v2h-2zM603 365h2v2h-2z"/>
<path fill="#70ff90" d="M575 347h2v2h-2zM575 361h2v2h-2zM569 363h2v2h-2z"/>
<path fill="#ff1800" d="M579 347h2v2h-2z"/>
<path fill="#a80000" d="M593 347h2v2h-2z"/>
<path fill="#ff6800" d="M595 347h2v2h-2z"/>
<path fill="#e0ff20" d="M597 347h2v2h-2zM579 357h2v2h-2zM579 361h2v2h-2zM595 365h2v2h-2z"/>
<path fill="#00a0ff" d="M571 349h2v2h-2zM605 359h2v2h-2zM561 361h2v2h-2zM535 363h2v2h-2zM639 363h4v2h-4zM525 365h2v2h-2zM573 367h2v2h-2zM601 367h2v2h-2z"/>
<path fill="#08fff8" d="M573 349h2v2h-2zM601 349h2v2h-2zM575 357h2v2h-2zM601 359h2v2h-2zM605 361h2v2h-2zM557 363h2v2h-2zM617 363h2v2h-2zM551 365h2v2h-2zM623 365h2v2h-2z"/>
<path fill="#ff2800" d="M595 349h2v2h-2z"/>
<path fill="#ff2000" d="M579 351h2v2h-2z"/>
<path fill="#900000" d="M593 351h2v2h-2z"/>
<path fill="#ff4000" d="M595 351h2v2h-2zM581 355h2v2h-2zM591 357h2v2h-2z"/>
<path fill="#fff000" d="M597 351h2v2h-2zM579 363h2v2h-2zM585 365h6v2h-6z"/>
<path fill="#d0ff28" d="M577 353h2v2h-2z"/>
<path fill="#d80000" d="M581 353h2v2h-2z"/>
<path fill="#c8ff38" d="M597 353h2v2h-2zM575 363h2v2h-2zM577 365h2v2h-2z"/>
<path fill="#38ffc8" d="M599 353h2v2h-2zM611 363h2v2h-2zM561 365h2v2h-2z"/>
<path fill="#ffd000" d="M579 355h2v2h-2zM595 355h2v2h-2zM593 361h2v2h-2z"/>
<path fill="#d00000" d="M591 355h2v2h-2z"/>
<path fill="#ff4800" d="M593 355h2v2h-2zM583 357h2v2h-2zM587 359h2v2h-2z"/>
<path fill="#a0ff60" d="M597 355h2v2h-2zM601 365h2v2h-2z"/>
<path fill="#68ff90" d="M577 357h2v2h-2z"/>
<path fill="#ffb000" d="M581 357h2v2h-2zM583 361h2v2h-2z"/>
<path fill="#ff0800" d="M585 357h2v2h-2z"/>
<path fill="#ff0000" d="M589 357h2v2h-2z"/>
<path fill="#ffa000" d="M593 357h2v2h-2zM591 363h2v2h-2z"/>
<path fill="#f8ff08" d="M595 357h2v2h-2zM595 361h2v2h-2zM597 363h2v2h-2zM593 365h2v2h-2z"/>
<path fill="#ff9000" d="M583 359h2v2h-2zM585 361h2v2h-2zM587 363h4v2h-4z"/>
<path fill="#ff5000" d="M589 359h2v2h-2z"/>
<path fill="#ffc000" d="M593 359h2v2h-2zM593 363h2v2h-2z"/>
<path fill="#f0ff10" d="M595 359h2v2h-2zM581 365h2v2h-2z"/>
<path fill="#98ff60" d="M597 359h2v2h-2z"/>
<path fill="#50ffb0" d="M599 359h2v2h-2z"/>
<path fill="#ffa800" d="M591 361h2v2h-2zM583 363h2v2h-2z"/>
<path fill="#58ffa8" d="M601 361h2v2h-2zM567 363h2v2h-2zM565 365h2v2h-2zM609 365h2v2h-2z"/>
<path fill="#10fff0" d="M559 363h2v2h-2zM553 365h2v2h-2zM621 365h2v2h-2z"/>
<path fill="#40ffb8" d="M565 363h2v2h-2z"/>
<path fill="#e8ff10" d="M577 363h2v2h-2z"/>
<path fill="#b0ff50" d="M601 363h2v2h-2zM575 365h2v2h-2z"/>
<path fill="#60ff98" d="M567 365h2v2h-2z"/>
<path fill="#70ff88" d="M569 365h2v2h-2z"/>
<path fill="#d8ff20" d="M579 365h2v2h-2z"/>
<path fill="#ffff00" d="M583 365h2v2h-2z"/>
<path fill="#fff800" d="M591 365h2v2h-2z"/>
<path fill="#b8ff48" d="M599 365h2v2h-2z"/></g></g>
<text x="461.30" y="346.01" font-size="9.2" text-anchor="middle" fill="#2e2e2e" textLength="61.50" lengthAdjust="spacingAndGlyphs" transform="rotate(-90 461.30 342.70)">Frequency (Hz)</text>
<line x1="489.00" y1="311.00" x2="489.00" y2="377.50" stroke="#8c8c8c" stroke-width="0.8"/>
<line x1="489.00" y1="377.10" x2="645.80" y2="377.10" stroke="#8c8c8c" stroke-width="0.8"/>
<line x1="487.50" y1="375.76" x2="489.00" y2="375.76" stroke="#8c8c8c" stroke-width="0.7"/>
<line x1="487.50" y1="372.77" x2="489.00" y2="372.77" stroke="#8c8c8c" stroke-width="0.7"/>
<line x1="487.50" y1="370.33" x2="489.00" y2="370.33" stroke="#8c8c8c" stroke-width="0.7"/>
<line x1="487.50" y1="368.27" x2="489.00" y2="368.27" stroke="#8c8c8c" stroke-width="0.7"/>
<line x1="487.50" y1="366.48" x2="489.00" y2="366.48" stroke="#8c8c8c" stroke-width="0.7"/>
<line x1="487.50" y1="364.91" x2="489.00" y2="364.91" stroke="#8c8c8c" stroke-width="0.7"/>
<line x1="486.50" y1="363.50" x2="489.00" y2="363.50" stroke="#8c8c8c" stroke-width="0.7"/>
<line x1="487.50" y1="354.23" x2="489.00" y2="354.23" stroke="#8c8c8c" stroke-width="0.7"/>
<line x1="487.50" y1="348.80" x2="489.00" y2="348.80" stroke="#8c8c8c" stroke-width="0.7"/>
<line x1="487.50" y1="344.96" x2="489.00" y2="344.96" stroke="#8c8c8c" stroke-width="0.7"/>
<line x1="487.50" y1="341.97" x2="489.00" y2="341.97" stroke="#8c8c8c" stroke-width="0.7"/>
<line x1="487.50" y1="339.53" x2="489.00" y2="339.53" stroke="#8c8c8c" stroke-width="0.7"/>
<line x1="487.50" y1="337.47" x2="489.00" y2="337.47" stroke="#8c8c8c" stroke-width="0.7"/>
<line x1="487.50" y1="335.68" x2="489.00" y2="335.68" stroke="#8c8c8c" stroke-width="0.7"/>
<line x1="487.50" y1="334.11" x2="489.00" y2="334.11" stroke="#8c8c8c" stroke-width="0.7"/>
<line x1="486.50" y1="332.70" x2="489.00" y2="332.70" stroke="#8c8c8c" stroke-width="0.7"/>
<line x1="487.50" y1="323.43" x2="489.00" y2="323.43" stroke="#8c8c8c" stroke-width="0.7"/>
<line x1="487.50" y1="318.00" x2="489.00" y2="318.00" stroke="#8c8c8c" stroke-width="0.7"/>
<line x1="487.50" y1="314.16" x2="489.00" y2="314.16" stroke="#8c8c8c" stroke-width="0.7"/>
<text x="471.92" y="335.80" font-size="8.6" fill="#2e2e2e" textLength="8.23" lengthAdjust="spacingAndGlyphs">10</text>
<text x="480.65" y="331.50" font-size="5.33" fill="#2e2e2e" textLength="2.55" lengthAdjust="spacingAndGlyphs">2</text>
<text x="471.92" y="366.60" font-size="8.6" fill="#2e2e2e" textLength="8.23" lengthAdjust="spacingAndGlyphs">10</text>
<text x="480.65" y="362.30" font-size="5.33" fill="#2e2e2e" textLength="2.55" lengthAdjust="spacingAndGlyphs">1</text>
<line x1="489.60" y1="377.10" x2="489.60" y2="379.30" stroke="#8c8c8c" stroke-width="0.7"/>
<text x="489.60" y="390.84" font-size="9" text-anchor="middle" fill="#2a2a2a" textLength="4.60" lengthAdjust="spacingAndGlyphs">0</text>
<line x1="527.55" y1="377.10" x2="527.55" y2="379.30" stroke="#8c8c8c" stroke-width="0.7"/>
<text x="527.55" y="390.84" font-size="9" text-anchor="middle" fill="#2a2a2a" textLength="11.51" lengthAdjust="spacingAndGlyphs">0.2</text>
<line x1="565.50" y1="377.10" x2="565.50" y2="379.30" stroke="#8c8c8c" stroke-width="0.7"/>
<text x="565.50" y="390.84" font-size="9" text-anchor="middle" fill="#2a2a2a" textLength="11.51" lengthAdjust="spacingAndGlyphs">0.4</text>
<line x1="603.45" y1="377.10" x2="603.45" y2="379.30" stroke="#8c8c8c" stroke-width="0.7"/>
<text x="603.45" y="390.84" font-size="9" text-anchor="middle" fill="#2a2a2a" textLength="11.51" lengthAdjust="spacingAndGlyphs">0.6</text>
<line x1="641.40" y1="377.10" x2="641.40" y2="379.30" stroke="#8c8c8c" stroke-width="0.7"/>
<text x="641.40" y="390.84" font-size="9" text-anchor="middle" fill="#2a2a2a" textLength="11.51" lengthAdjust="spacingAndGlyphs">0.8</text>
<text x="567.40" y="403.41" font-size="9.2" text-anchor="middle" fill="#2a2a2a" textLength="31.70" lengthAdjust="spacingAndGlyphs">Time (s)</text>
<rect x="665.40" y="324.80" width="7.10" height="41.80" fill="url(#cbj)"/>
<text x="668.30" y="321.82" font-size="8.4" text-anchor="middle" fill="#222" textLength="16.60" lengthAdjust="spacingAndGlyphs">0.04</text>
<text x="668.80" y="374.92" font-size="8.4" text-anchor="middle" fill="#222">0</text>
<text x="655.80" y="349.05" font-size="8.2" text-anchor="middle" fill="#222" textLength="47.00" lengthAdjust="spacingAndGlyphs" transform="rotate(-90 655.80 346.10)">Intensity (a.u.)</text>
</svg></body></html>
